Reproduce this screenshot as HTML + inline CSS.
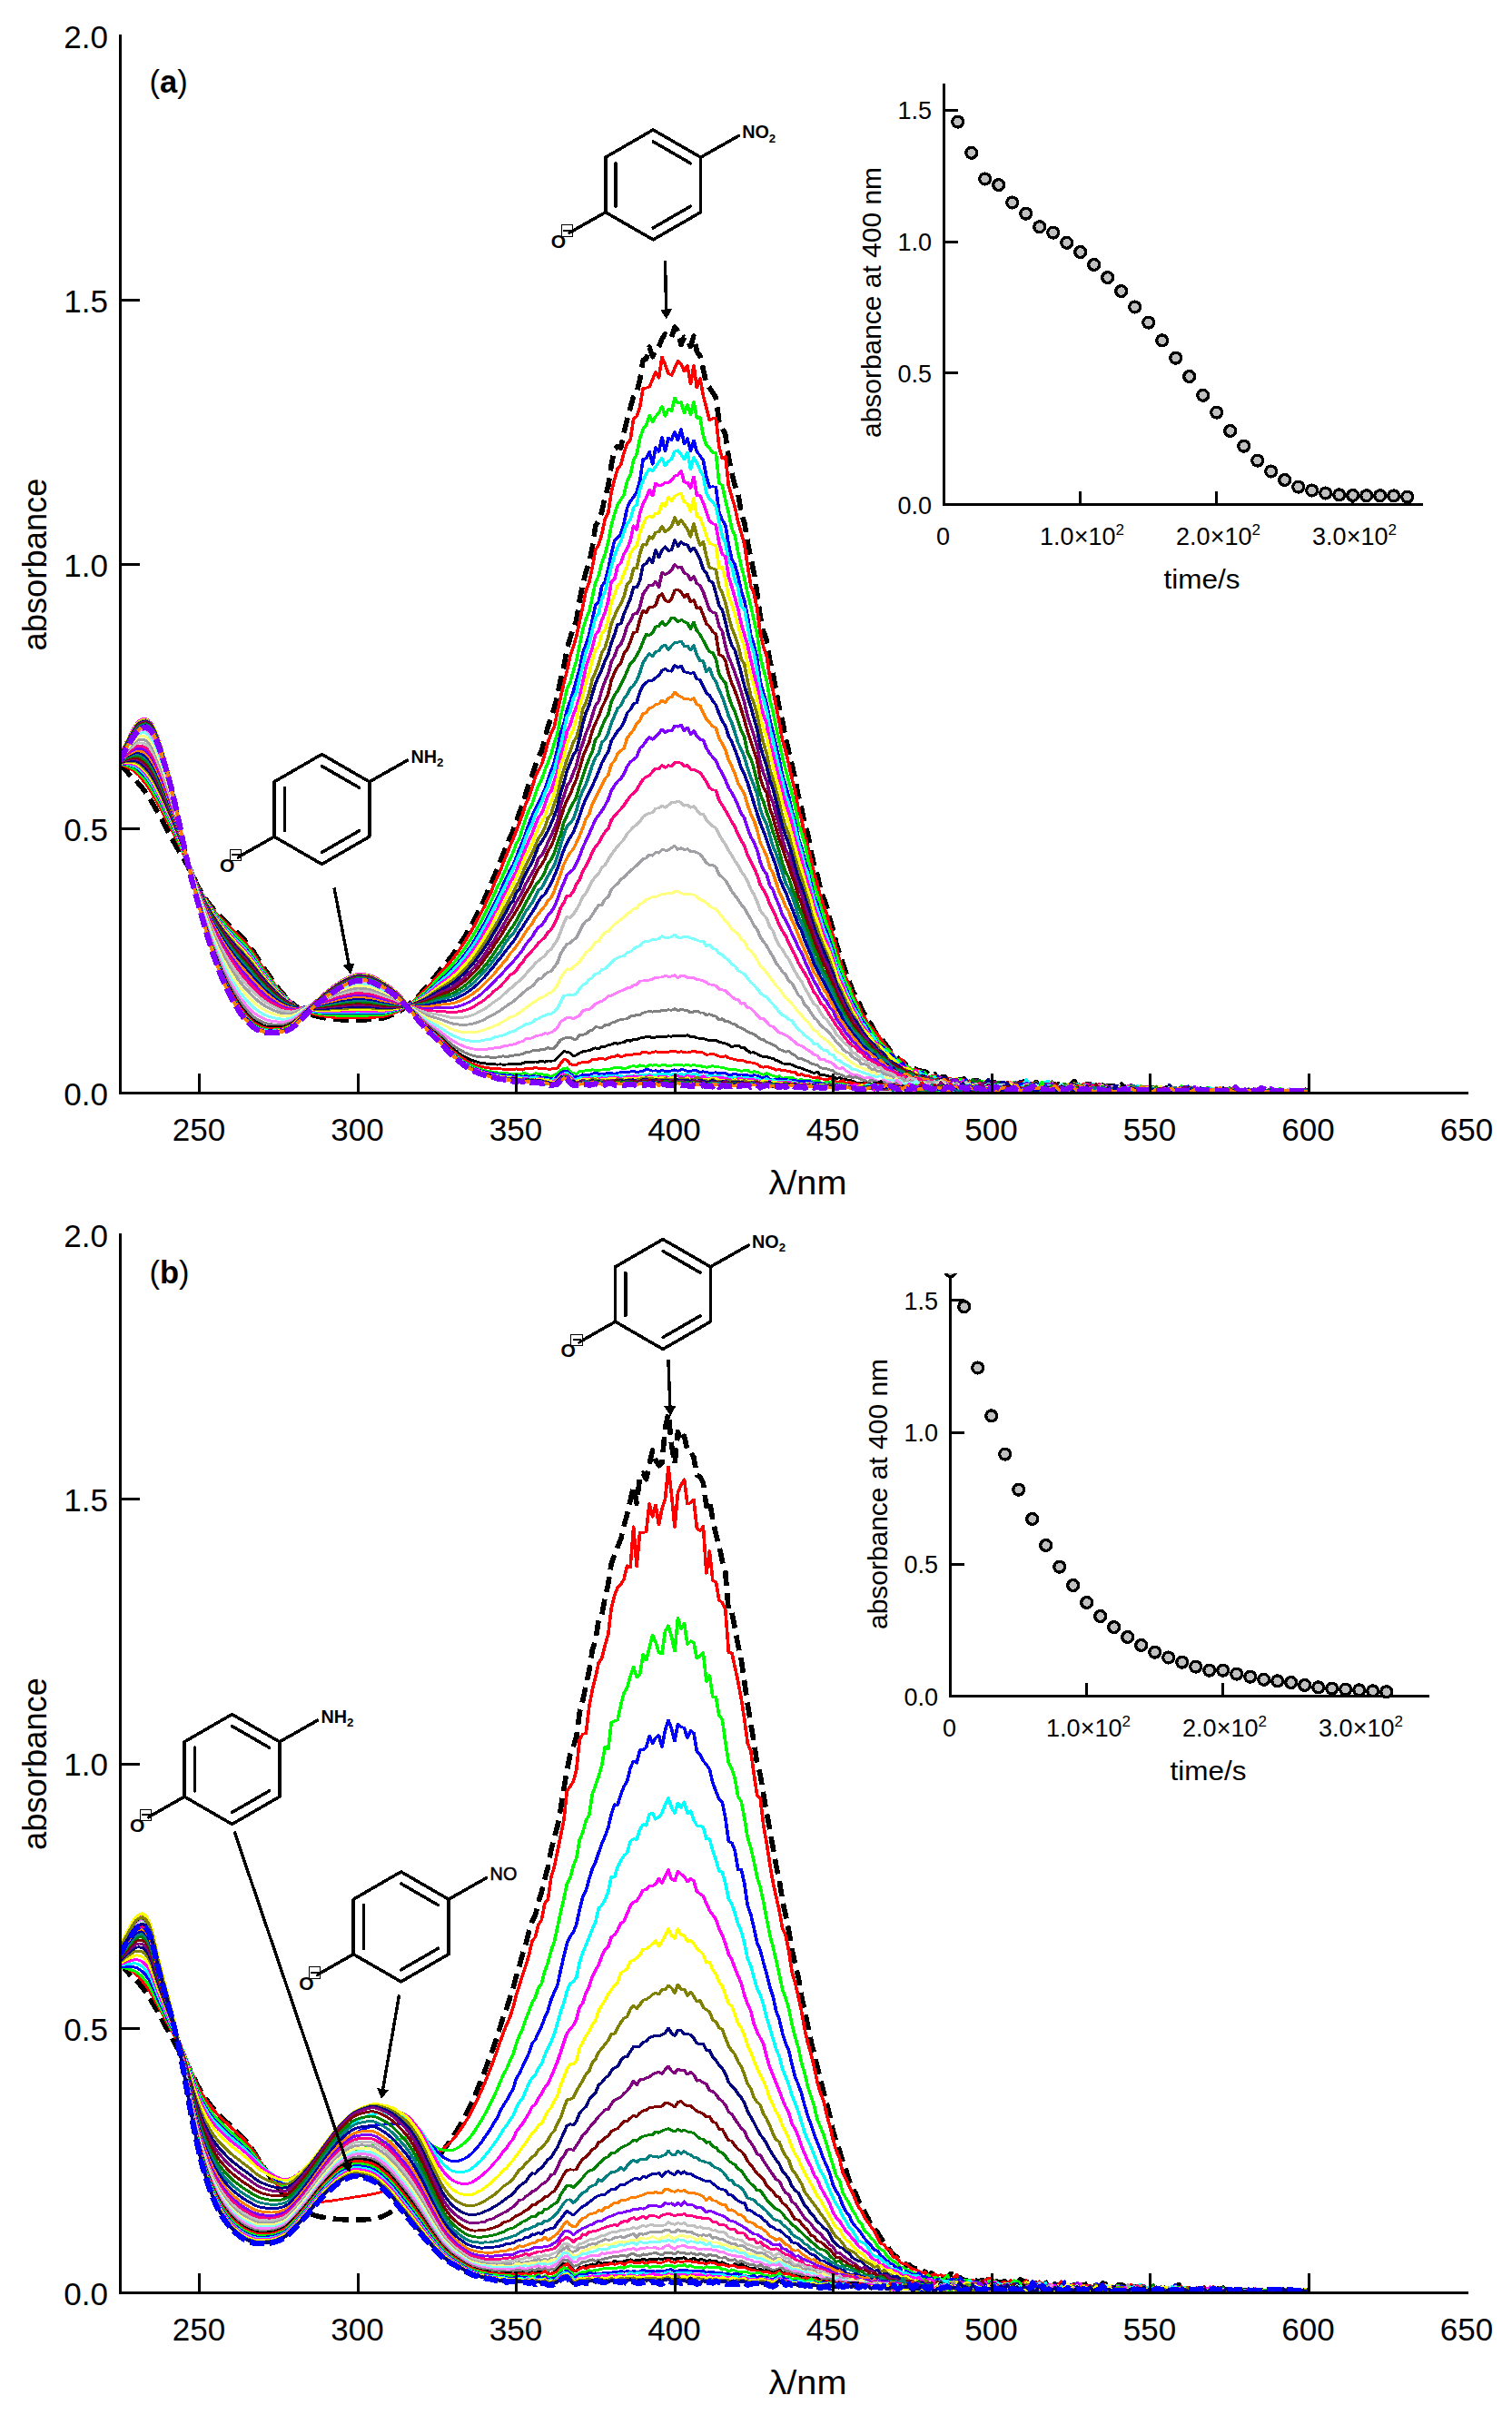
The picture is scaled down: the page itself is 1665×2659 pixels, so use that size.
<!DOCTYPE html>
<html lang="en"><head><meta charset="utf-8"><title>UV-vis spectra</title>
<style>html,body{margin:0;padding:0;background:#fff}svg{display:block}</style></head><body>
<svg width="1665" height="2659" viewBox="0 0 1665 2659">
<rect width="1665" height="2659" fill="#fff"/>
<clipPath id="cca"><rect x="134" y="39.5" width="1310" height="1162.5"/></clipPath>
<g fill="none" stroke-linejoin="round" shape-rendering="crispEdges" clip-path="url(#cca)">
<g>
<path stroke="#000000" stroke-width="5.6" stroke-dasharray="17 8" d="M132.2 842.7l3.5 2.1 3.5 4 3.5 4.4 3.5 3.5 3.5 2.9 3.5 3.7 3.5 4.4 3.5 4.6 3.5 5.1 3.5 5.6 3.4 6 3.5 6.1 3.5 6.3 3.5 6.6 3.5 6.5 3.5 6.5 3.5 6.3 3.5 6.5 3.5 5.4 3.4 5.9 3.5 6.2 3.5 6.2 3.5 6.5 3.5 8 3.5 6.8 3.5 5.8 3.5 5.3 3.5 4.8 3.5 4.4 3.5 4.2 3.4 3.8 3.5 3.4 3.5 3.2 3.5 3.3 3.5 3.4 3.5 3.3 3.5 3.3 3.5 3.4 3.5 3.6 3.4 4 3.5 4.4 3.5 5 3.5 5.4 3.5 5.5 3.5 5.5 3.5 5.2 3.5 5.1 3.5 5.1 3.5 5 3.5 4.6 3.4 4.1 3.5 3.8 3.5 3.6 3.5 3.4 3.5 3 3.5 2.7 3.5 2.1 3.5 1.9 3.5 1.6 3.4 1.5 3.5 1.3 3.5 1.1 3.5 0.8 3.5 0.7 3.5 0.6 3.5 0.6 3.5 0.4 3.5 0.4 3.5 0.2 3.5 0.2 3.4 0.1 3.5 0.2 3.5 0 3.5 0.1 3.5 0 3.5-0.1 3.5-0.2 3.5-0.2 3.5-0.2 3.4-0.4 3.5-0.3 3.5-0.4 3.5-0.6 3.5-1 3.5-1.3 3.5-1.4 3.5-1.6 3.5-1.8 3.5-2.1 3.5-2.5 3.4-2.8 3.5-2.9 3.5-3.1 3.5-3.4 3.5-3.7 3.5-3.8 3.5-4 3.5-4.2 3.5-4.4 3.4-4.4 3.5-4.3 3.5-4.2 3.5-4.1 3.5-4.2 3.5-4.6 3.5-4.9 3.5-5.3 3.5-5.3 3.5-5.8 3.5-6 3.4-6.1 3.5-6.7 3.5-6.9 3.5-6.7 3.5-7.8 3.5-8.1 3.5-8.6 3.5-7.3 3.5-9 3.4-8.6 3.5-8.8 3.5-8.1 3.5-8.9 3.5-7.4 3.5-10.4 3.5-9.8 3.5-8.8 3.5-12 3.5-11.1 3.5-8.8 3.4-10.3 3.5-9.7 3.5-7 3.5-12.7 3.5-13.8 3.5-11.1 3.5-9.8 3.5-13.8 3.5-17.7 3.4-13.8 3.5-19.3 3.5-12.2 3.5-10.7 3.5-9.1 3.5-22.3 3.5-17 3.5-14.2 3.5-10.1 3.5-16.9 3.5-23.5 3.4-5.3 3.5-9.8 3.5-16.5 3.5-11.6 3.5-23.3 3.5-17.8 3.5-3.1 3.5 1.8 3.5-17.1 3.5-13.9 3.4-13.4 3.5-12 3.5-4.2 3.5-14.1 3.5-22 3.5-1.1 3.5-13.3 3.5 10.6 3.5-8.1 3.5-3.2 3.4-8.4 3.5-4.9 3.5 4.2 3.5-0.8 3.5-11.3 3.5 4.3 3.5 15.2 3.5-8.5 3.5 3.2 3.4 7.1 3.5-11.3 3.5 16.9 3.5 4.7 3.5 14.8 3.5 15.7 3.5 4.7 3.5 5.4 3.5 5.5 3.5 26.6 3.5 7.1 3.4 6.7 3.5 25.3 3.5 17.3 3.5 13.9 3.5 8.7 3.5 21.5 3.5 10.8 3.5 21.4 3.5 17.3 3.4 15.9 3.5 22.4 3.5 26 3.5 16.2 3.5 9.6 3.5 22.9 3.5 14.3 3.5 19.3 3.5 19.3 3.5 13.6 3.5 19 3.4 14.6 3.5 14.1 3.5 15.7 3.5 18.8 3.5 13.4 3.5 17 3.5 12.4 3.5 18 3.5 16.2 3.4 10.3 3.5 15.1 3.5 10.3 3.5 9.8 3.5 13.6 3.5 11.5 3.5 15.5 3.5 10.3 3.5 10.3 3.5 10.7 3.5 9.3 3.4 10 3.5 6.4 3.5 6.6 3.5 8.2 3.5 6.3 3.5 7.4 3.5 3 3.5 7.1 3.5 5.1 3.4 3.2 3.5 4.1 3.5 4.6 3.5 5 3.5 3.3 3.5 3.5 3.5 4.9 3.5 0.4 3.5 3.9 3.5 0.6 3.5 3.2 3.4 0.4 3.5 1.9 3.5 0.3 3.5 0.5 3.5 2.8 3.5 2.3 3.5-2 3.5 5.3 3.5-1.8 3.4-0.9 3.5 2.7 3.5-1.8 3.5 4.4 3.5-0.2 3.5-2 3.5-0.3 3.5-0.3 3.5 2.7 3.5-0.6 3.5-0.5 3.4 0.9 3.5 4.3 3.5-1 3.5-4.9 3.5 6 3.5-3.3 3.5 2.2 3.5-2.8 3.5 4.3 3.4-2.2 3.5 4.8 3.5-4.2 3.5-2.5 3.5 5.7 3.5-5.7 3.5 4.1 3.5-1.1 3.5 5.8 3.5-8.6 3.5 4.9 3.4-1.2 3.5 2.5 3.5-1.1 3.5-4.1 3.5 3.8 3.5-2.1 3.5 0.8 3.5 0 3.5 1.7 3.4-2.1 3.5-4 3.5 3.8 3.5 0.5 3.5 2.4 3.5-3.5 3.5 0.1 3.5 5.4 3.5-0.6 3.5-6.4 3.5 3.6 3.4 0.7 3.5-0.6 3.5-0.3 3.5 0.3 3.5 2 3.5-3.7 3.5 3.2 3.5 1.8 3.5-1.1 3.4-0.6 3.5 1.7 3.5-0.9 3.5-0.3 3.5 4 3.5-2.4 3.5-2.9 3.5 1 3.5 1.9 3.5 0.3 3.5-1.8 3.4 1.7 3.5 0.5 3.5-3.6 3.5 3.5 3.5-2.3 3.5 1.7 3.5-0.5 3.5 2 3.5-0.8 3.5-1.8 3.4 2.8 3.5-1.2 3.5 1.4 3.5-1.6 3.5 0.9 3.5 1.2 3.5-3.2 3.5 2 3.5-1.3 3.5 1.9 3.4-1.8 3.5-2.1 3.5 3 3.5 1.5 3.5-1.4 3.5-0.2 3.5 1.4 3.5-0.3 3.5 0.2 3.4-1.2 3.5 1 3.5 0.5 3.5-2.1 3.5 1.8 3.5-2.9 3.5 3 3.5 0.2 3.5 0 3.5-0.6 3.5 0.5 3.4 0.1 3.5-1 3.5 1 3.5-1.8 3.5 1.2"/>
</g>
<g transform="scale(1.25 1)">
<path stroke="#ff0000" stroke-width="2.9" d="M105.8 842.3l2.8 0.7 2.8 1.2 2.8 1.8 2.8 2 2.8 2.5 2.8 3.4 2.7 4.1 2.8 4.4 2.8 4.9 2.8 5.5 2.8 6 2.8 6.2 2.8 6.4 2.8 6.7 2.8 6.7 2.8 6.7 2.8 6.6 2.8 6.8 2.7 7.1 2.8 7.7 2.8 7.9 2.8 7.9 2.8 8.1 2.8 8.1 2.8 7.1 2.8 6 2.8 5.5 2.8 5.1 2.8 4.7 2.8 4.3 2.8 4 2.7 3.6 2.8 3.4 2.8 3.4 2.8 3.5 2.8 3.5 2.8 3.4 2.8 3.4 2.8 3.7 2.8 3.9 2.8 4.4 2.8 4.9 2.8 5.3 2.7 5.4 2.8 5.3 2.8 5 2.8 4.9 2.8 4.9 2.8 4.8 2.8 4.4 2.8 4 2.8 3.6 2.8 3.4 2.8 3.2 2.8 2.9 2.8 2.4 2.7 2 2.8 1.6 2.8 1.5 2.8 1.3 2.8 1.2 2.8 0.9 2.8 0.7 2.8 0.6 2.8 0.5 2.8 0.5 2.8 0.4 2.8 0.2 2.7 0.2 2.8 0.1 2.8 0.2 2.8 0 2.8 0.1 2.8 0 2.8 0 2.8-0.1 2.8-0.1 2.8-0.1 2.8-0.2 2.8-0.2 2.8-0.3 2.7-0.3 2.8-0.5 2.8-0.8 2.8-1.1 2.8-1.3 2.8-1.4 2.8-1.5 2.8-1.9 2.8-2.3 2.8-2.5 2.8-2.6 2.8-2.9 2.7-3.1 2.8-3.3 2.8-3.5 2.8-3.6 2.8-4 2.8-4.1 2.8-4.1 2.8-4 2.8-3.8 2.8-3.8 2.8-3.9 2.8-4.2 2.8-4.6 2.7-4.9 2.8-5.1 2.8-5.4 2.8-5.6 2.8-5.9 2.8-6.4 2.8-6.4 2.8-7 2.8-6.7 2.8-7.7 2.8-7.3 2.8-9.1 2.7-6.9 2.8-8.3 2.8-9.1 2.8-8.3 2.8-9.2 2.8-7.5 2.8-9.2 2.8-9.3 2.8-9.3 2.8-11.2 2.8-7.5 2.8-10.7 2.8-11.4 2.7-6.9 2.8-6.7 2.8-11.3 2.8-13.3 2.8-9.7 2.8-7.6 2.8-16.7 2.8-15.6 2.8-15.2 2.8-13.9 2.8-16.2 2.8-10 2.7-11.9 2.8-16 2.8-16.8 2.8-17.1 2.8-9.3 2.8-16.8 2.8-19 2.8-5.6 2.8-12 2.8-16.5 2.8-6.6 2.8-23.2 2.8-13.6 2.7-11.9 2.8-4.4 2.8-13.3 2.8-9.7 2.8-4.3 2.8-23.4 2.8-2.7 2.8-9.8 2.8-20.8 2.8-0.6 2.8-1.4 2.8-7.8 2.7-8.5 2.8 6.7 2.8-23 2.8 8.4 2.8 9.8 2.8 2 2.8-8 2.8-7.8 2.8 3.2 2.8 8.2 2.8-6.3 2.8 20.1 2.8-20.3 2.7 24.6 2.8-10.5 2.8 19 2.8 13.6 2.8 13.8 2.8-2.1 2.8-0.6 2.8 32.2 2.8 12.4 2.8-2.1 2.8 32.3 2.8 11.9 2.7 11.4 2.8 16.5 2.8 11.8 2.8 12.4 2.8 23.7 2.8 22.2 2.8 8.6 2.8 16.8 2.8 27.4 2.8 14.4 2.8 10.3 2.8 23.5 2.8 14.8 2.7 16.6 2.8 17.8 2.8 19.9 2.8 11.6 2.8 15 2.8 16 2.8 13.7 2.8 19.5 2.8 11.1 2.8 17.9 2.8 12.9 2.8 14.6 2.7 14.8 2.8 11.1 2.8 14.4 2.8 10.3 2.8 8.5 2.8 13.4 2.8 10.9 2.8 13.2 2.8 12.9 2.8 10.8 2.8 9.3 2.8 7.8 2.8 9.8 2.7 5.8 2.8 7.1 2.8 8.6 2.8 4.4 2.8 7.1 2.8 3.4 2.8 4.7 2.8 2.9 2.8 5.5 2.8 5.6 2.8 3.8 2.8 4 2.7 4.9 2.8 4.1 2.8-0.6 2.8 1.7 2.8 6.2 2.8 1.8 2.8 2.6 2.8-0.3 2.8 1 2.8 4.2 2.8 0.2 2.8 2.3 2.8-0.7 2.7-0.2 2.8 0.1 2.8 2.7 2.8 2.4 2.8-2.9 2.8 0.2 2.8 3.2 2.8-0.8 2.8-0.1 2.8-1.1 2.8 2.4 2.8-0.8 2.7 0.7 2.8 2.6 2.8-2.9 2.8 1.9 2.8-1.5 2.8 3.9 2.8-0.6 2.8-1.5 2.8 4.3 2.8-3.2 2.8 1.3 2.8-0.7 2.8 0.2 2.7 4.1 2.8-5 2.8 0.4 2.8-2.2 2.8-0.7 2.8 2.6 2.8-1.1 2.8 6.3 2.8-5.3 2.8-1.7 2.8 1.5 2.8 0.9 2.7 1.5 2.8 0.4 2.8 0 2.8-2.2 2.8 0.8 2.8 1.3 2.8 2 2.8-5.9 2.8 5.2 2.8 3.8 2.8-7.3 2.8 0.1 2.8 2.3 2.7-1.8 2.8 1 2.8 2.3 2.8-1.1 2.8 2.5 2.8-0.9 2.8 1.1 2.8-2.1 2.8-1.4 2.8 3.2 2.8-2.3 2.8 4.7 2.7-2.4 2.8-2.5 2.8 0.6 2.8-0.5 2.8 0.3 2.8 4 2.8-1.6 2.8 2.7 2.8-3.1 2.8-0.7 2.8 1.4 2.8 1.8 2.8-2.5 2.7-0.2 2.8 0.6 2.8 1.4 2.8-1.9 2.8 0.7 2.8-0.7 2.8 0.1 2.8 0.3 2.8 2.8 2.8-1.9 2.8-0.1 2.8 0.6 2.7-1.3 2.8 2.5 2.8-2.9 2.8 0.9 2.8 0.6 2.8-0.3 2.8-0.8 2.8 1.3 2.8-1.5 2.8 0.9 2.8 1.1 2.8 0.1 2.8 0.7 2.7-0.5 2.8-0.3 2.8 0.9 2.8-2.6 2.8 1.7 2.8 0.9 2.8-0.8 2.8 0.4 2.8 0 2.8 0.4 2.8-0.3 2.8 0.3 2.7 0 2.8-1.2 2.8 1.2 2.8 0 2.8-1.2 2.8 1.2 2.8 0"/>
<path stroke="#00ff00" stroke-width="2.9" d="M105.8 841.9l2.8 0.2 2.8 0.8 2.8 1.3 2.8 1.6 2.8 2 2.8 3.1 2.7 3.7 2.8 4.1 2.8 4.7 2.8 5.3 2.8 6 2.8 6.2 2.8 6.6 2.8 6.9 2.8 7 2.8 7 2.8 7 2.8 7.2 2.7 7.5 2.8 8.2 2.8 8.3 2.8 8.2 2.8 8.4 2.8 8.3 2.8 7.3 2.8 6.3 2.8 5.9 2.8 5.4 2.8 4.9 2.8 4.7 2.8 4.2 2.7 3.8 2.8 3.7 2.8 3.6 2.8 3.7 2.8 3.5 2.8 3.6 2.8 3.5 2.8 3.7 2.8 3.9 2.8 4.3 2.8 4.8 2.8 5.1 2.7 5.2 2.8 5.1 2.8 4.8 2.8 4.7 2.8 4.7 2.8 4.5 2.8 4.2 2.8 3.8 2.8 3.3 2.8 3.2 2.8 3 2.8 2.6 2.8 2.2 2.7 1.7 2.8 1.4 2.8 1.2 2.8 1.2 2.8 0.9 2.8 0.8 2.8 0.5 2.8 0.5 2.8 0.4 2.8 0.3 2.8 0.3 2.8 0.2 2.7 0 2.8 0.1 2.8 0.1 2.8 0 2.8 0 2.8 0 2.8 0 2.8-0.1 2.8 0 2.8-0.1 2.8-0.1 2.8-0.1 2.8-0.2 2.7-0.1 2.8-0.4 2.8-0.7 2.8-0.9 2.8-1 2.8-1.2 2.8-1.2 2.8-1.6 2.8-2 2.8-2.1 2.8-2.3 2.8-2.4 2.7-2.7 2.8-2.9 2.8-3.1 2.8-3.3 2.8-3.5 2.8-3.7 2.8-3.7 2.8-3.6 2.8-3.4 2.8-3.4 2.8-3.5 2.8-3.8 2.8-4.2 2.7-4.5 2.8-4.7 2.8-5 2.8-5.2 2.8-5.3 2.8-5.9 2.8-6.3 2.8-6.3 2.8-6.6 2.8-7.4 2.8-7.6 2.8-7 2.7-8.2 2.8-6.4 2.8-8.3 2.8-7.9 2.8-8.5 2.8-7.6 2.8-9.1 2.8-6 2.8-11.8 2.8-10.3 2.8-9.7 2.8-6.2 2.8-10.7 2.7-9.6 2.8-6.5 2.8-10.1 2.8-8.6 2.8-9 2.8-12.4 2.8-10.6 2.8-19.1 2.8-14.1 2.8-16.1 2.8-7 2.8-12.9 2.7-10.8 2.8-17.2 2.8-17.3 2.8-11.5 2.8-8.4 2.8-15.7 2.8-16.3 2.8-7.4 2.8-14 2.8-9.8 2.8-13.3 2.8-18.3 2.8-12.8 2.7-9.9 2.8-5.7 2.8-5.4 2.8-14.9 2.8-6.7 2.8-16.3 2.8-6.4 2.8-17.6 2.8-10.4 2.8-4.3 2.8-10.8 2.8 7.5 2.7-6.3 2.8-3.9 2.8-7.2 2.8 10.8 2.8-7.9 2.8 2.4 2.8-14.5 2.8 5.8 2.8-1.1 2.8 12 2.8-9.1 2.8 11 2.8-14 2.7 17.4 2.8-0.4 2.8 19.7 2.8 10.6 2.8 3.5 2.8 4.6 2.8 0.5 2.8 33.1 2.8 2.6 2.8 16.1 2.8 14.9 2.8 16.7 2.7 7.5 2.8 18.4 2.8 15.2 2.8 13.6 2.8 16.5 2.8 14.3 2.8 15 2.8 15.5 2.8 25.5 2.8 13.8 2.8 11.6 2.8 22.1 2.8 12.2 2.7 17.4 2.8 16.7 2.8 16.3 2.8 13.8 2.8 13.3 2.8 12.8 2.8 14.6 2.8 18.9 2.8 9.9 2.8 11.3 2.8 17.2 2.8 14.8 2.7 13.9 2.8 10.5 2.8 13.1 2.8 9.8 2.8 11 2.8 9.2 2.8 11.5 2.8 13.3 2.8 10.1 2.8 9.4 2.8 10.3 2.8 5.7 2.8 10 2.7 6.2 2.8 7.8 2.8 8.2 2.8 4.5 2.8 4.4 2.8 5.7 2.8 4.7 2.8 5.1 2.8 4.3 2.8 3.2 2.8 3 2.8 3.5 2.7 3.6 2.8 3.9 2.8 2.3 2.8 2.6 2.8 2.4 2.8 2.2 2.8 1.6 2.8 3.2 2.8 1.3 2.8-2 2.8 1.1 2.8 8 2.8-3.8 2.7 0.8 2.8-0.2 2.8 5.9 2.8 0.1 2.8-2.3 2.8-0.8 2.8 3.8 2.8-4.4 2.8 0.5 2.8 0.7 2.8 0.4 2.8 4.1 2.7-2 2.8 4.8 2.8-6.4 2.8 0.3 2.8 2.1 2.8 2.1 2.8-1.8 2.8-1.2 2.8 4.5 2.8-2.9 2.8-0.4 2.8 2.5 2.8 0.1 2.7-3.7 2.8 0.6 2.8-0.9 2.8 2.2 2.8 2.7 2.8-1.6 2.8 1.2 2.8-1.3 2.8-0.7 2.8-2.6 2.8 3.7 2.8-3.9 2.7 6.7 2.8-1.9 2.8 0.4 2.8 2.7 2.8 0.1 2.8-2.5 2.8-1.1 2.8-0.5 2.8 0.7 2.8 1 2.8 2.5 2.8-3.4 2.8-2.1 2.7 1.9 2.8 2 2.8-1.6 2.8 0.1 2.8-1.3 2.8 3.3 2.8-1.2 2.8-0.3 2.8 1.7 2.8-0.2 2.8 0.2 2.8-0.5 2.7-0.9 2.8 2.6 2.8-0.5 2.8-3.3 2.8 3 2.8 2.5 2.8-5 2.8 2.5 2.8-0.3 2.8-0.6 2.8 1.9 2.8 1.8 2.8-0.8 2.7-1.5 2.8 0.3 2.8 0.7 2.8-4.4 2.8 3.5 2.8-1.5 2.8-0.9 2.8 2.1 2.8 1.8 2.8-0.7 2.8 0.2 2.8-2.8 2.7 0.7 2.8 2.9 2.8 0.3 2.8-2.1 2.8-1.1 2.8 3.5 2.8-3.5 2.8 2 2.8 0.1 2.8 0.7 2.8 1 2.8-0.4 2.8-2.5 2.7 2.9 2.8-0.2 2.8-0.8 2.8 1 2.8-0.5 2.8 0.5 2.8-2 2.8 0.8 2.8 1.2 2.8-1.9 2.8 1.9 2.8 0 2.7 0 2.8-1.3 2.8 1.3 2.8 0 2.8-0.7 2.8-0.6 2.8 1.1"/>
<path stroke="#0000ff" stroke-width="2.9" d="M105.8 841.4l2.8-0.1 2.8 0.4 2.8 0.8 2.8 1.2 2.8 1.6 2.8 2.7 2.7 3.4 2.8 3.8 2.8 4.5 2.8 5.2 2.8 5.9 2.8 6.4 2.8 6.7 2.8 7.1 2.8 7.2 2.8 7.3 2.8 7.4 2.8 7.6 2.7 8 2.8 8.5 2.8 8.8 2.8 8.5 2.8 8.6 2.8 8.5 2.8 7.6 2.8 6.6 2.8 6.1 2.8 5.7 2.8 5.3 2.8 4.8 2.8 4.5 2.7 4.1 2.8 3.9 2.8 3.7 2.8 3.8 2.8 3.8 2.8 3.6 2.8 3.6 2.8 3.7 2.8 3.9 2.8 4.3 2.8 4.7 2.8 5 2.7 5 2.8 4.9 2.8 4.6 2.8 4.4 2.8 4.5 2.8 4.3 2.8 4 2.8 3.5 2.8 3.2 2.8 2.9 2.8 2.8 2.8 2.3 2.8 2 2.7 1.4 2.8 1.2 2.8 1 2.8 1 2.8 0.7 2.8 0.6 2.8 0.5 2.8 0.3 2.8 0.2 2.8 0.3 2.8 0.1 2.8 0.1 2.7 0 2.8 0 2.8 0 2.8 0 2.8-0.1 2.8 0 2.8 0 2.8 0 2.8-0.1 2.8 0 2.8-0.1 2.8 0 2.8 0 2.7 0 2.8-0.2 2.8-0.5 2.8-0.8 2.8-0.8 2.8-1 2.8-0.9 2.8-1.4 2.8-1.6 2.8-1.8 2.8-1.9 2.8-2.1 2.7-2.3 2.8-2.6 2.8-2.7 2.8-2.9 2.8-3.2 2.8-3.3 2.8-3.3 2.8-3.2 2.8-3.1 2.8-3 2.8-3.1 2.8-3.4 2.8-3.7 2.7-4.2 2.8-4.3 2.8-4.5 2.8-4.8 2.8-4.9 2.8-5.6 2.8-5.9 2.8-6.2 2.8-5.8 2.8-7.1 2.8-6.5 2.8-7.2 2.7-7.1 2.8-7 2.8-8.4 2.8-7.2 2.8-7.9 2.8-5.6 2.8-8.7 2.8-8.9 2.8-8.5 2.8-9.1 2.8-10.2 2.8-8.7 2.8-7.6 2.7-7.2 2.8-6.8 2.8-7.6 2.8-10.3 2.8-10.2 2.8-9.6 2.8-14.2 2.8-18.6 2.8-9.4 2.8-15.3 2.8-9.5 2.8-11.3 2.7-11.7 2.8-12.8 2.8-17.9 2.8-8.6 2.8-10.9 2.8-16.7 2.8-16.1 2.8-3.4 2.8-17.5 2.8-5.2 2.8-13.1 2.8-17.6 2.8-14.4 2.7-2.9 2.8-4.2 2.8-11.9 2.8-16.7 2.8-7.4 2.8-4.6 2.8-5.4 2.8-12.5 2.8-23.8 2.8-0.8 2.8-7.4 2.8 13.8 2.7-18.9 2.8 5 2.8-16 2.8 15.1 2.8-14.2 2.8 2.2 2.8-9.1 2.8 9.6 2.8-12.5 2.8 16.3 2.8-5.8 2.8 13.7 2.8-11.7 2.7 12.6 2.8 4.2 2.8 5.1 2.8 17.7 2.8 11.8 2.8-0.5 2.8 0.5 2.8 28.3 2.8 7.9 2.8 5.9 2.8 21.4 2.8 15.7 2.7 6.3 2.8 12.3 2.8 16.7 2.8 10.7 2.8 16.8 2.8 21.1 2.8 10.3 2.8 15.5 2.8 25.5 2.8 12.2 2.8 11.6 2.8 17.7 2.8 14.2 2.7 14.6 2.8 15 2.8 17.3 2.8 11.6 2.8 11.9 2.8 15.8 2.8 12.8 2.8 16.9 2.8 10.4 2.8 14.2 2.8 11 2.8 15.3 2.7 13.7 2.8 8.3 2.8 13.4 2.8 10.4 2.8 7.4 2.8 10.6 2.8 11.1 2.8 14.4 2.8 8.1 2.8 9.6 2.8 7.3 2.8 9.1 2.8 7.2 2.7 5.5 2.8 7.1 2.8 6.6 2.8 4.4 2.8 5.3 2.8 7.4 2.8 1.1 2.8 8.1 2.8 1.9 2.8 2.2 2.8 7.3 2.8-0.2 2.7 1.8 2.8 5.9 2.8 5 2.8-2.9 2.8 6.9 2.8 2.4 2.8 1.8 2.8 1.1 2.8 1.5 2.8-4 2.8 6 2.8 3.2 2.8 0.6 2.7-1.3 2.8-3.6 2.8 6.1 2.8-1.5 2.8-1.7 2.8 2.4 2.8 1.1 2.8 0.5 2.8-1.3 2.8 2.3 2.8-3.9 2.8 6.7 2.7-5.6 2.8 0 2.8 2.6 2.8 1.4 2.8-2.8 2.8 3.8 2.8-1.1 2.8 2 2.8-2.4 2.8 2.5 2.8 0.1 2.8-3.4 2.8 2 2.7-0.6 2.8-3.1 2.8 7.8 2.8-3 2.8-1.1 2.8-2.7 2.8 5.3 2.8-2.6 2.8-0.5 2.8 2.8 2.8-0.3 2.8-1.4 2.7 1.3 2.8-1.8 2.8 0.1 2.8 1.2 2.8-1.1 2.8 0.5 2.8 0.6 2.8 1.5 2.8-4.5 2.8 5.5 2.8-2.1 2.8-1.8 2.8 7 2.7-3.8 2.8 2.3 2.8-3.2 2.8-0.9 2.8 2.5 2.8-1.3 2.8-0.4 2.8 2.2 2.8-0.6 2.8 1.5 2.8-3 2.8 1.6 2.7-3.5 2.8 0.6 2.8 5.5 2.8-3.1 2.8 0.5 2.8-0.4 2.8-0.1 2.8 0.8 2.8-1.6 2.8 0.5 2.8 0.8 2.8 2.4 2.8-3 2.7 3.8 2.8-3.6 2.8 0.8 2.8 1.3 2.8-1.2 2.8-3.2 2.8 4 2.8 0.3 2.8 0 2.8-1.2 2.8-0.8 2.8 2.1 2.7-1.9 2.8 2.3 2.8-1.6 2.8 0.8 2.8 2 2.8-1.7 2.8-1.3 2.8 2.1 2.8 1 2.8-0.1 2.8-0.6 2.8-0.9 2.8 0.8 2.7-0.7 2.8 1.5 2.8 0 2.8-1.5 2.8 1.3 2.8-1.3 2.8-1 2.8 2.5 2.8 0 2.8-0.6 2.8-0.9 2.8 1.3 2.7 0.1 2.8-1.7 2.8 1.3 2.8 0.5 2.8 0 2.8 0 2.8-0.3"/>
<path stroke="#00ffff" stroke-width="2.9" d="M105.8 841.3l2.8-0.4 2.8 0.2 2.8 0.7 2.8 1 2.8 1.5 2.8 2.5 2.7 3.3 2.8 3.7 2.8 4.4 2.8 5.2 2.8 5.9 2.8 6.4 2.8 6.8 2.8 7.1 2.8 7.3 2.8 7.4 2.8 7.6 2.8 7.8 2.7 8.1 2.8 8.7 2.8 8.9 2.8 8.7 2.8 8.7 2.8 8.6 2.8 7.6 2.8 6.8 2.8 6.2 2.8 5.8 2.8 5.4 2.8 5 2.8 4.6 2.7 4.1 2.8 4 2.8 3.8 2.8 3.9 2.8 3.8 2.8 3.6 2.8 3.7 2.8 3.7 2.8 3.9 2.8 4.3 2.8 4.7 2.8 4.9 2.7 4.9 2.8 4.8 2.8 4.5 2.8 4.4 2.8 4.3 2.8 4.2 2.8 4 2.8 3.4 2.8 3.1 2.8 2.9 2.8 2.6 2.8 2.3 2.8 1.8 2.7 1.4 2.8 1 2.8 1 2.8 0.8 2.8 0.7 2.8 0.6 2.8 0.3 2.8 0.3 2.8 0.2 2.8 0.2 2.8 0.1 2.8 0 2.7 0 2.8-0.1 2.8 0 2.8 0 2.8-0.1 2.8-0.1 2.8 0 2.8 0 2.8 0 2.8 0 2.8 0 2.8 0 2.8 0.1 2.7 0 2.8-0.2 2.8-0.4 2.8-0.7 2.8-0.8 2.8-0.8 2.8-0.9 2.8-1.2 2.8-1.5 2.8-1.7 2.8-1.8 2.8-1.9 2.7-2.2 2.8-2.4 2.8-2.5 2.8-2.8 2.8-3 2.8-3.2 2.8-3.1 2.8-3.1 2.8-2.9 2.8-2.8 2.8-3 2.8-3.3 2.8-3.6 2.7-3.9 2.8-4.2 2.8-4.3 2.8-4.8 2.8-4.9 2.8-5.1 2.8-5.5 2.8-6 2.8-6.1 2.8-6.2 2.8-7 2.8-6.9 2.7-6.9 2.8-6.8 2.8-7.5 2.8-7.4 2.8-8 2.8-6.2 2.8-8.4 2.8-8.1 2.8-7.9 2.8-10.8 2.8-8.2 2.8-6.7 2.8-10.3 2.7-7.2 2.8-6.2 2.8-9.9 2.8-7 2.8-10.7 2.8-8.2 2.8-13.5 2.8-12.4 2.8-16.7 2.8-16 2.8-5.6 2.8-14.7 2.7-6.2 2.8-15.4 2.8-14.3 2.8-14.8 2.8-8.9 2.8-15.1 2.8-13.9 2.8-4.8 2.8-15.6 2.8-8.5 2.8-14.1 2.8-14 2.8-11.2 2.7-9.5 2.8-6.4 2.8-10.7 2.8-9.1 2.8-4 2.8-13.5 2.8-2.9 2.8-17.1 2.8-9.4 2.8-7.5 2.8-5.8 2.8 2.4 2.7-4.7 2.8-4.9 2.8-4.6 2.8 8.6 2.8-4.9 2.8-2.4 2.8-8.5 2.8-1.2 2.8 4.4 2.8 5.6 2.8-7.9 2.8 18.7 2.8-12.9 2.7 5.8 2.8 7.8 2.8 6.8 2.8 18.5 2.8 6.7 2.8 3.1 2.8 5.3 2.8 16.3 2.8 16.1 2.8 7.9 2.8 19.8 2.8 5.1 2.7 15.9 2.8 8 2.8 21.2 2.8 2.1 2.8 19 2.8 19.2 2.8 10.5 2.8 20.7 2.8 20.6 2.8 9.4 2.8 13.4 2.8 19.4 2.8 12.7 2.7 16 2.8 15.6 2.8 12.5 2.8 15.8 2.8 10.3 2.8 12 2.8 13.5 2.8 15.8 2.8 11.7 2.8 15.6 2.8 7.7 2.8 16.9 2.7 12 2.8 11 2.8 10.5 2.8 11 2.8 8.7 2.8 9.6 2.8 10.9 2.8 11.5 2.8 9.2 2.8 8.4 2.8 9.2 2.8 8.1 2.8 8.8 2.7 5.2 2.8 5 2.8 8.8 2.8 2.7 2.8 7.4 2.8 2.8 2.8 3.7 2.8 6 2.8 4.1 2.8 2.3 2.8 3.3 2.8 5.6 2.7 1.1 2.8 2.9 2.8 4.7 2.8 3.1 2.8 0.1 2.8 2.4 2.8 3.7 2.8 1.1 2.8-3.9 2.8 3 2.8 1.1 2.8 4.2 2.8-0.9 2.7-1.3 2.8 4.6 2.8-0.7 2.8 0.4 2.8 0.6 2.8-2.1 2.8 4 2.8-1.7 2.8 0 2.8-0.1 2.8 0.9 2.8 3.3 2.7-0.1 2.8 1.3 2.8-3.7 2.8-0.1 2.8 0.6 2.8-3 2.8 4.1 2.8-2.2 2.8 1.9 2.8-1.3 2.8 3.9 2.8-1.9 2.8 2 2.7 0.6 2.8 1.9 2.8-6.2 2.8 1.2 2.8-5.1 2.8 6.1 2.8-0.6 2.8 2.4 2.8-3.7 2.8 3.1 2.8-4.6 2.8-1.2 2.7 9.2 2.8-2.1 2.8 2 2.8-2.4 2.8 1.9 2.8-3.2 2.8-2.1 2.8 2.4 2.8-2.5 2.8 2.1 2.8-0.6 2.8-1.6 2.8 5.2 2.7-5 2.8 4.7 2.8 0.1 2.8-2.7 2.8 3.3 2.8 0.4 2.8-2.6 2.8 1.6 2.8 0.7 2.8 0.5 2.8-0.1 2.8-1.7 2.7 0.1 2.8 1 2.8-3.3 2.8 1.8 2.8 3.7 2.8-3 2.8 1.8 2.8-0.4 2.8-3.6 2.8 1 2.8 2 2.8-0.4 2.8 3.6 2.7-3.4 2.8-0.1 2.8 2.5 2.8 0.5 2.8-2.6 2.8 0 2.8 1.2 2.8-0.8 2.8 1 2.8-1.7 2.8 0 2.8 2.1 2.7-2.7 2.8 3.6 2.8 0.1 2.8-0.9 2.8-1 2.8 0.7 2.8-0.1 2.8 1.6 2.8-2.8 2.8 2 2.8 0.3 2.8 0.5 2.8-3.4 2.7 3.4 2.8 0 2.8-1.8 2.8 0.8 2.8-0.8 2.8 0.9 2.8 0.9 2.8-0.1 2.8-2.8 2.8 2 2.8 0.1 2.8-0.2 2.7-0.5 2.8 0.7 2.8 0.1 2.8 0.6 2.8-0.6 2.8 0.3 2.8-0.8"/>
<path stroke="#ff00ff" stroke-width="2.9" d="M105.8 841l2.8-0.7 2.8 0 2.8 0.4 2.8 0.7 2.8 1.2 2.8 2.3 2.7 3.1 2.8 3.5 2.8 4.2 2.8 5.1 2.8 5.9 2.8 6.6 2.8 6.8 2.8 7.3 2.8 7.5 2.8 7.5 2.8 7.9 2.8 8 2.7 8.5 2.8 9 2.8 9.1 2.8 8.9 2.8 8.8 2.8 8.8 2.8 7.8 2.8 6.9 2.8 6.5 2.8 6 2.8 5.6 2.8 5.1 2.8 4.8 2.7 4.3 2.8 4.1 2.8 4 2.8 3.9 2.8 3.9 2.8 3.7 2.8 3.7 2.8 3.8 2.8 3.9 2.8 4.2 2.8 4.7 2.8 4.7 2.7 4.8 2.8 4.7 2.8 4.4 2.8 4.2 2.8 4.2 2.8 4 2.8 3.8 2.8 3.4 2.8 2.9 2.8 2.7 2.8 2.5 2.8 2.1 2.8 1.7 2.7 1.1 2.8 0.9 2.8 0.9 2.8 0.7 2.8 0.6 2.8 0.4 2.8 0.2 2.8 0.2 2.8 0.1 2.8 0.1 2.8 0 2.8 0 2.7-0.1 2.8-0.1 2.8-0.1 2.8-0.1 2.8 0 2.8-0.1 2.8-0.1 2.8 0.1 2.8 0 2.8 0 2.8 0 2.8 0.1 2.8 0.1 2.7 0.1 2.8 0 2.8-0.4 2.8-0.5 2.8-0.6 2.8-0.7 2.8-0.7 2.8-1.1 2.8-1.3 2.8-1.5 2.8-1.5 2.8-1.7 2.7-1.9 2.8-2.2 2.8-2.3 2.8-2.5 2.8-2.8 2.8-2.9 2.8-2.9 2.8-2.8 2.8-2.7 2.8-2.5 2.8-2.7 2.8-3.1 2.8-3.3 2.7-3.7 2.8-3.9 2.8-4.1 2.8-4.4 2.8-4.7 2.8-5 2.8-5.2 2.8-5.6 2.8-6.3 2.8-6 2.8-6.3 2.8-6.2 2.7-5.7 2.8-7.8 2.8-8.2 2.8-4.8 2.8-8.8 2.8-6 2.8-6.6 2.8-9.7 2.8-7.6 2.8-8.7 2.8-8.6 2.8-6.9 2.8-9.7 2.7-8.3 2.8-4.2 2.8-9.1 2.8-11.1 2.8-4.5 2.8-11.2 2.8-10.7 2.8-17.4 2.8-9.7 2.8-16.8 2.8-7.2 2.8-11.3 2.7-8.2 2.8-11.3 2.8-16.2 2.8-16.6 2.8-10.3 2.8-11.2 2.8-14 2.8-4.4 2.8-11.8 2.8-8.5 2.8-12.6 2.8-21.6 2.8-2.2 2.7-14.7 2.8-3.4 2.8-9.8 2.8-6.1 2.8-8.4 2.8-16.6 2.8 4.5 2.8-17.9 2.8-11.1 2.8-5.9 2.8-9.2 2.8 6.6 2.7-13.9 2.8 2.8 2.8-0.8 2.8-2.6 2.8 0.1 2.8-2.5 2.8-5 2.8-0.8 2.8-4.6 2.8 12.4 2.8 0.2 2.8 6.1 2.8-12.3 2.7 20.4 2.8 0.4 2.8 7.7 2.8 9.9 2.8 10.5 2.8 2.6 2.8 1.5 2.8 20.2 2.8 12.1 2.8 2.6 2.8 21.8 2.8 11.5 2.7 11.7 2.8 12.6 2.8 16.6 2.8 11.3 2.8 12.1 2.8 16 2.8 14.8 2.8 13.7 2.8 19.3 2.8 12.9 2.8 9.6 2.8 21.7 2.8 10.9 2.7 14.9 2.8 12.8 2.8 15.2 2.8 11.6 2.8 10.9 2.8 13 2.8 16.3 2.8 11.2 2.8 11.6 2.8 14 2.8 11.7 2.8 11.7 2.7 13.7 2.8 9.8 2.8 11.3 2.8 9.9 2.8 7.9 2.8 10.3 2.8 9.1 2.8 14.4 2.8 8 2.8 5.7 2.8 10.8 2.8 6.9 2.8 7.3 2.7 6.2 2.8 5.5 2.8 8.1 2.8 3.4 2.8 4.7 2.8 6.6 2.8 3.2 2.8 1.8 2.8 5.2 2.8 3.6 2.8 2.5 2.8 4.2 2.7 5.6 2.8 0.2 2.8 2.4 2.8 2.1 2.8 0.5 2.8 2.9 2.8 3.7 2.8-3.7 2.8 5.6 2.8 3 2.8-0.8 2.8 3.1 2.8-0.1 2.7-0.8 2.8 2.6 2.8-4.4 2.8 2.6 2.8 1.7 2.8 0.1 2.8 0.5 2.8 0.1 2.8 1.8 2.8-3.2 2.8 5.9 2.8-4.1 2.7-0.3 2.8 0.3 2.8-0.9 2.8 4.4 2.8-2.7 2.8 4.7 2.8-1.6 2.8 1.3 2.8-4.1 2.8 6.3 2.8-6.1 2.8 1.3 2.8 1.8 2.7 1.6 2.8-2.5 2.8-5.1 2.8 9.4 2.8-3.3 2.8-2 2.8 0.4 2.8-0.5 2.8 2.5 2.8-1.4 2.8 3.2 2.8-4.9 2.7 3.7 2.8 0.3 2.8-2 2.8 0.6 2.8-1.3 2.8 3 2.8 0.1 2.8-0.7 2.8 0.1 2.8 0.4 2.8-1 2.8-0.6 2.8 1.4 2.7-1.7 2.8 0.4 2.8-0.9 2.8 2.5 2.8 0.4 2.8-0.5 2.8-2.6 2.8 0.3 2.8 2.4 2.8 2 2.8-3 2.8-1 2.7-1.2 2.8 2.1 2.8 4.4 2.8-0.8 2.8-0.3 2.8-3.3 2.8 2.9 2.8-1.8 2.8 3.5 2.8-3.7 2.8 1 2.8 2.8 2.8-1.2 2.7 0.4 2.8-1.1 2.8 1.2 2.8-0.3 2.8-0.1 2.8 0.1 2.8-0.8 2.8 0.4 2.8 1.7 2.8-0.6 2.8 0.3 2.8-1.1 2.7-0.2 2.8 1.9 2.8-0.5 2.8-0.9 2.8-0.8 2.8-0.1 2.8 0.5 2.8-0.9 2.8-0.8 2.8 1.7 2.8-1.1 2.8 2.9 2.8-1.7 2.7 1.7 2.8-0.1 2.8 0.1 2.8 0 2.8-1.1 2.8 1.1 2.8-1.2 2.8 1.2 2.8-2.8 2.8 2.2 2.8 0.6 2.8 0 2.7 0 2.8 0 2.8-0.5 2.8 0.5 2.8 0 2.8-1.2 2.8 1.1"/>
<path stroke="#ffff00" stroke-width="2.9" d="M105.8 840.7l2.8-0.9 2.8-0.3 2.8 0.1 2.8 0.5 2.8 1 2.8 2 2.7 2.9 2.8 3.3 2.8 4.2 2.8 5 2.8 5.9 2.8 6.6 2.8 7 2.8 7.3 2.8 7.7 2.8 7.7 2.8 8.1 2.8 8.3 2.7 8.7 2.8 9.3 2.8 9.4 2.8 9 2.8 9 2.8 8.9 2.8 8 2.8 7.1 2.8 6.7 2.8 6.2 2.8 5.7 2.8 5.3 2.8 4.9 2.7 4.5 2.8 4.2 2.8 4.1 2.8 4.1 2.8 3.9 2.8 3.8 2.8 3.8 2.8 3.7 2.8 3.9 2.8 4.3 2.8 4.5 2.8 4.7 2.7 4.7 2.8 4.5 2.8 4.3 2.8 4.1 2.8 4 2.8 3.9 2.8 3.7 2.8 3.2 2.8 2.8 2.8 2.6 2.8 2.3 2.8 2 2.8 1.4 2.7 1.1 2.8 0.7 2.8 0.7 2.8 0.6 2.8 0.5 2.8 0.3 2.8 0.1 2.8 0.1 2.8 0 2.8 0 2.8 0 2.8-0.1 2.7-0.2 2.8-0.1 2.8-0.1 2.8-0.1 2.8-0.2 2.8-0.1 2.8 0 2.8 0 2.8 0.1 2.8 0 2.8 0.1 2.8 0.1 2.8 0.2 2.7 0.2 2.8 0 2.8-0.2 2.8-0.4 2.8-0.5 2.8-0.6 2.8-0.6 2.8-0.8 2.8-1.2 2.8-1.2 2.8-1.4 2.8-1.4 2.7-1.7 2.8-1.9 2.8-2.1 2.8-2.3 2.8-2.6 2.8-2.6 2.8-2.7 2.8-2.6 2.8-2.4 2.8-2.4 2.8-2.5 2.8-2.7 2.8-3.2 2.7-3.4 2.8-3.7 2.8-3.8 2.8-4.2 2.8-4.4 2.8-4.7 2.8-5.1 2.8-5.3 2.8-5.9 2.8-5.6 2.8-5.7 2.8-7.1 2.7-6.9 2.8-5.6 2.8-6.4 2.8-6.8 2.8-7.9 2.8-5.9 2.8-7.4 2.8-7.3 2.8-8.3 2.8-9 2.8-6.2 2.8-6.2 2.8-10.2 2.7-7.6 2.8-6.8 2.8-5.8 2.8-9.6 2.8-6.6 2.8-9.7 2.8-14 2.8-16.8 2.8-8.9 2.8-14.7 2.8-8.8 2.8-7 2.7-10.8 2.8-15.3 2.8-10.4 2.8-15.4 2.8-10.8 2.8-13.3 2.8-11.8 2.8-3.9 2.8-14.2 2.8-3.1 2.8-11.7 2.8-19.3 2.8-8.5 2.7-9.3 2.8-4 2.8-9.8 2.8-7.9 2.8-13.8 2.8-5.8 2.8-2.8 2.8-14 2.8-9.5 2.8-7.3 2.8-1.8 2.8 1.6 2.7-4.8 2.8-0.1 2.8-11 2.8 3.3 2.8-10.1 2.8 4.2 2.8-5.2 2.8-2.2 2.8-1.1 2.8 9.8 2.8 1.6 2.8 8.7 2.8-14.4 2.7 19.7 2.8 1.6 2.8 9.4 2.8 10.4 2.8 8.5 2.8 1.4 2.8 1.1 2.8 24.7 2.8-1.7 2.8 14.1 2.8 18.9 2.8 8.3 2.7 10.4 2.8 12.5 2.8 14.6 2.8 9.4 2.8 18.8 2.8 12.5 2.8 11.7 2.8 15 2.8 19.5 2.8 12.5 2.8 9.8 2.8 17 2.8 14.1 2.7 14.6 2.8 11.9 2.8 15.3 2.8 10.6 2.8 11.8 2.8 12.8 2.8 13.5 2.8 12.6 2.8 11.1 2.8 12.7 2.8 11.6 2.8 10.5 2.7 13.2 2.8 8.6 2.8 12.1 2.8 10.1 2.8 6.5 2.8 8.2 2.8 10.5 2.8 11.8 2.8 9.9 2.8 7.4 2.8 8.2 2.8 6.3 2.8 8.4 2.7 4.8 2.8 7.5 2.8 5.5 2.8 4.4 2.8 3.8 2.8 4.4 2.8 5.3 2.8 2.3 2.8 1.5 2.8 5.5 2.8 2 2.8 3.4 2.7 3.2 2.8 3.5 2.8 4.4 2.8 1.2 2.8 0.5 2.8 0.7 2.8 4.2 2.8-0.3 2.8 6.7 2.8-2.5 2.8-0.8 2.8 1.9 2.8 2.1 2.7 1.7 2.8 0.1 2.8-1.3 2.8-1.3 2.8 3.2 2.8 1.1 2.8-1.1 2.8-3.5 2.8 5.5 2.8 1.6 2.8-2.3 2.8-0.9 2.7 1.3 2.8-1.5 2.8 1.4 2.8 0.8 2.8-2.2 2.8-0.9 2.8 0.9 2.8 1.6 2.8 1.7 2.8-0.5 2.8 0.7 2.8 0.6 2.8-1.3 2.7 2.2 2.8-3 2.8 1.7 2.8-0.2 2.8 0.7 2.8 2.4 2.8-1.9 2.8 1.9 2.8-3.3 2.8 0.6 2.8 0 2.8-1.5 2.7-1.4 2.8 6.7 2.8-2 2.8-1.2 2.8 0 2.8-1.7 2.8 2.8 2.8-3.4 2.8 1.3 2.8 5.9 2.8-0.1 2.8-3 2.8-0.4 2.7-1.3 2.8-1.1 2.8-0.3 2.8 1.1 2.8 4.6 2.8-3.6 2.8 1.8 2.8-0.1 2.8-0.6 2.8 2.1 2.8-2.8 2.8 1.6 2.7 1.1 2.8-1.5 2.8 2.3 2.8-1.4 2.8-2.3 2.8 1.4 2.8-1.1 2.8 1 2.8 4.1 2.8-5.8 2.8 3.2 2.8 1.5 2.8 1.3 2.7-2.8 2.8 2.8 2.8-3.9 2.8 2.1 2.8-0.7 2.8 0.3 2.8 1 2.8-1.3 2.8-1.5 2.8 3.1 2.8 0 2.8-2.9 2.7 2.9 2.8 0.7 2.8 0.1 2.8-0.2 2.8-2 2.8 0.5 2.8 0.2 2.8 0.6 2.8 1 2.8 0 2.8 0 2.8-0.9 2.8-1.8 2.7 1.2 2.8 1.5 2.8-0.8 2.8-0.8 2.8 1.6 2.8-0.7 2.8 0.7 2.8 0 2.8 0 2.8-0.9 2.8-0.1 2.8 1 2.7-0.5 2.8-1 2.8 1.5 2.8 0 2.8 0 2.8-0.1 2.8 0.1"/>
<path stroke="#808000" stroke-width="2.9" d="M105.8 840.4l2.8-1.2 2.8-0.7 2.8-0.1 2.8 0.2 2.8 0.6 2.8 1.8 2.7 2.7 2.8 3.1 2.8 4 2.8 5 2.8 5.9 2.8 6.7 2.8 7.1 2.8 7.5 2.8 7.8 2.8 8 2.8 8.3 2.8 8.7 2.7 8.9 2.8 9.6 2.8 9.7 2.8 9.3 2.8 9.2 2.8 9 2.8 8.2 2.8 7.3 2.8 6.9 2.8 6.4 2.8 6 2.8 5.5 2.8 5 2.7 4.7 2.8 4.4 2.8 4.2 2.8 4.1 2.8 4.1 2.8 3.8 2.8 3.9 2.8 3.8 2.8 3.9 2.8 4.2 2.8 4.5 2.8 4.5 2.7 4.5 2.8 4.5 2.8 4.1 2.8 3.9 2.8 3.9 2.8 3.7 2.8 3.5 2.8 3.1 2.8 2.6 2.8 2.5 2.8 2.1 2.8 1.8 2.8 1.3 2.7 0.8 2.8 0.6 2.8 0.5 2.8 0.5 2.8 0.3 2.8 0.2 2.8 0 2.8 0 2.8-0.1 2.8-0.1 2.8-0.1 2.8-0.2 2.7-0.2 2.8-0.2 2.8-0.2 2.8-0.1 2.8-0.2 2.8-0.1 2.8-0.1 2.8 0.1 2.8 0 2.8 0.1 2.8 0.1 2.8 0.3 2.8 0.2 2.7 0.3 2.8 0.1 2.8-0.1 2.8-0.3 2.8-0.4 2.8-0.4 2.8-0.4 2.8-0.6 2.8-0.9 2.8-1.1 2.8-1.1 2.8-1.2 2.7-1.4 2.8-1.7 2.8-1.8 2.8-2 2.8-2.3 2.8-2.4 2.8-2.4 2.8-2.4 2.8-2.1 2.8-2.1 2.8-2.2 2.8-2.5 2.8-2.9 2.7-3.1 2.8-3.3 2.8-3.7 2.8-3.9 2.8-4 2.8-4.5 2.8-4.9 2.8-5.5 2.8-4.9 2.8-5.5 2.8-6 2.8-5.6 2.7-6 2.8-6.1 2.8-7.6 2.8-5.8 2.8-7 2.8-5.6 2.8-6.9 2.8-6.8 2.8-8.5 2.8-8.4 2.8-6.7 2.8-6.7 2.8-8.1 2.7-8 2.8-4.8 2.8-6.7 2.8-11.2 2.8-3.8 2.8-12 2.8-8.6 2.8-17.3 2.8-11.4 2.8-11 2.8-9.1 2.8-10.1 2.7-5.2 2.8-12.4 2.8-18.9 2.8-7.1 2.8-10.4 2.8-15.4 2.8-7.7 2.8-9.1 2.8-12.4 2.8-5.5 2.8-11.7 2.8-14.8 2.8-8.2 2.7-7.7 2.8-5.9 2.8-7.8 2.8-13.7 2.8-2.8 2.8-14.6 2.8 0 2.8-16.2 2.8-10.4 2.8 0.9 2.8-9.4 2.8 2.4 2.7-7.1 2.8-0.2 2.8-6.5 2.8 6.7 2.8-3.2 2.8-3 2.8-10 2.8 7.7 2.8-4.8 2.8 4.9 2.8 4.9 2.8 8.7 2.8-14.6 2.7 13.1 2.8 10.5 2.8-3.6 2.8 16 2.8 12.5 2.8 0.9 2.8 1.5 2.8 18.7 2.8 6.8 2.8 10.4 2.8 15.8 2.8 12.2 2.7 8.4 2.8 10.2 2.8 15.5 2.8 6.1 2.8 18.6 2.8 16.1 2.8 7.8 2.8 13.6 2.8 16.7 2.8 14 2.8 11.6 2.8 17.6 2.8 10.6 2.7 12.3 2.8 13.3 2.8 15.2 2.8 11.3 2.8 8.6 2.8 13.4 2.8 12.7 2.8 11.5 2.8 10.1 2.8 12.3 2.8 11.3 2.8 14.1 2.7 10.1 2.8 8.3 2.8 10.4 2.8 9.2 2.8 7.5 2.8 9.2 2.8 10.3 2.8 11.8 2.8 5.2 2.8 8.4 2.8 7.8 2.8 6.6 2.8 7.8 2.7 4.4 2.8 6.4 2.8 5.4 2.8 5.3 2.8 5.5 2.8 4 2.8 1.6 2.8 2.9 2.8 4.7 2.8 2.7 2.8 4.6 2.8 4.4 2.7 1.1 2.8 1.8 2.8 2.9 2.8 2.1 2.8 1.5 2.8 1.8 2.8 1.1 2.8 2.1 2.8 1.4 2.8 0.5 2.8 1.6 2.8 3.1 2.8-3.2 2.7 3.3 2.8-2.2 2.8 1 2.8 1.2 2.8 2.3 2.8 1.9 2.8-6.1 2.8 6.4 2.8-1.7 2.8-0.2 2.8 1 2.8 0.4 2.7 0.7 2.8-2.7 2.8 0.9 2.8 1.3 2.8 0 2.8 0.8 2.8-1.6 2.8 2.6 2.8-4 2.8 0 2.8 2.5 2.8 2.2 2.8 0.6 2.7-2.6 2.8-2.9 2.8 4.6 2.8-1.6 2.8-2 2.8 4.9 2.8-4.2 2.8-1.7 2.8 4.2 2.8 1.2 2.8 1.5 2.8-4.3 2.7 2.2 2.8-2.8 2.8 1 2.8-0.6 2.8 2 2.8 0.2 2.8-0.9 2.8-2.6 2.8 5.6 2.8-3.8 2.8 3.4 2.8-2.7 2.8 4.6 2.7-5.4 2.8 4 2.8-1.1 2.8 2.7 2.8-2.1 2.8 1.1 2.8-0.7 2.8-3.1 2.8 2.5 2.8 3.7 2.8 0.5 2.8-3.3 2.7 1.5 2.8-3.5 2.8 3.1 2.8-1.8 2.8-1.3 2.8 0.4 2.8 2.1 2.8 0.7 2.8-3.2 2.8 2 2.8-0.3 2.8 1.6 2.8-2 2.7 1.7 2.8 0.4 2.8-1.8 2.8 0.7 2.8-0.6 2.8-0.6 2.8 2.9 2.8-2.9 2.8 1.5 2.8-1.4 2.8 2.8 2.8-1.2 2.7-0.2 2.8 0 2.8 2.7 2.8-0.9 2.8-0.6 2.8 0.1 2.8-1.5 2.8 0.6 2.8 2.3 2.8-1.1 2.8-1.5 2.8 2.6 2.8-2.4 2.7 2.4 2.8-0.4 2.8-1.1 2.8-1.3 2.8 1.4 2.8-0.6 2.8-0.3 2.8 1.4 2.8-1.3 2.8 0 2.8 1.5 2.8 0.7 2.7-1.5 2.8 1.5 2.8 0 2.8 0 2.8 0 2.8-1.8 2.8 0"/>
<path stroke="#000080" stroke-width="2.9" d="M105.8 840.1l2.8-1.5 2.8-0.9 2.8-0.3 2.8-0.1 2.8 0.4 2.8 1.6 2.7 2.4 2.8 3 2.8 4 2.8 4.8 2.8 6 2.8 6.8 2.8 7.1 2.8 7.7 2.8 7.9 2.8 8.2 2.8 8.6 2.8 8.9 2.7 9.2 2.8 9.8 2.8 10 2.8 9.4 2.8 9.4 2.8 9.1 2.8 8.4 2.8 7.4 2.8 7.1 2.8 6.6 2.8 6.2 2.8 5.6 2.8 5.2 2.7 4.8 2.8 4.5 2.8 4.3 2.8 4.3 2.8 4.1 2.8 3.9 2.8 3.9 2.8 3.8 2.8 3.9 2.8 4.2 2.8 4.4 2.8 4.5 2.7 4.4 2.8 4.3 2.8 4 2.8 3.8 2.8 3.8 2.8 3.6 2.8 3.3 2.8 2.9 2.8 2.6 2.8 2.3 2.8 2 2.8 1.6 2.8 1.2 2.7 0.7 2.8 0.4 2.8 0.4 2.8 0.3 2.8 0.2 2.8 0.1 2.8-0.1 2.8-0.1 2.8-0.2 2.8-0.1 2.8-0.2 2.8-0.3 2.7-0.3 2.8-0.2 2.8-0.2 2.8-0.2 2.8-0.2 2.8-0.2 2.8-0.1 2.8 0.1 2.8 0.1 2.8 0.1 2.8 0.1 2.8 0.3 2.8 0.4 2.7 0.3 2.8 0.2 2.8-0.1 2.8-0.1 2.8-0.3 2.8-0.2 2.8-0.3 2.8-0.5 2.8-0.7 2.8-0.9 2.8-0.9 2.8-1 2.7-1.2 2.8-1.4 2.8-1.6 2.8-1.8 2.8-2.1 2.8-2.2 2.8-2.2 2.8-2.1 2.8-1.9 2.8-1.9 2.8-2 2.8-2.2 2.8-2.7 2.7-2.9 2.8-3 2.8-3.4 2.8-3.8 2.8-3.9 2.8-4.1 2.8-5.1 2.8-4.4 2.8-5.4 2.8-4.8 2.8-6 2.8-6.1 2.7-5.1 2.8-6.5 2.8-5.7 2.8-6.4 2.8-6.9 2.8-4.3 2.8-8.5 2.8-4.4 2.8-9.3 2.8-7.6 2.8-6.6 2.8-6 2.8-8.6 2.7-8.9 2.8-5 2.8-5.7 2.8-6.3 2.8-8 2.8-8.4 2.8-10.1 2.8-15.7 2.8-10.3 2.8-13.6 2.8-8.8 2.8-8.7 2.7-4.6 2.8-13.9 2.8-15.6 2.8-12.4 2.8-8.1 2.8-12.4 2.8-11.5 2.8-8.3 2.8-7.3 2.8-9.8 2.8-7.1 2.8-12.3 2.8-9.3 2.7-11 2.8-0.6 2.8-11 2.8-8.3 2.8-8.3 2.8-12.8 2.8 0.3 2.8-7.7 2.8-17 2.8-1.5 2.8-6.2 2.8 5.1 2.7-14 2.8 8.3 2.8-8.2 2.8-3.8 2.8 4.6 2.8-0.9 2.8-10.9 2.8 6.7 2.8-4.8 2.8 3 2.8 0.4 2.8 7.1 2.8-4.1 2.7 5.4 2.8 7.5 2.8 10.8 2.8 4.3 2.8 8.6 2.8 1.7 2.8 12.1 2.8 13.8 2.8 4.3 2.8 13.4 2.8 15.4 2.8 10.3 2.7 5.3 2.8 12.4 2.8 13 2.8 13.6 2.8 12.1 2.8 10.9 2.8 13 2.8 12.4 2.8 18.5 2.8 11.6 2.8 10.4 2.8 15.3 2.8 9.3 2.7 13.7 2.8 13.6 2.8 14.5 2.8 10.2 2.8 9.3 2.8 11.6 2.8 13.2 2.8 12.2 2.8 9.1 2.8 11.1 2.8 10.9 2.8 12.5 2.7 10.1 2.8 10 2.8 8.8 2.8 7.8 2.8 8.2 2.8 9.3 2.8 8 2.8 11.1 2.8 7.1 2.8 8.3 2.8 7.9 2.8 6.9 2.8 5.8 2.7 4 2.8 5.3 2.8 6 2.8 4.4 2.8 4.2 2.8 3.7 2.8 3.5 2.8 5.3 2.8 1.6 2.8 2.3 2.8 6.8 2.8 1.4 2.7 1.8 2.8 2.2 2.8 2.3 2.8 2.5 2.8 3 2.8-0.7 2.8 2.7 2.8 1.4 2.8 3.6 2.8-3 2.8 1 2.8 5.4 2.8-0.2 2.7 0 2.8 0.4 2.8-2.3 2.8-2.3 2.8 2.3 2.8 4.5 2.8-0.1 2.8 1 2.8-0.1 2.8 0.1 2.8 0 2.8 0.3 2.7-1.1 2.8 0.4 2.8-4.1 2.8 4.8 2.8-2.1 2.8-3.5 2.8 8.1 2.8-3 2.8 1.4 2.8-2 2.8 6.3 2.8-2.8 2.8-1.2 2.7 3.6 2.8-5.1 2.8-3.3 2.8 5 2.8-2.6 2.8 4.5 2.8-2.9 2.8-1.7 2.8 1.8 2.8-0.2 2.8 2.6 2.8-2.2 2.7 6.3 2.8-3.3 2.8-1.1 2.8-1.3 2.8-0.9 2.8 3.6 2.8-5.2 2.8 1.7 2.8 1.2 2.8 2.8 2.8 0.8 2.8-3.7 2.8 4.6 2.7-2.8 2.8-0.2 2.8-0.5 2.8 1.5 2.8-2.5 2.8 4.1 2.8-4.7 2.8 0.5 2.8 0.5 2.8 4.2 2.8-2.6 2.8-1 2.7 0.5 2.8 0.8 2.8 1.9 2.8 0.6 2.8-0.4 2.8-3.2 2.8 0.8 2.8 1.8 2.8 2.1 2.8-1.2 2.8 0.2 2.8 1.1 2.8-7 2.7 3.4 2.8 1.3 2.8 0.9 2.8-1.2 2.8 0.5 2.8-0.8 2.8 3.1 2.8-4.9 2.8 5.1 2.8-1.5 2.8-0.9 2.8 2 2.7 0.4 2.8 0 2.8-0.5 2.8-0.9 2.8-2.8 2.8 2.3 2.8-1.2 2.8 1.2 2.8 1 2.8-1.2 2.8 0.3 2.8 1.3 2.8-1.7 2.7 0.6 2.8 1.6 2.8 0 2.8-0.8 2.8 0.8 2.8-0.2 2.8-2.5 2.8 2.7 2.8 0 2.8 0 2.8-2 2.8 2 2.7 0 2.8-0.9 2.8 0.3 2.8 0.6 2.8-0.3 2.8-0.9 2.8 0.3"/>
<path stroke="#800080" stroke-width="2.9" d="M105.8 839.7l2.8-1.7 2.8-1.2 2.8-0.7 2.8-0.4 2.8 0.1 2.8 1.3 2.7 2.2 2.8 2.8 2.8 3.8 2.8 4.8 2.8 5.9 2.8 7 2.8 7.3 2.8 7.7 2.8 8.2 2.8 8.4 2.8 8.9 2.8 9.2 2.7 9.6 2.8 10.1 2.8 10.3 2.8 9.7 2.8 9.5 2.8 9.3 2.8 8.6 2.8 7.6 2.8 7.3 2.8 6.9 2.8 6.4 2.8 5.8 2.8 5.4 2.7 5 2.8 4.6 2.8 4.5 2.8 4.4 2.8 4.2 2.8 4 2.8 3.9 2.8 3.9 2.8 3.9 2.8 4.1 2.8 4.4 2.8 4.4 2.7 4.2 2.8 4.2 2.8 3.8 2.8 3.7 2.8 3.5 2.8 3.5 2.8 3.1 2.8 2.8 2.8 2.4 2.8 2.1 2.8 1.9 2.8 1.4 2.8 0.9 2.7 0.5 2.8 0.2 2.8 0.3 2.8 0.2 2.8 0 2.8-0.1 2.8-0.2 2.8-0.2 2.8-0.3 2.8-0.2 2.8-0.4 2.8-0.3 2.7-0.4 2.8-0.3 2.8-0.2 2.8-0.3 2.8-0.2 2.8-0.2 2.8-0.1 2.8 0.1 2.8 0.1 2.8 0.1 2.8 0.2 2.8 0.4 2.8 0.4 2.7 0.4 2.8 0.3 2.8 0.1 2.8 0 2.8-0.1 2.8-0.1 2.8-0.1 2.8-0.3 2.8-0.5 2.8-0.6 2.8-0.7 2.8-0.7 2.7-1 2.8-1.1 2.8-1.3 2.8-1.5 2.8-1.8 2.8-1.9 2.8-2 2.8-1.8 2.8-1.7 2.8-1.5 2.8-1.7 2.8-2 2.8-2.4 2.7-2.7 2.8-2.8 2.8-3.2 2.8-3.3 2.8-3.7 2.8-3.7 2.8-4.8 2.8-3.6 2.8-5 2.8-5.5 2.8-5.4 2.8-4.8 2.7-5.7 2.8-5.6 2.8-5.6 2.8-6.6 2.8-5.3 2.8-6.3 2.8-6.9 2.8-5.6 2.8-6.2 2.8-8.3 2.8-5.9 2.8-6.3 2.8-6.1 2.7-9.7 2.8-3.2 2.8-6.6 2.8-7.7 2.8-7.3 2.8-8.4 2.8-7.7 2.8-17.6 2.8-9.5 2.8-12 2.8-4.7 2.8-9.7 2.7-7.8 2.8-14.7 2.8-9.8 2.8-11.2 2.8-7.8 2.8-11.6 2.8-11 2.8-4.5 2.8-12.8 2.8-9.4 2.8-8.1 2.8-13.3 2.8-6.5 2.7-9.6 2.8-3.1 2.8-8.7 2.8-11.7 2.8-5.2 2.8-7.9 2.8-0.2 2.8-7.5 2.8-14.3 2.8-5.1 2.8-4.8 2.8 0.2 2.7-4 2.8 6.2 2.8-16.1 2.8 2.1 2.8-1.8 2.8-3.1 2.8-6.1 2.8 3.7 2.8-1.2 2.8 7.3 2.8 1.1 2.8 6.6 2.8-4.4 2.7 8 2.8 1.9 2.8 7.2 2.8 10.1 2.8 9.7 2.8 2.6 2.8 1.2 2.8 14.3 2.8 5.5 2.8 16 2.8 12.8 2.8 7.5 2.7 9.5 2.8 9.6 2.8 11.3 2.8 11.8 2.8 15.4 2.8 10.5 2.8 10.4 2.8 12.5 2.8 16.9 2.8 11.9 2.8 8.3 2.8 15.4 2.8 9.1 2.7 12.8 2.8 13.3 2.8 13 2.8 12.3 2.8 5.7 2.8 13.2 2.8 11.5 2.8 10.7 2.8 8.2 2.8 12.7 2.8 10.6 2.8 11 2.7 10.2 2.8 7.6 2.8 9.9 2.8 9.2 2.8 5.2 2.8 10 2.8 7.6 2.8 10.2 2.8 6.6 2.8 8.2 2.8 8.3 2.8 4.2 2.8 7.3 2.7 4.4 2.8 5.5 2.8 4.8 2.8 3.6 2.8 4.6 2.8 3.9 2.8 4 2.8 2.8 2.8 3.9 2.8 4.5 2.8 1.1 2.8 3.5 2.7 3.1 2.8 2.7 2.8 0.1 2.8 2.8 2.8 0.1 2.8 5.6 2.8-2.9 2.8 4.2 2.8-0.4 2.8 1.4 2.8 0 2.8-0.2 2.8 1.1 2.7 3.3 2.8-1.5 2.8 1.6 2.8 3.6 2.8-3.2 2.8-1.7 2.8-1.4 2.8 0.3 2.8 5.5 2.8 0.5 2.8 2.1 2.8-2.6 2.7 2.1 2.8-7 2.8 4.4 2.8-1.8 2.8 1.1 2.8 0.1 2.8-0.7 2.8-1.4 2.8 0.8 2.8-0.8 2.8 5.4 2.8-1.2 2.8-0.1 2.7-2.2 2.8 3.8 2.8-2.2 2.8 0.5 2.8 0.9 2.8-0.7 2.8 1.3 2.8-1.4 2.8 1.4 2.8 0.9 2.8-4.3 2.8 5.4 2.7-3.6 2.8 1.5 2.8-1.5 2.8-0.4 2.8 2.3 2.8-2.7 2.8 2.7 2.8 0.8 2.8-1.5 2.8 0.5 2.8 1.8 2.8-4.1 2.8-1.6 2.7 3.2 2.8 3.3 2.8-0.1 2.8-0.7 2.8-0.7 2.8 1.8 2.8-2 2.8 1.9 2.8-1.7 2.8 1 2.8-2.4 2.8 3.6 2.7-5.3 2.8 4.3 2.8-0.1 2.8 0.3 2.8 0.5 2.8 0.6 2.8-0.8 2.8-1.8 2.8 2.6 2.8-1.6 2.8 0.1 2.8 1.8 2.8 1.5 2.7-0.4 2.8-3.2 2.8 0.9 2.8-0.4 2.8 0 2.8 1.4 2.8-2 2.8-0.1 2.8 3 2.8-1.5 2.8 1.4 2.8-0.8 2.7-2.1 2.8 3 2.8 0.8 2.8-3.7 2.8 1.7 2.8-1.7 2.8 2.1 2.8 1.4 2.8-1.1 2.8-1.8 2.8 0.4 2.8 0.3 2.8-0.2 2.7 1.3 2.8-0.8 2.8 1.7 2.8-1.1 2.8 0.5 2.8-0.4 2.8-1.8 2.8 2.9 2.8 0.3 2.8 0 2.8 0 2.8 0 2.7-1.3 2.8 1.2 2.8 0.1 2.8-0.3 2.8-0.8 2.8-1.2 2.8 1.5"/>
<path stroke="#800000" stroke-width="2.9" d="M105.8 839.4l2.8-2 2.8-1.5 2.8-0.9 2.8-0.7 2.8-0.2 2.8 1.1 2.7 2 2.8 2.6 2.8 3.7 2.8 4.8 2.8 5.9 2.8 7 2.8 7.4 2.8 8 2.8 8.3 2.8 8.6 2.8 9.1 2.8 9.6 2.7 9.8 2.8 10.5 2.8 10.5 2.8 9.9 2.8 9.7 2.8 9.5 2.8 8.6 2.8 7.9 2.8 7.5 2.8 7.1 2.8 6.5 2.8 6.1 2.8 5.5 2.7 5.1 2.8 4.9 2.8 4.6 2.8 4.4 2.8 4.3 2.8 4.1 2.8 4 2.8 3.9 2.8 3.9 2.8 4.1 2.8 4.3 2.8 4.2 2.7 4.2 2.8 4 2.8 3.8 2.8 3.4 2.8 3.4 2.8 3.3 2.8 3 2.8 2.7 2.8 2.2 2.8 2 2.8 1.7 2.8 1.2 2.8 0.8 2.7 0.3 2.8 0.1 2.8 0 2.8 0.1 2.8-0.1 2.8-0.2 2.8-0.3 2.8-0.4 2.8-0.3 2.8-0.4 2.8-0.4 2.8-0.4 2.7-0.4 2.8-0.4 2.8-0.3 2.8-0.3 2.8-0.3 2.8-0.2 2.8-0.1 2.8 0.1 2.8 0.1 2.8 0.2 2.8 0.2 2.8 0.4 2.8 0.5 2.7 0.5 2.8 0.4 2.8 0.2 2.8 0.1 2.8 0 2.8 0 2.8 0.1 2.8-0.1 2.8-0.3 2.8-0.4 2.8-0.4 2.8-0.5 2.7-0.7 2.8-0.9 2.8-1.1 2.8-1.3 2.8-1.6 2.8-1.6 2.8-1.7 2.8-1.6 2.8-1.4 2.8-1.4 2.8-1.4 2.8-1.8 2.8-2.1 2.7-2.4 2.8-2.6 2.8-2.8 2.8-3.2 2.8-3.2 2.8-3.7 2.8-4.2 2.8-4.2 2.8-4.9 2.8-4.6 2.8-4.5 2.8-6.1 2.7-4.8 2.8-5.1 2.8-5.6 2.8-6 2.8-5.8 2.8-5.1 2.8-5.8 2.8-5.8 2.8-7.3 2.8-6.3 2.8-5.5 2.8-7.2 2.8-7.3 2.7-6.6 2.8-4.8 2.8-5.8 2.8-9.1 2.8-5.6 2.8-8 2.8-11.4 2.8-10.8 2.8-11.7 2.8-8.5 2.8-6.2 2.8-9.8 2.7-7 2.8-11.9 2.8-12.5 2.8-8.6 2.8-7.8 2.8-12.7 2.8-8.3 2.8-7.3 2.8-9.9 2.8-6.9 2.8-8.3 2.8-15 2.8-8.1 2.7-6.5 2.8-3.8 2.8-11.1 2.8-4.2 2.8-8.7 2.8-9.8 2.8-0.8 2.8-14.1 2.8-9.6 2.8 2.6 2.8-6.5 2.8 0.4 2.7-2.1 2.8-10.4 2.8-2.2 2.8 7.3 2.8 1.8 2.8-3.7 2.8-9.3 2.8-0.7 2.8 2.5 2.8 5.6 2.8-3.2 2.8 8.8 2.8-2.6 2.7 9.1 2.8-0.7 2.8 8.1 2.8 9.9 2.8 3 2.8 5.9 2.8 2.7 2.8 22.2 2.8 1.7 2.8 5 2.8 14.7 2.8 10.2 2.7 8.2 2.8 9.8 2.8 10.9 2.8 11.5 2.8 12.7 2.8 11.2 2.8 10.5 2.8 10.4 2.8 19.8 2.8 9.9 2.8 5.6 2.8 17.5 2.8 9.4 2.7 12.8 2.8 11.9 2.8 9.5 2.8 10.9 2.8 8.5 2.8 11.1 2.8 8.9 2.8 13.4 2.8 8.2 2.8 11.9 2.8 9.7 2.8 8.3 2.7 11.9 2.8 7.5 2.8 8.7 2.8 8.1 2.8 6.4 2.8 9.1 2.8 7 2.8 10.2 2.8 7.3 2.8 7.3 2.8 5.3 2.8 5.9 2.8 8.4 2.7 1.7 2.8 6.5 2.8 5.4 2.8 4.9 2.8 1.9 2.8 3.5 2.8 3.8 2.8 2.8 2.8 5.1 2.8 1 2.8 4 2.8 2.5 2.7 1.4 2.8 1.6 2.8 3.1 2.8-0.1 2.8 3.5 2.8-0.5 2.8 3.8 2.8-0.6 2.8 5.3 2.8-3.1 2.8 2.5 2.8 2.4 2.8 5.4 2.7-1.5 2.8-5.8 2.8 3.5 2.8-2.8 2.8-0.3 2.8 3.3 2.8 1.3 2.8-0.2 2.8-1.3 2.8 1.9 2.8-1.3 2.8 2.9 2.7-6.7 2.8 3.6 2.8 4.3 2.8-2.7 2.8-0.2 2.8 0 2.8 4.1 2.8-2.2 2.8-1.9 2.8-1.9 2.8 2.6 2.8-3.2 2.8 6.2 2.7-2.3 2.8-1.1 2.8-2.7 2.8 5.8 2.8 0.3 2.8-1.9 2.8-0.1 2.8 0.9 2.8 1.6 2.8-1.8 2.8 0.2 2.8 4.1 2.7-2.5 2.8-5 2.8 3.1 2.8 2 2.8-2.9 2.8 5.3 2.8-2.3 2.8-1 2.8 2 2.8-2.8 2.8 2.5 2.8-2.6 2.8 3.7 2.7-1.2 2.8-5 2.8 5.5 2.8 1.4 2.8-2.9 2.8 1.6 2.8-1.7 2.8-0.1 2.8 0.8 2.8 0.6 2.8-0.8 2.8 2.7 2.7-2.9 2.8-1.6 2.8 3 2.8-1.1 2.8-0.4 2.8 3.5 2.8-2.5 2.8 2.2 2.8-2.2 2.8 2 2.8-1.2 2.8 2.5 2.8-2.3 2.7-1.5 2.8 1.4 2.8-0.2 2.8 0.7 2.8 1.9 2.8-4.5 2.8 0.8 2.8 1 2.8 2.7 2.8-1.3 2.8 0.2 2.8-3 2.7 4 2.8 0.1 2.8 0 2.8-1.8 2.8 0.9 2.8 0.9 2.8-0.2 2.8-1.9 2.8-0.9 2.8 1.7 2.8-0.5 2.8 1.8 2.8 0 2.7 0 2.8-1.4 2.8 1.4 2.8-0.4 2.8-1.4 2.8 1.2 2.8-0.5 2.8-0.3 2.8 1.4 2.8-1.8 2.8 1.7 2.8-0.9 2.7-0.7 2.8 0.5 2.8 1.2 2.8 0 2.8 0 2.8 0 2.8-0.7"/>
<path stroke="#008000" stroke-width="2.9" d="M105.8 839.1l2.8-2.4 2.8-1.8 2.8-1.2 2.8-1 2.8-0.5 2.8 0.8 2.7 1.8 2.8 2.4 2.8 3.6 2.8 4.6 2.8 6 2.8 7.2 2.8 7.5 2.8 8.1 2.8 8.5 2.8 8.9 2.8 9.4 2.8 9.9 2.7 10.1 2.8 10.8 2.8 10.8 2.8 10.2 2.8 9.9 2.8 9.7 2.8 8.8 2.8 8.1 2.8 7.8 2.8 7.3 2.8 6.8 2.8 6.2 2.8 5.7 2.7 5.3 2.8 5 2.8 4.8 2.8 4.5 2.8 4.4 2.8 4.2 2.8 4.1 2.8 3.9 2.8 3.9 2.8 4.1 2.8 4.2 2.8 4.1 2.7 4 2.8 3.9 2.8 3.6 2.8 3.3 2.8 3.2 2.8 3.1 2.8 2.9 2.8 2.5 2.8 2 2.8 1.8 2.8 1.6 2.8 1 2.8 0.6 2.7 0.1 2.8-0.1 2.8-0.2 2.8-0.1 2.8-0.2 2.8-0.3 2.8-0.5 2.8-0.5 2.8-0.5 2.8-0.4 2.8-0.5 2.8-0.5 2.7-0.6 2.8-0.4 2.8-0.4 2.8-0.3 2.8-0.4 2.8-0.2 2.8-0.2 2.8 0.1 2.8 0.2 2.8 0.2 2.8 0.3 2.8 0.5 2.8 0.5 2.7 0.6 2.8 0.5 2.8 0.3 2.8 0.2 2.8 0.2 2.8 0.2 2.8 0.3 2.8 0.1 2.8-0.1 2.8-0.2 2.8-0.2 2.8-0.2 2.7-0.4 2.8-0.6 2.8-0.8 2.8-1 2.8-1.3 2.8-1.4 2.8-1.4 2.8-1.3 2.8-1.2 2.8-1 2.8-1.2 2.8-1.5 2.8-1.8 2.7-2.1 2.8-2.3 2.8-2.6 2.8-2.8 2.8-3.1 2.8-3.4 2.8-3.5 2.8-3.8 2.8-4.5 2.8-3.9 2.8-5.2 2.8-4.9 2.7-5.3 2.8-4.6 2.8-4.7 2.8-5.1 2.8-5.6 2.8-4.7 2.8-5.7 2.8-6.7 2.8-5.8 2.8-7.6 2.8-5.5 2.8-6.3 2.8-6.7 2.7-4.1 2.8-4.2 2.8-6.7 2.8-9.1 2.8-4.5 2.8-7.2 2.8-11 2.8-9.6 2.8-13.3 2.8-7.5 2.8-7.4 2.8-6.9 2.7-6 2.8-12.4 2.8-10.6 2.8-10.2 2.8-9.3 2.8-7.8 2.8-13.3 2.8-3.9 2.8-9.9 2.8-7.5 2.8-6.4 2.8-13.4 2.8-7.7 2.7-4.5 2.8-7.1 2.8-6.7 2.8-8.2 2.8-8 2.8-3.1 2.8-5.9 2.8-6.4 2.8-8.9 2.8-7.9 2.8 1 2.8-2.8 2.7-6.8 2.8-0.5 2.8-5.1 2.8 4.3 2.8-3 2.8-5.5 2.8 0.3 2.8 4.5 2.8-2.5 2.8 2 2.8 1.6 2.8 6.4 2.8-7.2 2.7 9.4 2.8 3.9 2.8 6.6 2.8 6.9 2.8 5.6 2.8 1.2 2.8 6.5 2.8 17 2.8 5.6 2.8 4.2 2.8 14.5 2.8 10.3 2.7 6.6 2.8 10.4 2.8 10.9 2.8 7 2.8 17.1 2.8 6.2 2.8 11 2.8 14.5 2.8 13.6 2.8 8.6 2.8 11.6 2.8 9.7 2.8 12 2.7 9.9 2.8 11.6 2.8 13.2 2.8 9.4 2.8 6.3 2.8 11.4 2.8 7.5 2.8 12.3 2.8 8.6 2.8 10 2.8 8.8 2.8 10 2.7 10.3 2.8 6.5 2.8 9.9 2.8 6.8 2.8 6.7 2.8 8.6 2.8 5.9 2.8 9.6 2.8 6.3 2.8 8 2.8 5.4 2.8 6.5 2.8 5.8 2.7 3.6 2.8 4.1 2.8 3.7 2.8 3.1 2.8 5 2.8 4.3 2.8 1.1 2.8 4.8 2.8 2.9 2.8 0.9 2.8 3.8 2.8 4.4 2.7 2.1 2.8 1.7 2.8 0.8 2.8 1.5 2.8 4.7 2.8-2.4 2.8 1.5 2.8 3 2.8 3.1 2.8-1.8 2.8 0.3 2.8 2.8 2.8 2.8 2.7-1.9 2.8 0.5 2.8 1.2 2.8-1.1 2.8-0.9 2.8 3.1 2.8-0.3 2.8-0.1 2.8 1.7 2.8-0.2 2.8 0.8 2.8-2.4 2.7-5.2 2.8 3.6 2.8-2.1 2.8 3.5 2.8 2.5 2.8-3.7 2.8 4.6 2.8 0.4 2.8-6.1 2.8 3.5 2.8 3.1 2.8 1.1 2.8-0.1 2.7-4.3 2.8 1.5 2.8 0.1 2.8 2.4 2.8-1.1 2.8-1.1 2.8 1.4 2.8-0.9 2.8-2.3 2.8-1.7 2.8 2.5 2.8-0.9 2.7-1.1 2.8 5.7 2.8 1.3 2.8-5.8 2.8-1.3 2.8 2.9 2.8 1.2 2.8 2.3 2.8-4.7 2.8 4.5 2.8-3.7 2.8 1.8 2.8 2 2.7-2 2.8 1.5 2.8-1.5 2.8 0.3 2.8-0.6 2.8-0.2 2.8 2.2 2.8-1.6 2.8 3.4 2.8 0.1 2.8-1.3 2.8 1.3 2.7-3.3 2.8-1.2 2.8 1.9 2.8 2.4 2.8-2.3 2.8 1.4 2.8-1 2.8-2.3 2.8 5.2 2.8-1.9 2.8 1.6 2.8 0.5 2.8 0 2.7-2.8 2.8 1 2.8 0.7 2.8-1.6 2.8 0.8 2.8-0.1 2.8-1.1 2.8 0 2.8 0 2.8 0.1 2.8 1.4 2.8-1.1 2.7 0.8 2.8 1 2.8 0.6 2.8-2.1 2.8-0.8 2.8 3.2 2.8-2.8 2.8-0.3 2.8 1.1 2.8 1.2 2.8-0.9 2.8 1 2.8-2.4 2.7 3.1 2.8-1.3 2.8-0.9 2.8 0.1 2.8 2.1 2.8 0 2.8-1.1 2.8 1.1 2.8-2.5 2.8 2.5 2.8-0.7 2.8 0.7 2.7 0 2.8-1.6 2.8 1.3 2.8 0.3 2.8-0.1 2.8-0.6 2.8 0.4"/>
<path stroke="#008080" stroke-width="2.9" d="M105.8 838.8l2.8-2.7 2.8-2.1 2.8-1.5 2.8-1.3 2.8-0.7 2.8 0.5 2.7 1.6 2.8 2.2 2.8 3.5 2.8 4.6 2.8 6 2.8 7.3 2.8 7.6 2.8 8.3 2.8 8.7 2.8 9.1 2.8 9.7 2.8 10.1 2.7 10.5 2.8 11.1 2.8 11.1 2.8 10.4 2.8 10 2.8 9.9 2.8 9 2.8 8.3 2.8 8 2.8 7.5 2.8 7 2.8 6.4 2.8 5.9 2.7 5.5 2.8 5.1 2.8 4.9 2.8 4.7 2.8 4.4 2.8 4.3 2.8 4.1 2.8 4 2.8 3.8 2.8 4.1 2.8 4.2 2.8 4 2.7 3.9 2.8 3.7 2.8 3.5 2.8 3.2 2.8 3 2.8 2.9 2.8 2.7 2.8 2.4 2.8 1.9 2.8 1.6 2.8 1.4 2.8 0.9 2.8 0.3 2.7 0 2.8-0.3 2.8-0.3 2.8-0.3 2.8-0.3 2.8-0.5 2.8-0.6 2.8-0.6 2.8-0.6 2.8-0.5 2.8-0.6 2.8-0.6 2.7-0.6 2.8-0.5 2.8-0.4 2.8-0.5 2.8-0.4 2.8-0.3 2.8-0.1 2.8 0.1 2.8 0.2 2.8 0.2 2.8 0.3 2.8 0.6 2.8 0.6 2.7 0.7 2.8 0.5 2.8 0.4 2.8 0.4 2.8 0.3 2.8 0.4 2.8 0.4 2.8 0.3 2.8 0.1 2.8 0 2.8 0.1 2.8 0 2.7-0.2 2.8-0.3 2.8-0.6 2.8-0.8 2.8-1 2.8-1.2 2.8-1.1 2.8-1.1 2.8-0.9 2.8-0.8 2.8-0.9 2.8-1.2 2.8-1.6 2.7-1.8 2.8-2.1 2.8-2.3 2.8-2.6 2.8-2.8 2.8-3 2.8-3.7 2.8-3.7 2.8-3.5 2.8-4.5 2.8-4.2 2.8-4.6 2.7-4.6 2.8-3.9 2.8-6.5 2.8-5.2 2.8-4.9 2.8-3.2 2.8-5.6 2.8-6.3 2.8-6 2.8-6.6 2.8-4.7 2.8-5.2 2.8-6.9 2.7-6.7 2.8-2.3 2.8-6.5 2.8-6.7 2.8-6.2 2.8-5.9 2.8-9.8 2.8-12.7 2.8-10.9 2.8-9.3 2.8-3.3 2.8-4.8 2.7-9.3 2.8-13.1 2.8-8.9 2.8-6.8 2.8-10.2 2.8-10.8 2.8-8.6 2.8-4.4 2.8-12.1 2.8-3.3 2.8-6.8 2.8-11.4 2.8-8.1 2.7-7.9 2.8-3 2.8-7.7 2.8-4.8 2.8-6.5 2.8-3.2 2.8-5.4 2.8-8.8 2.8-11 2.8-5.4 2.8-4.4 2.8 2.6 2.7-4.8 2.8-0.9 2.8-4.9 2.8-1.6 2.8 5.5 2.8-4.8 2.8-3.3 2.8-0.4 2.8-1.1 2.8 5.2 2.8-0.3 2.8 4.9 2.8-5.3 2.7 10.6 2.8 6.7 2.8-0.1 2.8 11.8 2.8-3.8 2.8 9.5 2.8 5.1 2.8 9.6 2.8 7.4 2.8 10 2.8 11.2 2.8 7.4 2.7 10.4 2.8 11.5 2.8 7.3 2.8 8.2 2.8 12.6 2.8 10.5 2.8 8 2.8 9.8 2.8 17 2.8 9.3 2.8 7.1 2.8 12.2 2.8 12.1 2.7 7.7 2.8 10.2 2.8 11.2 2.8 10.9 2.8 6.6 2.8 7.8 2.8 10.2 2.8 12.2 2.8 7.5 2.8 8.5 2.8 9.1 2.8 10.6 2.7 9.4 2.8 6.7 2.8 7.6 2.8 5.8 2.8 7.2 2.8 6 2.8 7.5 2.8 9.9 2.8 5.9 2.8 6.9 2.8 4.7 2.8 5.4 2.8 7 2.7 2.6 2.8 3.1 2.8 5.9 2.8 4.8 2.8 3.8 2.8 1.6 2.8 5.4 2.8-0.8 2.8 6.4 2.8-0.6 2.8 2.5 2.8 3.1 2.7 2.3 2.8 3.8 2.8 0.5 2.8 2.1 2.8 3.1 2.8-1.2 2.8 0.7 2.8 6.4 2.8-5.4 2.8 3.3 2.8 2.6 2.8-1.2 2.8-0.5 2.7 2.5 2.8-1.9 2.8 1.7 2.8 1.8 2.8-1.4 2.8 1 2.8 0.6 2.8 0 2.8 3.2 2.8-2 2.8-3.4 2.8 0.5 2.7 2.8 2.8-0.8 2.8 1.6 2.8 0.5 2.8-1.3 2.8 3.8 2.8-2.1 2.8-1.4 2.8 0.2 2.8 1.7 2.8 2.2 2.8-2.6 2.8 1.4 2.7-0.3 2.8-3.5 2.8 3.8 2.8 1.7 2.8-0.7 2.8-5.3 2.8 1.5 2.8 0.3 2.8 4.9 2.8-2.4 2.8 3.1 2.8-3.7 2.7 1 2.8-1 2.8 0 2.8 1.1 2.8 2 2.8-2 2.8-1 2.8-0.7 2.8 4.1 2.8-0.7 2.8-0.8 2.8 0.4 2.8-4.2 2.7 7 2.8-4.2 2.8 0.6 2.8 0.6 2.8-2 2.8 3.4 2.8-2 2.8 2.8 2.8-0.3 2.8-1.4 2.8 0.2 2.8 1.3 2.7-5.4 2.8-0.1 2.8 1.7 2.8 1.3 2.8 0.4 2.8 2.1 2.8-3.9 2.8 1.3 2.8 0.3 2.8 0.1 2.8 0.9 2.8 2.3 2.8 0 2.7-1.4 2.8-2 2.8 3 2.8 0.4 2.8-4.2 2.8 2.7 2.8-2.9 2.8 1.7 2.8 2.2 2.8-1.8 2.8 2.2 2.8 0.1 2.7-1.8 2.8 0.4 2.8-1.2 2.8-0.3 2.8 0.3 2.8 0.1 2.8 2.5 2.8-2.7 2.8 2.7 2.8-1.5 2.8 1.5 2.8-1 2.8 0.1 2.7 0.9 2.8 0 2.8-1.2 2.8-0.5 2.8 0.7 2.8 1 2.8-2.6 2.8 1.3 2.8-0.4 2.8 1.7 2.8-1.7 2.8 1.7 2.7-0.7 2.8 0.1 2.8 0.1 2.8-0.1 2.8 0.6 2.8-0.9 2.8-0.4"/>
<path stroke="#0000a0" stroke-width="2.9" d="M105.8 838.4l2.8-3 2.8-2.3 2.8-1.9 2.8-1.5 2.8-1.1 2.8 0.3 2.7 1.4 2.8 2 2.8 3.4 2.8 4.5 2.8 6 2.8 7.4 2.8 7.8 2.8 8.4 2.8 9 2.8 9.3 2.8 10 2.8 10.5 2.7 10.8 2.8 11.4 2.8 11.4 2.8 10.6 2.8 10.3 2.8 9.9 2.8 9.3 2.8 8.5 2.8 8.2 2.8 7.7 2.8 7.2 2.8 6.6 2.8 6.1 2.7 5.7 2.8 5.3 2.8 5 2.8 4.8 2.8 4.5 2.8 4.4 2.8 4.2 2.8 3.9 2.8 3.9 2.8 4.1 2.8 4.1 2.8 3.9 2.7 3.7 2.8 3.7 2.8 3.3 2.8 3 2.8 2.8 2.8 2.8 2.8 2.5 2.8 2.2 2.8 1.8 2.8 1.4 2.8 1.3 2.8 0.6 2.8 0.2 2.7-0.3 2.8-0.5 2.8-0.4 2.8-0.4 2.8-0.5 2.8-0.7 2.8-0.7 2.8-0.7 2.8-0.7 2.8-0.7 2.8-0.7 2.8-0.7 2.7-0.6 2.8-0.6 2.8-0.5 2.8-0.5 2.8-0.4 2.8-0.4 2.8-0.1 2.8 0.1 2.8 0.2 2.8 0.2 2.8 0.4 2.8 0.6 2.8 0.7 2.7 0.7 2.8 0.7 2.8 0.5 2.8 0.5 2.8 0.5 2.8 0.5 2.8 0.6 2.8 0.5 2.8 0.3 2.8 0.2 2.8 0.3 2.8 0.3 2.7 0.1 2.8-0.1 2.8-0.3 2.8-0.5 2.8-0.8 2.8-0.9 2.8-0.9 2.8-0.8 2.8-0.6 2.8-0.6 2.8-0.6 2.8-0.9 2.8-1.3 2.7-1.6 2.8-1.8 2.8-2 2.8-2.3 2.8-2.7 2.8-2.7 2.8-3.3 2.8-3.3 2.8-3.4 2.8-4.5 2.8-4 2.8-4.2 2.7-4.7 2.8-3.8 2.8-4.7 2.8-4.5 2.8-4.5 2.8-4.4 2.8-5.1 2.8-6.1 2.8-4.6 2.8-6.2 2.8-4.8 2.8-5.5 2.8-5.6 2.7-6.3 2.8-5.2 2.8-2.6 2.8-6.2 2.8-6.1 2.8-7.9 2.8-8.3 2.8-10.7 2.8-9.7 2.8-8 2.8-6 2.8-5.3 2.7-8.6 2.8-9.7 2.8-10.9 2.8-7.8 2.8-6.7 2.8-7.4 2.8-7.9 2.8-8.5 2.8-9 2.8-6.7 2.8-5.8 2.8-11.8 2.8-5.6 2.7-5.2 2.8-3.9 2.8-5.8 2.8-10.4 2.8-3.5 2.8-6.4 2.8-1.4 2.8-11.9 2.8-7.3 2.8-2.8 2.8-2.6 2.8 0.2 2.7-3 2.8-2.3 2.8-5.6 2.8-1.7 2.8 2.3 2.8 0.2 2.8-6.6 2.8 2.8 2.8-2.1 2.8 6.4 2.8 0.8 2.8 1 2.8-1 2.7 7.2 2.8 0.9 2.8 7.1 2.8 7.7 2.8 2.3 2.8 6.2 2.8 4.3 2.8 9.9 2.8 7.6 2.8 6.2 2.8 10.9 2.8 5.9 2.7 8.8 2.8 9.3 2.8 11 2.8 6.8 2.8 9.5 2.8 11.2 2.8 11.2 2.8 11.2 2.8 10.6 2.8 8.8 2.8 9.5 2.8 10.9 2.8 9 2.7 9.4 2.8 12.6 2.8 8.5 2.8 7 2.8 9.4 2.8 8.7 2.8 9.4 2.8 9.1 2.8 6 2.8 10.7 2.8 8.4 2.8 8.1 2.7 9.8 2.8 6.4 2.8 7.7 2.8 5.5 2.8 6.4 2.8 7.5 2.8 6.5 2.8 7.7 2.8 4.9 2.8 7.5 2.8 6.7 2.8 3.9 2.8 5.3 2.7 3.3 2.8 5 2.8 4.8 2.8 2.5 2.8 3.5 2.8 4 2.8 0.3 2.8 5.7 2.8 1.8 2.8 1.9 2.8 1.6 2.8 4.6 2.7-0.7 2.8 5 2.8 1.4 2.8-0.1 2.8 1.2 2.8 2.7 2.8 1 2.8-1.7 2.8 2.6 2.8 0.8 2.8 3.3 2.8-0.9 2.8 2.6 2.7-2.5 2.8 0.4 2.8 0 2.8-2.5 2.8 2.4 2.8-0.3 2.8 6.1 2.8-3.9 2.8 2 2.8 1.8 2.8-2.5 2.8-3.5 2.7 2.8 2.8 2.6 2.8-1.1 2.8 4.4 2.8-2.2 2.8-5.3 2.8 1.3 2.8 5 2.8-1.6 2.8-5.5 2.8-0.1 2.8 2.3 2.8 0.8 2.7-0.4 2.8-1.2 2.8 6.5 2.8-6 2.8 6.2 2.8-2.6 2.8 0.7 2.8-1.6 2.8 1.9 2.8 0.7 2.8-1.5 2.8-0.4 2.7 0.4 2.8-0.3 2.8 1.7 2.8 0 2.8 1.8 2.8-4.2 2.8-2.1 2.8 0 2.8 6.4 2.8-1.8 2.8-0.3 2.8 1.6 2.8-4.5 2.7 2.7 2.8-0.4 2.8-1.8 2.8 3 2.8-1 2.8 0.7 2.8 1.7 2.8-0.9 2.8 2.4 2.8-2.1 2.8-1.3 2.8-0.1 2.7 0.7 2.8-0.8 2.8 1.7 2.8-0.3 2.8 2.2 2.8-0.5 2.8-3.1 2.8 0.4 2.8 1 2.8-2.4 2.8 3.2 2.8-2.4 2.8 1.4 2.7-0.5 2.8 1.8 2.8 1.1 2.8-3.1 2.8 2.6 2.8-2.7 2.8 3.2 2.8-1.1 2.8-1.5 2.8 1.5 2.8 1 2.8 0.1 2.7-1.7 2.8-0.9 2.8 2.3 2.8-3.9 2.8 4.2 2.8-0.8 2.8-1.4 2.8-0.1 2.8 2.3 2.8-1.7 2.8 1.7 2.8-0.5 2.8-0.7 2.7 0.6 2.8 0.6 2.8-1.9 2.8-0.2 2.8 2.1 2.8-0.4 2.8-1.1 2.8-0.9 2.8 0.9 2.8 1.2 2.8 0.3 2.8-1.8 2.7 1.2 2.8-1 2.8 0.9 2.8-0.2 2.8 0.9 2.8-1.4 2.8 1.4"/>
<path stroke="#ff8000" stroke-width="2.9" d="M105.8 838l2.8-3.3 2.8-2.7 2.8-2.2 2.8-1.9 2.8-1.3 2.8 0 2.7 1.1 2.8 1.8 2.8 3.3 2.8 4.4 2.8 6.1 2.8 7.5 2.8 8 2.8 8.6 2.8 9.1 2.8 9.6 2.8 10.4 2.8 10.8 2.7 11.2 2.8 11.8 2.8 11.7 2.8 10.8 2.8 10.5 2.8 10.2 2.8 9.5 2.8 8.8 2.8 8.4 2.8 8 2.8 7.4 2.8 6.9 2.8 6.3 2.7 5.8 2.8 5.5 2.8 5.2 2.8 4.9 2.8 4.7 2.8 4.4 2.8 4.3 2.8 4 2.8 3.9 2.8 4 2.8 4 2.8 3.8 2.7 3.6 2.8 3.4 2.8 3.2 2.8 2.8 2.8 2.7 2.8 2.6 2.8 2.3 2.8 2 2.8 1.6 2.8 1.3 2.8 1 2.8 0.4 2.8 0 2.7-0.5 2.8-0.7 2.8-0.7 2.8-0.6 2.8-0.7 2.8-0.8 2.8-0.8 2.8-0.9 2.8-0.8 2.8-0.8 2.8-0.8 2.8-0.8 2.7-0.8 2.8-0.7 2.8-0.5 2.8-0.6 2.8-0.5 2.8-0.4 2.8-0.1 2.8 0.1 2.8 0.2 2.8 0.2 2.8 0.5 2.8 0.6 2.8 0.8 2.7 0.9 2.8 0.7 2.8 0.7 2.8 0.6 2.8 0.6 2.8 0.7 2.8 0.8 2.8 0.7 2.8 0.6 2.8 0.5 2.8 0.5 2.8 0.6 2.7 0.4 2.8 0.2 2.8 0 2.8-0.3 2.8-0.4 2.8-0.6 2.8-0.6 2.8-0.5 2.8-0.4 2.8-0.2 2.8-0.4 2.8-0.6 2.8-1 2.7-1.3 2.8-1.5 2.8-1.6 2.8-2.2 2.8-2 2.8-2.8 2.8-2.5 2.8-3.4 2.8-3.5 2.8-3.3 2.8-3.4 2.8-3.9 2.7-4.4 2.8-3.8 2.8-4.4 2.8-3.7 2.8-5.7 2.8-3.6 2.8-4.9 2.8-4.7 2.8-5.3 2.8-5.9 2.8-4.6 2.8-4.1 2.8-6.7 2.7-3.9 2.8-4.8 2.8-4.1 2.8-5.9 2.8-3 2.8-7.9 2.8-9.5 2.8-9.1 2.8-10.5 2.8-7 2.8-6.1 2.8-3.7 2.7-6.9 2.8-7.6 2.8-9 2.8-9.8 2.8-5.2 2.8-11.1 2.8-6.8 2.8-6.7 2.8-7.2 2.8-7.4 2.8-3.6 2.8-12.1 2.8-4 2.7-7.4 2.8-3.6 2.8-2.7 2.8-11.1 2.8-4.6 2.8-4.5 2.8-6.9 2.8-3.3 2.8-7.7 2.8-1.1 2.8-5 2.8-0.9 2.7-3.1 2.8-0.7 2.8-3.6 2.8 2.6 2.8-5.5 2.8-0.9 2.8-5.3 2.8 3.6 2.8 1.4 2.8 2.3 2.8-0.3 2.8 1.5 2.8-2 2.7 6.8 2.8 1.5 2.8 8.1 2.8 6.9 2.8 3.7 2.8 4 2.8 1.7 2.8 11.5 2.8 6 2.8 6.9 2.8 11.1 2.8 6.9 2.7 8.1 2.8 10.3 2.8 6.1 2.8 5.8 2.8 12.3 2.8 9.9 2.8 6.8 2.8 10.8 2.8 14 2.8 7.1 2.8 7.3 2.8 13.1 2.8 5.7 2.7 10.2 2.8 10.8 2.8 7 2.8 9 2.8 5.5 2.8 10 2.8 7 2.8 8.9 2.8 9 2.8 7.4 2.8 8.3 2.8 7.9 2.7 8.7 2.8 4.1 2.8 7.8 2.8 6.7 2.8 4.9 2.8 7.2 2.8 5.8 2.8 9.1 2.8 5.3 2.8 4.4 2.8 5.4 2.8 4.3 2.8 5.9 2.7 3.3 2.8 4 2.8 4.5 2.8 3.2 2.8 1.2 2.8 3.6 2.8 2.4 2.8 4.3 2.8-0.5 2.8 3.9 2.8 2.6 2.8 3 2.7 1.5 2.8 1.7 2.8 2.3 2.8 1.3 2.8-2 2.8 2.3 2.8 4 2.8-2.6 2.8 2.3 2.8-1 2.8 2 2.8-0.2 2.8 1.3 2.7 1 2.8 2.4 2.8-2.2 2.8-2.8 2.8 3.4 2.8-0.5 2.8 3.5 2.8-1.2 2.8-1.5 2.8 3.2 2.8-2.9 2.8-0.7 2.7 5.1 2.8-2.8 2.8 3.4 2.8-1.4 2.8 0.6 2.8 0.2 2.8-1.2 2.8 1.7 2.8-2.4 2.8 0.9 2.8 1 2.8 0.9 2.8-6 2.7 3.4 2.8-0.7 2.8 1.3 2.8 1.4 2.8-0.7 2.8 1.5 2.8 0.2 2.8-0.7 2.8-0.1 2.8-3.1 2.8 6.5 2.8-1.8 2.7 1 2.8 0.4 2.8-1.2 2.8-4.4 2.8 2.3 2.8-2.5 2.8 4.3 2.8 0.9 2.8-0.5 2.8-1.5 2.8-1.5 2.8-1.8 2.8 3.1 2.7 0.6 2.8 0.4 2.8 1.8 2.8-3.1 2.8-1.5 2.8 5.9 2.8-3.4 2.8 1.3 2.8 0.3 2.8 0.3 2.8 0.8 2.8-4.6 2.7 3.5 2.8-0.5 2.8 2.6 2.8-5.2 2.8 2.7 2.8-0.8 2.8 1.3 2.8 1.4 2.8-1.6 2.8 0.7 2.8-1.3 2.8 2.8 2.8-0.1 2.7 0.1 2.8-3.4 2.8 2.8 2.8-4 2.8 2.5 2.8-0.2 2.8-0.1 2.8 2.4 2.8-3.6 2.8-0.6 2.8 2.5 2.8 0.6 2.7-1 2.8 0.7 2.8-1 2.8 2.4 2.8 0 2.8 0 2.8-3.4 2.8 3.4 2.8-0.7 2.8-1.4 2.8 0.7 2.8-0.3 2.8-0.7 2.7 1.8 2.8-0.9 2.8-1.6 2.8 1.8 2.8 0.9 2.8 0.4 2.8-0.9 2.8 0 2.8 0.9 2.8-2.4 2.8 1.4 2.8 1 2.7 0 2.8-0.2 2.8 0.2 2.8 0 2.8-0.2 2.8 0.2 2.8-0.1"/>
<path stroke="#8000ff" stroke-width="2.9" d="M105.8 837.7l2.8-3.8 2.8-3.1 2.8-2.5 2.8-2.3 2.8-1.7 2.8-0.3 2.7 0.8 2.8 1.6 2.8 3.1 2.8 4.4 2.8 6.1 2.8 7.7 2.8 8.1 2.8 8.8 2.8 9.5 2.8 9.9 2.8 10.7 2.8 11.2 2.7 11.6 2.8 12.2 2.8 12.1 2.8 11.2 2.8 10.7 2.8 10.4 2.8 9.7 2.8 9.1 2.8 8.8 2.8 8.2 2.8 7.8 2.8 7 2.8 6.6 2.7 6.1 2.8 5.7 2.8 5.3 2.8 5.1 2.8 4.8 2.8 4.5 2.8 4.4 2.8 4 2.8 3.9 2.8 4 2.8 3.9 2.8 3.7 2.7 3.4 2.8 3.3 2.8 2.9 2.8 2.7 2.8 2.4 2.8 2.4 2.8 2.1 2.8 1.8 2.8 1.4 2.8 1 2.8 0.8 2.8 0.2 2.8-0.3 2.7-0.8 2.8-0.9 2.8-0.9 2.8-0.8 2.8-0.9 2.8-0.9 2.8-1.1 2.8-1 2.8-1 2.8-0.9 2.8-1 2.8-0.9 2.7-0.9 2.8-0.8 2.8-0.6 2.8-0.6 2.8-0.6 2.8-0.5 2.8-0.2 2.8 0.2 2.8 0.2 2.8 0.3 2.8 0.4 2.8 0.8 2.8 0.9 2.7 0.9 2.8 0.8 2.8 0.9 2.8 0.7 2.8 0.8 2.8 0.9 2.8 1.1 2.8 0.9 2.8 0.8 2.8 0.8 2.8 0.9 2.8 0.9 2.7 0.7 2.8 0.5 2.8 0.4 2.8 0.1 2.8-0.2 2.8-0.2 2.8-0.3 2.8-0.2 2.8 0 2.8 0.1 2.8 0 2.8-0.3 2.8-0.7 2.7-0.9 2.8-1.1 2.8-1.4 2.8-1.7 2.8-1.8 2.8-2.5 2.8-2 2.8-2.8 2.8-3.4 2.8-3.1 2.8-3.2 2.8-3.8 2.7-3.8 2.8-3.1 2.8-3.9 2.8-4 2.8-3.7 2.8-3.6 2.8-4.2 2.8-4.1 2.8-4.7 2.8-5.9 2.8-4.3 2.8-4.2 2.8-5.9 2.7-4.4 2.8-2.2 2.8-4.9 2.8-6.2 2.8-3.8 2.8-5.3 2.8-8.5 2.8-9.9 2.8-8.3 2.8-8.7 2.8-3.4 2.8-2.8 2.7-6.1 2.8-8.3 2.8-9.4 2.8-7.5 2.8-7.4 2.8-8.2 2.8-7.9 2.8-4.9 2.8-4.6 2.8-5.8 2.8-6.7 2.8-9.8 2.8-5.5 2.7-4.7 2.8-2.9 2.8-5.2 2.8-8.3 2.8-4.9 2.8-2.7 2.8-2.9 2.8-9.4 2.8-3.2 2.8-5 2.8-4.3 2.8 2.7 2.7-3.5 2.8-3.3 2.8-4.4 2.8 3.9 2.8-2.6 2.8 0.6 2.8-5.7 2.8 1 2.8-2.1 2.8 6.9 2.8-3.8 2.8 7.4 2.8-4 2.7 5.8 2.8 3.8 2.8 0.6 2.8 8.9 2.8 5.7 2.8 4.3 2.8 3.8 2.8 8.3 2.8 5.5 2.8 7.5 2.8 8.6 2.8 5.5 2.7 6 2.8 8.3 2.8 8.4 2.8 5 2.8 11.4 2.8 9.4 2.8 6.1 2.8 8.6 2.8 13.1 2.8 8.7 2.8 4.7 2.8 12.4 2.8 5 2.7 9.3 2.8 8.1 2.8 10.2 2.8 5.4 2.8 7.6 2.8 7.3 2.8 7.1 2.8 8.7 2.8 5.2 2.8 8.7 2.8 7.9 2.8 7.7 2.7 7.3 2.8 5.3 2.8 7.8 2.8 4.8 2.8 4.5 2.8 6.5 2.8 3.7 2.8 8.6 2.8 4.9 2.8 5 2.8 5.6 2.8 3.9 2.8 5.2 2.7 2.7 2.8 4.1 2.8 3.8 2.8 1.8 2.8 2.7 2.8 5.8 2.8-1.2 2.8 3.6 2.8 2.1 2.8 1 2.8 3.8 2.8-1.6 2.7 5.1 2.8 1 2.8 1.2 2.8 2.3 2.8 2.7 2.8 0.8 2.8-0.4 2.8-0.2 2.8 3.6 2.8 0.7 2.8-1.1 2.8 0.6 2.8-0.4 2.7 2.5 2.8 0.1 2.8 0.4 2.8-2.2 2.8 2 2.8 0.2 2.8-4.6 2.8 0.9 2.8 3.1 2.8 2.6 2.8-2.2 2.8 0.7 2.7-0.9 2.8 2.3 2.8 0.9 2.8-1.1 2.8-0.4 2.8 1.4 2.8-0.6 2.8 1 2.8-2.8 2.8 0.4 2.8 2 2.8 0.8 2.8-2.4 2.7 0.5 2.8 0 2.8 2.4 2.8-0.8 2.8-4.9 2.8 5.2 2.8-2.2 2.8-0.1 2.8 2.6 2.8 0.2 2.8-1.6 2.8-2.8 2.7-0.6 2.8 6.6 2.8-2.8 2.8-1 2.8 1.3 2.8-0.4 2.8 1.7 2.8 1.3 2.8 0.3 2.8-1.5 2.8-0.3 2.8 2.2 2.8-1.3 2.7-1 2.8-2.8 2.8 5.7 2.8-0.8 2.8-4 2.8 1.9 2.8 2.6 2.8-4.2 2.8 3.4 2.8-1.1 2.8-1.1 2.8 3.2 2.7-1.7 2.8-0.4 2.8 1 2.8-0.7 2.8-1 2.8 0.8 2.8-1.3 2.8 2.6 2.8 1.7 2.8-3.7 2.8 1.4 2.8 2 2.8 0.6 2.7-0.3 2.8-2.2 2.8 0.5 2.8-2.7 2.8 3.9 2.8-1.1 2.8 0.5 2.8-4.1 2.8 4.6 2.8-1.3 2.8 1.8 2.8-1.6 2.7 0.2 2.8 1.8 2.8-0.8 2.8-1.2 2.8 1.4 2.8 0.6 2.8-4.4 2.8 4.4 2.8-1.3 2.8 1.3 2.8 0 2.8-1.3 2.8 1.3 2.7-0.6 2.8-1.5 2.8 1.5 2.8-1 2.8-0.5 2.8 2.1 2.8 0 2.8-0.9 2.8 0.9 2.8 0 2.8-2.3 2.8 2.3 2.7 0 2.8-0.1 2.8 0.1 2.8 0 2.8-0.3 2.8 0.1 2.8 0.1"/>
<path stroke="#ff0080" stroke-width="2.9" d="M105.8 837.2l2.8-4.1 2.8-3.6 2.8-2.9 2.8-2.7 2.8-2.2 2.8-0.6 2.7 0.5 2.8 1.4 2.8 2.9 2.8 4.3 2.8 6.1 2.8 7.9 2.8 8.3 2.8 9.1 2.8 9.7 2.8 10.3 2.8 11.1 2.8 11.8 2.7 12 2.8 12.7 2.8 12.5 2.8 11.5 2.8 11.1 2.8 10.6 2.8 10 2.8 9.4 2.8 9.1 2.8 8.6 2.8 8.1 2.8 7.3 2.8 6.8 2.7 6.4 2.8 5.9 2.8 5.6 2.8 5.2 2.8 5 2.8 4.7 2.8 4.4 2.8 4.1 2.8 3.9 2.8 3.9 2.8 3.9 2.8 3.5 2.7 3.2 2.8 3.1 2.8 2.7 2.8 2.4 2.8 2.2 2.8 2.1 2.8 1.9 2.8 1.6 2.8 1.1 2.8 0.8 2.8 0.5 2.8-0.1 2.8-0.6 2.7-1 2.8-1.2 2.8-1.2 2.8-1 2.8-1.1 2.8-1.2 2.8-1.3 2.8-1.2 2.8-1.1 2.8-1.1 2.8-1.1 2.8-1.1 2.7-1 2.8-0.9 2.8-0.7 2.8-0.8 2.8-0.6 2.8-0.5 2.8-0.3 2.8 0.1 2.8 0.3 2.8 0.3 2.8 0.5 2.8 0.8 2.8 1 2.7 1 2.8 1 2.8 1 2.8 1 2.8 1 2.8 1.1 2.8 1.2 2.8 1.3 2.8 1.1 2.8 1.1 2.8 1.2 2.8 1.2 2.7 1.1 2.8 1 2.8 0.7 2.8 0.4 2.8 0.3 2.8 0.1 2.8 0.1 2.8 0.2 2.8 0.4 2.8 0.4 2.8 0.4 2.8 0.1 2.8-0.3 2.7-0.5 2.8-0.7 2.8-1 2.8-1.2 2.8-1.5 2.8-1.9 2.8-2.3 2.8-2.1 2.8-2.4 2.8-3 2.8-2.6 2.8-4.1 2.7-2.1 2.8-3.1 2.8-3.8 2.8-3.7 2.8-4.6 2.8-2 2.8-3.2 2.8-5.2 2.8-3.5 2.8-6 2.8-3.1 2.8-4.1 2.8-3.6 2.7-4.6 2.8-3.3 2.8-3 2.8-5.5 2.8-3 2.8-6.4 2.8-7.2 2.8-10.6 2.8-5.5 2.8-7.5 2.8-0.2 2.8-4.8 2.7-7.8 2.8-5.1 2.8-9.1 2.8-6.1 2.8-6.4 2.8-8.4 2.8-6.3 2.8-4 2.8-6.5 2.8-5.7 2.8-3.7 2.8-9.4 2.8-4.7 2.7-3.7 2.8-3.7 2.8-4.2 2.8-5.2 2.8-5 2.8-3 2.8-3.5 2.8-6.6 2.8-5.2 2.8-2.8 2.8-1.7 2.8-3.9 2.7-3.7 2.8 0.4 2.8-4 2.8 2.7 2.8-2.3 2.8 0.7 2.8-3.7 2.8-0.6 2.8 1 2.8 3.4 2.8-1 2.8 4.6 2.8-0.1 2.7 2.1 2.8 1.4 2.8 4.9 2.8 5.4 2.8 6.5 2.8 2.4 2.8 0.4 2.8 11 2.8 5.1 2.8 5.9 2.8 6.2 2.8 6.6 2.7 5.2 2.8 8.6 2.8 6.7 2.8 5.6 2.8 10.2 2.8 7.2 2.8 6.8 2.8 8 2.8 11.1 2.8 5.5 2.8 6.2 2.8 9.7 2.8 6.6 2.7 7.3 2.8 8.9 2.8 6.4 2.8 5.5 2.8 7.6 2.8 7.4 2.8 6.1 2.8 8.6 2.8 5.7 2.8 5.6 2.8 6 2.8 8 2.7 7.2 2.8 4 2.8 7.8 2.8 2.7 2.8 5.4 2.8 5.8 2.8 5.1 2.8 6 2.8 4 2.8 5.8 2.8 4.5 2.8 4.2 2.8 3.7 2.7 0.9 2.8 4.8 2.8 1.5 2.8 4.4 2.8 2.8 2.8 1.5 2.8 2.3 2.8 1.3 2.8 3.7 2.8 0.8 2.8 2.6 2.8 1.4 2.7 0.8 2.8 2 2.8 2.6 2.8-0.7 2.8 2 2.8 5.1 2.8-3.3 2.8 3.5 2.8-4.2 2.8 2.3 2.8 1.3 2.8 0.8 2.8-2.6 2.7 2.8 2.8 2.8 2.8-0.6 2.8 0 2.8 0.5 2.8 0 2.8 0.1 2.8 2.1 2.8 2.2 2.8 0.1 2.8-1.9 2.8-0.7 2.7-1.6 2.8 4.2 2.8-6.7 2.8 5.9 2.8-1.7 2.8 0.5 2.8-1.3 2.8 0.4 2.8 1 2.8 1.8 2.8 1.3 2.8-5.5 2.8 3.3 2.7 0.8 2.8-1.6 2.8-1.5 2.8 3.7 2.8-2.6 2.8-0.4 2.8-0.3 2.8 2.3 2.8 2.3 2.8-1.3 2.8 1.4 2.8-5.2 2.7 5.2 2.8 0 2.8-4.5 2.8-0.6 2.8 4.6 2.8-3.2 2.8-3.4 2.8 5.4 2.8-1.6 2.8-0.5 2.8 2.3 2.8-5.9 2.8 4.3 2.7-3 2.8 5.4 2.8-7.2 2.8 5.5 2.8-0.5 2.8-1.7 2.8 1.5 2.8 2.3 2.8-0.1 2.8 0.4 2.8-0.7 2.8 1.5 2.7-3.2 2.8 1.1 2.8-0.3 2.8-0.6 2.8 3.6 2.8-6 2.8 2.6 2.8 2.1 2.8-1.3 2.8 1.7 2.8-2.1 2.8 3 2.8-1.7 2.7 0.7 2.8 0.2 2.8-2.6 2.8 1.5 2.8 0 2.8-0.3 2.8 2.2 2.8-2 2.8 0 2.8 1.9 2.8 0.1 2.8-1.3 2.7-2.5 2.8 3.8 2.8-2 2.8 1.3 2.8-0.8 2.8-1.2 2.8 0.5 2.8-1.1 2.8 1.7 2.8 0.7 2.8-0.4 2.8 1.3 2.8-3.1 2.7 1.5 2.8-1.7 2.8 2.6 2.8-0.2 2.8 0.2 2.8 0.6 2.8-0.7 2.8 0.8 2.8-1.7 2.8 0.1 2.8 0.3 2.8-0.3 2.7 1.4 2.8-1.7 2.8 1.9 2.8 0 2.8-0.6 2.8-0.8 2.8 1.4"/>
<path stroke="#c0c0c0" stroke-width="2.9" d="M105.8 836.8l2.8-4.6 2.8-4 2.8-3.4 2.8-3.2 2.8-2.6 2.8-1.1 2.7 0.2 2.8 1.1 2.8 2.8 2.8 4.2 2.8 6.1 2.8 8.2 2.8 8.5 2.8 9.3 2.8 10.1 2.8 10.6 2.8 11.7 2.8 12.2 2.7 12.5 2.8 13.3 2.8 13 2.8 11.9 2.8 11.4 2.8 10.9 2.8 10.3 2.8 9.8 2.8 9.5 2.8 9 2.8 8.4 2.8 7.7 2.8 7.1 2.7 6.6 2.8 6.2 2.8 5.8 2.8 5.4 2.8 5.1 2.8 4.9 2.8 4.5 2.8 4.2 2.8 3.9 2.8 3.9 2.8 3.7 2.8 3.3 2.7 3 2.8 2.9 2.8 2.5 2.8 2.1 2.8 2 2.8 1.8 2.8 1.6 2.8 1.3 2.8 0.9 2.8 0.5 2.8 0.2 2.8-0.4 2.8-0.9 2.7-1.4 2.8-1.5 2.8-1.4 2.8-1.3 2.8-1.4 2.8-1.4 2.8-1.5 2.8-1.4 2.8-1.4 2.8-1.3 2.8-1.3 2.8-1.2 2.7-1.2 2.8-1 2.8-0.8 2.8-0.8 2.8-0.8 2.8-0.6 2.8-0.3 2.8 0.1 2.8 0.3 2.8 0.3 2.8 0.6 2.8 0.9 2.8 1.1 2.7 1.1 2.8 1.1 2.8 1.2 2.8 1.1 2.8 1.3 2.8 1.3 2.8 1.6 2.8 1.5 2.8 1.4 2.8 1.5 2.8 1.6 2.8 1.6 2.7 1.5 2.8 1.4 2.8 1.1 2.8 0.9 2.8 0.6 2.8 0.5 2.8 0.6 2.8 0.6 2.8 0.8 2.8 0.9 2.8 0.8 2.8 0.5 2.8 0.1 2.7 0 2.8-0.3 2.8-0.5 2.8-0.8 2.8-1.1 2.8-1.4 2.8-1.9 2.8-1.9 2.8-1.8 2.8-2.4 2.8-2.8 2.8-2.7 2.7-2.1 2.8-2.4 2.8-3.5 2.8-2.7 2.8-3.7 2.8-2.2 2.8-4 2.8-2.3 2.8-3.7 2.8-3.7 2.8-4.4 2.8-3 2.8-4.9 2.7-2.5 2.8-2.9 2.8-2.4 2.8-5.1 2.8-2.2 2.8-5.6 2.8-4.9 2.8-9.1 2.8-9.1 2.8-7 2.8 0.9 2.8-3.8 2.7-4.9 2.8-6.5 2.8-8.2 2.8-3.7 2.8-6.5 2.8-7.1 2.8-4.7 2.8-3 2.8-7 2.8-2.3 2.8-6.4 2.8-5.7 2.8-4.4 2.7-4.6 2.8-3.8 2.8-3.7 2.8-6.4 2.8-3.4 2.8-4.1 2.8-2.1 2.8-3.6 2.8-5.2 2.8-2.6 2.8-1.3 2.8-0.9 2.7-4.4 2.8-0.4 2.8-2.5 2.8 1.9 2.8-2.6 2.8-3.1 2.8 0.3 2.8-1.8 2.8 1.9 2.8 3.3 2.8-1.2 2.8 3.1 2.8-1.6 2.7 4.5 2.8 4.3 2.8 0.1 2.8 6.2 2.8 3.5 2.8 3.6 2.8 2.1 2.8 7.1 2.8 5.9 2.8 5 2.8 6.8 2.8 5.3 2.7 5.9 2.8 5 2.8 6.5 2.8 4.8 2.8 6.5 2.8 8.5 2.8 5.6 2.8 8.1 2.8 9.6 2.8 4.7 2.8 4 2.8 9.4 2.8 4.4 2.7 9.7 2.8 6.9 2.8 3.8 2.8 6.3 2.8 4.6 2.8 7.3 2.8 6.5 2.8 5.9 2.8 4.7 2.8 7.2 2.8 5.8 2.8 6.3 2.7 5.6 2.8 2.4 2.8 6.9 2.8 5.1 2.8 2.8 2.8 5.3 2.8 4.3 2.8 6.6 2.8 3.2 2.8 4.3 2.8 3.3 2.8 2.5 2.8 7.1 2.7 0.4 2.8 3.7 2.8 2.5 2.8 1.8 2.8 2.4 2.8 1.8 2.8 1.7 2.8 1.6 2.8 0.5 2.8 3.2 2.8 1.5 2.8 1.2 2.7 1.5 2.8 3.2 2.8 0 2.8 2.7 2.8 1.9 2.8-4.1 2.8 0.6 2.8 1 2.8 5.2 2.8-1.6 2.8-0.7 2.8 0.9 2.8 1 2.7-2.5 2.8 1.7 2.8-3.1 2.8 2.5 2.8 2.3 2.8 1.7 2.8-3.3 2.8 3.5 2.8 2.8 2.8-4 2.8-3.2 2.8 8.3 2.7-3.7 2.8-3 2.8 2.7 2.8 1.1 2.8 1 2.8 1.4 2.8-2.8 2.8-1.7 2.8 2.2 2.8-0.5 2.8-1.9 2.8 4.3 2.8-2.1 2.7 2 2.8-3.2 2.8 1.9 2.8 0.8 2.8 0.4 2.8 0.5 2.8-1.9 2.8 0.9 2.8 0.4 2.8-4.3 2.8 5.3 2.8-3.7 2.7 3.1 2.8 2.8 2.8-2.3 2.8-0.4 2.8-2.7 2.8 4.6 2.8-5.6 2.8 2.7 2.8 2 2.8-4.2 2.8 2.2 2.8-1.1 2.8 3.2 2.7-1.1 2.8 2 2.8-1.6 2.8 2.1 2.8-4.1 2.8-1 2.8 4.8 2.8-0.5 2.8-0.9 2.8 0.3 2.8-2.1 2.8 2.1 2.7 0 2.8-0.2 2.8-0.7 2.8 0.6 2.8-0.4 2.8-2.5 2.8 3 2.8-0.8 2.8-1.1 2.8 3.8 2.8-1.4 2.8 0 2.8 1 2.7-0.6 2.8-1.8 2.8 1.9 2.8-0.8 2.8-0.8 2.8 1.6 2.8 0.9 2.8-3.2 2.8 0.1 2.8-0.2 2.8 3.3 2.8-2.6 2.7 2.4 2.8-1 2.8 0.1 2.8-1 2.8 2.1 2.8-1.8 2.8-1.1 2.8 0.7 2.8 2.2 2.8-2.1 2.8 1 2.8 0.3 2.8-0.2 2.7 0.5 2.8-0.5 2.8-0.5 2.8-0.6 2.8 1.6 2.8-0.2 2.8 0.6 2.8-0.1 2.8-1 2.8 0 2.8 1.2 2.8-1.6 2.7-1.5 2.8 1.8 2.8 1.3 2.8-0.1 2.8-0.2 2.8-0.2 2.8 0.5"/>
<path stroke="#a0a0a4" stroke-width="2.9" d="M105.8 836.4l2.8-5.2 2.8-4.5 2.8-3.9 2.8-3.7 2.8-3.1 2.8-1.5 2.7-0.2 2.8 0.8 2.8 2.6 2.8 4.1 2.8 6.2 2.8 8.3 2.8 8.8 2.8 9.6 2.8 10.5 2.8 11.1 2.8 12.1 2.8 12.9 2.7 13.1 2.8 13.9 2.8 13.5 2.8 12.4 2.8 11.7 2.8 11.3 2.8 10.6 2.8 10.2 2.8 9.9 2.8 9.5 2.8 8.8 2.8 8 2.8 7.5 2.7 7 2.8 6.5 2.8 6.1 2.8 5.6 2.8 5.3 2.8 5 2.8 4.6 2.8 4.2 2.8 3.9 2.8 3.9 2.8 3.6 2.8 3.2 2.7 2.7 2.8 2.6 2.8 2.3 2.8 1.8 2.8 1.6 2.8 1.5 2.8 1.3 2.8 1.1 2.8 0.5 2.8 0.2 2.8-0.1 2.8-0.7 2.8-1.3 2.7-1.8 2.8-1.8 2.8-1.8 2.8-1.6 2.8-1.7 2.8-1.7 2.8-1.7 2.8-1.7 2.8-1.5 2.8-1.6 2.8-1.5 2.8-1.4 2.7-1.3 2.8-1.2 2.8-1 2.8-0.9 2.8-0.9 2.8-0.7 2.8-0.3 2.8 0.1 2.8 0.3 2.8 0.3 2.8 0.6 2.8 1.1 2.8 1.2 2.7 1.2 2.8 1.3 2.8 1.3 2.8 1.4 2.8 1.4 2.8 1.7 2.8 1.8 2.8 1.9 2.8 1.8 2.8 1.8 2.8 2.1 2.8 2 2.7 2 2.8 1.8 2.8 1.6 2.8 1.3 2.8 1.1 2.8 1 2.8 1 2.8 1.1 2.8 1.2 2.8 1.4 2.8 1.3 2.8 1 2.8 0.6 2.7 0.4 2.8 0.2 2.8-0.1 2.8-0.2 2.8-0.5 2.8-1.1 2.8-1 2.8-1.4 2.8-1.6 2.8-2.2 2.8-1.7 2.8-1.8 2.7-2 2.8-2.2 2.8-2.7 2.8-2.4 2.8-2.5 2.8-1.9 2.8-3.1 2.8-3.2 2.8-3.2 2.8-2.9 2.8-2.7 2.8-1.9 2.8-3.9 2.7-4.5 2.8-0.2 2.8-4.4 2.8-2.4 2.8-1.3 2.8-4.6 2.8-4.8 2.8-9.9 2.8-5.5 2.8-5.1 2.8-0.9 2.8-3.6 2.7-2.5 2.8-6.7 2.8-7.6 2.8-3.9 2.8-2 2.8-5 2.8-5.6 2.8-4.9 2.8-0.3 2.8-6.3 2.8-2.5 2.8-8.1 2.8-3.8 2.7-2.8 2.8-4.7 2.8-2 2.8-4.2 2.8-3.2 2.8-2.9 2.8-3.2 2.8-3 2.8-4.1 2.8-0.8 2.8-3.8 2.8 1.1 2.7-3.6 2.8 0.6 2.8-3.7 2.8 0.8 2.8-0.1 2.8-2.6 2.8-2.1 2.8 3.9 2.8-1.7 2.8 2 2.8-0.8 2.8 2.6 2.8-0.1 2.7 1.4 2.8 1.7 2.8 4.5 2.8 5.2 2.8 2.2 2.8 0 2.8 2.5 2.8 8.4 2.8 2.6 2.8 3.6 2.8 5.7 2.8 6.3 2.7 4.4 2.8 4.8 2.8 5.2 2.8 4.2 2.8 6.4 2.8 5.5 2.8 7.1 2.8 4.4 2.8 8.2 2.8 5.3 2.8 4.3 2.8 6.6 2.8 5.7 2.7 7.1 2.8 4 2.8 5.6 2.8 2.9 2.8 7 2.8 2.5 2.8 6.2 2.8 6.9 2.8 3 2.8 7.2 2.8 3.8 2.8 5.6 2.7 5 2.8 3.2 2.8 5.3 2.8 3.1 2.8 2.5 2.8 3.9 2.8 4.1 2.8 5.2 2.8 2.5 2.8 4.8 2.8 3.1 2.8 1.3 2.8 4.4 2.7 1.9 2.8 1.8 2.8 4.4 2.8-0.1 2.8 1.7 2.8 4.3 2.8-0.9 2.8 3 2.8 0 2.8 2.5 2.8 1.2 2.8 0.8 2.7 2.5 2.8 1.7 2.8 0.1 2.8-2.1 2.8 5.6 2.8-0.9 2.8-0.9 2.8 1.1 2.8 0.3 2.8-0.7 2.8 2.2 2.8-2.3 2.8 0.1 2.7 2.1 2.8 2.7 2.8-1.8 2.8 3.6 2.8-3 2.8 1.8 2.8-1.3 2.8-2.7 2.8 2.9 2.8 3.9 2.8-3.5 2.8 0 2.7-1.6 2.8 0.8 2.8 0.4 2.8-0.9 2.8 3.7 2.8-0.6 2.8 3 2.8-4.8 2.8 0.9 2.8 2.3 2.8-0.8 2.8-0.5 2.8 1.7 2.7-3.1 2.8 3.5 2.8-1.4 2.8-1.1 2.8 1.9 2.8-4.5 2.8 4.8 2.8-1.6 2.8 2.5 2.8-2 2.8-1 2.8 0.2 2.7-0.8 2.8 1.7 2.8 3.6 2.8-4.4 2.8 2.7 2.8-5 2.8 6 2.8-2.3 2.8 1.1 2.8-3.3 2.8 4.3 2.8-1.7 2.8 2.5 2.7-3.4 2.8-2 2.8 0 2.8 0.5 2.8 1.4 2.8 1.8 2.8 1.8 2.8 0 2.8-5.3 2.8 5.3 2.8-2.3 2.8-1.2 2.7-1.7 2.8 3.6 2.8 1 2.8-3.5 2.8 2.3 2.8-0.1 2.8-1.2 2.8 3.1 2.8-1.4 2.8 1.4 2.8-2.3 2.8 2.3 2.8-2.6 2.7 0.4 2.8 0.4 2.8 1.8 2.8-3.5 2.8 1.8 2.8 0 2.8 1.7 2.8-0.2 2.8-2.3 2.8 1.7 2.8 0.8 2.8-1.2 2.7 0.1 2.8-0.2 2.8-3.2 2.8 3.6 2.8 0.1 2.8 0.8 2.8-1.8 2.8 0.5 2.8-1.9 2.8 1.1 2.8 2.1 2.8 0 2.8-0.2 2.7-0.8 2.8-0.2 2.8 1.1 2.8-0.7 2.8 0.8 2.8 0 2.8-3.2 2.8 3.2 2.8-1.9 2.8 1.9 2.8-0.2 2.8-0.4 2.7 0.6 2.8-2.7 2.8 2.7 2.8 0 2.8 0 2.8-1.3 2.8-0.9"/>
<path stroke="#ffff80" stroke-width="2.9" d="M105.8 836l2.8-5.7 2.8-5.1 2.8-4.4 2.8-4.2 2.8-3.6 2.8-1.9 2.7-0.6 2.8 0.5 2.8 2.4 2.8 4 2.8 6.3 2.8 8.6 2.8 9 2.8 9.9 2.8 10.9 2.8 11.5 2.8 12.7 2.8 13.5 2.7 13.7 2.8 14.5 2.8 14.1 2.8 12.8 2.8 12.1 2.8 11.6 2.8 11 2.8 10.6 2.8 10.4 2.8 9.8 2.8 9.3 2.8 8.4 2.8 7.8 2.7 7.3 2.8 6.9 2.8 6.3 2.8 5.8 2.8 5.5 2.8 5.2 2.8 4.7 2.8 4.3 2.8 3.9 2.8 3.9 2.8 3.5 2.8 2.9 2.7 2.5 2.8 2.4 2.8 2 2.8 1.5 2.8 1.3 2.8 1.2 2.8 1 2.8 0.8 2.8 0.2 2.8-0.1 2.8-0.4 2.8-1.2 2.8-1.7 2.7-2.1 2.8-2.2 2.8-2.1 2.8-1.9 2.8-2 2.8-2 2.8-2 2.8-1.9 2.8-1.8 2.8-1.7 2.8-1.7 2.8-1.7 2.7-1.5 2.8-1.3 2.8-1.1 2.8-1.1 2.8-1 2.8-0.8 2.8-0.4 2.8 0.1 2.8 0.3 2.8 0.4 2.8 0.6 2.8 1.1 2.8 1.4 2.7 1.4 2.8 1.4 2.8 1.5 2.8 1.5 2.8 1.7 2.8 1.9 2.8 2.2 2.8 2.1 2.8 2.2 2.8 2.3 2.8 2.4 2.8 2.5 2.7 2.5 2.8 2.2 2.8 2.1 2.8 1.8 2.8 1.5 2.8 1.5 2.8 1.4 2.8 1.6 2.8 1.7 2.8 1.8 2.8 1.8 2.8 1.5 2.8 1 2.7 0.9 2.8 0.8 2.8 0.5 2.8-0.1 2.8-0.1 2.8-0.1 2.8-0.7 2.8-1.2 2.8-0.9 2.8-1.1 2.8-1.5 2.8-1.4 2.7-1.4 2.8-1.9 2.8-2.1 2.8-1.9 2.8-2.5 2.8-1 2.8-1.7 2.8-2.3 2.8-2.7 2.8-2.5 2.8-2.5 2.8-2.7 2.8-2.1 2.7-2.5 2.8-1.7 2.8-1.5 2.8-2.7 2.8-1.3 2.8-3.3 2.8-4.9 2.8-8.2 2.8-5.3 2.8-4.2 2.8 0.9 2.8-3.1 2.7-2.6 2.8-3.3 2.8-5.1 2.8-4.9 2.8-2.4 2.8-4.1 2.8-5.1 2.8-0.6 2.8-6 2.8-4.3 2.8-1.1 2.8-3.8 2.8-3.8 2.7-2.3 2.8-3.1 2.8-2.3 2.8-4 2.8-1.8 2.8-3.2 2.8-0.8 2.8-4.6 2.8-1.8 2.8-3.2 2.8-1.3 2.8-1.8 2.7 0.2 2.8-1.8 2.8-1.3 2.8 0.2 2.8-1.5 2.8 0.2 2.8-1.6 2.8-0.7 2.8 2.2 2.8 1.2 2.8 0.2 2.8 0.1 2.8 0.3 2.7 2.4 2.8 2.9 2.8 1.2 2.8 2.5 2.8 3.1 2.8 2.6 2.8 0.8 2.8 4.9 2.8 4.2 2.8 4 2.8 3.7 2.8 6.1 2.7 2.2 2.8 2.7 2.8 6.1 2.8 1.6 2.8 8 2.8 2.6 2.8 4.3 2.8 6 2.8 6.8 2.8 2.7 2.8 4.6 2.8 4.7 2.8 4.7 2.7 4.7 2.8 3.4 2.8 5 2.8 4.6 2.8 3.3 2.8 3.8 2.8 4 2.8 5.2 2.8 2.9 2.8 4.9 2.8 2.7 2.8 5.3 2.7 4.6 2.8 0.9 2.8 5.4 2.8 1.7 2.8 2.9 2.8 3.4 2.8 2.6 2.8 6.1 2.8 1.9 2.8 1.5 2.8 3.1 2.8 3.3 2.8 2.3 2.7 2.5 2.8 1.9 2.8 1.3 2.8 1.3 2.8 1.1 2.8 2.4 2.8-0.2 2.8 3.6 2.8 0 2.8 1.8 2.8 1.5 2.8 0 2.7 4.4 2.8-3.9 2.8 5.5 2.8 1.4 2.8-2.3 2.8 1.5 2.8 0.8 2.8-2.1 2.8 1.4 2.8-2.1 2.8 1.1 2.8 2.9 2.8 0.8 2.7-2.4 2.8-0.6 2.8-3.1 2.8 4.4 2.8-0.8 2.8 3.5 2.8-0.9 2.8-0.3 2.8-2.3 2.8 3.8 2.8-0.3 2.8-2.2 2.7 1.5 2.8 0.5 2.8-0.4 2.8-1.2 2.8 1.5 2.8-1.6 2.8 2.3 2.8-0.1 2.8-1 2.8-2.7 2.8 0.9 2.8 4.1 2.8-4.5 2.7 5.3 2.8 0.5 2.8-4.9 2.8 0.9 2.8-2.1 2.8 0.8 2.8 1.3 2.8-1.6 2.8 1.4 2.8-0.5 2.8 2 2.8-0.5 2.7-0.6 2.8 3.2 2.8-1.6 2.8-3.2 2.8 2.9 2.8 0.2 2.8-1 2.8-1.7 2.8 6.4 2.8-0.6 2.8-4.4 2.8-1.6 2.8 3.9 2.7 0.7 2.8-3 2.8 3.7 2.8 1.2 2.8-3.7 2.8 3.9 2.8 0 2.8-0.6 2.8-3.8 2.8 2.2 2.8 0 2.8 0.2 2.7-2.3 2.8 2.4 2.8 1.9 2.8-2.2 2.8 0 2.8 0 2.8-0.5 2.8 2.7 2.8 0 2.8-5.7 2.8 5.2 2.8-0.4 2.8-1.6 2.7 0.7 2.8 0.8 2.8-1.4 2.8-0.4 2.8 1.3 2.8 0.3 2.8-0.2 2.8-1.4 2.8 2 2.8-1.4 2.8 1.3 2.8-0.2 2.7-0.5 2.8 1.6 2.8-2.8 2.8 0.1 2.8 0.4 2.8-0.1 2.8 0.6 2.8 1.4 2.8-1.7 2.8 0.6 2.8-0.2 2.8-0.3 2.8 0.6 2.7 0.6 2.8 0.8 2.8 0 2.8-2.8 2.8 0.1 2.8 2.7 2.8-1.9 2.8 1.9 2.8-0.3 2.8-0.7 2.8-0.4 2.8 0.8 2.7 0.6 2.8-1.5 2.8 0.7 2.8 0.8 2.8-0.8 2.8-0.2 2.8-0.1"/>
<path stroke="#80ffff" stroke-width="2.9" d="M105.8 835.6l2.8-6.2 2.8-5.6 2.8-5 2.8-4.7 2.8-4.1 2.8-2.3 2.7-0.9 2.8 0.1 2.8 2.3 2.8 3.9 2.8 6.4 2.8 8.8 2.8 9.3 2.8 10.3 2.8 11.2 2.8 11.9 2.8 13.3 2.8 14.1 2.7 14.3 2.8 15.1 2.8 14.7 2.8 13.2 2.8 12.5 2.8 11.9 2.8 11.4 2.8 11.1 2.8 10.7 2.8 10.3 2.8 9.7 2.8 8.8 2.8 8.2 2.7 7.6 2.8 7.2 2.8 6.6 2.8 6 2.8 5.7 2.8 5.3 2.8 4.9 2.8 4.4 2.8 3.9 2.8 3.8 2.8 3.4 2.8 2.7 2.7 2.3 2.8 2.1 2.8 1.7 2.8 1.3 2.8 1 2.8 0.8 2.8 0.7 2.8 0.5 2.8-0.1 2.8-0.4 2.8-0.8 2.8-1.5 2.8-2.1 2.7-2.4 2.8-2.6 2.8-2.5 2.8-2.2 2.8-2.3 2.8-2.2 2.8-2.3 2.8-2.2 2.8-2 2.8-2 2.8-1.9 2.8-1.9 2.7-1.7 2.8-1.4 2.8-1.3 2.8-1.2 2.8-1.1 2.8-0.9 2.8-0.5 2.8 0.1 2.8 0.3 2.8 0.4 2.8 0.7 2.8 1.2 2.8 1.4 2.7 1.5 2.8 1.6 2.8 1.6 2.8 1.8 2.8 2 2.8 2.1 2.8 2.4 2.8 2.6 2.8 2.5 2.8 2.6 2.8 2.9 2.8 2.9 2.7 2.9 2.8 2.8 2.8 2.5 2.8 2.2 2.8 2 2.8 1.9 2.8 1.9 2.8 2 2.8 2.2 2.8 2.3 2.8 2.2 2.8 2 2.8 1.5 2.7 1.4 2.8 1.2 2.8 0.8 2.8 0.8 2.8 0.4 2.8 0.1 2.8 0.1 2.8-0.8 2.8-0.6 2.8-0.6 2.8-0.4 2.8-2 2.7-0.8 2.8-0.9 2.8-0.5 2.8-1.7 2.8-2 2.8-0.5 2.8-1.8 2.8-2.2 2.8-1.6 2.8-2.4 2.8-0.6 2.8-1.5 2.8-2.9 2.7-0.9 2.8-2.4 2.8-1.1 2.8-2 2.8-0.1 2.8-2 2.8-4.2 2.8-7.1 2.8-6.6 2.8-0.4 2.8-1 2.8 0.9 2.7-2 2.8-5.1 2.8-4.1 2.8-1.9 2.8-4.3 2.8-2.1 2.8-4.1 2.8-0.5 2.8-4.2 2.8-0.8 2.8-3.7 2.8-3.4 2.8-3.3 2.7-1.7 2.8-1.5 2.8-0.5 2.8-3.9 2.8-0.7 2.8-3 2.8-2.4 2.8-1.1 2.8-4.1 2.8-1.1 2.8-0.2 2.8-1.7 2.7 0.2 2.8-1.1 2.8-3 2.8 2.2 2.8-0.2 2.8-0.9 2.8-2.5 2.8 3 2.8 0.3 2.8-1.1 2.8-0.1 2.8 1.6 2.8 1 2.7 1.4 2.8 1 2.8-0.1 2.8 5.5 2.8-1.5 2.8 4 2.8 1.4 2.8 4.5 2.8 1.4 2.8 3.3 2.8 2.7 2.8 4.2 2.7 2 2.8 4.9 2.8 2.1 2.8 1.8 2.8 4.8 2.8 4.3 2.8 3 2.8 4 2.8 4.7 2.8 3 2.8 1.5 2.8 4.4 2.8 3.6 2.7 4 2.8 4.8 2.8 3.1 2.8 1.5 2.8 3.3 2.8 1.5 2.8 5.3 2.8 3.8 2.8 3.1 2.8 3.8 2.8 2.7 2.8 2.4 2.7 4.4 2.8-0.4 2.8 5 2.8 2.2 2.8 0.5 2.8 4.1 2.8 0.7 2.8 5.4 2.8 0.7 2.8 2.9 2.8 2.1 2.8 1.5 2.8 3.7 2.7-0.3 2.8 1.3 2.8 1.6 2.8 1.3 2.8 1 2.8 1.8 2.8 0.3 2.8 1.2 2.8-2.4 2.8 4.9 2.8 1.1 2.8 0.3 2.7-0.3 2.8 1.9 2.8-2.2 2.8 4.6 2.8-0.4 2.8-1.6 2.8 1.5 2.8-3.1 2.8 3.6 2.8 4 2.8-4.2 2.8 3.6 2.8-1.7 2.7-2.1 2.8 1.2 2.8 2.3 2.8-1.9 2.8 2.2 2.8-1 2.8-1.5 2.8 2.1 2.8 1.8 2.8-3.2 2.8 2.6 2.8-4.9 2.7 4.6 2.8-2.4 2.8 2.6 2.8 3.3 2.8-5.3 2.8-2.4 2.8 3.7 2.8 2.8 2.8-5.7 2.8 0.5 2.8 3.5 2.8-4.9 2.8 6.2 2.7-4.5 2.8 1.7 2.8-0.8 2.8-1.4 2.8 4.6 2.8-3.2 2.8-1.5 2.8 0 2.8 5.2 2.8-2.5 2.8 2.9 2.8 0.3 2.7-2.9 2.8-0.4 2.8 0.6 2.8-4.5 2.8 5.5 2.8 2.4 2.8-2.4 2.8 3 2.8-3.8 2.8-0.6 2.8 2.4 2.8-1.3 2.8 1.8 2.7 1.7 2.8-4.9 2.8 3.9 2.8 0.5 2.8-0.2 2.8 0.6 2.8 0.1 2.8-0.9 2.8-0.5 2.8 1.1 2.8-1.6 2.8-0.9 2.7-0.6 2.8 0.4 2.8-0.8 2.8 3.8 2.8-4.7 2.8 2.7 2.8 0.5 2.8-2.9 2.8 2.1 2.8-1.4 2.8 2.4 2.8-0.9 2.8-2.1 2.7 2.7 2.8 1.2 2.8-2.3 2.8-0.1 2.8 2.4 2.8-2.1 2.8 2.5 2.8-3.1 2.8 1.9 2.8 0.4 2.8 0.8 2.8-2.2 2.7 1.9 2.8-3 2.8 3.2 2.8-4 2.8 1.9 2.8 2.2 2.8-1.4 2.8 0.2 2.8-1.2 2.8 2.4 2.8-3 2.8 3 2.8-1.2 2.7 1.2 2.8 0 2.8 0 2.8-2.6 2.8 0.6 2.8 2 2.8-1.2 2.8-0.2 2.8 1.3 2.8 0.1 2.8-1.5 2.8 1.5 2.7-0.7 2.8 0.4 2.8-2.1 2.8 2.4 2.8-0.8 2.8 0.6 2.8 0.2"/>
<path stroke="#ff80ff" stroke-width="2.9" d="M105.8 835.2l2.8-6.7 2.8-6.1 2.8-5.4 2.8-5.1 2.8-4.5 2.8-2.8 2.7-1.2 2.8-0.1 2.8 2.1 2.8 3.9 2.8 6.4 2.8 9 2.8 9.6 2.8 10.5 2.8 11.6 2.8 12.4 2.8 13.8 2.8 14.6 2.7 14.9 2.8 15.6 2.8 15.2 2.8 13.7 2.8 12.8 2.8 12.3 2.8 11.7 2.8 11.4 2.8 11.2 2.8 10.7 2.8 10 2.8 9.2 2.8 8.5 2.7 7.9 2.8 7.5 2.8 6.8 2.8 6.3 2.8 5.8 2.8 5.5 2.8 5 2.8 4.4 2.8 4 2.8 3.7 2.8 3.3 2.8 2.6 2.7 2 2.8 1.9 2.8 1.5 2.8 1 2.8 0.7 2.8 0.5 2.8 0.5 2.8 0.2 2.8-0.4 2.8-0.7 2.8-1.1 2.8-1.8 2.8-2.5 2.7-2.8 2.8-2.9 2.8-2.8 2.8-2.5 2.8-2.5 2.8-2.6 2.8-2.5 2.8-2.4 2.8-2.3 2.8-2.1 2.8-2.2 2.8-2 2.7-1.9 2.8-1.6 2.8-1.4 2.8-1.3 2.8-1.3 2.8-1 2.8-0.5 2.8 0 2.8 0.3 2.8 0.4 2.8 0.8 2.8 1.3 2.8 1.5 2.7 1.6 2.8 1.7 2.8 1.8 2.8 2 2.8 2.1 2.8 2.4 2.8 2.7 2.8 2.8 2.8 2.9 2.8 3 2.8 3.2 2.8 3.3 2.7 3.3 2.8 3.2 2.8 2.9 2.8 2.6 2.8 2.5 2.8 2.3 2.8 2.3 2.8 2.4 2.8 2.6 2.8 2.7 2.8 2.7 2.8 2.4 2.8 2 2.7 1.7 2.8 1.7 2.8 1.3 2.8 1 2.8 0.9 2.8 0.6 2.8 0.1 2.8-0.1 2.8 0.6 2.8-0.9 2.8-0.7 2.8-0.3 2.7-0.5 2.8-0.2 2.8-1.4 2.8-0.1 2.8-1.3 2.8-0.4 2.8-1.1 2.8-1.8 2.8-0.4 2.8-3 2.8-0.1 2.8-0.9 2.8-2 2.7-0.7 2.8-0.3 2.8-2.2 2.8 0.6 2.8-1.5 2.8-2.1 2.8-2.9 2.8-6.9 2.8-2 2.8-2.5 2.8-0.1 2.8 1.6 2.7-1.8 2.8-2.1 2.8-5 2.8-1.1 2.8-0.3 2.8-2.6 2.8-3.5 2.8-1.9 2.8-1.2 2.8-2.2 2.8-3.3 2.8-0.6 2.8-1.7 2.7-1.8 2.8-1.5 2.8-1.4 2.8-2 2.8-0.3 2.8-2.7 2.8-0.5 2.8-4.3 2.8 0 2.8-0.4 2.8-0.7 2.8-0.9 2.7-1.6 2.8-0.3 2.8-0.2 2.8-1.5 2.8 1 2.8-0.5 2.8-1.1 2.8 3.1 2.8-2.8 2.8 0.5 2.8 1.6 2.8 0.7 2.8-0.2 2.7 1.7 2.8 0.6 2.8 0.8 2.8 1.9 2.8 2.2 2.8 0.3 2.8 1.3 2.8 3.7 2.8 0.7 2.8 0.7 2.8 3.6 2.8 3.1 2.7 2.7 2.8 0.6 2.8 4.5 2.8-0.4 2.8 4.9 2.8 0.6 2.8 3.5 2.8 3.9 2.8 4.2 2.8-0.1 2.8 3.7 2.8 4 2.8 1 2.7 3 2.8 3.4 2.8 1.3 2.8 1.8 2.8 2 2.8 2.9 2.8 2.8 2.8 3.1 2.8 0.5 2.8 2.8 2.8 2.1 2.8 2.3 2.7 2.8 2.8 1 2.8 4.4 2.8-0.4 2.8 2.3 2.8 0.9 2.8 2 2.8 3.7 2.8 1.5 2.8-1 2.8 3.2 2.8 1.8 2.8 2.8 2.7 0.4 2.8 0.2 2.8 1.4 2.8 1.9 2.8-0.9 2.8 0.5 2.8 2.6 2.8 0.6 2.8 0.3 2.8-1.1 2.8 2.2 2.8 0.2 2.7 3.5 2.8-5.7 2.8 2.1 2.8 4.4 2.8 0.1 2.8-2.4 2.8 4 2.8 0 2.8-2.9 2.8 2.9 2.8-0.6 2.8-3.2 2.8 3.8 2.7-3 2.8 1.3 2.8-3 2.8 2.5 2.8 1.5 2.8-0.1 2.8 4.5 2.8-4.4 2.8-0.5 2.8-2.8 2.8 4.7 2.8-2.4 2.7 3.4 2.8-1.5 2.8 3.1 2.8-2.4 2.8-1.5 2.8-0.3 2.8-0.5 2.8-0.9 2.8 3.9 2.8-1.8 2.8-0.4 2.8 0.2 2.8-4.5 2.7 7 2.8-1.9 2.8-1.2 2.8-0.5 2.8-0.5 2.8 1.6 2.8-0.1 2.8 4.3 2.8-1.8 2.8-0.9 2.8 1.3 2.8-0.3 2.7-1.1 2.8-0.8 2.8 1.2 2.8-1.4 2.8 1.8 2.8-1.6 2.8 1.3 2.8-2.4 2.8 2.9 2.8-1.1 2.8 3.4 2.8-4.2 2.8 2.5 2.7-1.8 2.8 1.6 2.8-5 2.8 1.9 2.8 5 2.8-0.7 2.8-4.8 2.8 2.1 2.8 2.5 2.8-2.7 2.8 2 2.8-1.8 2.7-0.9 2.8 4.3 2.8-1.5 2.8-1.4 2.8 2.9 2.8-3.7 2.8 1.2 2.8-0.5 2.8 1.5 2.8 0 2.8 0.4 2.8 1.1 2.8-2.1 2.7 2.1 2.8-2.4 2.8 1.9 2.8-1 2.8 0.3 2.8-1.6 2.8 2.8 2.8-2.6 2.8 2.6 2.8-1.4 2.8 0.4 2.8 0.1 2.7-0.5 2.8-0.5 2.8 1.9 2.8-2.3 2.8 2.1 2.8-0.4 2.8 0.6 2.8-0.1 2.8-2 2.8 1.8 2.8 0.3 2.8-0.1 2.8-1.2 2.7 1.3 2.8-2.2 2.8 2 2.8-1.4 2.8 0.1 2.8 1.5 2.8-0.9 2.8-0.6 2.8 0.3 2.8 1.2 2.8 0 2.8-0.8 2.7 0.8 2.8 0 2.8 0 2.8 0 2.8-1 2.8 0.4 2.8 0"/>
<path stroke="#808080" stroke-width="2.9" d="M105.8 834.8l2.8-7 2.8-6.5 2.8-5.8 2.8-5.6 2.8-4.9 2.8-3.1 2.7-1.5 2.8-0.3 2.8 2 2.8 3.8 2.8 6.5 2.8 9.3 2.8 9.8 2.8 10.8 2.8 11.9 2.8 12.7 2.8 14.3 2.8 15.1 2.7 15.3 2.8 16.1 2.8 15.7 2.8 14 2.8 13.1 2.8 12.5 2.8 12 2.8 11.8 2.8 11.5 2.8 11.1 2.8 10.3 2.8 9.5 2.8 8.7 2.7 8.3 2.8 7.6 2.8 7.1 2.8 6.4 2.8 6 2.8 5.6 2.8 5.1 2.8 4.5 2.8 4 2.8 3.7 2.8 3.2 2.8 2.4 2.7 1.9 2.8 1.7 2.8 1.3 2.8 0.7 2.8 0.5 2.8 0.3 2.8 0.2 2.8 0 2.8-0.6 2.8-1.1 2.8-1.3 2.8-2.1 2.8-2.7 2.7-3.2 2.8-3.2 2.8-3 2.8-2.8 2.8-2.8 2.8-2.8 2.8-2.7 2.8-2.6 2.8-2.5 2.8-2.3 2.8-2.3 2.8-2.2 2.7-2.1 2.8-1.7 2.8-1.5 2.8-1.5 2.8-1.3 2.8-1.1 2.8-0.6 2.8 0 2.8 0.3 2.8 0.4 2.8 0.8 2.8 1.3 2.8 1.7 2.7 1.6 2.8 1.8 2.8 2 2.8 2.1 2.8 2.4 2.8 2.5 2.8 2.9 2.8 3.1 2.8 3.2 2.8 3.3 2.8 3.5 2.8 3.7 2.7 3.6 2.8 3.5 2.8 3.3 2.8 3 2.8 2.7 2.8 2.7 2.8 2.7 2.8 2.7 2.8 3 2.8 3.1 2.8 3 2.8 2.7 2.8 2.4 2.7 2.1 2.8 2 2.8 1.8 2.8 1.4 2.8 1.2 2.8 0.9 2.8 0.6 2.8 0.6 2.8 0 2.8-0.2 2.8 0.4 2.8 0 2.7-0.2 2.8-0.6 2.8-0.6 2.8 0.9 2.8-1 2.8-0.5 2.8-1 2.8 0.1 2.8-0.7 2.8-1.7 2.8-0.2 2.8-1.7 2.8-0.3 2.7 0.2 2.8-1.7 2.8 0 2.8-1.5 2.8 1.1 2.8-0.7 2.8-4.4 2.8-4.9 2.8-1.4 2.8-1 2.8 0 2.8 1.7 2.7 0 2.8-4.8 2.8-0.1 2.8-0.8 2.8-3.3 2.8-0.8 2.8-3.5 2.8 0.3 2.8 0.2 2.8-2.5 2.8 0.1 2.8-2.7 2.8-0.6 2.7-2.2 2.8-0.6 2.8-0.8 2.8-0.1 2.8-2.9 2.8-0.3 2.8-1.2 2.8-0.2 2.8-2 2.8-1.2 2.8-0.4 2.8 0.4 2.7-0.9 2.8 0.6 2.8-1.5 2.8 0.2 2.8-0.6 2.8 0.3 2.8-1.4 2.8 1.9 2.8-1.2 2.8 0.6 2.8 0.4 2.8 2.5 2.8-1.2 2.7-0.8 2.8 2.1 2.8-0.1 2.8 2.6 2.8-0.8 2.8 1.4 2.8 0.8 2.8 3.7 2.8-0.9 2.8 3 2.8 0 2.8 2.2 2.7 0.6 2.8 3.1 2.8 1 2.8 2.1 2.8 2.2 2.8 1.4 2.8 1.4 2.8 2.6 2.8 2.6 2.8 0.8 2.8 2.5 2.8 1.4 2.8 1.7 2.7 1.9 2.8 3.2 2.8 1 2.8 1.6 2.8-0.7 2.8 2.9 2.8 1.7 2.8 3.6 2.8-0.4 2.8 2.5 2.8 0.7 2.8 2.6 2.7 0.9 2.8 0.7 2.8 3.2 2.8 0.5 2.8 0.6 2.8 1 2.8 1.1 2.8 3.2 2.8 0.6 2.8 1.3 2.8 2.4 2.8-1.7 2.8 1.9 2.7-1 2.8 1.5 2.8 1.5 2.8 1.2 2.8 1.8 2.8-2.6 2.8 1.2 2.8 1.4 2.8-0.7 2.8 0.6 2.8 2.2 2.8-0.8 2.7 1 2.8-1.2 2.8 6.5 2.8-4 2.8 1.2 2.8-1.5 2.8 3.8 2.8-2.7 2.8-0.5 2.8 3.3 2.8-2.8 2.8 4.6 2.8-1.4 2.7-0.9 2.8-3.5 2.8 1.1 2.8 3.5 2.8-2.6 2.8 5.1 2.8-4.4 2.8 3.8 2.8-3.7 2.8-4.1 2.8 5.6 2.8-3.2 2.7 1.9 2.8 0.9 2.8 0.9 2.8-1.1 2.8 0.7 2.8-1 2.8 1.8 2.8 0.1 2.8-3.5 2.8-0.8 2.8 3.3 2.8 1.3 2.8-0.8 2.7-1.7 2.8 0 2.8-0.7 2.8-1.2 2.8 2.7 2.8 0.8 2.8-2.3 2.8-0.8 2.8 2.9 2.8 1.1 2.8-1.4 2.8-5.1 2.7 3.8 2.8 2.4 2.8-0.7 2.8 1.6 2.8-0.8 2.8-1.8 2.8 0.4 2.8 0.7 2.8 2.4 2.8-0.3 2.8-3.2 2.8 2.7 2.8 0.3 2.7-3.5 2.8 3.3 2.8-2.8 2.8 0.4 2.8 1.9 2.8 1.1 2.8-4.5 2.8 3.8 2.8-2.5 2.8 2.4 2.8-2.1 2.8 1.6 2.7-0.5 2.8-1.7 2.8 3.1 2.8-2.4 2.8 0.7 2.8 1.6 2.8-0.1 2.8-2.8 2.8 1.4 2.8-0.5 2.8 2.4 2.8-0.6 2.8-0.8 2.7-2.8 2.8 0.4 2.8 2.1 2.8 0.8 2.8 1.1 2.8-0.2 2.8-1.7 2.8-0.5 2.8 2.4 2.8-2.4 2.8 1.4 2.8-0.9 2.7-0.7 2.8 1.2 2.8 0.4 2.8 0.7 2.8 0.2 2.8-0.4 2.8-0.8 2.8 0.2 2.8 0.3 2.8-0.4 2.8-0.2 2.8 0.8 2.8-2.8 2.7 2.4 2.8 0.3 2.8-0.8 2.8 0 2.8 1.5 2.8-0.3 2.8 0.3 2.8 0 2.8 0 2.8-1.6 2.8 1.6 2.8 0 2.7 0 2.8 0 2.8-1.9 2.8 1.9 2.8-1.3 2.8 1.3 2.8-0.4"/>
<path stroke="#000000" stroke-width="2.9" d="M105.8 834.5l2.8-7.4 2.8-6.8 2.8-6.2 2.8-5.8 2.8-5.3 2.8-3.3 2.7-1.7 2.8-0.5 2.8 1.9 2.8 3.8 2.8 6.6 2.8 9.4 2.8 10 2.8 11.1 2.8 12.1 2.8 13.1 2.8 14.6 2.8 15.5 2.7 15.7 2.8 16.5 2.8 16 2.8 14.3 2.8 13.4 2.8 12.7 2.8 12.2 2.8 12 2.8 11.8 2.8 11.4 2.8 10.6 2.8 9.6 2.8 9 2.7 8.5 2.8 7.9 2.8 7.2 2.8 6.5 2.8 6.2 2.8 5.7 2.8 5.2 2.8 4.5 2.8 3.9 2.8 3.7 2.8 3.2 2.8 2.3 2.7 1.7 2.8 1.5 2.8 1.2 2.8 0.6 2.8 0.2 2.8 0.1 2.8 0 2.8-0.2 2.8-0.8 2.8-1.2 2.8-1.6 2.8-2.3 2.8-3 2.7-3.4 2.8-3.4 2.8-3.3 2.8-2.9 2.8-3 2.8-3 2.8-2.9 2.8-2.8 2.8-2.6 2.8-2.6 2.8-2.4 2.8-2.4 2.7-2.1 2.8-1.9 2.8-1.6 2.8-1.5 2.8-1.5 2.8-1.1 2.8-0.7 2.8 0 2.8 0.3 2.8 0.4 2.8 0.8 2.8 1.4 2.8 1.7 2.7 1.8 2.8 1.8 2.8 2.1 2.8 2.3 2.8 2.5 2.8 2.7 2.8 3.1 2.8 3.3 2.8 3.3 2.8 3.6 2.8 3.8 2.8 3.9 2.7 3.9 2.8 3.8 2.8 3.6 2.8 3.2 2.8 3.1 2.8 2.9 2.8 3 2.8 3 2.8 3.2 2.8 3.4 2.8 3.3 2.8 3 2.8 2.6 2.7 2.5 2.8 2.2 2.8 2.1 2.8 1.6 2.8 1.5 2.8 1.1 2.8 1.1 2.8 1 2.8 0.2 2.8 0.7 2.8-0.2 2.8 0.5 2.7 0.3 2.8-0.2 2.8 0.3 2.8-0.2 2.8-0.1 2.8-0.3 2.8 0.2 2.8 0 2.8-1.1 2.8-1.2 2.8 0.2 2.8-0.1 2.8-0.6 2.7 0.2 2.8-1 2.8 1.1 2.8-1.3 2.8 0.1 2.8-0.1 2.8-3.3 2.8-3.4 2.8-3.8 2.8 0.7 2.8 1.2 2.8 3.4 2.7-1.1 2.8-2.4 2.8-1.4 2.8-0.8 2.8-0.3 2.8-1.9 2.8-1 2.8 0.7 2.8-2.1 2.8-0.1 2.8-1.8 2.8-0.6 2.8-1.8 2.7 1 2.8-1.1 2.8-0.5 2.8-2.6 2.8 1.3 2.8-1.8 2.8 0 2.8-1.3 2.8-0.8 2.8-0.6 2.8-0.4 2.8 1.4 2.7-0.8 2.8-0.8 2.8 0 2.8 0.2 2.8-0.5 2.8 0.3 2.8-0.8 2.8 0.6 2.8-0.8 2.8 0.2 2.8-0.6 2.8 1.9 2.8-0.4 2.7 1.6 2.8 0.3 2.8 0.1 2.8 1.4 2.8 0.9 2.8-0.5 2.8 0 2.8 2.3 2.8 0.6 2.8 1 2.8 1.5 2.8 2.3 2.7-1.3 2.8-0.2 2.8 1.9 2.8 0.5 2.8 3.2 2.8 2.2 2.8-0.3 2.8 1.5 2.8 2 2.8 1.3 2.8 0 2.8 1.2 2.8 0.6 2.7 2 2.8 1.2 2.8 2.3 2.8 0.5 2.8-0.2 2.8 1.2 2.8 1.9 2.8 1.1 2.8 0.8 2.8 1.5 2.8 1.1 2.8 1.5 2.7 1.4 2.8-1.5 2.8 3.8 2.8-0.5 2.8 0.8 2.8 1 2.8 0.1 2.8 2.1 2.8-0.9 2.8 1.5 2.8 0.6 2.8 0.8 2.8 0.7 2.7 1.6 2.8 1.2 2.8-0.4 2.8-0.3 2.8 0.9 2.8 0.9 2.8-2.1 2.8 1.1 2.8-2.3 2.8 4.7 2.8-0.7 2.8-0.5 2.7 0.1 2.8 0.8 2.8 1.8 2.8-1.2 2.8 1.3 2.8 1 2.8 2.1 2.8-2.2 2.8-2.2 2.8-0.5 2.8 3.9 2.8 0.7 2.8-4.4 2.7 3.1 2.8-2 2.8 2.8 2.8-0.9 2.8-2.4 2.8-0.1 2.8-1 2.8 2.5 2.8 0.7 2.8 0.2 2.8-0.6 2.8 2.1 2.7-0.2 2.8-0.6 2.8-2.5 2.8 0 2.8-0.1 2.8-1.8 2.8 1.7 2.8 2.7 2.8 1.7 2.8-1.8 2.8-1.8 2.8 0.1 2.8 1.7 2.7-0.8 2.8 2.6 2.8-3.5 2.8 2.3 2.8-1.4 2.8-0.1 2.8 3.6 2.8-3.6 2.8-0.5 2.8 0.4 2.8 0.7 2.8 3.3 2.7-5.3 2.8 3.1 2.8 2.2 2.8-0.5 2.8-0.4 2.8-2.4 2.8-1.9 2.8 4.5 2.8-1.6 2.8-1.9 2.8 0.5 2.8-0.4 2.8 1.2 2.7 2.8 2.8-2.6 2.8-1 2.8 3.7 2.8-0.7 2.8-1.2 2.8 1.9 2.8 0 2.8-0.8 2.8 0.7 2.8-3 2.8 2.1 2.7-0.7 2.8-0.3 2.8 0.4 2.8 0.1 2.8-0.4 2.8 0.5 2.8-0.5 2.8 1.9 2.8 0 2.8-1.5 2.8 0.5 2.8 1 2.8-0.5 2.7-1.2 2.8 1.5 2.8-0.2 2.8-2.9 2.8 0.6 2.8 2.7 2.8-2 2.8 0.4 2.8-1.4 2.8 0.9 2.8 0.4 2.8 1.7 2.7-1.8 2.8 1 2.8 0 2.8-0.2 2.8-0.3 2.8-1.1 2.8-1.1 2.8 3.5 2.8-1.7 2.8 1.6 2.8-0.6 2.8-0.9 2.8 0.1 2.7 0.8 2.8 0.4 2.8-2.6 2.8 2.4 2.8 0 2.8 0.5 2.8-1.8 2.8 1.8 2.8 0 2.8 0 2.8-1.2 2.8 1.2 2.7 0 2.8-0.9 2.8-0.5 2.8 1.4 2.8-2 2.8 1.9 2.8-2.1"/>
<path stroke="#ff0000" stroke-width="2.9" d="M105.8 834.1l2.8-7.6 2.8-7 2.8-6.4 2.8-6.1 2.8-5.4 2.8-3.5 2.7-1.8 2.8-0.6 2.8 1.9 2.8 3.7 2.8 6.7 2.8 9.6 2.8 10.1 2.8 11.2 2.8 12.3 2.8 13.3 2.8 14.9 2.8 15.7 2.7 16 2.8 16.7 2.8 16.2 2.8 14.5 2.8 13.5 2.8 12.9 2.8 12.4 2.8 12.1 2.8 12 2.8 11.5 2.8 10.8 2.8 9.8 2.8 9.1 2.7 8.6 2.8 8 2.8 7.3 2.8 6.6 2.8 6.2 2.8 5.8 2.8 5.3 2.8 4.5 2.8 4 2.8 3.6 2.8 3.1 2.8 2.3 2.7 1.6 2.8 1.4 2.8 1.1 2.8 0.4 2.8 0.1 2.8 0 2.8-0.1 2.8-0.3 2.8-0.9 2.8-1.4 2.8-1.6 2.8-2.5 2.8-3.2 2.7-3.5 2.8-3.6 2.8-3.4 2.8-3.1 2.8-3.1 2.8-3.2 2.8-3 2.8-2.9 2.8-2.7 2.8-2.6 2.8-2.6 2.8-2.4 2.7-2.3 2.8-1.9 2.8-1.7 2.8-1.6 2.8-1.5 2.8-1.2 2.8-0.6 2.8-0.1 2.8 0.3 2.8 0.4 2.8 0.9 2.8 1.4 2.8 1.7 2.7 1.8 2.8 2 2.8 2.1 2.8 2.4 2.8 2.5 2.8 2.9 2.8 3.2 2.8 3.4 2.8 3.5 2.8 3.7 2.8 4 2.8 4.1 2.7 4.1 2.8 3.9 2.8 3.8 2.8 3.4 2.8 3.2 2.8 3.1 2.8 3.1 2.8 3.2 2.8 3.5 2.8 3.5 2.8 3.4 2.8 3.2 2.8 2.9 2.7 2.6 2.8 2.3 2.8 2.5 2.8 1.6 2.8 1.7 2.8 1.2 2.8 1.3 2.8 0.9 2.8 0.9 2.8 0.6 2.8 0.5 2.8 0.2 2.7 0.2 2.8 0.3 2.8 0.3 2.8 0.2 2.8 0 2.8 0.5 2.8-1.1 2.8 0.8 2.8 0.5 2.8-1.8 2.8-0.2 2.8 0.9 2.8-1.8 2.7 1.2 2.8 0.1 2.8 0.2 2.8 0.4 2.8 0 2.8-1 2.8 0 2.8-5.1 2.8-4.5 2.8 0.6 2.8 4.5 2.8 0.9 2.7-0.1 2.8-2.2 2.8-0.4 2.8-0.3 2.8-0.4 2.8-2.3 2.8-0.1 2.8-0.9 2.8-0.5 2.8 1.1 2.8-1.4 2.8-1.2 2.8-0.1 2.7-1.9 2.8 1.9 2.8-1 2.8-1.6 2.8 0.8 2.8-1.1 2.8-0.4 2.8 0 2.8-2.3 2.8 0.7 2.8 0.7 2.8-1.1 2.7-0.6 2.8 0.8 2.8-0.3 2.8 0.2 2.8-0.2 2.8-1.2 2.8 0.1 2.8 1.3 2.8-0.8 2.8 1.1 2.8 0.2 2.8-0.8 2.8-1.2 2.7 1.3 2.8-0.2 2.8 1.1 2.8 2 2.8-0.3 2.8-0.6 2.8 1.2 2.8 1.4 2.8 1.1 2.8-1.4 2.8 2.3 2.8 0.9 2.7 0.9 2.8 0.6 2.8 0 2.8 0.9 2.8 1.4 2.8 0.3 2.8 0.5 2.8 1.1 2.8 2.7 2.8 0.9 2.8-0.9 2.8 1.2 2.8 1.1 2.7 1.6 2.8-0.5 2.8 1.1 2.8 0.2 2.8 0.4 2.8 1.4 2.8-0.2 2.8 3.5 2.8-1.6 2.8 2.1 2.8-0.3 2.8 1.4 2.7 1.4 2.8-1.1 2.8 1.8 2.8 0.5 2.8 0.8 2.8-1.6 2.8 1.4 2.8 2.8 2.8-0.5 2.8-1.4 2.8 3.1 2.8-1.3 2.8 1.2 2.7 0.2 2.8 0.5 2.8 1.8 2.8-2.4 2.8 1.4 2.8 0.3 2.8-0.1 2.8-0.5 2.8 0.7 2.8 0.3 2.8-0.5 2.8 1.2 2.7 0.7 2.8-1.2 2.8 0.9 2.8 0.6 2.8-0.5 2.8 2.6 2.8-0.2 2.8 1.9 2.8-3.6 2.8-4.9 2.8 6.2 2.8-1.3 2.8-1.1 2.7-1.6 2.8 7.9 2.8-6.3 2.8 3.5 2.8-3.3 2.8-2.5 2.8 3.2 2.8-1.4 2.8 2.8 2.8 1.9 2.8-1.8 2.8-2.8 2.7 1.2 2.8 2.9 2.8 0.1 2.8-2.3 2.8 0.3 2.8 1.1 2.8 0.7 2.8-0.8 2.8-0.7 2.8 0.5 2.8 0.1 2.8-0.4 2.8-0.4 2.7-0.3 2.8 2.8 2.8 0.9 2.8 1 2.8 0 2.8-7.4 2.8 3.9 2.8 0 2.8-1.2 2.8-0.7 2.8 1.2 2.8 1.2 2.7 3 2.8-5.2 2.8 2.9 2.8-3.7 2.8 1.7 2.8 3 2.8 0.8 2.8-0.3 2.8-5.3 2.8 4.9 2.8 1.1 2.8-1.9 2.8-0.9 2.7 2.9 2.8 0 2.8-1.9 2.8 1.9 2.8 0 2.8-1.9 2.8-1.1 2.8 2.6 2.8 0.4 2.8-2 2.8-2.5 2.8 4.2 2.7-1.5 2.8 1.6 2.8-2.9 2.8-0.6 2.8 0 2.8 2.7 2.8 1 2.8-2.9 2.8 0.8 2.8-0.6 2.8 1.6 2.8 1.1 2.8 0 2.7 0 2.8-1.7 2.8 1.7 2.8-1.4 2.8 0.6 2.8-1.3 2.8 1.5 2.8-0.8 2.8 1.4 2.8 0 2.8 0 2.8-1.1 2.7-1.9 2.8 3 2.8 0 2.8 0 2.8-1.7 2.8 1.7 2.8-0.3 2.8-0.9 2.8-1.4 2.8 1.2 2.8 0.4 2.8 1 2.8-1 2.7 1 2.8 0 2.8 0 2.8-0.2 2.8 0.2 2.8 0 2.8-0.9 2.8 0.2 2.8-0.3 2.8 0.9 2.8-2.4 2.8 2.2 2.7 0.2 2.8-0.2 2.8 0.3 2.8 0 2.8-0.1 2.8-1.2 2.8-0.1"/>
<path stroke="#00ff00" stroke-width="2.9" d="M105.8 833.8l2.8-7.8 2.8-7.3 2.8-6.5 2.8-6.3 2.8-5.6 2.8-3.6 2.7-2 2.8-0.7 2.8 1.9 2.8 3.8 2.8 6.7 2.8 9.7 2.8 10.3 2.8 11.3 2.8 12.5 2.8 13.5 2.8 15.1 2.8 15.9 2.7 16.2 2.8 16.9 2.8 16.4 2.8 14.7 2.8 13.6 2.8 13 2.8 12.5 2.8 12.3 2.8 12.1 2.8 11.6 2.8 10.9 2.8 10 2.8 9.2 2.7 8.7 2.8 8.1 2.8 7.4 2.8 6.7 2.8 6.3 2.8 5.8 2.8 5.3 2.8 4.5 2.8 4 2.8 3.6 2.8 3.1 2.8 2.2 2.7 1.5 2.8 1.4 2.8 0.9 2.8 0.4 2.8 0 2.8-0.1 2.8-0.2 2.8-0.4 2.8-1 2.8-1.5 2.8-1.8 2.8-2.6 2.8-3.3 2.7-3.7 2.8-3.7 2.8-3.5 2.8-3.2 2.8-3.3 2.8-3.2 2.8-3.1 2.8-3.1 2.8-2.8 2.8-2.7 2.8-2.6 2.8-2.5 2.7-2.3 2.8-2.1 2.8-1.7 2.8-1.6 2.8-1.6 2.8-1.2 2.8-0.7 2.8 0 2.8 0.2 2.8 0.5 2.8 0.8 2.8 1.5 2.8 1.8 2.7 1.8 2.8 2 2.8 2.2 2.8 2.4 2.8 2.7 2.8 2.9 2.8 3.3 2.8 3.5 2.8 3.7 2.8 3.8 2.8 4.1 2.8 4.2 2.7 4.3 2.8 4.1 2.8 3.9 2.8 3.5 2.8 3.4 2.8 3.3 2.8 3.2 2.8 3.4 2.8 3.6 2.8 3.6 2.8 3.6 2.8 3.4 2.8 2.9 2.7 2.8 2.8 2.7 2.8 2.3 2.8 2 2.8 1.6 2.8 1.6 2.8 1.3 2.8 1.3 2.8 0.7 2.8 0.9 2.8 0.7 2.8 0.7 2.7 0.2 2.8 0.8 2.8-0.2 2.8 0.2 2.8 0.7 2.8-0.3 2.8 0.1 2.8 0.3 2.8-0.6 2.8 0 2.8 1.2 2.8 0.5 2.8-1.8 2.7 0.6 2.8 0.3 2.8 0.6 2.8 0.6 2.8 1.4 2.8-1.7 2.8-1.8 2.8-3 2.8-2.5 2.8-0.4 2.8 4.2 2.8 1.6 2.7 0.8 2.8-3.2 2.8 0.5 2.8-1.1 2.8 0.3 2.8-1.2 2.8 0.6 2.8-0.3 2.8-0.1 2.8-0.9 2.8 0.7 2.8-1.3 2.8-1.1 2.7 0.2 2.8 0.1 2.8 1.4 2.8-1.3 2.8-1.6 2.8-0.4 2.8 0.7 2.8-1.6 2.8 0.7 2.8 0.9 2.8-2.1 2.8 0.8 2.7-1 2.8 1.4 2.8-0.7 2.8-0.2 2.8 1.2 2.8-0.9 2.8-0.1 2.8-0.8 2.8 0.6 2.8 0.5 2.8-0.8 2.8 1.2 2.8-1.5 2.7 1.4 2.8 0.1 2.8 0.9 2.8 0.8 2.8-1.1 2.8-0.5 2.8 1.1 2.8 0.1 2.8 0.6 2.8 0.7 2.8 1.4 2.8-0.4 2.7 0.4 2.8 0.9 2.8 0.8 2.8-0.6 2.8-0.2 2.8 2.4 2.8-1.1 2.8 0.5 2.8 1.8 2.8 1.1 2.8-1.4 2.8 1.4 2.8 1.3 2.7 1.1 2.8-0.9 2.8 3 2.8-1.4 2.8 0 2.8 0.1 2.8 2 2.8 0.9 2.8-0.9 2.8 1.6 2.8-0.8 2.8 1 2.7 0.6 2.8-1.7 2.8 3.5 2.8-0.4 2.8-0.9 2.8 0.1 2.8 1.1 2.8 0.7 2.8-0.2 2.8 0.4 2.8 1.1 2.8 0 2.8 2.3 2.7-1.7 2.8 1 2.8 0.3 2.8 1.3 2.8-1.8 2.8-1.7 2.8-1 2.8 3.7 2.8-1.1 2.8 1 2.8-0.4 2.8 0.4 2.7-0.7 2.8 0.9 2.8-0.8 2.8 0.6 2.8 2 2.8 0.8 2.8-2.5 2.8-2.2 2.8 2.6 2.8 1.6 2.8-2.2 2.8 3 2.8-4 2.7 3.3 2.8 1.5 2.8-3.1 2.8 1.2 2.8-1.2 2.8 1.7 2.8-1.9 2.8 2 2.8-0.2 2.8-5 2.8 3.6 2.8 2 2.7-1.7 2.8-1.9 2.8 0.3 2.8 2.8 2.8-1.1 2.8 1.7 2.8 1.2 2.8-2.2 2.8-0.8 2.8 3.6 2.8-3.3 2.8 2.7 2.8-5.9 2.7 4.1 2.8 1.4 2.8-2.9 2.8 3.1 2.8 1 2.8-5.1 2.8 2.8 2.8-0.6 2.8 0.3 2.8-6.8 2.8 6.9 2.8 0.7 2.7 0.6 2.8-1 2.8 1.6 2.8 0.5 2.8 0.2 2.8-1.2 2.8-1.1 2.8-1.8 2.8 1.1 2.8-2.4 2.8 1.9 2.8-2.3 2.8 5.5 2.7-1.8 2.8 0.7 2.8 1.4 2.8-5 2.8 2 2.8 2.6 2.8-0.7 2.8 1.1 2.8 0 2.8-2.5 2.8 2.5 2.8-2 2.7 0.7 2.8-0.4 2.8 1.7 2.8-2.3 2.8-2.5 2.8 4.4 2.8-1.7 2.8 0.6 2.8-0.2 2.8 0.7 2.8-1.5 2.8 1.8 2.8-1.8 2.7 1.2 2.8 1.3 2.8 0 2.8-1 2.8 0.9 2.8 0.1 2.8-1.4 2.8 1.4 2.8-0.8 2.8-2.4 2.8 2.7 2.8-2.3 2.7 0.7 2.8 2.1 2.8 0 2.8-3 2.8-0.7 2.8 3.7 2.8-3.6 2.8 2.3 2.8-0.3 2.8-0.7 2.8 1.8 2.8-0.7 2.8 1.2 2.7-0.4 2.8-0.7 2.8 1.1 2.8-1.1 2.8-0.3 2.8 1.4 2.8-1 2.8-1.8 2.8 2.3 2.8-2.9 2.8 2.9 2.8-0.2 2.7 0.7 2.8-0.3 2.8 0.3 2.8 0 2.8-1.8 2.8 1.8 2.8 0"/>
<path stroke="#0000ff" stroke-width="2.9" d="M105.8 833.4l2.8-7.9 2.8-7.4 2.8-6.7 2.8-6.3 2.8-5.7 2.8-3.8 2.7-2 2.8-0.7 2.8 1.9 2.8 3.8 2.8 6.7 2.8 9.9 2.8 10.3 2.8 11.5 2.8 12.6 2.8 13.6 2.8 15.2 2.8 16.1 2.7 16.2 2.8 17.1 2.8 16.5 2.8 14.7 2.8 13.7 2.8 13.1 2.8 12.5 2.8 12.4 2.8 12.1 2.8 11.7 2.8 11 2.8 10 2.8 9.3 2.7 8.7 2.8 8.1 2.8 7.5 2.8 6.7 2.8 6.3 2.8 5.9 2.8 5.2 2.8 4.6 2.8 4 2.8 3.6 2.8 3.1 2.8 2.1 2.7 1.5 2.8 1.4 2.8 0.9 2.8 0.3 2.8 0 2.8-0.2 2.8-0.3 2.8-0.5 2.8-1 2.8-1.6 2.8-1.8 2.8-2.7 2.8-3.4 2.7-3.7 2.8-3.8 2.8-3.6 2.8-3.2 2.8-3.4 2.8-3.2 2.8-3.2 2.8-3.1 2.8-2.9 2.8-2.7 2.8-2.7 2.8-2.6 2.7-2.3 2.8-2.1 2.8-1.7 2.8-1.7 2.8-1.6 2.8-1.3 2.8-0.7 2.8 0 2.8 0.3 2.8 0.4 2.8 0.9 2.8 1.5 2.8 1.8 2.7 1.8 2.8 2.1 2.8 2.2 2.8 2.5 2.8 2.7 2.8 3 2.8 3.3 2.8 3.6 2.8 3.7 2.8 3.9 2.8 4.2 2.8 4.3 2.7 4.3 2.8 4.2 2.8 4 2.8 3.6 2.8 3.5 2.8 3.3 2.8 3.3 2.8 3.5 2.8 3.6 2.8 3.7 2.8 3.7 2.8 3.4 2.8 3.1 2.7 2.8 2.8 2.7 2.8 2.4 2.8 2 2.8 2 2.8 1.4 2.8 1.4 2.8 1.2 2.8 1 2.8 0.9 2.8 0.5 2.8 0.7 2.7 0.6 2.8 0.6 2.8 0 2.8 1.2 2.8-0.8 2.8 1.2 2.8 0.3 2.8-0.6 2.8 0.8 2.8-1 2.8 1.5 2.8-1.2 2.8 0.2 2.7 0.2 2.8 1 2.8-0.1 2.8 0.9 2.8 0.4 2.8 1.6 2.8-3.9 2.8-4.1 2.8-1.4 2.8-0.1 2.8 3 2.8 2.5 2.7 0.9 2.8-0.3 2.8-2.6 2.8 1.1 2.8-0.6 2.8-1.3 2.8-0.9 2.8 1 2.8-0.1 2.8 0 2.8-0.4 2.8-0.2 2.8 1.2 2.7-1.5 2.8-0.4 2.8 0 2.8-0.3 2.8-0.5 2.8-0.9 2.8 1.5 2.8-0.6 2.8-0.9 2.8-1.5 2.8 0.4 2.8 1.1 2.7-0.2 2.8 0.7 2.8-1 2.8 0.6 2.8 0.1 2.8-0.3 2.8-1.1 2.8 1.3 2.8-1.5 2.8 0.3 2.8 1.3 2.8 0.4 2.8-1.5 2.7 0.6 2.8 2 2.8-1 2.8 0.8 2.8 0.8 2.8-0.1 2.8-0.6 2.8 1.2 2.8 0 2.8-0.4 2.8 1.9 2.8-0.1 2.7-1.2 2.8 1.3 2.8-0.4 2.8 0.4 2.8 0.5 2.8 0.8 2.8-0.9 2.8 0.3 2.8 1.9 2.8 0.9 2.8-1.9 2.8 3.2 2.8-0.1 2.7 0.3 2.8-0.7 2.8 1.3 2.8-0.5 2.8 0.6 2.8 0.7 2.8-0.5 2.8 1.8 2.8-1 2.8 0.8 2.8-0.3 2.8 0.4 2.7 1.8 2.8 0.1 2.8-0.1 2.8 0.3 2.8 0 2.8 1.1 2.8 0 2.8 0.2 2.8-0.1 2.8 0.9 2.8 0.2 2.8-0.6 2.8 1.4 2.7-0.9 2.8 1.6 2.8 0.3 2.8-0.1 2.8-0.1 2.8-0.2 2.8 0.7 2.8-2.2 2.8 0.1 2.8 1.8 2.8-0.2 2.8 0.3 2.7-0.6 2.8-0.3 2.8 0 2.8 2.1 2.8 0.7 2.8-4 2.8 1.5 2.8 2.1 2.8-2.5 2.8 1.5 2.8-1.1 2.8 1.2 2.8-0.1 2.7-1.8 2.8 2.1 2.8 1.6 2.8-4.2 2.8 2.1 2.8 0.4 2.8-0.8 2.8 1.1 2.8-1.4 2.8 1.5 2.8 1.6 2.8 0.4 2.7-1.6 2.8-1.2 2.8 4 2.8-0.8 2.8-1.3 2.8-1.7 2.8 1.2 2.8 0.3 2.8 1.5 2.8-0.9 2.8-4.7 2.8 4.8 2.8-2.9 2.7-0.2 2.8 4.2 2.8-8 2.8 2.5 2.8 3.1 2.8 0.8 2.8-4 2.8 5.2 2.8-2.1 2.8 3.4 2.8-6.5 2.8 1.7 2.7 4.2 2.8-0.2 2.8 0.8 2.8-1.7 2.8 0.6 2.8-0.9 2.8 0 2.8-4.3 2.8 2.6 2.8-0.2 2.8 1 2.8-3.5 2.8 5.1 2.7-3.7 2.8 2.2 2.8 1.2 2.8-2.5 2.8 0.7 2.8 3.4 2.8-2.2 2.8-0.5 2.8 1.6 2.8 0.6 2.8-0.2 2.8 0.7 2.7-1.7 2.8-0.5 2.8 2.2 2.8-2.8 2.8 1.2 2.8 0.3 2.8-0.3 2.8 1.6 2.8-2.5 2.8-0.8 2.8-0.5 2.8 3.2 2.8-2.2 2.7 2.2 2.8 0.2 2.8-1 2.8-1.1 2.8 2.5 2.8-3 2.8 0.5 2.8 0.2 2.8 1.8 2.8 0.5 2.8-3.9 2.8 0.5 2.7 3.4 2.8-0.4 2.8 0.4 2.8-1.1 2.8 0 2.8 1.1 2.8-0.1 2.8-0.5 2.8-0.8 2.8 1.4 2.8 0 2.8 0 2.8-1.8 2.7 1 2.8 0.7 2.8-0.7 2.8-0.6 2.8-1.4 2.8 2.8 2.8-2.1 2.8 1.5 2.8-1 2.8 0.1 2.8 0.1 2.8 1.4 2.7-0.5 2.8-2 2.8 2.1 2.8 0.4 2.8-0.2 2.8-1.2 2.8 0.1"/>
<path stroke="#00ffff" stroke-width="2.9" d="M105.8 833.1l2.8-8.1 2.8-7.5 2.8-6.8 2.8-6.4 2.8-5.8 2.8-3.8 2.7-2 2.8-0.8 2.8 1.9 2.8 3.9 2.8 6.8 2.8 9.9 2.8 10.4 2.8 11.6 2.8 12.7 2.8 13.7 2.8 15.3 2.8 16.2 2.7 16.3 2.8 17.2 2.8 16.5 2.8 14.8 2.8 13.8 2.8 13 2.8 12.6 2.8 12.4 2.8 12.2 2.8 11.8 2.8 11 2.8 10 2.8 9.3 2.7 8.8 2.8 8.1 2.8 7.5 2.8 6.7 2.8 6.3 2.8 5.9 2.8 5.3 2.8 4.6 2.8 3.9 2.8 3.7 2.8 3 2.8 2.2 2.7 1.5 2.8 1.2 2.8 0.9 2.8 0.3 2.8-0.1 2.8-0.2 2.8-0.3 2.8-0.5 2.8-1.1 2.8-1.6 2.8-1.9 2.8-2.7 2.8-3.4 2.7-3.8 2.8-3.9 2.8-3.6 2.8-3.3 2.8-3.4 2.8-3.3 2.8-3.3 2.8-3.1 2.8-2.9 2.8-2.8 2.8-2.7 2.8-2.6 2.7-2.4 2.8-2.1 2.8-1.7 2.8-1.8 2.8-1.6 2.8-1.2 2.8-0.7 2.8-0.1 2.8 0.3 2.8 0.4 2.8 0.9 2.8 1.5 2.8 1.8 2.7 2 2.8 2 2.8 2.3 2.8 2.5 2.8 2.7 2.8 3.1 2.8 3.4 2.8 3.6 2.8 3.8 2.8 3.9 2.8 4.2 2.8 4.4 2.7 4.4 2.8 4.2 2.8 4.1 2.8 3.6 2.8 3.5 2.8 3.4 2.8 3.4 2.8 3.5 2.8 3.7 2.8 3.8 2.8 3.7 2.8 3.4 2.8 3.1 2.7 2.9 2.8 2.7 2.8 2.4 2.8 2.2 2.8 1.9 2.8 1.7 2.8 1.1 2.8 1.3 2.8 1.1 2.8 0.8 2.8 1 2.8 0.7 2.7 0.3 2.8 1.1 2.8 0.6 2.8-0.1 2.8 0 2.8 1.1 2.8-0.2 2.8-0.5 2.8 1.4 2.8-0.6 2.8 0.5 2.8-0.2 2.8-0.9 2.7 0.8 2.8 0.8 2.8 0.6 2.8 0.7 2.8 0.4 2.8-0.5 2.8 0.4 2.8-5.2 2.8-1.8 2.8-0.7 2.8 2.6 2.8 4 2.7 0.2 2.8-1.2 2.8-1 2.8 0 2.8 0.6 2.8-1.4 2.8 0.4 2.8-0.3 2.8-0.7 2.8 0.9 2.8-0.8 2.8-0.6 2.8 0 2.7 0.7 2.8-0.9 2.8 1.6 2.8-1.1 2.8 0.1 2.8 0.1 2.8 0.3 2.8-1.3 2.8-0.2 2.8-0.1 2.8-0.4 2.8 0.4 2.7 0.1 2.8-1 2.8-0.1 2.8 0.5 2.8 0 2.8 0.8 2.8-1.6 2.8 1.5 2.8-1.1 2.8 1 2.8-1.4 2.8 1.8 2.8-1.5 2.7 0.5 2.8 1.6 2.8 0 2.8-0.2 2.8-0.2 2.8 0.2 2.8 0.3 2.8 0.2 2.8 0.6 2.8 1.9 2.8-0.5 2.8 0 2.7-0.5 2.8 0.7 2.8-0.3 2.8-0.4 2.8 0.3 2.8 1 2.8-0.3 2.8-0.1 2.8 1.9 2.8 0.4 2.8-1.7 2.8 2.7 2.8-1.7 2.7 2.2 2.8-0.1 2.8 0 2.8-0.5 2.8-0.5 2.8 1.3 2.8 0.5 2.8 2 2.8-0.1 2.8-0.3 2.8-0.8 2.8-0.2 2.7 2.1 2.8 0.3 2.8-0.2 2.8 0.4 2.8-1.2 2.8 0.7 2.8-0.3 2.8 1.8 2.8-1.4 2.8 2 2.8-0.8 2.8-0.5 2.8 2.4 2.7-0.9 2.8-1.5 2.8 2 2.8-1.7 2.8-1.4 2.8 2.8 2.8-0.4 2.8-1.3 2.8 2.6 2.8-2 2.8-1.2 2.8 2.5 2.7 0.8 2.8 0.3 2.8 0.8 2.8-1.9 2.8 0.1 2.8 2.8 2.8 0.2 2.8 0.2 2.8-3 2.8 0.4 2.8-2.8 2.8 6 2.8-2.5 2.7-0.7 2.8 1.2 2.8 2.9 2.8-1 2.8-1.4 2.8-2.7 2.8 5.2 2.8-4.4 2.8 3.4 2.8-0.8 2.8 1.8 2.8-4.7 2.7 4.8 2.8-4.9 2.8 0.4 2.8 4.5 2.8-3.2 2.8-1.2 2.8 1.2 2.8-1.2 2.8 2.2 2.8 1.6 2.8-3.4 2.8 2.4 2.8-0.7 2.7-0.7 2.8 1.4 2.8-3.3 2.8-1.4 2.8 5.8 2.8-1.7 2.8 1.2 2.8-1.2 2.8 2 2.8-1.7 2.8 0 2.8-5 2.7 6.8 2.8 0.1 2.8-2.7 2.8-0.8 2.8 3.2 2.8-0.5 2.8-0.9 2.8-1.3 2.8-0.4 2.8 1.5 2.8 1.9 2.8-3.9 2.8-1 2.7 1.3 2.8 1.8 2.8-3.7 2.8 3.8 2.8 1.7 2.8-2.4 2.8 0.1 2.8 2.1 2.8 0.2 2.8-2.8 2.8 1.3 2.8-3.3 2.7 3.4 2.8 1.4 2.8-2.1 2.8 0.2 2.8-1.3 2.8 1.7 2.8 1.5 2.8-1.7 2.8 1.7 2.8-1.1 2.8 0.1 2.8 1 2.8 0 2.7 0 2.8-3.4 2.8 3.4 2.8-0.4 2.8-0.7 2.8 1.1 2.8-0.2 2.8 0.2 2.8-1.9 2.8 1.9 2.8 0 2.8 0 2.7-3.3 2.8 3.1 2.8-2.2 2.8 2.4 2.8 0 2.8 0 2.8-0.9 2.8 0.9 2.8-0.6 2.8-0.1 2.8 0.7 2.8 0 2.8-1 2.7 1 2.8-2.1 2.8 2.1 2.8-1.6 2.8 1 2.8 0.1 2.8 0.1 2.8 0.4 2.8 0 2.8 0 2.8 0 2.8-0.1 2.7-0.6 2.8-0.5 2.8 1.2 2.8-1.1 2.8 0.7 2.8 0.4 2.8-1.2"/>
<path stroke="#ff00ff" stroke-width="2.9" d="M105.8 832.7l2.8-8.2 2.8-7.6 2.8-6.8 2.8-6.6 2.8-5.8 2.8-3.9 2.7-2 2.8-0.7 2.8 1.9 2.8 3.9 2.8 6.8 2.8 10 2.8 10.5 2.8 11.7 2.8 12.8 2.8 13.8 2.8 15.3 2.8 16.3 2.7 16.4 2.8 17.2 2.8 16.6 2.8 14.8 2.8 13.8 2.8 13.1 2.8 12.6 2.8 12.5 2.8 12.2 2.8 11.8 2.8 11 2.8 10 2.8 9.3 2.7 8.8 2.8 8.2 2.8 7.5 2.8 6.7 2.8 6.3 2.8 5.9 2.8 5.3 2.8 4.6 2.8 4 2.8 3.6 2.8 3 2.8 2.1 2.7 1.5 2.8 1.3 2.8 0.9 2.8 0.2 2.8-0.1 2.8-0.2 2.8-0.4 2.8-0.5 2.8-1.1 2.8-1.6 2.8-2 2.8-2.7 2.8-3.5 2.7-3.8 2.8-3.9 2.8-3.7 2.8-3.3 2.8-3.4 2.8-3.4 2.8-3.3 2.8-3.1 2.8-3 2.8-2.8 2.8-2.8 2.8-2.6 2.7-2.4 2.8-2.1 2.8-1.8 2.8-1.8 2.8-1.6 2.8-1.2 2.8-0.8 2.8 0 2.8 0.3 2.8 0.4 2.8 0.9 2.8 1.5 2.8 1.9 2.7 1.9 2.8 2.1 2.8 2.3 2.8 2.5 2.8 2.8 2.8 3.1 2.8 3.4 2.8 3.7 2.8 3.8 2.8 4 2.8 4.3 2.8 4.4 2.7 4.4 2.8 4.3 2.8 4 2.8 3.8 2.8 3.5 2.8 3.4 2.8 3.4 2.8 3.5 2.8 3.8 2.8 3.8 2.8 3.7 2.8 3.5 2.8 3.1 2.7 2.9 2.8 2.7 2.8 2.4 2.8 2.4 2.8 1.7 2.8 1.5 2.8 1.3 2.8 1.6 2.8 0.7 2.8 1.1 2.8 0.7 2.8 0.7 2.7 0.9 2.8 0.8 2.8 0.2 2.8 0.8 2.8 0.6 2.8-0.3 2.8 0.6 2.8 0.4 2.8-0.4 2.8 0.4 2.8 0.5 2.8 0.3 2.8 0.1 2.7-0.6 2.8-0.3 2.8 1.6 2.8 0.3 2.8 0.8 2.8-0.1 2.8-1.9 2.8-3.6 2.8-1.8 2.8 0.5 2.8 2.5 2.8 3.5 2.7 1.5 2.8-1.3 2.8-2 2.8-0.1 2.8-0.6 2.8 0.6 2.8-0.6 2.8 1 2.8-1.1 2.8 0.5 2.8-0.4 2.8-0.1 2.8-0.9 2.7 0.7 2.8 1 2.8-0.8 2.8-1.4 2.8 0.3 2.8-0.9 2.8 0.6 2.8-0.4 2.8 1.8 2.8-1.1 2.8-1.4 2.8 2 2.7 0 2.8-0.5 2.8-0.5 2.8 0.2 2.8 0.7 2.8-0.3 2.8-1.1 2.8 0 2.8 0.5 2.8 1.4 2.8-2.4 2.8 1.5 2.8-0.1 2.7 0.4 2.8 0.5 2.8-1.7 2.8 2.5 2.8 0.4 2.8-1.1 2.8-0.3 2.8 0.5 2.8-0.1 2.8 0.3 2.8 1.1 2.8 1.1 2.7-0.9 2.8-0.8 2.8 0.1 2.8 0.7 2.8 0.2 2.8-0.5 2.8 0.8 2.8 0.7 2.8 1.1 2.8-0.6 2.8 0.1 2.8 0.4 2.8 0.6 2.7 0.4 2.8 0.1 2.8-0.5 2.8 0.5 2.8-0.5 2.8 1 2.8 0.4 2.8 1.7 2.8-1.2 2.8 0.7 2.8-0.9 2.8 0.1 2.7 1.1 2.8 0.3 2.8 1.3 2.8-0.7 2.8 1.2 2.8-0.8 2.8-0.8 2.8 2 2.8-1.2 2.8 0.3 2.8 1.7 2.8-1.8 2.8 0.4 2.7-1.8 2.8 2.3 2.8 0.3 2.8-0.3 2.8 0.3 2.8 1.1 2.8 2.5 2.8-3.4 2.8-1.2 2.8 1.7 2.8 0.5 2.8-2.3 2.7 0.3 2.8 2 2.8-2 2.8 1.4 2.8 3.2 2.8-7.2 2.8 4 2.8 4.2 2.8-5.6 2.8 4.4 2.8-1.3 2.8 0.6 2.8-1.8 2.7 2.5 2.8-1.5 2.8 0.6 2.8-2.8 2.8 2.1 2.8 0 2.8-0.4 2.8-3.1 2.8 2.9 2.8-0.6 2.8 2.8 2.8-0.1 2.7-6.1 2.8 4.4 2.8 3.4 2.8 0 2.8-2.5 2.8-3.7 2.8 4.3 2.8-2.4 2.8 1.1 2.8 2.1 2.8 1.1 2.8-3.6 2.8 0.3 2.7 3.2 2.8-3.5 2.8-0.4 2.8-0.6 2.8 1.5 2.8-1 2.8-2.4 2.8 3.4 2.8 2.1 2.8-3.9 2.8 1.2 2.8-2 2.7 0.6 2.8 2 2.8 0.2 2.8 2.9 2.8 0 2.8 0 2.8 0 2.8 0 2.8-2 2.8-1 2.8 0.8 2.8-1.4 2.8 0.6 2.7 0.3 2.8 2.7 2.8 0 2.8-3.4 2.8 3.2 2.8-3.6 2.8 2.6 2.8 0.6 2.8-0.5 2.8-0.8 2.8-1.5 2.8 1.6 2.7 1 2.8-2.4 2.8 3.2 2.8-3.2 2.8 2.4 2.8-0.6 2.8-0.4 2.8 1.7 2.8-0.7 2.8 0.8 2.8-4.1 2.8 0.4 2.8 3.7 2.7-0.3 2.8-2.5 2.8 2.1 2.8-0.1 2.8-1.1 2.8-0.4 2.8 2.3 2.8-3.3 2.8-0.8 2.8 3.2 2.8 0.9 2.8-4 2.7 1.3 2.8 2.7 2.8-0.5 2.8 0.5 2.8-0.4 2.8-1.5 2.8-0.5 2.8 0.5 2.8 1.9 2.8-1 2.8-1.1 2.8-0.5 2.8 1.2 2.7 1.4 2.8 0 2.8-0.5 2.8 0.3 2.8-1.2 2.8 0.9 2.8-2.5 2.8 2.8 2.8-1.2 2.8 1.4 2.8-2.2 2.8 2.2 2.7 0 2.8-0.3 2.8 0.3 2.8-1.1 2.8 1.1 2.8 0 2.8-0.7"/>
<path stroke="#ffff00" stroke-width="2.9" d="M105.8 833.2l2.8-8 2.8-7.5 2.8-6.8 2.8-6.5 2.8-5.8 2.8-3.8 2.7-2.1 2.8-0.7 2.8 1.8 2.8 3.9 2.8 6.7 2.8 9.9 2.8 10.5 2.8 11.5 2.8 12.7 2.8 13.7 2.8 15.3 2.8 16.2 2.7 16.4 2.8 17.2 2.8 16.6 2.8 14.8 2.8 13.8 2.8 13.1 2.8 12.6 2.8 12.5 2.8 12.2 2.8 11.8 2.8 11 2.8 10.1 2.8 9.3 2.7 8.8 2.8 8.2 2.8 7.5 2.8 6.8 2.8 6.3 2.8 5.9 2.8 5.3 2.8 4.6 2.8 3.9 2.8 3.7 2.8 3 2.8 2.1 2.7 1.5 2.8 1.3 2.8 0.8 2.8 0.3 2.8-0.1 2.8-0.2 2.8-0.4 2.8-0.5 2.8-1.1 2.8-1.6 2.8-1.9 2.8-2.8 2.8-3.4 2.7-3.8 2.8-3.9 2.8-3.7 2.8-3.3 2.8-3.4 2.8-3.3 2.8-3.3 2.8-3.1 2.8-2.9 2.8-2.8 2.8-2.8 2.8-2.6 2.7-2.4 2.8-2.1 2.8-1.7 2.8-1.8 2.8-1.6 2.8-1.3 2.8-0.7 2.8 0 2.8 0.3 2.8 0.4 2.8 0.9 2.8 1.5 2.8 1.8 2.7 1.9 2.8 2 2.8 2.3 2.8 2.6 2.8 2.7 2.8 3.1 2.8 3.4 2.8 3.6 2.8 3.8 2.8 4 2.8 4.2 2.8 4.4 2.7 4.4 2.8 4.3 2.8 4 2.8 3.7 2.8 3.6 2.8 3.4 2.8 3.4 2.8 3.5 2.8 3.7 2.8 3.9 2.8 3.7 2.8 3.5 2.8 3.1 2.7 2.9 2.8 2.8 2.8 2.4 2.8 2.2 2.8 1.9 2.8 1.7 2.8 1.6 2.8 1 2.8 1.2 2.8 1.3 2.8 0.7 2.8 0.4 2.7 0.6 2.8 1.2 2.8-0.8 2.8 1.5 2.8-0.1 2.8 0.5 2.8 0.3 2.8-0.2 2.8 0.9 2.8-0.2 2.8 0 2.8 1 2.8-0.4 2.7 0.4 2.8-1 2.8 2 2.8-0.4 2.8 1.3 2.8 0.4 2.8-1.8 2.8-4 2.8-1.2 2.8-0.4 2.8 3.3 2.8 4 2.7-0.3 2.8-1.5 2.8-1.3 2.8 0.3 2.8 0.3 2.8-0.5 2.8-0.6 2.8 1.5 2.8-0.3 2.8 0 2.8-1 2.8-0.6 2.8 0.2 2.7 0.8 2.8 0 2.8-0.5 2.8-0.1 2.8-0.5 2.8 0.8 2.8-0.1 2.8-1.3 2.8-0.5 2.8 0.8 2.8-0.6 2.8 0.1 2.7 0.2 2.8 0.8 2.8-1.2 2.8 0.9 2.8 0.1 2.8-0.5 2.8 0.4 2.8 1.1 2.8-0.8 2.8 0.8 2.8-1.5 2.8 1.8 2.8-0.6 2.7-0.6 2.8 1.9 2.8-1.1 2.8 0.9 2.8-0.7 2.8-0.7 2.8-0.2 2.8 1.8 2.8 0 2.8 1.3 2.8-0.5 2.8 0.4 2.7-1.8 2.8 2.1 2.8-1.5 2.8 0.2 2.8 0.7 2.8 0.3 2.8 0.2 2.8-0.1 2.8 1 2.8-1.6 2.8 0.6 2.8 1.4 2.8-0.1 2.7-0.1 2.8 1.1 2.8-0.4 2.8-0.4 2.8 1.9 2.8-1.2 2.8 0.7 2.8 0.4 2.8-0.1 2.8 1.1 2.8-1.1 2.8 1.2 2.7 1.3 2.8-2.2 2.8 1 2.8 0 2.8 0.9 2.8-0.2 2.8-0.9 2.8 1.6 2.8 0.2 2.8 0 2.8-0.6 2.8-0.2 2.8 0.8 2.7-0.1 2.8 0.6 2.8-2.2 2.8 2.8 2.8-0.9 2.8 0.7 2.8-0.3 2.8 0.4 2.8-0.5 2.8-0.3 2.8 1.9 2.8-1.8 2.7 2.2 2.8-0.4 2.8 1.7 2.8-1.4 2.8-1.2 2.8-0.6 2.8 2.1 2.8-2.1 2.8 2.8 2.8-4 2.8 1 2.8 1 2.8-1.1 2.7 0.9 2.8 1.4 2.8-0.8 2.8-0.2 2.8-3.9 2.8 2.8 2.8 0.1 2.8-1 2.8 2.7 2.8-3.9 2.8 3.5 2.8-1.2 2.7-2.8 2.8 4.3 2.8 1.1 2.8-2.3 2.8 0.2 2.8-0.5 2.8 2.7 2.8-3.7 2.8 3.3 2.8 0.6 2.8-4 2.8 4.7 2.8-7.3 2.7 4 2.8 0.3 2.8 4.2 2.8-2.8 2.8 1.7 2.8-1.8 2.8-3 2.8 4.6 2.8-2.5 2.8 0.1 2.8 2.7 2.8 0.3 2.7-0.1 2.8 0.8 2.8 0 2.8-4.7 2.8 1.6 2.8 1.7 2.8 1.3 2.8-6.2 2.8 6.3 2.8-3.6 2.8 1.9 2.8-3.6 2.8 4.9 2.7-2.1 2.8 1.5 2.8-1.4 2.8 0.1 2.8 2.1 2.8-2 2.8 0.7 2.8 1.5 2.8 0 2.8-2.5 2.8 2.5 2.8-2.6 2.7 0.3 2.8 2.3 2.8-3.8 2.8 3.8 2.8-0.3 2.8-3.8 2.8 4.1 2.8-4.1 2.8 2.3 2.8 0.2 2.8 0.7 2.8 0.9 2.8-0.7 2.7 0.1 2.8-0.5 2.8-0.4 2.8 0.9 2.8-2.7 2.8 1.8 2.8 1.4 2.8-2.1 2.8-0.9 2.8 0.5 2.8 2.6 2.8-0.5 2.7-1.2 2.8 1.7 2.8 0 2.8 0 2.8-1.4 2.8 0.7 2.8-0.4 2.8-0.1 2.8 1.1 2.8-1.1 2.8 0.9 2.8 0.2 2.8-0.7 2.7 0.8 2.8-0.2 2.8-2.7 2.8 0.6 2.8 0.9 2.8 0.6 2.8 0.1 2.8 0.3 2.8 0.4 2.8-1.4 2.8 1.4 2.8-0.4 2.7 0.4 2.8-1.6 2.8 1.6 2.8 0 2.8-1.1 2.8 1.1 2.8 0"/>
<path stroke="#808000" stroke-width="2.9" d="M105.8 833.8l2.8-8 2.8-7.4 2.8-6.7 2.8-6.4 2.8-5.8 2.8-3.7 2.7-2.1 2.8-0.8 2.8 1.8 2.8 3.8 2.8 6.7 2.8 9.8 2.8 10.3 2.8 11.5 2.8 12.6 2.8 13.6 2.8 15.3 2.8 16.1 2.7 16.4 2.8 17.1 2.8 16.6 2.8 14.8 2.8 13.8 2.8 13.1 2.8 12.6 2.8 12.4 2.8 12.3 2.8 11.8 2.8 11 2.8 10.1 2.8 9.3 2.7 8.8 2.8 8.2 2.8 7.5 2.8 6.8 2.8 6.4 2.8 5.8 2.8 5.4 2.8 4.6 2.8 3.9 2.8 3.7 2.8 3 2.8 2.1 2.7 1.5 2.8 1.3 2.8 0.8 2.8 0.3 2.8-0.1 2.8-0.2 2.8-0.3 2.8-0.5 2.8-1.2 2.8-1.6 2.8-1.8 2.8-2.8 2.8-3.4 2.7-3.8 2.8-3.9 2.8-3.6 2.8-3.3 2.8-3.3 2.8-3.4 2.8-3.2 2.8-3.1 2.8-2.9 2.8-2.8 2.8-2.7 2.8-2.6 2.7-2.3 2.8-2.1 2.8-1.8 2.8-1.7 2.8-1.6 2.8-1.2 2.8-0.8 2.8 0 2.8 0.3 2.8 0.4 2.8 0.9 2.8 1.4 2.8 1.8 2.7 1.9 2.8 2 2.8 2.3 2.8 2.5 2.8 2.7 2.8 3 2.8 3.4 2.8 3.6 2.8 3.8 2.8 3.9 2.8 4.2 2.8 4.4 2.7 4.4 2.8 4.3 2.8 4 2.8 3.7 2.8 3.5 2.8 3.4 2.8 3.4 2.8 3.5 2.8 3.7 2.8 3.9 2.8 3.7 2.8 3.5 2.8 3.1 2.7 2.9 2.8 2.8 2.8 2.5 2.8 2.2 2.8 1.7 2.8 2.2 2.8 0.8 2.8 1.6 2.8 1 2.8 1 2.8 0.8 2.8 0.9 2.7 0.2 2.8 1.1 2.8 0.1 2.8 1.1 2.8 0.3 2.8 0 2.8 1.1 2.8 0.5 2.8-0.4 2.8 0 2.8-0.4 2.8 0.1 2.8 0.8 2.7 0.2 2.8 0 2.8 0.9 2.8 1.2 2.8 0.9 2.8 0.2 2.8-1.9 2.8-4.5 2.8-1.7 2.8-0.2 2.8 4 2.8 2.3 2.7 0.8 2.8-0.1 2.8-2.1 2.8 0.9 2.8-0.3 2.8-2.2 2.8 0.9 2.8 1.2 2.8-0.4 2.8 0.6 2.8-0.3 2.8-0.6 2.8 0.1 2.7-0.6 2.8 0 2.8 0.4 2.8 0.2 2.8-1 2.8 0.8 2.8 0 2.8-0.8 2.8-1.1 2.8-0.3 2.8 0.5 2.8 0.4 2.7 1.4 2.8-1.1 2.8 0.8 2.8-1.5 2.8 1.3 2.8 0 2.8-0.6 2.8 0.2 2.8-0.7 2.8 0.3 2.8 1.1 2.8 0.1 2.8-1 2.7-1.4 2.8 1.8 2.8 0.7 2.8 0.7 2.8 0.6 2.8-2.3 2.8 2.4 2.8-0.1 2.8-0.1 2.8-0.5 2.8 0 2.8 1.1 2.7-1 2.8 0.8 2.8 0.5 2.8-1.9 2.8 2.6 2.8-0.1 2.8-0.9 2.8-0.4 2.8 2 2.8-0.3 2.8-0.9 2.8 0.3 2.8 1.6 2.7-0.1 2.8 0.4 2.8-0.1 2.8-1.6 2.8 1.5 2.8 0.8 2.8 0 2.8-0.4 2.8 0.7 2.8 0.2 2.8-0.4 2.8 0.8 2.7 0.4 2.8-0.2 2.8 0.5 2.8-0.4 2.8-0.7 2.8 0.2 2.8-1.1 2.8 3.4 2.8-0.8 2.8-0.9 2.8 1.2 2.8 0.2 2.8-0.2 2.7 0.8 2.8-0.2 2.8 0.4 2.8-0.8 2.8 2.3 2.8-1 2.8-0.3 2.8-0.9 2.8 2.7 2.8-3.3 2.8 2.3 2.8 0.2 2.7 0.6 2.8-0.7 2.8-1.7 2.8-0.4 2.8 4.6 2.8-3.6 2.8 0.9 2.8 0.2 2.8 0.5 2.8-0.2 2.8 1.7 2.8-2.6 2.8-2.6 2.7 5.4 2.8-1.9 2.8 0.1 2.8-2 2.8 2.2 2.8-2.8 2.8 0.8 2.8-0.3 2.8 0.2 2.8 1.9 2.8 1.8 2.8-3.9 2.7 0.7 2.8 0 2.8 4.3 2.8-3.1 2.8 1 2.8-0.6 2.8 0.7 2.8-2.8 2.8 1.3 2.8 1.4 2.8-1 2.8-1.1 2.8 0.5 2.7 0.3 2.8 3.4 2.8-1.2 2.8-3.6 2.8 1.8 2.8 3 2.8-6.2 2.8 6 2.8-0.1 2.8-5.3 2.8 2.3 2.8-0.5 2.7 1.4 2.8 1 2.8-0.4 2.8 1.8 2.8-6.3 2.8 6.3 2.8-4.9 2.8 2.1 2.8-0.6 2.8 1.8 2.8-1.3 2.8-1.2 2.8 1.5 2.7 2.6 2.8-6 2.8 6 2.8-4.1 2.8 4.1 2.8 0 2.8-2.3 2.8 0 2.8-1.6 2.8-0.5 2.8 4.4 2.8 0 2.7-6 2.8 1.7 2.8 3.6 2.8-2.1 2.8 0.1 2.8 2.1 2.8-0.9 2.8-0.5 2.8 0.7 2.8-2.5 2.8 3.3 2.8-0.3 2.8 0.8 2.7 0 2.8-2.6 2.8 2.5 2.8-0.9 2.8 0.2 2.8 0 2.8-0.4 2.8 0.3 2.8 0.9 2.8-3.4 2.8 1.7 2.8 0.5 2.7 0 2.8 0.8 2.8 0.4 2.8-0.7 2.8 0.7 2.8 0 2.8 0 2.8-3 2.8 1.8 2.8 0.1 2.8 0.8 2.8-1.9 2.8 1.7 2.7 0.5 2.8-0.7 2.8 0 2.8-0.1 2.8 0.4 2.8 0.4 2.8-1.4 2.8 1.3 2.8 0.1 2.8 0 2.8 0 2.8-0.8 2.7 0.8 2.8-1.2 2.8 1.1 2.8 0.1 2.8-0.6 2.8 0.2 2.8-1.3"/>
<path stroke="#000080" stroke-width="2.9" d="M105.8 834.3l2.8-7.9 2.8-7.3 2.8-6.6 2.8-6.3 2.8-5.7 2.8-3.8 2.7-2 2.8-0.8 2.8 1.7 2.8 3.7 2.8 6.6 2.8 9.7 2.8 10.3 2.8 11.4 2.8 12.5 2.8 13.5 2.8 15.2 2.8 16.1 2.7 16.3 2.8 17.1 2.8 16.6 2.8 14.8 2.8 13.8 2.8 13 2.8 12.7 2.8 12.4 2.8 12.3 2.8 11.8 2.8 11 2.8 10.1 2.8 9.4 2.7 8.8 2.8 8.2 2.8 7.5 2.8 6.8 2.8 6.3 2.8 5.9 2.8 5.3 2.8 4.6 2.8 4 2.8 3.7 2.8 3 2.8 2.1 2.7 1.5 2.8 1.3 2.8 0.8 2.8 0.3 2.8-0.1 2.8-0.2 2.8-0.3 2.8-0.5 2.8-1.1 2.8-1.6 2.8-1.9 2.8-2.7 2.8-3.4 2.7-3.8 2.8-3.8 2.8-3.6 2.8-3.3 2.8-3.3 2.8-3.3 2.8-3.2 2.8-3.1 2.8-2.8 2.8-2.8 2.8-2.7 2.8-2.5 2.7-2.4 2.8-2 2.8-1.8 2.8-1.7 2.8-1.6 2.8-1.2 2.8-0.8 2.8 0 2.8 0.3 2.8 0.4 2.8 0.8 2.8 1.5 2.8 1.8 2.7 1.8 2.8 2 2.8 2.3 2.8 2.4 2.8 2.7 2.8 3 2.8 3.4 2.8 3.5 2.8 3.8 2.8 3.9 2.8 4.2 2.8 4.3 2.7 4.4 2.8 4.3 2.8 4 2.8 3.6 2.8 3.6 2.8 3.4 2.8 3.4 2.8 3.5 2.8 3.7 2.8 3.8 2.8 3.7 2.8 3.5 2.8 3.1 2.7 3 2.8 2.7 2.8 2.4 2.8 2.5 2.8 1.8 2.8 1.6 2.8 1.5 2.8 1.2 2.8 1.1 2.8 1.1 2.8 0.5 2.8 0.7 2.7 0.4 2.8 1.2 2.8 0.8 2.8-0.2 2.8 0.8 2.8 0 2.8 0.6 2.8 0.4 2.8 1 2.8-0.7 2.8-0.1 2.8 1.5 2.8-1.5 2.7 0.6 2.8 0.5 2.8 1.3 2.8 0.9 2.8 0.4 2.8 0.3 2.8-2.7 2.8-4.2 2.8-0.9 2.8 0.2 2.8 4.3 2.8 1 2.7 2.3 2.8-1.7 2.8-1.5 2.8 0.5 2.8 1.5 2.8-2 2.8 0.8 2.8 0.1 2.8 0.8 2.8-0.4 2.8 0 2.8-1.3 2.8 0.5 2.7-0.8 2.8 0.2 2.8 0.6 2.8-0.7 2.8-0.2 2.8-0.5 2.8 1.5 2.8-0.1 2.8-1.4 2.8-0.4 2.8 0.8 2.8 0.6 2.7-1.1 2.8 0.4 2.8 0.1 2.8 0 2.8 0.4 2.8-0.3 2.8-0.4 2.8 0 2.8 0.3 2.8-0.2 2.8 0.4 2.8 0.9 2.8-1.3 2.7 1.6 2.8-1.5 2.8 0.9 2.8 1.5 2.8-0.6 2.8-1.4 2.8 1.3 2.8 1.2 2.8-1.2 2.8-0.4 2.8 1.7 2.8-0.2 2.7-0.5 2.8-0.1 2.8 0.2 2.8 0.7 2.8-0.1 2.8 0 2.8-0.8 2.8 0.4 2.8 1.2 2.8 0.2 2.8 0 2.8-1.5 2.8 2.5 2.7-1.1 2.8 1.3 2.8 0.5 2.8-1.8 2.8 1 2.8-0.5 2.8 0.1 2.8 1.5 2.8-0.7 2.8-0.2 2.8 0.4 2.8 0.5 2.7-0.6 2.8-0.6 2.8 2.5 2.8-1.1 2.8 0 2.8 0.3 2.8-0.7 2.8 1.9 2.8-0.1 2.8-0.6 2.8 1.7 2.8-0.8 2.8 0 2.7 0.6 2.8-0.9 2.8 0.9 2.8 0.4 2.8-1.5 2.8-0.8 2.8 1.7 2.8 2.1 2.8-2.4 2.8-1.2 2.8 0.6 2.8 2.1 2.7-1 2.8-0.3 2.8 0.9 2.8-1.6 2.8 3.1 2.8-1.8 2.8 1.4 2.8-0.4 2.8-1.4 2.8 2.4 2.8-2.7 2.8-0.3 2.8 1.5 2.7 0.1 2.8-1.9 2.8 2.2 2.8 0.6 2.8-0.4 2.8-0.6 2.8 1.6 2.8-2 2.8-2 2.8-3.2 2.8 8.5 2.8-1.7 2.7-0.6 2.8-1.7 2.8 1.3 2.8 1.4 2.8-1.1 2.8 2.5 2.8 0.3 2.8 0.3 2.8-1.2 2.8-0.6 2.8-0.7 2.8-6.4 2.8 3.5 2.7 4.4 2.8-1.3 2.8-0.8 2.8-0.5 2.8 0.6 2.8-3.1 2.8 4.3 2.8-1.3 2.8-0.1 2.8-1.7 2.8 1.2 2.8 0.3 2.7 1.5 2.8 0.8 2.8-2.3 2.8-3 2.8 6.4 2.8-3 2.8 1.4 2.8-3.7 2.8 2.6 2.8-2.5 2.8 5.2 2.8-0.4 2.8-0.1 2.7-4.1 2.8 2.9 2.8 1 2.8 0.7 2.8-1.9 2.8 1.5 2.8 0.4 2.8-6.7 2.8 5.3 2.8 1.4 2.8-5.4 2.8 3.7 2.7-0.1 2.8-1.4 2.8 0.8 2.8 2.4 2.8-3.5 2.8 0.7 2.8-0.6 2.8 3.4 2.8-1 2.8-1.1 2.8 1.9 2.8-1.8 2.8-0.7 2.7 2.5 2.8-3 2.8 1.9 2.8-0.4 2.8 1.7 2.8-1.4 2.8-2 2.8 1.7 2.8 1.4 2.8-4 2.8 4 2.8-0.9 2.7 1.2 2.8 0 2.8-0.6 2.8-0.5 2.8-2.3 2.8 3.4 2.8-2.9 2.8 2.3 2.8-1.5 2.8-0.5 2.8 0.7 2.8 1.9 2.8-2.5 2.7 2 2.8-1.1 2.8-0.1 2.8 1.7 2.8-2.5 2.8 1.8 2.8 0.3 2.8-0.7 2.8-0.5 2.8 1.6 2.8 0 2.8-0.7 2.7 0.1 2.8 0.6 2.8 0 2.8 0 2.8 0 2.8-1.1 2.8-1.1"/>
<path stroke="#800080" stroke-width="2.9" d="M105.8 834.8l2.8-7.8 2.8-7.2 2.8-6.5 2.8-6.3 2.8-5.6 2.8-3.7 2.7-2.1 2.8-0.8 2.8 1.7 2.8 3.7 2.8 6.5 2.8 9.6 2.8 10.2 2.8 11.2 2.8 12.5 2.8 13.4 2.8 15.1 2.8 16.1 2.7 16.2 2.8 17.1 2.8 16.6 2.8 14.8 2.8 13.7 2.8 13.1 2.8 12.6 2.8 12.5 2.8 12.3 2.8 11.8 2.8 11 2.8 10.1 2.8 9.4 2.7 8.8 2.8 8.2 2.8 7.5 2.8 6.8 2.8 6.4 2.8 5.9 2.8 5.3 2.8 4.6 2.8 4 2.8 3.6 2.8 3.1 2.8 2.1 2.7 1.5 2.8 1.3 2.8 0.8 2.8 0.3 2.8-0.1 2.8-0.2 2.8-0.3 2.8-0.5 2.8-1.1 2.8-1.5 2.8-1.9 2.8-2.7 2.8-3.4 2.7-3.7 2.8-3.8 2.8-3.6 2.8-3.3 2.8-3.2 2.8-3.3 2.8-3.2 2.8-3 2.8-2.9 2.8-2.7 2.8-2.7 2.8-2.5 2.7-2.3 2.8-2.1 2.8-1.7 2.8-1.7 2.8-1.6 2.8-1.2 2.8-0.7 2.8-0.1 2.8 0.3 2.8 0.4 2.8 0.8 2.8 1.4 2.8 1.8 2.7 1.8 2.8 2 2.8 2.2 2.8 2.5 2.8 2.6 2.8 3 2.8 3.3 2.8 3.6 2.8 3.7 2.8 3.8 2.8 4.2 2.8 4.4 2.7 4.3 2.8 4.2 2.8 4 2.8 3.7 2.8 3.5 2.8 3.4 2.8 3.4 2.8 3.5 2.8 3.7 2.8 3.8 2.8 3.7 2.8 3.5 2.8 3.2 2.7 2.9 2.8 2.7 2.8 2.7 2.8 1.9 2.8 2 2.8 1.9 2.8 1.4 2.8 1 2.8 1.2 2.8 1.1 2.8 0.5 2.8 0.5 2.7 1.2 2.8 0.9 2.8 0.4 2.8 0.8 2.8-0.4 2.8 1.1 2.8 0.5 2.8 0.8 2.8 0.4 2.8-1.7 2.8 0.7 2.8 1.8 2.8-1.5 2.7 0.5 2.8 0.9 2.8-0.1 2.8 0.6 2.8 1.9 2.8-0.4 2.8-1.5 2.8-3.8 2.8-2.9 2.8 1.2 2.8 4.4 2.8 1.6 2.7 0.3 2.8-0.9 2.8-2.1 2.8 1.2 2.8 0.6 2.8-0.1 2.8 0 2.8 0 2.8 1.3 2.8-2.2 2.8 1 2.8-1.7 2.8 0.5 2.7 0.9 2.8 0 2.8 0.9 2.8-1.8 2.8 0.7 2.8-0.2 2.8 0.2 2.8 0.1 2.8-1 2.8-0.6 2.8 0.8 2.8 0.9 2.7-0.4 2.8-0.8 2.8 0.7 2.8 1.4 2.8-1.4 2.8-1.2 2.8 1.3 2.8 0 2.8-0.3 2.8 0.9 2.8 0.6 2.8 0.8 2.8-2.9 2.7 0.6 2.8 0.8 2.8 0.4 2.8 1.3 2.8-0.3 2.8-0.7 2.8-0.3 2.8 0.6 2.8 0.4 2.8-1.9 2.8 2.4 2.8 0 2.7-0.4 2.8-0.3 2.8 0 2.8-0.1 2.8 1.3 2.8-1 2.8-0.8 2.8 0.4 2.8 0.1 2.8 2.9 2.8-1.8 2.8-0.1 2.8 0.8 2.7 0.4 2.8-0.5 2.8 1.1 2.8 0.3 2.8-0.3 2.8-1.3 2.8 1 2.8 1.2 2.8-0.6 2.8-1.2 2.8 1.6 2.8 0.2 2.7 0.7 2.8-1.7 2.8 2.4 2.8-1.5 2.8-0.2 2.8-0.4 2.8-1.2 2.8 3.3 2.8-0.3 2.8-0.2 2.8 0.6 2.8-0.7 2.8 2.1 2.7-2.1 2.8 1.5 2.8-1.3 2.8 2.7 2.8-2.2 2.8 0.9 2.8-1.5 2.8 0.5 2.8-0.7 2.8 2.9 2.8 0.3 2.8-0.9 2.7-2 2.8 0.8 2.8 0.5 2.8-2.1 2.8 3.4 2.8 1.4 2.8-2.6 2.8 0.3 2.8-0.2 2.8-3.5 2.8 3.4 2.8 1.6 2.8-0.6 2.7 0.1 2.8-2 2.8-5.7 2.8 6.6 2.8-3.5 2.8 4.1 2.8-1.3 2.8 3.9 2.8-0.8 2.8-1.7 2.8-0.7 2.8 1.2 2.7 1.1 2.8 1.5 2.8-1.9 2.8-6.9 2.8 7 2.8 0 2.8-2.4 2.8 1.3 2.8 2.6 2.8-2.6 2.8 2.8 2.8-4.5 2.8 0.5 2.7 0.4 2.8 0.2 2.8-1.5 2.8 4.7 2.8-3.8 2.8 1.7 2.8 0.5 2.8-0.2 2.8 1.5 2.8-1.7 2.8-1.3 2.8 0.6 2.7-2 2.8 0.8 2.8-0.1 2.8-0.1 2.8-0.3 2.8 3.2 2.8-2.3 2.8 3.7 2.8-3.7 2.8 0.5 2.8 1.5 2.8-2.4 2.8 3.9 2.7-2.6 2.8 0.9 2.8-1.7 2.8 3.7 2.8-2.5 2.8-3.1 2.8 5.4 2.8 0.2 2.8-3.2 2.8 3.2 2.8-2.2 2.8-0.8 2.7 0.5 2.8 0.1 2.8 2.4 2.8-0.5 2.8-0.3 2.8-0.7 2.8-0.7 2.8 0 2.8-0.4 2.8 1.2 2.8-2.4 2.8 3.5 2.8-1 2.7-0.2 2.8 0.6 2.8 0.6 2.8-3 2.8-2.5 2.8 3.8 2.8 1.2 2.8-2.6 2.8 1 2.8 0.9 2.8-0.5 2.8 0.7 2.7-0.5 2.8 1.8 2.8 0 2.8-0.4 2.8 0.4 2.8-1.5 2.8-0.4 2.8 0.7 2.8 0.7 2.8-0.1 2.8-0.1 2.8 0.7 2.8-1.9 2.7 1.9 2.8 0 2.8-0.6 2.8-1.1 2.8-0.6 2.8 2.3 2.8-2.8 2.8 1.8 2.8 0.8 2.8 0.2 2.8-2.5 2.8 2.2 2.7 0.3 2.8-1.1 2.8 1.1 2.8-0.3 2.8-0.5 2.8 0.4 2.8-1.1"/>
<path stroke="#800000" stroke-width="2.9" d="M105.8 835.4l2.8-7.7 2.8-7.2 2.8-6.4 2.8-6.2 2.8-5.5 2.8-3.7 2.7-2.1 2.8-0.8 2.8 1.7 2.8 3.5 2.8 6.5 2.8 9.5 2.8 10.1 2.8 11.1 2.8 12.4 2.8 13.3 2.8 15.1 2.8 16 2.7 16.2 2.8 17 2.8 16.6 2.8 14.7 2.8 13.8 2.8 13.1 2.8 12.6 2.8 12.4 2.8 12.3 2.8 11.8 2.8 11.1 2.8 10.1 2.8 9.4 2.7 8.8 2.8 8.2 2.8 7.5 2.8 6.8 2.8 6.4 2.8 5.9 2.8 5.3 2.8 4.6 2.8 4 2.8 3.7 2.8 3 2.8 2.1 2.7 1.5 2.8 1.3 2.8 0.9 2.8 0.3 2.8-0.1 2.8-0.2 2.8-0.3 2.8-0.5 2.8-1.1 2.8-1.5 2.8-1.8 2.8-2.7 2.8-3.4 2.7-3.7 2.8-3.8 2.8-3.5 2.8-3.3 2.8-3.2 2.8-3.2 2.8-3.2 2.8-3 2.8-2.8 2.8-2.7 2.8-2.6 2.8-2.6 2.7-2.3 2.8-2 2.8-1.7 2.8-1.7 2.8-1.5 2.8-1.3 2.8-0.7 2.8-0.1 2.8 0.3 2.8 0.4 2.8 0.8 2.8 1.4 2.8 1.8 2.7 1.8 2.8 1.9 2.8 2.2 2.8 2.4 2.8 2.6 2.8 3 2.8 3.2 2.8 3.6 2.8 3.6 2.8 3.9 2.8 4.2 2.8 4.3 2.7 4.3 2.8 4.2 2.8 4 2.8 3.6 2.8 3.5 2.8 3.4 2.8 3.3 2.8 3.5 2.8 3.7 2.8 3.8 2.8 3.8 2.8 3.5 2.8 3.1 2.7 2.9 2.8 2.7 2.8 2.6 2.8 2.2 2.8 1.9 2.8 1.7 2.8 1.2 2.8 1.6 2.8 0.8 2.8 1 2.8 1.1 2.8 0.6 2.7 0.9 2.8 0.3 2.8 0.8 2.8 0.8 2.8-0.1 2.8 1.6 2.8-0.7 2.8 1 2.8-0.2 2.8-0.4 2.8 0.4 2.8 1.4 2.8-1.2 2.7 1.3 2.8 0.2 2.8 0.3 2.8 1.4 2.8-0.3 2.8 0.4 2.8-1.1 2.8-5.1 2.8 0 2.8-0.6 2.8 3.7 2.8 3.8 2.7-0.4 2.8-1.6 2.8-0.7 2.8-0.2 2.8 1.3 2.8-2 2.8 0.4 2.8 1.1 2.8 0.9 2.8-0.1 2.8-0.6 2.8 0.4 2.8-1.3 2.7-2 2.8 2 2.8 1.5 2.8-0.4 2.8-1.3 2.8-0.6 2.8 1.2 2.8-1.1 2.8 0.1 2.8 0.4 2.8-1.4 2.8 1.8 2.7-1.6 2.8 2.5 2.8-1.9 2.8 1.2 2.8 0.9 2.8-1.6 2.8-0.1 2.8 1.1 2.8 0 2.8 1.1 2.8-1 2.8 0.4 2.8-1.7 2.7 1.3 2.8-0.2 2.8 0.5 2.8 0 2.8 0.6 2.8-0.7 2.8-1 2.8 1.4 2.8-0.1 2.8 0 2.8 0.2 2.8 0.1 2.7-0.5 2.8 0.1 2.8 1 2.8-0.6 2.8-0.3 2.8 1.3 2.8-1.2 2.8-1.1 2.8 2.8 2.8-0.5 2.8-1.2 2.8 3 2.8-0.9 2.7 0 2.8 0.6 2.8-0.7 2.8-1.5 2.8 1.5 2.8-0.9 2.8 0.6 2.8 2.1 2.8-1.7 2.8 1.5 2.8-0.7 2.8-0.4 2.7 0.8 2.8-0.7 2.8 1.8 2.8-1.1 2.8 0.3 2.8-0.4 2.8-0.1 2.8 1 2.8 0.3 2.8-1.3 2.8 0.9 2.8-0.5 2.8 0.7 2.7 0.2 2.8 0.2 2.8 0.8 2.8-1 2.8 0.8 2.8 0.3 2.8 0.4 2.8-1.1 2.8-0.5 2.8 0.8 2.8 1.6 2.8-2.1 2.7-0.4 2.8 1 2.8-0.8 2.8-0.7 2.8 2.2 2.8 1.1 2.8 0.6 2.8-1.3 2.8 2.7 2.8-4.9 2.8 0.1 2.8 2.1 2.8-1.6 2.7-1.9 2.8 3.2 2.8-0.6 2.8 3.6 2.8-2.8 2.8-1.8 2.8 2 2.8 0.2 2.8 1.6 2.8-0.6 2.8-0.8 2.8 1.1 2.7 1 2.8-1.2 2.8-5.1 2.8 4.6 2.8 0.7 2.8-1.1 2.8-1.3 2.8 3.7 2.8-2.7 2.8 0.8 2.8-3.5 2.8-0.1 2.8 5.4 2.7-3.5 2.8-0.3 2.8 0.1 2.8 2.2 2.8-4.5 2.8 3.3 2.8 1.9 2.8-2.8 2.8 2 2.8-2.3 2.8 2.8 2.8-2.5 2.7 1.6 2.8 2.4 2.8-3 2.8-2.9 2.8 4.3 2.8-1.3 2.8 2.9 2.8-4.7 2.8 2.7 2.8 1.3 2.8 0.4 2.8-4.7 2.8-0.3 2.7 4.1 2.8-5.9 2.8 2.2 2.8 2.3 2.8 0.9 2.8-3.1 2.8 4.8 2.8 0 2.8-0.9 2.8-1.9 2.8-0.3 2.8 2 2.7 0 2.8-2.2 2.8 3.2 2.8-2 2.8 1.4 2.8 0.7 2.8-1.8 2.8 1.8 2.8 0 2.8-3.8 2.8 3.3 2.8 0.1 2.8-0.1 2.7 0.5 2.8-3.8 2.8 3.8 2.8-1.3 2.8-1.7 2.8 1.8 2.8 0.5 2.8-1.4 2.8 2.1 2.8-1.9 2.8 1.3 2.8 0.6 2.7-1.5 2.8 0.5 2.8-2.6 2.8 2.9 2.8-0.4 2.8 1.1 2.8 0 2.8 0 2.8 0 2.8-0.2 2.8-0.4 2.8 0.1 2.8-0.2 2.7 0.7 2.8-1.3 2.8 1.3 2.8 0 2.8-0.4 2.8-1.4 2.8 1 2.8 0.3 2.8 0.5 2.8-1.7 2.8 1.7 2.8-1.5 2.7-0.1 2.8-0.1 2.8 1.7 2.8 0 2.8-0.4 2.8 0.4 2.8 0"/>
<path stroke="#008000" stroke-width="2.9" d="M105.8 835.9l2.8-7.6 2.8-7 2.8-6.4 2.8-6 2.8-5.6 2.8-3.6 2.7-2 2.8-0.9 2.8 1.6 2.8 3.5 2.8 6.4 2.8 9.4 2.8 10 2.8 11 2.8 12.3 2.8 13.2 2.8 15 2.8 15.9 2.7 16.2 2.8 17.1 2.8 16.5 2.8 14.7 2.8 13.7 2.8 13.1 2.8 12.6 2.8 12.5 2.8 12.3 2.8 11.8 2.8 11.1 2.8 10 2.8 9.4 2.7 8.9 2.8 8.2 2.8 7.5 2.8 6.8 2.8 6.4 2.8 5.9 2.8 5.3 2.8 4.6 2.8 4 2.8 3.7 2.8 3 2.8 2.1 2.7 1.5 2.8 1.3 2.8 0.9 2.8 0.3 2.8-0.1 2.8-0.2 2.8-0.2 2.8-0.5 2.8-1.1 2.8-1.5 2.8-1.8 2.8-2.7 2.8-3.3 2.7-3.7 2.8-3.7 2.8-3.5 2.8-3.3 2.8-3.2 2.8-3.2 2.8-3.1 2.8-3 2.8-2.7 2.8-2.7 2.8-2.6 2.8-2.5 2.7-2.3 2.8-2 2.8-1.7 2.8-1.7 2.8-1.5 2.8-1.3 2.8-0.7 2.8 0 2.8 0.2 2.8 0.4 2.8 0.8 2.8 1.4 2.8 1.7 2.7 1.8 2.8 1.9 2.8 2.2 2.8 2.3 2.8 2.6 2.8 2.9 2.8 3.3 2.8 3.5 2.8 3.6 2.8 3.9 2.8 4.1 2.8 4.3 2.7 4.3 2.8 4.1 2.8 4 2.8 3.6 2.8 3.5 2.8 3.4 2.8 3.3 2.8 3.5 2.8 3.7 2.8 3.8 2.8 3.7 2.8 3.5 2.8 3.1 2.7 2.9 2.8 2.9 2.8 2.3 2.8 2.2 2.8 2.1 2.8 1.8 2.8 1.4 2.8 1.2 2.8 1.1 2.8 0.8 2.8 0.9 2.8 0.5 2.7 1.6 2.8 0.4 2.8 0 2.8 0.6 2.8 1.1 2.8 0.2 2.8-0.3 2.8 1.2 2.8 1 2.8-1.2 2.8-0.2 2.8 0.7 2.8 0.5 2.7 1.1 2.8-0.3 2.8 0.6 2.8 1 2.8 1.4 2.8-2 2.8-0.8 2.8-2.9 2.8-2.7 2.8-0.6 2.8 4.8 2.8 2.7 2.7 1.7 2.8-2.4 2.8-0.3 2.8-0.4 2.8-0.7 2.8 0.1 2.8-0.4 2.8 0.6 2.8 1 2.8-0.2 2.8 0.3 2.8-1.4 2.8 1.4 2.7-0.9 2.8-0.7 2.8 1.5 2.8-1.5 2.8 0.9 2.8 0.4 2.8 0.1 2.8 0.1 2.8-0.8 2.8 0 2.8-0.3 2.8 0.6 2.7-0.3 2.8 0.5 2.8 0.7 2.8-2.2 2.8 0.8 2.8 0.9 2.8-0.3 2.8-0.4 2.8 0 2.8 1.3 2.8-1.5 2.8 1.2 2.8-1.4 2.7 2.5 2.8-1.6 2.8 0.1 2.8 1.7 2.8-1.3 2.8 1.1 2.8-1.6 2.8 1.6 2.8-0.4 2.8-0.2 2.8 0.4 2.8 0.2 2.7-0.9 2.8 0.8 2.8 1.2 2.8-1.5 2.8 0.1 2.8 0.1 2.8-0.7 2.8 1.2 2.8 0.5 2.8 0.1 2.8-1.3 2.8 1.1 2.8-0.8 2.7 2.6 2.8-0.8 2.8 0.4 2.8-2.3 2.8 1.2 2.8 0.3 2.8 0.1 2.8 1.4 2.8 0.1 2.8-1.4 2.8 1.2 2.8-1 2.7 0.7 2.8-0.9 2.8 3 2.8-1 2.8-0.1 2.8-1.4 2.8 0.4 2.8 1.3 2.8-1.3 2.8 1.1 2.8 0.3 2.8 0.6 2.8-0.1 2.7-1.8 2.8 1 2.8-0.6 2.8 0.4 2.8 1 2.8 0.6 2.8-0.5 2.8-0.3 2.8 0.3 2.8-0.9 2.8 0.1 2.8 2.4 2.7-2.1 2.8 2.2 2.8-2.8 2.8 1.5 2.8-1.4 2.8 3.4 2.8-2.9 2.8 2.4 2.8 0.8 2.8-2.7 2.8 0.3 2.8 3.7 2.8-2.5 2.7 1.4 2.8-2.1 2.8-3.2 2.8 2.9 2.8-2.3 2.8 1.3 2.8 1.4 2.8-1.4 2.8-2.1 2.8 1.4 2.8-1.7 2.8 4.2 2.7-0.2 2.8 2.6 2.8-4.1 2.8 3.4 2.8-2.1 2.8 0.8 2.8-0.8 2.8 1.1 2.8 2 2.8-3.6 2.8 0.5 2.8 0.1 2.8 0.1 2.7 2.9 2.8-5.3 2.8 4.2 2.8-1.8 2.8-2.6 2.8 4.6 2.8-1.1 2.8-3.2 2.8 3.3 2.8-0.2 2.8-0.2 2.8 1.4 2.7-5.8 2.8 1.1 2.8 4.3 2.8-0.7 2.8-2.4 2.8 3.7 2.8-1.9 2.8-2 2.8 0.2 2.8 1.9 2.8 2.4 2.8-4.6 2.8 2.3 2.7-0.4 2.8-1.6 2.8 0.7 2.8-2.2 2.8 3.4 2.8 1.5 2.8 1 2.8-3.5 2.8 3.5 2.8 0 2.8 0 2.8-2.1 2.7 2.1 2.8-1.5 2.8 1.2 2.8 0.3 2.8-1.6 2.8 1.6 2.8 0 2.8-0.5 2.8-4.6 2.8 5.1 2.8-1.5 2.8 1.2 2.8-3.3 2.7 0.3 2.8 1.4 2.8 1.9 2.8-2.2 2.8 1.1 2.8-0.1 2.8-0.1 2.8-1.5 2.8 2.8 2.8-1.3 2.8 0.5 2.8 0.8 2.7-0.9 2.8 0.9 2.8 0 2.8-2.2 2.8 1.8 2.8 0.1 2.8-0.7 2.8 0.9 2.8 0.1 2.8-1.7 2.8-0.6 2.8 2.3 2.8-1.3 2.7 1 2.8 0.3 2.8-0.8 2.8 0.8 2.8-2.3 2.8 2.3 2.8-3.4 2.8 2.8 2.8 0.6 2.8-2.3 2.8 2.3 2.8-1.1 2.7 1.1 2.8-1.1 2.8 1.1 2.8 0 2.8-0.5 2.8-1.7 2.8 1.8"/>
<path stroke="#008080" stroke-width="2.9" d="M105.8 836.4l2.8-7.5 2.8-6.9 2.8-6.2 2.8-6 2.8-5.5 2.8-3.6 2.7-2 2.8-0.9 2.8 1.6 2.8 3.4 2.8 6.3 2.8 9.3 2.8 9.9 2.8 10.9 2.8 12.2 2.8 13.1 2.8 14.9 2.8 15.9 2.7 16.1 2.8 17.1 2.8 16.4 2.8 14.8 2.8 13.7 2.8 13 2.8 12.7 2.8 12.4 2.8 12.3 2.8 11.8 2.8 11.1 2.8 10.1 2.8 9.4 2.7 8.8 2.8 8.3 2.8 7.5 2.8 6.8 2.8 6.3 2.8 6 2.8 5.3 2.8 4.6 2.8 4 2.8 3.7 2.8 3 2.8 2.2 2.7 1.4 2.8 1.3 2.8 0.9 2.8 0.4 2.8-0.1 2.8-0.2 2.8-0.3 2.8-0.4 2.8-1 2.8-1.5 2.8-1.8 2.8-2.7 2.8-3.3 2.7-3.7 2.8-3.7 2.8-3.5 2.8-3.2 2.8-3.1 2.8-3.2 2.8-3.1 2.8-2.9 2.8-2.8 2.8-2.6 2.8-2.6 2.8-2.5 2.7-2.2 2.8-2 2.8-1.7 2.8-1.6 2.8-1.6 2.8-1.2 2.8-0.7 2.8-0.1 2.8 0.2 2.8 0.4 2.8 0.8 2.8 1.4 2.8 1.7 2.7 1.7 2.8 1.9 2.8 2.1 2.8 2.4 2.8 2.6 2.8 2.8 2.8 3.3 2.8 3.4 2.8 3.6 2.8 3.8 2.8 4.1 2.8 4.3 2.7 4.2 2.8 4.2 2.8 3.9 2.8 3.7 2.8 3.4 2.8 3.3 2.8 3.4 2.8 3.4 2.8 3.7 2.8 3.8 2.8 3.7 2.8 3.5 2.8 3.1 2.7 3 2.8 2.8 2.8 2.4 2.8 2.4 2.8 1.7 2.8 1.7 2.8 1.7 2.8 1 2.8 1.4 2.8 0.5 2.8 1.2 2.8 0.9 2.7 0.1 2.8 1.9 2.8-0.4 2.8 0.3 2.8 0.5 2.8 1.1 2.8 0.9 2.8 0 2.8-0.4 2.8-0.1 2.8 1.3 2.8-1.1 2.8 1.9 2.7-0.8 2.8-0.3 2.8 3 2.8-1.6 2.8 2.7 2.8-0.4 2.8-3 2.8-3.6 2.8-2.2 2.8 1.1 2.8 4.5 2.8 2.7 2.7-0.1 2.8-1.1 2.8-0.8 2.8-1.3 2.8 1.1 2.8 1.1 2.8-1.6 2.8 1.2 2.8-0.6 2.8 1 2.8 0.4 2.8-1.7 2.8 0.6 2.7 1 2.8 0.3 2.8-1.2 2.8-0.3 2.8 0.5 2.8-0.2 2.8 1.2 2.8-2.1 2.8 0.2 2.8 0.5 2.8 0 2.8 1.2 2.7-2.2 2.8 1.6 2.8-0.2 2.8 0.4 2.8 0.6 2.8 0 2.8-0.3 2.8-0.3 2.8-0.9 2.8 1 2.8-0.1 2.8 0.4 2.8-1 2.7-0.3 2.8 1.3 2.8 0.3 2.8 0.8 2.8-0.9 2.8-1.4 2.8 0.3 2.8 0 2.8 1.7 2.8-0.8 2.8 0.5 2.8 0.2 2.7 0 2.8 0.6 2.8-1.4 2.8 0.7 2.8 0.2 2.8-1.2 2.8 0 2.8 1.2 2.8 0.8 2.8-1.7 2.8 0 2.8 1 2.8 0.1 2.7 2.1 2.8-0.9 2.8-0.5 2.8-0.2 2.8 0.9 2.8-1.5 2.8 1.6 2.8 0.2 2.8-0.7 2.8 0.2 2.8-0.2 2.8 1.1 2.7 0 2.8 0.4 2.8-0.7 2.8-0.7 2.8 0.4 2.8 0.4 2.8 0.1 2.8 1 2.8-0.7 2.8 0.3 2.8 1.1 2.8-2 2.8 0.8 2.7 0.3 2.8 0.7 2.8 0 2.8-0.6 2.8-0.1 2.8 0.2 2.8 0.8 2.8 0.1 2.8-1.4 2.8-0.3 2.8 2.3 2.8-3 2.7 5.2 2.8-4.9 2.8 2.5 2.8-0.1 2.8-0.5 2.8-1.1 2.8 1.3 2.8-0.9 2.8 1.2 2.8 2.4 2.8-1.7 2.8 1.8 2.8-6.2 2.7 4.7 2.8-1.7 2.8 2.8 2.8-3.8 2.8 1.2 2.8 0.8 2.8-3.3 2.8 4.5 2.8 1.6 2.8-3.5 2.8-2.5 2.8 2.3 2.7 1.3 2.8-3.6 2.8 0.5 2.8 3.1 2.8-0.9 2.8-0.3 2.8 4 2.8-3 2.8-1.1 2.8-0.3 2.8 1 2.8 2.1 2.8 1.3 2.7-3.4 2.8 0.6 2.8 2.8 2.8 0 2.8-1.4 2.8-6.1 2.8 5.4 2.8 0.3 2.8 0.1 2.8 1.7 2.8-5.1 2.8 1.8 2.7 1.3 2.8-3.3 2.8 5 2.8-2 2.8-3.1 2.8 5.1 2.8-3.3 2.8 2.3 2.8 1 2.8 0.3 2.8-2.8 2.8 0.8 2.8-1.8 2.7-1.3 2.8 3.2 2.8-2.5 2.8-0.1 2.8 1.7 2.8-0.2 2.8 0.9 2.8 1.2 2.8 0.9 2.8-1 2.8-1.8 2.8 2.8 2.7-0.8 2.8 0.1 2.8-1.8 2.8 0.4 2.8 2.1 2.8 0 2.8-0.7 2.8-3.2 2.8 3.9 2.8-0.2 2.8-0.5 2.8 0.7 2.8 0 2.7 0 2.8-4.8 2.8 4.1 2.8 0.2 2.8-0.5 2.8 0.1 2.8-1.1 2.8-0.4 2.8 1.9 2.8-2 2.8 1.4 2.8-1.5 2.7 1.1 2.8 0.5 2.8-0.2 2.8 0.9 2.8 0.3 2.8 0 2.8-0.2 2.8-0.3 2.8 0.1 2.8 0.4 2.8-0.7 2.8 0.7 2.8-0.2 2.7 0.2 2.8-1.5 2.8 1.5 2.8-0.7 2.8-2.4 2.8 3.1 2.8-0.4 2.8-0.3 2.8-1 2.8 1.5 2.8 0.2 2.8-0.9 2.7-0.6 2.8 0.2 2.8 1.3 2.8-0.1 2.8-0.1 2.8-1.6 2.8 1.8"/>
<path stroke="#0000a0" stroke-width="2.9" d="M105.8 836.9l2.8-7.4 2.8-6.8 2.8-6.1 2.8-5.9 2.8-5.4 2.8-3.6 2.7-2 2.8-0.9 2.8 1.5 2.8 3.4 2.8 6.2 2.8 9.2 2.8 9.7 2.8 10.9 2.8 12.1 2.8 13.1 2.8 14.8 2.8 15.8 2.7 16.1 2.8 17 2.8 16.4 2.8 14.7 2.8 13.7 2.8 13.1 2.8 12.6 2.8 12.5 2.8 12.3 2.8 11.8 2.8 11.1 2.8 10.1 2.8 9.3 2.7 8.9 2.8 8.2 2.8 7.6 2.8 6.8 2.8 6.3 2.8 6 2.8 5.3 2.8 4.6 2.8 4 2.8 3.7 2.8 3 2.8 2.2 2.7 1.5 2.8 1.3 2.8 0.9 2.8 0.3 2.8-0.1 2.8-0.1 2.8-0.3 2.8-0.4 2.8-1 2.8-1.5 2.8-1.8 2.8-2.6 2.8-3.3 2.7-3.6 2.8-3.7 2.8-3.5 2.8-3.1 2.8-3.2 2.8-3.1 2.8-3.1 2.8-2.9 2.8-2.7 2.8-2.6 2.8-2.6 2.8-2.4 2.7-2.3 2.8-1.9 2.8-1.7 2.8-1.6 2.8-1.6 2.8-1.2 2.8-0.7 2.8-0.1 2.8 0.3 2.8 0.3 2.8 0.8 2.8 1.4 2.8 1.6 2.7 1.8 2.8 1.8 2.8 2.1 2.8 2.3 2.8 2.6 2.8 2.8 2.8 3.2 2.8 3.4 2.8 3.6 2.8 3.8 2.8 4.1 2.8 4.2 2.7 4.2 2.8 4.2 2.8 3.9 2.8 3.6 2.8 3.4 2.8 3.3 2.8 3.4 2.8 3.4 2.8 3.7 2.8 3.8 2.8 3.7 2.8 3.5 2.8 3 2.7 3 2.8 2.7 2.8 2.6 2.8 2.3 2.8 1.8 2.8 1.7 2.8 1.5 2.8 1.4 2.8 0.8 2.8 0.7 2.8 1.3 2.8 0.1 2.7 1 2.8 1.4 2.8 0.2 2.8 0.6 2.8 0.4 2.8 0.5 2.8-0.1 2.8-0.1 2.8 1.7 2.8-1.1 2.8 1.5 2.8-1.6 2.8 2.4 2.7-1.2 2.8 1.9 2.8-0.2 2.8-1.2 2.8 2.9 2.8-0.2 2.8-1.2 2.8-4.2 2.8-2.6 2.8 1.9 2.8 3.2 2.8 3.2 2.7-0.8 2.8-0.4 2.8-0.3 2.8 0.7 2.8-0.9 2.8 1.4 2.8-1.8 2.8 0.6 2.8-0.3 2.8 1.6 2.8-1.5 2.8 0 2.8-0.4 2.7 0.7 2.8-0.1 2.8 1 2.8-0.7 2.8 0.4 2.8-0.9 2.8 1.3 2.8-2.5 2.8 1.2 2.8-0.6 2.8 1.4 2.8-2.5 2.7 1.3 2.8 0.6 2.8-0.4 2.8 0.3 2.8 0.8 2.8-1.2 2.8-0.2 2.8 0.9 2.8 0.6 2.8 1 2.8-0.2 2.8-0.2 2.8-1.9 2.7 1.6 2.8-1.3 2.8 0.6 2.8 0.3 2.8 1.4 2.8-0.3 2.8-1 2.8 1.3 2.8-1.4 2.8 1.7 2.8-0.7 2.8 0.6 2.7-1.5 2.8 0.3 2.8 0.5 2.8-0.3 2.8-0.6 2.8 1.1 2.8-0.9 2.8 1.2 2.8 0.8 2.8-0.9 2.8-0.6 2.8 1.7 2.8 0.5 2.7-1.1 2.8 0.4 2.8-0.8 2.8 0.6 2.8 0 2.8-1.3 2.8 1.1 2.8 1.6 2.8-0.4 2.8 0 2.8-1.3 2.8 1.3 2.7 0.8 2.8-2 2.8 2 2.8-0.5 2.8-1.2 2.8 1.3 2.8-0.6 2.8 1.4 2.8-2.3 2.8 1 2.8-0.4 2.8 0.5 2.8 0.9 2.7-0.1 2.8-0.5 2.8 0.2 2.8 1.5 2.8-0.3 2.8-1.3 2.8-0.2 2.8 1.7 2.8-1.2 2.8 0.7 2.8 0.1 2.8-0.7 2.7 0 2.8-0.5 2.8-0.4 2.8 0.7 2.8 1.5 2.8 1.1 2.8 0 2.8-2.5 2.8 0.6 2.8 1.9 2.8-1.2 2.8-1 2.8 0.3 2.7-0.7 2.8 1.9 2.8 1.1 2.8-5.2 2.8 3 2.8-1.9 2.8 0.3 2.8 1.9 2.8-1.9 2.8 0.9 2.8 1.9 2.8 1.4 2.7-3.8 2.8 1.1 2.8 1.9 2.8-0.2 2.8-0.4 2.8 0.9 2.8 1 2.8 1 2.8 0 2.8-1.8 2.8 1.8 2.8-2.7 2.8-1.5 2.7 3.1 2.8-3.3 2.8 1.8 2.8 0.6 2.8 0.3 2.8-2.3 2.8 1.8 2.8 1.7 2.8-2.2 2.8-2.4 2.8 3 2.8-2.7 2.7 4.8 2.8-2.2 2.8 1 2.8 1.2 2.8-4.4 2.8 4.1 2.8-4 2.8 3 2.8 0.3 2.8-4.3 2.8 1.6 2.8-2.2 2.8 4.1 2.7 1.5 2.8 0.3 2.8-3.8 2.8 0.3 2.8 3.5 2.8-5 2.8 4.8 2.8-3.6 2.8 0.9 2.8 1.9 2.8-0.7 2.8-1.4 2.7-1.3 2.8 2.2 2.8-0.4 2.8-0.6 2.8 0.6 2.8-0.2 2.8 1.6 2.8-1.6 2.8 2.4 2.8-1.8 2.8 0.5 2.8 1.3 2.8 0.4 2.7-0.7 2.8-2 2.8 1.8 2.8-0.8 2.8 0.8 2.8 0 2.8-0.4 2.8-1.6 2.8 2.2 2.8 0.7 2.8-0.5 2.8-0.5 2.7-0.3 2.8 0.6 2.8-0.7 2.8-0.6 2.8-0.3 2.8 1.9 2.8-1.4 2.8 0.8 2.8-0.6 2.8-0.5 2.8 1.9 2.8-1.3 2.8-0.2 2.7 1 2.8-2.9 2.8 3.3 2.8-0.7 2.8-0.6 2.8 1.6 2.8-1.5 2.8 1.5 2.8-1.2 2.8 0.9 2.8-0.4 2.8 0.7 2.7 0 2.8-1.1 2.8 1.1 2.8 0 2.8-1 2.8 1 2.8-0.9"/>
</g>
<g>
<path stroke="#ff8000" stroke-width="3.6" d="M132.2 837.5l3.5-7.3 3.5-6.8 3.5-6 3.5-5.9 3.5-5.3 3.5-3.5 3.5-2 3.5-0.9 3.5 1.5 3.5 3.3 3.4 6.1 3.5 9.1 3.5 9.6 3.5 10.8 3.5 11.9 3.5 13.1 3.5 14.7 3.5 15.8 3.5 16 3.4 17 3.5 16.4 3.5 14.7 3.5 13.7 3.5 13 3.5 12.7 3.5 12.4 3.5 12.3 3.5 11.9 3.5 11 3.5 10.1 3.4 9.4 3.5 8.9 3.5 8.2 3.5 7.6 3.5 6.8 3.5 6.4 3.5 5.9 3.5 5.3 3.5 4.7 3.4 3.9 3.5 3.7 3.5 3.1 3.5 2.1 3.5 1.5 3.5 1.3 3.5 0.9 3.5 0.4 3.5-0.1 3.5-0.1 3.5-0.3 3.4-0.4 3.5-1 3.5-1.5 3.5-1.7 3.5-2.6 3.5-3.3 3.5-3.6 3.5-3.7 3.5-3.4 3.4-3.1 3.5-3.2 3.5-3.1 3.5-3 3.5-2.9 3.5-2.7 3.5-2.5 3.5-2.6 3.5-2.4 3.5-2.2 3.5-1.9 3.4-1.7 3.5-1.6 3.5-1.5 3.5-1.3 3.5-0.7 3.5-0.1 3.5 0.3 3.5 0.3 3.5 0.8 3.4 1.3 3.5 1.7 3.5 1.7 3.5 1.8 3.5 2.1 3.5 2.3 3.5 2.5 3.5 2.8 3.5 3.2 3.5 3.4 3.5 3.5 3.4 3.7 3.5 4.1 3.5 4.2 3.5 4.2 3.5 4.1 3.5 3.9 3.5 3.6 3.5 3.4 3.5 3.3 3.4 3.4 3.5 3.4 3.5 3.6 3.5 3.8 3.5 3.8 3.5 3.4 3.5 3.1 3.5 3 3.5 2.7 3.5 2.5 3.5 2.3 3.4 2 3.5 1.7 3.5 1.5 3.5 1.3 3.5 0.7 3.5 1.6 3.5 1 3.5 0 3.5 1 3.4 1 3.5-0.2 3.5 1.4 3.5 0.3 3.5 0.3 3.5 0.4 3.5 0.5 3.5-0.6 3.5 1 3.5 0.1 3.5-0.1 3.4 0.6 3.5-0.5 3.5 1.2 3.5 0.2 3.5 0.7 3.5 1.4 3.5 0.7 3.5-2 3.5-3.3 3.4-2.8 3.5 1.8 3.5 4 3.5 1.5 3.5 1 3.5-1.5 3.5-0.7 3.5-0.3 3.5-0.1 3.5-1.1 3.5 1.5 3.4-0.6 3.5 1.2 3.5 0.3 3.5-0.1 3.5-0.6 3.5 0.3 3.5-1 3.5 1 3.5-0.6 3.5 0.2 3.4 0.5 3.5-1.1 3.5 2 3.5-2 3.5 0.1 3.5 0.5 3.5-1 3.5 2.1 3.5-1.6 3.5 2.3 3.4-2.7 3.5 1.3 3.5 0.4 3.5-0.8 3.5 0 3.5-0.8 3.5 0.9 3.5 0.5 3.5-0.3 3.4 0.3 3.5-0.7 3.5 0.7 3.5-0.1 3.5 0 3.5 1 3.5 0.2 3.5-1 3.5-0.1 3.5 1 3.5 0.9 3.4-0.8 3.5 0 3.5 0.1 3.5 0.6 3.5-1.5 3.5 0.9 3.5-0.7 3.5 1.5 3.5-1 3.4-0.5 3.5 0 3.5 2.2 3.5-1.2 3.5-0.3 3.5 0.9 3.5-0.6 3.5 1.3 3.5 0.1 3.5 0 3.5-1.6 3.4 1.2 3.5-1.9 3.5 1.8 3.5 0.4 3.5-0.2 3.5-0.2 3.5-0.1 3.5-0.2 3.5 1.3 3.4-2.1 3.5 2.7 3.5-1.6 3.5 0.4 3.5 0.9 3.5-0.5 3.5 0.3 3.5-1.2 3.5 0.6 3.5-0.1 3.5 0.9 3.4 0.6 3.5-1.2 3.5-0.4 3.5 0.5 3.5 3.5 3.5-2.9 3.5-0.6 3.5 1.6 3.5-1.9 3.4 0.9 3.5-1.5 3.5-1.6 3.5 4.4 3.5-2.8 3.5 1.1 3.5 0.2 3.5 1.3 3.5-2.8 3.5 0.3 3.5-0.3 3.4 4.2 3.5-1.6 3.5 0.7 3.5-4.1 3.5 1.2 3.5 0.8 3.5 1.1 3.5-0.7 3.5 1 3.4-2 3.5 5.3 3.5-2.7 3.5-2.6 3.5-0.4 3.5 2.4 3.5 0.1 3.5-0.8 3.5 0 3.5 0.7 3.5-1.4 3.4 0.8 3.5 4 3.5-0.8 3.5-2.8 3.5 0 3.5 3.2 3.5-1.2 3.5-2 3.5-1 3.4 2.8 3.5 0.6 3.5-0.3 3.5-6 3.5 7.2 3.5-2.3 3.5 2.6 3.5-0.1 3.5-4.7 3.5 1.5 3.5-0.9 3.4-1.4 3.5 5 3.5-1.7 3.5-1.5 3.5-2.5 3.5 4.1 3.5 1.7 3.5-0.9 3.5 1.4 3.4-7 3.5 2.6 3.5 4.1 3.5-5 3.5 3.7 3.5-1.1 3.5-1.2 3.5 3.9 3.5-0.2 3.5-3.7 3.5 1.2 3.4 0.9 3.5-0.9 3.5 2.2 3.5 0.5 3.5 0 3.5-1.1 3.5-2.4 3.5 1.6 3.5-1.5 3.4 2.3 3.5 0.1 3.5-3.4 3.5 0.1 3.5 4.3 3.5-1 3.5 0.6 3.5-2.3 3.5 0.6 3.5 2.1 3.5 0 3.4-2.6 3.5-0.4 3.5 3 3.5-3.4 3.5 0.9 3.5 1.9 3.5-0.4 3.5 0.8 3.5-1.9 3.5 2 3.4-3 3.5 2.2 3.5 0.9 3.5-1.1 3.5-1.2 3.5 0.9 3.5-3.2 3.5 4.1 3.5-0.8 3.5-1 3.4 1.7 3.5 0.6 3.5-2.6 3.5 2.6 3.5-2.5 3.5 1.6 3.5 0.3 3.5-2.4 3.5 3 3.4-3.3 3.5 2.4 3.5 0.9 3.5 0 3.5 0 3.5-0.4 3.5-0.1 3.5-0.5 3.5 0.3 3.5-0.6 3.5-0.1 3.4 1.4 3.5 0 3.5-1.1 3.5 1.1 3.5-0.9"/>
<path stroke="#8000ff" stroke-width="6.2" stroke-dasharray="16 6" d="M132.2 838l3.5-7.2 3.5-6.6 3.5-6 3.5-5.8 3.5-5.2 3.5-3.5 3.5-2 3.5-0.9 3.5 1.4 3.5 3.2 3.4 6 3.5 9.1 3.5 9.5 3.5 10.7 3.5 11.8 3.5 13 3.5 14.7 3.5 15.7 3.5 16 3.4 16.9 3.5 16.4 3.5 14.7 3.5 13.7 3.5 13 3.5 12.6 3.5 12.5 3.5 12.3 3.5 11.8 3.5 11.1 3.5 10.1 3.4 9.4 3.5 8.9 3.5 8.2 3.5 7.6 3.5 6.8 3.5 6.4 3.5 5.9 3.5 5.4 3.5 4.6 3.4 4 3.5 3.7 3.5 3 3.5 2.2 3.5 1.5 3.5 1.3 3.5 0.9 3.5 0.4 3.5-0.1 3.5-0.2 3.5-0.2 3.4-0.4 3.5-1 3.5-1.4 3.5-1.8 3.5-2.5 3.5-3.3 3.5-3.6 3.5-3.6 3.5-3.4 3.4-3.1 3.5-3.1 3.5-3.1 3.5-3 3.5-2.8 3.5-2.7 3.5-2.6 3.5-2.5 3.5-2.3 3.5-2.2 3.5-2 3.4-1.6 3.5-1.6 3.5-1.5 3.5-1.3 3.5-0.7 3.5 0 3.5 0.2 3.5 0.3 3.5 0.8 3.4 1.3 3.5 1.6 3.5 1.7 3.5 1.8 3.5 2.1 3.5 2.2 3.5 2.5 3.5 2.8 3.5 3.1 3.5 3.4 3.5 3.5 3.4 3.7 3.5 4 3.5 4.2 3.5 4.2 3.5 4.1 3.5 3.9 3.5 3.5 3.5 3.4 3.5 3.3 3.4 3.4 3.5 3.4 3.5 3.6 3.5 3.8 3.5 3.7 3.5 3.5 3.5 3.1 3.5 2.9 3.5 2.8 3.5 2.7 3.5 2 3.4 1.9 3.5 1.9 3.5 1.4 3.5 1.4 3.5 0.9 3.5 0.5 3.5 1.2 3.5 0.9 3.5 1.3 3.4 0.2 3.5 0.8 3.5 0.1 3.5 0.4 3.5 1.5 3.5 0.8 3.5-1.3 3.5 1.1 3.5-1.2 3.5 1.4 3.5 0.7 3.4-0.1 3.5 0.2 3.5 1 3.5-0.7 3.5 1.8 3.5 0.8 3.5-0.8 3.5-0.4 3.5-4.9 3.4-0.3 3.5-1 3.5 4.5 3.5 2.8 3.5 0.2 3.5-0.3 3.5-0.4 3.5-0.3 3.5 0.5 3.5-0.3 3.5-1.2 3.4 1.7 3.5 0.1 3.5-0.4 3.5-1.8 3.5 0.1 3.5 1.7 3.5 0.4 3.5-0.2 3.5 0.5 3.5-1.5 3.4 0.1 3.5 0.5 3.5 0.8 3.5-0.1 3.5-0.6 3.5 0 3.5-1.4 3.5 2.2 3.5-0.3 3.5 0 3.4-1 3.5 0.4 3.5 0.4 3.5 0.2 3.5-0.3 3.5-0.1 3.5 0.7 3.5 0 3.5 0.1 3.4 0.6 3.5-0.6 3.5 0.5 3.5 0.7 3.5-1.9 3.5 1.7 3.5-0.2 3.5 0.4 3.5-2.5 3.5 3.2 3.5-2 3.4 0.4 3.5 0 3.5 0.2 3.5-0.9 3.5 1.1 3.5-0.6 3.5-0.4 3.5-0.2 3.5 2 3.4-1.5 3.5-0.7 3.5 2.9 3.5-1.7 3.5-0.6 3.5 0.4 3.5 0.4 3.5 0.1 3.5 1 3.5-1.3 3.5 1.1 3.4-1.3 3.5-0.8 3.5 2.1 3.5-0.5 3.5 0.4 3.5 1 3.5-1.4 3.5 0.2 3.5 1.2 3.4-1 3.5 0.9 3.5 0.4 3.5-1.2 3.5 0.1 3.5-0.3 3.5 1.7 3.5-1.8 3.5 0.5 3.5-0.1 3.5 1.2 3.4-0.1 3.5 0.4 3.5 0.7 3.5 0.1 3.5-0.4 3.5-1.4 3.5-0.2 3.5-1.8 3.5 3.4 3.4-1.8 3.5 1.6 3.5-1.1 3.5-1.8 3.5 1.5 3.5 1.1 3.5 2.2 3.5-2.8 3.5 0.9 3.5 1.9 3.5-4.5 3.4 2.2 3.5 0.8 3.5-1.2 3.5-1.6 3.5 1.4 3.5 1.3 3.5-0.2 3.5 1.8 3.5-1.4 3.4 0.5 3.5-3.1 3.5 0.4 3.5 3.4 3.5-1.4 3.5-1.7 3.5-0.2 3.5 3.4 3.5-3.9 3.5 4 3.5-2.1 3.4-0.5 3.5 2.6 3.5-0.8 3.5-5.1 3.5 5.9 3.5-3.7 3.5 0.4 3.5 1.8 3.5 0.8 3.4 0.1 3.5-0.2 3.5-2.3 3.5 3.1 3.5-1.1 3.5 1.1 3.5-1 3.5-0.1 3.5-3.6 3.5 1.4 3.5 1.3 3.4 0.3 3.5 0.7 3.5 1 3.5 0 3.5-0.1 3.5 0.1 3.5-1.6 3.5 1.6 3.5-1.8 3.4-2 3.5 3.1 3.5-1.3 3.5 1.3 3.5-1.3 3.5 0.9 3.5 0.4 3.5 0.7 3.5-1.3 3.5 0.3 3.5 1 3.4 0 3.5 0 3.5-0.9 3.5 0.9 3.5 0 3.5 0 3.5-1.7 3.5 1.2 3.5 0.5 3.4-0.3 3.5-0.7 3.5 0 3.5 0.2 3.5 0.8 3.5-0.3 3.5 0.3 3.5 0 3.5 0 3.5 0 3.5 0 3.4-0.2 3.5-0.8 3.5 1 3.5 0 3.5 0 3.5 0 3.5 0 3.5 0 3.5 0 3.5-0.9 3.4 0.9 3.5 0 3.5-0.4 3.5-0.5 3.5 0.1 3.5 0.8 3.5 0 3.5 0 3.5 0 3.5 0 3.4 0 3.5-3.2 3.5 3.2 3.5 0 3.5 0 3.5-2.1 3.5 2.1 3.5 0 3.5 0 3.4-2.3 3.5 0.5 3.5 1.8 3.5-1.8 3.5 1.8 3.5 0 3.5 0 3.5 0 3.5 0 3.5 0 3.5 0 3.4 0 3.5 0 3.5 0 3.5 0 3.5 0"/>
</g>
</g>
<g stroke="#000" stroke-width="3" fill="none" shape-rendering="crispEdges">
<path d="M132.5 38 V1205"/>
<path d="M131 1203.5 H1617"/>
<path d="M131 912.5 H154"/>
<path d="M131 621.5 H154"/>
<path d="M131 330.5 H154"/>
<path d="M219.5 1205 v-23"/>
<path d="M394.5 1205 v-23"/>
<path d="M568.5 1205 v-23"/>
<path d="M743.5 1205 v-23"/>
<path d="M917.5 1205 v-23"/>
<path d="M1092.5 1205 v-23"/>
<path d="M1266.5 1205 v-23"/>
<path d="M1441.5 1205 v-23"/>
</g>
<g font-family='"Liberation Sans", sans-serif' font-size="35" fill="#000">
<text x="119" y="1216.8" text-anchor="end">0.0</text>
<text x="119" y="925.8" text-anchor="end">0.5</text>
<text x="119" y="634.8" text-anchor="end">1.0</text>
<text x="119" y="343.8" text-anchor="end">1.5</text>
<text x="119" y="52.8" text-anchor="end">2.0</text>
<text x="219" y="1256.1" text-anchor="middle">250</text>
<text x="393.5" y="1256.1" text-anchor="middle">300</text>
<text x="568" y="1256.1" text-anchor="middle">350</text>
<text x="742.5" y="1256.1" text-anchor="middle">400</text>
<text x="917" y="1256.1" text-anchor="middle">450</text>
<text x="1091.5" y="1256.1" text-anchor="middle">500</text>
<text x="1266" y="1256.1" text-anchor="middle">550</text>
<text x="1440.5" y="1256.1" text-anchor="middle">600</text>
<text x="1615" y="1256.1" text-anchor="middle">650</text>
<text transform="translate(51 621.5) rotate(-90)" text-anchor="middle" font-size="36" textLength="190" lengthAdjust="spacingAndGlyphs">absorbance</text>
<text x="889.5" y="1314.9" text-anchor="middle" font-size="37" textLength="86" lengthAdjust="spacingAndGlyphs">λ/nm</text>
<text x="164.5" y="101.8" font-size="34.5">(<tspan font-weight="bold">a</tspan>)</text>
</g>
<g stroke="#000" stroke-width="3" fill="none" shape-rendering="crispEdges">
<path d="M1039.5 92 V557"/>
<path d="M1038 555.5 H1566.5"/>
<path d="M1038 410.5 h17"/>
<path d="M1038 266.5 h17"/>
<path d="M1038 121.5 h17"/>
<path d="M1189.5 557 v-16"/>
<path d="M1339.5 557 v-16"/>
<path d="M1489.5 557 v-16"/>
</g>
<clipPath id="clipa"><rect x="1019.5" y="91.5" width="560" height="483"/></clipPath>
<g clip-path="url(#clipa)" stroke="#000" stroke-width="3.3" fill="#c0c0c0" shape-rendering="crispEdges">
<circle cx="1054.7" cy="134.1" r="5.95"/>
<circle cx="1069.7" cy="168.3" r="5.95"/>
<circle cx="1084.7" cy="197" r="5.95"/>
<circle cx="1099.7" cy="203.6" r="5.95"/>
<circle cx="1114.7" cy="223" r="5.95"/>
<circle cx="1129.7" cy="235.2" r="5.95"/>
<circle cx="1144.7" cy="249.7" r="5.95"/>
<circle cx="1159.7" cy="256.1" r="5.95"/>
<circle cx="1174.7" cy="267.3" r="5.95"/>
<circle cx="1189.7" cy="277.5" r="5.95"/>
<circle cx="1204.7" cy="291.4" r="5.95"/>
<circle cx="1219.7" cy="305.6" r="5.95"/>
<circle cx="1234.7" cy="320.6" r="5.95"/>
<circle cx="1249.7" cy="338" r="5.95"/>
<circle cx="1264.7" cy="355.1" r="5.95"/>
<circle cx="1279.7" cy="374.8" r="5.95"/>
<circle cx="1294.7" cy="394.2" r="5.95"/>
<circle cx="1309.7" cy="414.5" r="5.95"/>
<circle cx="1324.7" cy="435.3" r="5.95"/>
<circle cx="1339.7" cy="454.1" r="5.95"/>
<circle cx="1354.7" cy="474.4" r="5.95"/>
<circle cx="1369.7" cy="491.2" r="5.95"/>
<circle cx="1384.7" cy="507.1" r="5.95"/>
<circle cx="1399.7" cy="519" r="5.95"/>
<circle cx="1414.7" cy="528.4" r="5.95"/>
<circle cx="1429.7" cy="536.1" r="5.95"/>
<circle cx="1444.7" cy="540" r="5.95"/>
<circle cx="1459.7" cy="543" r="5.95"/>
<circle cx="1474.7" cy="544.8" r="5.95"/>
<circle cx="1489.7" cy="545.4" r="5.95"/>
<circle cx="1504.7" cy="545.7" r="5.95"/>
<circle cx="1519.7" cy="545.7" r="5.95"/>
<circle cx="1534.7" cy="545.9" r="5.95"/>
<circle cx="1549.7" cy="547.1" r="5.95"/>
</g>
<g font-family='"Liberation Sans", sans-serif' font-size="27" fill="#000">
<text x="1026" y="565.5" text-anchor="end">0.0</text>
<text x="1026" y="420.8" text-anchor="end">0.5</text>
<text x="1026" y="276.1" text-anchor="end">1.0</text>
<text x="1026" y="131.4" text-anchor="end">1.5</text>
<text x="1038.5" y="600.1" text-anchor="middle">0</text>
<text x="1191.5" y="600.1" text-anchor="middle">1.0×10<tspan font-size="17" dy="-11">2</tspan></text>
<text x="1341.5" y="600.1" text-anchor="middle">2.0×10<tspan font-size="17" dy="-11">2</tspan></text>
<text x="1491.5" y="600.1" text-anchor="middle">3.0×10<tspan font-size="17" dy="-11">2</tspan></text>
<text x="1323.5" y="647.5" text-anchor="middle" font-size="30" textLength="84" lengthAdjust="spacingAndGlyphs">time/s</text>
<text transform="translate(970 333) rotate(-90)" text-anchor="middle" font-size="30" textLength="298" lengthAdjust="spacingAndGlyphs">absorbance at 400 nm</text>
</g>
<clipPath id="ccb"><rect x="134" y="1359.5" width="1310" height="1163.5"/></clipPath>
<g fill="none" stroke-linejoin="round" shape-rendering="crispEdges" clip-path="url(#ccb)">
<g>
<path stroke="#000000" stroke-width="5.6" stroke-dasharray="17 8" d="M132.2 2163.4l3.5 2.1 3.5 4 3.5 4.4 3.5 3.5 3.5 2.9 3.5 3.7 3.5 4.4 3.5 4.7 3.5 5 3.5 5.7 3.4 6 3.5 6 3.5 6.3 3.5 6.6 3.5 6.6 3.5 6.5 3.5 6.3 3.5 6.4 3.5 5.4 3.4 5.9 3.5 6.3 3.5 6.2 3.5 6.5 3.5 8 3.5 6.9 3.5 5.7 3.5 5.3 3.5 4.8 3.5 4.5 3.5 4.1 3.4 3.8 3.5 3.4 3.5 3.3 3.5 3.2 3.5 3.4 3.5 3.4 3.5 3.3 3.5 3.4 3.5 3.6 3.4 3.9 3.5 4.5 3.5 5 3.5 5.4 3.5 5.5 3.5 5.5 3.5 5.2 3.5 5.1 3.5 5.1 3.5 5 3.5 4.6 3.4 4.1 3.5 3.8 3.5 3.6 3.5 3.4 3.5 3 3.5 2.7 3.5 2.2 3.5 1.8 3.5 1.6 3.4 1.5 3.5 1.3 3.5 1.1 3.5 0.8 3.5 0.7 3.5 0.6 3.5 0.6 3.5 0.4 3.5 0.4 3.5 0.2 3.5 0.2 3.4 0.2 3.5 0.1 3.5 0.1 3.5 0 3.5 0 3.5-0.1 3.5-0.1 3.5-0.3 3.5-0.3 3.4-0.5 3.5-0.7 3.5-0.8 3.5-1.2 3.5-1.7 3.5-2 3.5-2.2 3.5-2.5 3.5-2.7 3.5-3.1 3.5-3.5 3.4-3.9 3.5-4 3.5-4.2 3.5-4.5 3.5-4.6 3.5-4.7 3.5-4.8 3.5-4.9 3.5-5 3.4-4.9 3.5-4.9 3.5-4.7 3.5-4.6 3.5-4.8 3.5-5.1 3.5-5.5 3.5-5.9 3.5-6.2 3.5-6.4 3.5-6.8 3.4-7.4 3.5-7.9 3.5-8.6 3.5-8.4 3.5-8.9 3.5-9.7 3.5-9.1 3.5-9.8 3.5-10.9 3.4-10.2 3.5-11.7 3.5-8.2 3.5-11.7 3.5-9.7 3.5-13.8 3.5-11.3 3.5-13.5 3.5-10.6 3.5-14.1 3.5-11.1 3.4-6.6 3.5-14.3 3.5-11.5 3.5-14.4 3.5-12.8 3.5-19 3.5-14.1 3.5-11.8 3.5-19.6 3.4-21.2 3.5-20.4 3.5-17.6 3.5-8.9 3.5-11.1 3.5-26.9 3.5-13.2 3.5-16.6 3.5-15.9 3.5-22.9 3.5-10.6 3.4-22.1 3.5-5 3.5-19.7 3.5-14.8 3.5-23 3.5-9 3.5-9.5 3.5-8.4 3.5-14.8 3.5-12.9 3.4-14.7 3.5-16 3.5 19.2 3.5-29 3.5-4.3 3.5 6.7 3.5-16.7 3.5-15.3 3.5 11.3 3.5 5.6 3.4-3.2 3.5-38 3.5-16.2 3.5 34.7 3.5 20.9 3.5-35.1 3.5 10.9 3.5-6.3 3.5 15.6 3.4 1.2 3.5 6.4 3.5 19.6 3.5 1.9 3.5 6.5 3.5 26.1 3.5-6.9 3.5 22 3.5 15.5 3.5 12.8 3.5 17 3.4 12.1 3.5 43 3.5 0.5 3.5 17.9 3.5 19.3 3.5 16 3.5 24.2 3.5 24.4 3.5 21.8 3.4 20.1 3.5 23 3.5 12.9 3.5 21.1 3.5 20.4 3.5 18.5 3.5 20.2 3.5 19.9 3.5 16 3.5 22.8 3.5 15.8 3.4 16.7 3.5 20.7 3.5 15.9 3.5 14.6 3.5 21 3.5 16.5 3.5 16.1 3.5 17.1 3.5 13.8 3.4 14.6 3.5 13.7 3.5 13.6 3.5 13.2 3.5 13.8 3.5 16.8 3.5 11 3.5 9.9 3.5 11.8 3.5 9.5 3.5 11.5 3.4 8.2 3.5 5.5 3.5 8.8 3.5 5.9 3.5 7.5 3.5 5.8 3.5 7.8 3.5 4.7 3.5 3.1 3.4 6.1 3.5 4.8 3.5 3.1 3.5 6.1 3.5 4.5 3.5 2.1 3.5 2.9 3.5 0.7 3.5 5.7 3.5-0.1 3.5 2.6 3.4 1.3 3.5-0.3 3.5 3.9 3.5-0.2 3.5 4.5 3.5-2.7 3.5 2.3 3.5 2.6 3.5 3 3.4-2.6 3.5-0.2 3.5-4.2 3.5 0.3 3.5 6.9 3.5-3.7 3.5 2.9 3.5 0.5 3.5 2.4 3.5-2.2 3.5-0.1 3.4 2.1 3.5-2.6 3.5 1.6 3.5-3.3 3.5 1.8 3.5 1 3.5 0.9 3.5 1.3 3.5-2.4 3.4 2.8 3.5-2.1 3.5 1.9 3.5-0.5 3.5-3.7 3.5 2.3 3.5 0.4 3.5 2.6 3.5-1.4 3.5 0.4 3.5 1.6 3.4 0.8 3.5-2.4 3.5-1.5 3.5 4.6 3.5-2.2 3.5 1.9 3.5-2.6 3.5 0.5 3.5 3.2 3.4-0.3 3.5-2.1 3.5-0.1 3.5 0.4 3.5-0.3 3.5-0.4 3.5-2.7 3.5 4 3.5 0.2 3.5 0.7 3.5-3.5 3.4 1.2 3.5 3.3 3.5 1.3 3.5-0.2 3.5-3.4 3.5-0.1 3.5 1.5 3.5 3.8 3.5-0.9 3.4-2.4 3.5 0.7 3.5-0.2 3.5 0.4 3.5 1.2 3.5-1.3 3.5 0.8 3.5 2.2 3.5-1.5 3.5-1.8 3.5 1.7 3.4-1.2 3.5-1.5 3.5 4.6 3.5-6.6 3.5 5.3 3.5-0.7 3.5-1 3.5 3.1 3.5-1.5 3.5-0.2 3.4 1.1 3.5-1.2 3.5 1.2 3.5-0.7 3.5 1.6 3.5-2.1 3.5-0.2 3.5-1 3.5 2.9 3.5-0.9 3.4 0.8 3.5-1.1 3.5 2.2 3.5-0.1 3.5-0.9 3.5-2.2 3.5 3.2 3.5-2.1 3.5 1.4 3.4-0.5 3.5 1.2 3.5 0 3.5-2.1 3.5 2.1 3.5-1 3.5 1 3.5-1.3 3.5-0.4 3.5 1.1 3.5 0.6 3.4-0.3 3.5-0.1 3.5 0.4 3.5-1.3 3.5 0.6"/>
</g>
<g transform="scale(1.25 1)">
<path stroke="#ff0000" stroke-width="2.9" d="M105.8 2164.6l2.8 1 2.8 1.4 2.8 1.9 2.8 2.1 2.8 2.5 2.8 3.4 2.7 4.1 2.8 4.4 2.8 4.9 2.8 5.7 2.8 6.2 2.8 6.3 2.8 6.3 2.8 6.5 2.8 6.6 2.8 6.3 2.8 6.2 2.8 6.2 2.7 6.7 2.8 7.4 2.8 8 2.8 8.1 2.8 8.4 2.8 8.4 2.8 7 2.8 5.9 2.8 5.4 2.8 4.8 2.8 4.5 2.8 4.1 2.8 3.8 2.7 3.3 2.8 3.3 2.8 3.2 2.8 3.4 2.8 3.2 2.8 3.3 2.8 3.3 2.8 3.5 2.8 3.8 2.8 4.3 2.8 4.9 2.8 5.1 2.7 5.3 2.8 5.1 2.8 4.9 2.8 4.7 2.8 4.8 2.8 4.6 2.8 4.3 2.8 3.7 2.8 2.8 2.8 2.6 2.8 2.3 2.8 1.8 2.8 1.3 2.7 0.8 2.8 0.4 2.8 0.1 2.8 0.7 2.8 0.5 2.8 0.1 2.8-0.1 2.8-0.2 2.8-0.4 2.8-0.4 2.8-0.4 2.8-0.5 2.7-0.6 2.8-0.6 2.8-0.5 2.8-0.6 2.8-0.6 2.8-0.6 2.8-0.5 2.8-0.5 2.8-0.6 2.8-0.5 2.8-0.7 2.8-0.7 2.8-0.8 2.7-0.8 2.8-1.1 2.8-1.5 2.8-1.7 2.8-1.9 2.8-2 2.8-2 2.8-2.4 2.8-2.8 2.8-2.8 2.8-2.7 2.8-2.7 2.7-2.9 2.8-2.8 2.8-2.6 2.8-2.6 2.8-2.7 2.8-2.8 2.8-2.8 2.8-2.7 2.8-2.9 2.8-2.9 2.8-3.3 2.8-3.7 2.8-4.2 2.7-4.7 2.8-5 2.8-5.4 2.8-5.6 2.8-6.8 2.8-6.8 2.8-7.6 2.8-7.5 2.8-8.5 2.8-8.4 2.8-8.8 2.8-9.5 2.7-9.3 2.8-10.2 2.8-9.7 2.8-8.5 2.8-8 2.8-11 2.8-13.3 2.8-11.2 2.8-11.1 2.8-10.3 2.8-11.8 2.8-15.3 2.8-4.3 2.7-13.4 2.8-5.6 2.8-18.2 2.8-4.2 2.8-24.6 2.8-11.6 2.8-16.6 2.8-17.5 2.8-16.6 2.8-32.6 2.8-5 2.8-5.6 2.7-12.3 2.8-33.6 2.8-6.2 2.8-0.5 2.8-29.3 2.8-18.7 2.8-13.9 2.8-15.9 2.8-5.3 2.8-14.3 2.8-11.8 2.8-29.1 2.8-14 2.7-8.4 2.8-3.3 2.8-6.1 2.8-14.8 2.8 2.2 2.8-45.2 2.8 43.9 2.8-37.7 2.8 0.9 2.8-1.6 2.8-30.7 2.8 14.5 2.7-13.2 2.8 21.8 2.8-17.6 2.8-10.3 2.8-35.8 2.8 30.5 2.8 36.2 2.8-38.4 2.8-8.3 2.8-6.1 2.8 27.1 2.8-1.5 2.8-3.3 2.7 31.4 2.8 2.8 2.8-5 2.8 51.8 2.8-24.5 2.8 32.8 2.8 1.1 2.8 20.6 2.8 2.1 2.8 8.2 2.8 46.9 2.8 0.5 2.7 15.4 2.8 16.2 2.8 19 2.8 21.8 2.8 27.1 2.8 8.4 2.8 25.5 2.8 23.7 2.8 3.5 2.8 29.1 2.8 19.8 2.8 23 2.8 20.4 2.7 15.5 2.8 15.1 2.8 19.9 2.8 7.4 2.8 17.4 2.8 23.3 2.8 11.6 2.8 15.5 2.8 16.2 2.8 19.4 2.8 15.7 2.8 11.8 2.7 14.1 2.8 16.6 2.8 12.4 2.8 8.5 2.8 15.8 2.8 12.6 2.8 14.7 2.8 11.9 2.8 8.2 2.8 15.4 2.8 6.9 2.8 8.5 2.8 6.3 2.7 8.6 2.8 8.1 2.8 4.5 2.8 7.6 2.8 4.5 2.8 5.3 2.8 4.6 2.8 6.8 2.8 6.8 2.8 1 2.8 4.8 2.8 1.4 2.7 7.9 2.8-0.6 2.8 5.7 2.8 1.7 2.8 0.4 2.8 3.1 2.8 2.6 2.8 0.8 2.8 1.6 2.8 1.8 2.8-0.9 2.8 7.8 2.8-4.6 2.7-1 2.8 1.5 2.8-0.5 2.8 1.5 2.8-1.4 2.8 6.5 2.8-3.6 2.8-3.6 2.8 7.9 2.8-1.5 2.8 1.8 2.8 0.1 2.7-2.2 2.8 3.4 2.8 1.3 2.8 0.6 2.8-5.3 2.8-1.9 2.8-0.2 2.8 6.7 2.8 1.5 2.8-2.4 2.8-1.8 2.8 1.6 2.8-3.1 2.7 1.5 2.8 1.4 2.8 2.6 2.8-1.8 2.8-3.6 2.8 5 2.8-1.5 2.8 3.1 2.8-5.5 2.8 3 2.8-0.5 2.8 5.1 2.7-3.3 2.8 2.1 2.8-2.6 2.8-3.8 2.8 6.4 2.8 1 2.8-4 2.8 0.4 2.8 1.5 2.8 0.8 2.8-1.2 2.8 0.1 2.8-0.6 2.7 3.7 2.8-1.1 2.8-1.8 2.8-2.1 2.8 0.9 2.8 2.1 2.8-0.2 2.8 1.5 2.8-1.2 2.8 2.5 2.8-0.3 2.8 2.7 2.7-7.4 2.8 2.2 2.8-0.1 2.8-0.2 2.8 0.5 2.8 1.5 2.8 0.8 2.8-1.7 2.8 0.6 2.8 0.8 2.8-0.9 2.8 1.9 2.8-0.7 2.7 1.9 2.8-0.3 2.8-2.1 2.8-2.1 2.8 1.7 2.8 0.6 2.8-0.7 2.8 0.3 2.8-1.4 2.8 2.8 2.8-2 2.8 2.3 2.7 1.7 2.8-5.2 2.8 2.4 2.8 1.5 2.8-0.4 2.8-1.9 2.8 2.5 2.8 1.1 2.8-2.1 2.8-1 2.8 1 2.8 0.4 2.8-0.8 2.7 2.5 2.8-2.1 2.8 1.9 2.8 0.2 2.8 0 2.8-0.5 2.8-0.7 2.8 0.4 2.8-2.1 2.8 2.9 2.8-3.5 2.8 2.1 2.7 1.4 2.8 0 2.8-1.3 2.8 1.3 2.8-1.6 2.8 1.5 2.8-1.5"/>
<path stroke="#00ff00" stroke-width="2.9" d="M105.8 2166.2l2.8 0.4 2.8 0.7 2.8 1.1 2.8 1.1 2.8 1.5 2.8 2.6 2.7 3.2 2.8 3.9 2.8 4.6 2.8 5.8 2.8 7.1 2.8 7.1 2.8 6.8 2.8 6.7 2.8 6.8 2.8 6.5 2.8 6.2 2.8 6.3 2.7 6.9 2.8 7.9 2.8 9 2.8 9.7 2.8 9.5 2.8 9.5 2.8 7.6 2.8 6.5 2.8 5.6 2.8 5.2 2.8 4.6 2.8 4.2 2.8 3.7 2.7 3.4 2.8 3.3 2.8 3.2 2.8 3.3 2.8 3.1 2.8 3 2.8 3.2 2.8 3.2 2.8 3.5 2.8 3.9 2.8 4.4 2.8 4.6 2.7 4.4 2.8 4.3 2.8 4 2.8 3.8 2.8 3.9 2.8 3.6 2.8 3.3 2.8 2.9 2.8 0.9 2.8 0.5 2.8 0 2.8-0.7 2.8-1.3 2.7-1.9 2.8-2.4 2.8-2.8 2.8-1.1 2.8-1.4 2.8-1.8 2.8-2.1 2.8-2.3 2.8-2.3 2.8-2.4 2.8-2.3 2.8-2.3 2.7-2.2 2.8-2.1 2.8-2.1 2.8-2.1 2.8-1.9 2.8-1.7 2.8-1.5 2.8-1.3 2.8-1.2 2.8-1.3 2.8-1.2 2.8-1.1 2.8-0.8 2.7-0.6 2.8-0.6 2.8-0.9 2.8-0.9 2.8-1 2.8-0.7 2.8-0.6 2.8-0.7 2.8-1 2.8-0.4 2.8 0.2 2.8 0.5 2.7 0.6 2.8 1 2.8 1.9 2.8 2.1 2.8 1.9 2.8 1.6 2.8 1.8 2.8 1.6 2.8 1 2.8 0.5 2.8 0 2.8-0.6 2.8-1.4 2.7-2.1 2.8-2.5 2.8-3 2.8-3.4 2.8-4.2 2.8-5 2.8-5.7 2.8-5.5 2.8-6.2 2.8-6.3 2.8-7.1 2.8-7.5 2.7-6.8 2.8-8.8 2.8-7.7 2.8-6.5 2.8-8.5 2.8-7 2.8-11.7 2.8-9.3 2.8-7.2 2.8-10.8 2.8-8.6 2.8-9.4 2.8-6 2.7-10.2 2.8-4.9 2.8-13.5 2.8-9.3 2.8-13.4 2.8-9.9 2.8-15.7 2.8-16.7 2.8-14.7 2.8-16.6 2.8-6.7 2.8-13.1 2.7-8.4 2.8-20.3 2.8-7.9 2.8-13.5 2.8-5.4 2.8-23.8 2.8-9 2.8-10.3 2.8-12.6 2.8-19.8 2.8 2.6 2.8-29.6 2.8-1.4 2.7-1.3 2.8-16.4 2.8-13.5 2.8-5.6 2.8-12.6 2.8-10.5 2.8 11.8 2.8-3.2 2.8-22 2.8 6.1 2.8-14 2.8-13.6 2.7 7.6 2.8 11.8 2.8 1.3 2.8-24.8 2.8-6.2 2.8 12.5 2.8 15.7 2.8-36.9 2.8 12.2 2.8-6.3 2.8 23.6 2.8-3.8 2.8 1.8 2.7 17.3 2.8-2.7 2.8-3.6 2.8 31.6 2.8-6.6 2.8 23.7 2.8-0.3 2.8 20.6 2.8 4.8 2.8 24.8 2.8 22.9 2.8 6 2.7 10.9 2.8 19.9 2.8 5.6 2.8 18.1 2.8 21.3 2.8 11.6 2.8 14.8 2.8 17.3 2.8 11.2 2.8 16.2 2.8 18.6 2.8 17.7 2.8 13.3 2.7 14.5 2.8 15.5 2.8 17 2.8 9 2.8 12 2.8 17.1 2.8 14.2 2.8 11.4 2.8 16.9 2.8 11.3 2.8 15.5 2.8 10.2 2.7 10.4 2.8 15.1 2.8 8.2 2.8 8.4 2.8 11.4 2.8 11.7 2.8 11.4 2.8 11 2.8 4.9 2.8 13 2.8 6.6 2.8 5.2 2.8 7.5 2.7 5.1 2.8 7.1 2.8 3.8 2.8 7.6 2.8 2.7 2.8 4.9 2.8 3.1 2.8 6.4 2.8 2.7 2.8 2 2.8 5.6 2.8 3.5 2.7 2 2.8 2 2.8 4.6 2.8 0.2 2.8 2.2 2.8 1.4 2.8 1.9 2.8 1.1 2.8 2.8 2.8-0.1 2.8 6.1 2.8-7 2.8 4.2 2.7-1.7 2.8 0.9 2.8 1.4 2.8-0.5 2.8-3.8 2.8 5.7 2.8 3.3 2.8-4.1 2.8-1.3 2.8 1.5 2.8-0.1 2.8 0 2.7 3.9 2.8-0.4 2.8-0.8 2.8-1.9 2.8 7.2 2.8-6.6 2.8 1.6 2.8-2 2.8 5.9 2.8 1 2.8-0.7 2.8-1.4 2.8-1.2 2.7-4 2.8 0.6 2.8 2.6 2.8 0.6 2.8 2.3 2.8 0.3 2.8-4.1 2.8 3.4 2.8-1.6 2.8 2.6 2.8-2.5 2.8 0.2 2.7 0.1 2.8 0.1 2.8 2.5 2.8-0.7 2.8-1.8 2.8 3.5 2.8-3.4 2.8 2.7 2.8 1.6 2.8-0.8 2.8-0.4 2.8 1.2 2.8-1.3 2.7 0.6 2.8-3.4 2.8 3.4 2.8-1.7 2.8 2 2.8-1 2.8 0.2 2.8-1.1 2.8-1.6 2.8 3.3 2.8-1.1 2.8 2 2.7-0.1 2.8-1 2.8-2.3 2.8 2.6 2.8 0.2 2.8-1.1 2.8-0.2 2.8 2.7 2.8-0.6 2.8 1.9 2.8-2.7 2.8 1.8 2.8-0.9 2.7 2.5 2.8-1 2.8-1.5 2.8-0.8 2.8-0.6 2.8 0.9 2.8 2.1 2.8-0.3 2.8-1.9 2.8 2.1 2.8-0.1 2.8-2.3 2.7 0.3 2.8 0.2 2.8 1 2.8 0.4 2.8-0.3 2.8 1 2.8 0.2 2.8-0.4 2.8 0.4 2.8-0.5 2.8 1.1 2.8 0 2.8-1.2 2.7 1.2 2.8-1.7 2.8 1.7 2.8-1.3 2.8-0.3 2.8-0.5 2.8-0.8 2.8 2.9 2.8-0.8 2.8-1.3 2.8-0.2 2.8 0.9 2.7 1.4 2.8 0 2.8-0.9 2.8 0.7 2.8-1.7 2.8 0.2 2.8 1.4"/>
<path stroke="#0000ff" stroke-width="2.9" d="M105.8 2165.5l2.8-0.4 2.8 0 2.8 0.3 2.8 0.2 2.8 0.7 2.8 1.9 2.7 2.5 2.8 3.6 2.8 4.5 2.8 6.2 2.8 7.9 2.8 8.1 2.8 7.3 2.8 7.3 2.8 7.3 2.8 7 2.8 6.8 2.8 6.9 2.7 7.5 2.8 8.5 2.8 9.8 2.8 10.5 2.8 10 2.8 9.8 2.8 8.1 2.8 6.8 2.8 5.9 2.8 5.4 2.8 4.8 2.8 4.2 2.8 3.8 2.7 3.3 2.8 3.3 2.8 3.3 2.8 3.2 2.8 3 2.8 2.9 2.8 3 2.8 3.1 2.8 3.3 2.8 3.6 2.8 4 2.8 4.1 2.7 4 2.8 3.6 2.8 3.3 2.8 3.3 2.8 3.2 2.8 2.9 2.8 2.6 2.8 2.2 2.8 0.5 2.8 0 2.8-0.7 2.8-1.4 2.8-2.1 2.7-2.6 2.8-3.2 2.8-3.5 2.8-2.1 2.8-2.3 2.8-2.8 2.8-3.1 2.8-3.2 2.8-3.2 2.8-3.3 2.8-3.3 2.8-3 2.7-2.9 2.8-2.9 2.8-2.7 2.8-2.7 2.8-2.5 2.8-2.1 2.8-1.8 2.8-1.5 2.8-1.4 2.8-1.4 2.8-1.3 2.8-1.1 2.8-0.6 2.7-0.3 2.8-0.3 2.8-0.4 2.8-0.3 2.8-0.2 2.8 0.1 2.8 0.4 2.8 0.2 2.8 0.2 2.8 0.9 2.8 1.7 2.8 2.1 2.7 2.3 2.8 2.9 2.8 4 2.8 4.2 2.8 4 2.8 3.7 2.8 3.8 2.8 3.6 2.8 2.9 2.8 2.1 2.8 1.6 2.8 0.8 2.8 0 2.7-0.7 2.8-1.1 2.8-1.7 2.8-2.2 2.8-3.2 2.8-3.6 2.8-4.2 2.8-4.2 2.8-5.6 2.8-4.6 2.8-5.4 2.8-6.2 2.7-4.8 2.8-8.3 2.8-6 2.8-5.3 2.8-6.6 2.8-5.7 2.8-11.6 2.8-6 2.8-7.2 2.8-7.7 2.8-7.3 2.8-10.7 2.8-3.9 2.7-7.8 2.8-7.1 2.8-9.3 2.8-7.8 2.8-12.1 2.8-8.5 2.8-7.5 2.8-16.6 2.8-14.9 2.8-14.6 2.8-7.7 2.8-4.6 2.7-8.7 2.8-15.8 2.8-14.5 2.8-6.5 2.8-12.9 2.8-11.3 2.8-7.3 2.8-10.5 2.8-9.8 2.8-8.6 2.8-9 2.8-15.3 2.8-10.4 2.7 0.6 2.8-11.6 2.8-8.9 2.8-5.8 2.8-14.5 2.8-7.5 2.8 2 2.8-14.3 2.8 0.1 2.8-2.9 2.8-12.7 2.8 8.3 2.7-6.1 2.8-2.8 2.8 12.9 2.8-18.5 2.8-11.1 2.8 9.2 2.8 13.9 2.8-18.9 2.8 3 2.8 1.3 2.8 11.2 2.8-8.2 2.8 2.6 2.7 20.3 2.8 3.1 2.8 7.1 2.8 4.3 2.8 5.1 2.8 14.8 2.8 9.4 2.8 8.9 2.8 3.4 2.8 17.4 2.8 25.6 2.8 1.5 2.7 8.5 2.8 21.4 2.8-0.7 2.8 15.6 2.8 24.2 2.8 9.7 2.8 14.8 2.8 16.7 2.8 8.1 2.8 13.6 2.8 12.5 2.8 14.3 2.8 10.6 2.7 15.5 2.8 9.6 2.8 15.1 2.8 11.2 2.8 7.7 2.8 16 2.8 13.5 2.8 8.2 2.8 9.9 2.8 13.3 2.8 11.6 2.8 9.5 2.7 10.1 2.8 9.5 2.8 8.6 2.8 9.9 2.8 7.2 2.8 9.3 2.8 12.4 2.8 6.3 2.8 5.6 2.8 10 2.8 6.8 2.8 4.1 2.8 7.6 2.7 4.7 2.8 3.5 2.8 4.7 2.8 5.2 2.8 4 2.8 3.7 2.8 4.8 2.8 0.7 2.8 5.2 2.8 2.9 2.8 2.9 2.8 3.6 2.7 0.3 2.8 4.7 2.8-1.2 2.8 8 2.8-4 2.8 1.6 2.8 1.9 2.8 1.1 2.8-2.9 2.8 4.6 2.8-0.1 2.8 1.7 2.8-0.5 2.7 4.4 2.8-3.2 2.8 2 2.8 1.8 2.8-1.9 2.8-1.1 2.8-0.3 2.8 3 2.8-4.7 2.8 3.2 2.8 2.6 2.8 0.5 2.7 0 2.8-2.1 2.8 1.7 2.8 2.1 2.8-3.2 2.8 4.6 2.8-4.9 2.8 0.9 2.8 0.5 2.8 1.2 2.8 3.3 2.8-3.9 2.8 2.2 2.7 1.5 2.8-1.7 2.8 1.7 2.8-2 2.8 3.3 2.8-1.7 2.8-2.6 2.8 1.9 2.8-2.7 2.8 6.2 2.8-2.4 2.8 1 2.7-3 2.8 3.4 2.8-0.9 2.8-0.3 2.8-6.4 2.8 8.3 2.8-4.6 2.8 4.8 2.8-0.5 2.8-0.2 2.8-2.4 2.8 3.8 2.8 1.5 2.7-2 2.8-6.1 2.8 1.2 2.8 2.3 2.8 0.3 2.8 1.8 2.8 0.5 2.8-2.3 2.8-0.6 2.8-1.1 2.8 2.6 2.8-1.5 2.7 4.4 2.8 0.9 2.8-1.2 2.8-1.4 2.8 0.4 2.8 1.3 2.8 0.5 2.8-1.3 2.8-1.8 2.8 0.6 2.8 0.5 2.8 0.6 2.8-1.9 2.7 1.3 2.8-5.2 2.8 5.5 2.8 1.3 2.8-3.9 2.8 0.8 2.8 1.1 2.8 0.6 2.8-1.4 2.8 2.2 2.8-0.1 2.8 0.9 2.7-2.1 2.8-0.1 2.8 0.8 2.8-0.3 2.8-1.3 2.8 3.6 2.8-1 2.8 1 2.8-0.5 2.8-0.9 2.8 1.4 2.8-1.8 2.8 0.4 2.7 1 2.8-0.4 2.8-1.1 2.8 1.9 2.8-0.4 2.8-0.1 2.8 0.5 2.8-1.1 2.8 1.1 2.8-1.9 2.8 1.9 2.8-1.7 2.7 1.7 2.8 0 2.8-0.6 2.8 0.6 2.8-0.2 2.8-1.8 2.8 2"/>
<path stroke="#00ffff" stroke-width="2.9" d="M105.8 2164.5l2.8-1 2.8-0.7 2.8-0.4 2.8-0.5 2.8 0 2.8 1.3 2.7 2.1 2.8 3.3 2.8 4.5 2.8 6.4 2.8 8.7 2.8 8.9 2.8 7.9 2.8 7.7 2.8 7.8 2.8 7.5 2.8 7.4 2.8 7.4 2.7 8.1 2.8 8.9 2.8 10.4 2.8 11 2.8 10.2 2.8 9.8 2.8 8.3 2.8 7 2.8 6 2.8 5.5 2.8 4.8 2.8 4.2 2.8 3.7 2.7 3.3 2.8 3.3 2.8 3.3 2.8 3.1 2.8 2.9 2.8 2.8 2.8 2.9 2.8 2.9 2.8 3.1 2.8 3.4 2.8 3.8 2.8 3.8 2.7 3.5 2.8 3.2 2.8 2.8 2.8 2.8 2.8 2.6 2.8 2.4 2.8 2.1 2.8 1.7 2.8 0.5 2.8-0.1 2.8-0.8 2.8-1.7 2.8-2.2 2.7-2.8 2.8-3.2 2.8-3.6 2.8-2.8 2.8-3 2.8-3.5 2.8-3.7 2.8-3.9 2.8-3.9 2.8-3.9 2.8-3.8 2.8-3.6 2.7-3.4 2.8-3.2 2.8-3.2 2.8-3.1 2.8-2.8 2.8-2.3 2.8-2 2.8-1.6 2.8-1.5 2.8-1.5 2.8-1.3 2.8-1 2.8-0.5 2.7 0 2.8 0.1 2.8 0 2.8 0.2 2.8 0.4 2.8 0.7 2.8 1.1 2.8 1 2.8 1 2.8 1.9 2.8 2.7 2.8 3.3 2.7 3.5 2.8 4.2 2.8 5.3 2.8 5.7 2.8 5.3 2.8 5.1 2.8 5.3 2.8 4.9 2.8 4.1 2.8 3.2 2.8 2.6 2.8 1.9 2.8 0.9 2.7 0.3 2.8-0.1 2.8-0.6 2.8-1.4 2.8-2.2 2.8-2.7 2.8-3.3 2.8-2.9 2.8-4.6 2.8-3.9 2.8-4.8 2.8-4.7 2.7-4.7 2.8-5.5 2.8-6 2.8-4.2 2.8-5.7 2.8-4.8 2.8-8.7 2.8-6.3 2.8-4.5 2.8-8 2.8-8.2 2.8-6.2 2.8-3 2.7-7.8 2.8-4.5 2.8-9.6 2.8-7.3 2.8-7.6 2.8-8.4 2.8-11.9 2.8-12.6 2.8-9.7 2.8-12.9 2.8-8.7 2.8-1.7 2.7-4.8 2.8-16.4 2.8-11 2.8-8.2 2.8-8.8 2.8-8.8 2.8-7.6 2.8-15.4 2.8-3.2 2.8-6.3 2.8-8.6 2.8-16.8 2.8 0.5 2.7-10.8 2.8-7.1 2.8-5.5 2.8-3.4 2.8-12.6 2.8-2.4 2.8 0.5 2.8-10.9 2.8-5.5 2.8 1.2 2.8-12.8 2.8-1 2.7 6.8 2.8-2.3 2.8-4.7 2.8-9.3 2.8-7 2.8 10 2.8 6.7 2.8-11.5 2.8 5.4 2.8-6.4 2.8 12.7 2.8-2.8 2.8 9.7 2.7 6.6 2.8 0.2 2.8 1.2 2.8 13.2 2.8 0.1 2.8 12.6 2.8 10.1 2.8 12.6 2.8 1.1 2.8 12 2.8 17.7 2.8 5.3 2.7 9.9 2.8 12.1 2.8 8 2.8 13 2.8 17.3 2.8 7.7 2.8 13.3 2.8 12 2.8 6.9 2.8 10.9 2.8 13.8 2.8 11.6 2.8 11.7 2.7 11.3 2.8 8.3 2.8 14 2.8 8.3 2.8 9.2 2.8 11.7 2.8 8.4 2.8 9.5 2.8 11.4 2.8 11.5 2.8 8.4 2.8 7.4 2.7 8.3 2.8 9.7 2.8 8.1 2.8 5.6 2.8 8.4 2.8 8.5 2.8 8 2.8 6.7 2.8 4.9 2.8 8.3 2.8 4.9 2.8 6.5 2.8 3.6 2.7 6 2.8 5.9 2.8 1.3 2.8 1.8 2.8 4.2 2.8 6.6 2.8 2.7 2.8 0.7 2.8 2.2 2.8 3.7 2.8 0.9 2.8 7.8 2.7-0.6 2.8 0.1 2.8 1.7 2.8 2.5 2.8-0.5 2.8 2.2 2.8 0.8 2.8 0.1 2.8 0.4 2.8 5.8 2.8 0.6 2.8-2.6 2.8-0.5 2.7 3.6 2.8-1.3 2.8-0.7 2.8 1 2.8-0.4 2.8 2.2 2.8 0.1 2.8-0.5 2.8 1 2.8-0.4 2.8 0.6 2.8-3.3 2.7 2 2.8 3.4 2.8-1.7 2.8-1.2 2.8 4.7 2.8 2.4 2.8-3.5 2.8-4.8 2.8 1.2 2.8 2.3 2.8-0.2 2.8-1.5 2.8 8.6 2.7-9.1 2.8 4.6 2.8-1.6 2.8 2.7 2.8-5.1 2.8 3.2 2.8-2.4 2.8 0 2.8-1.5 2.8 3.2 2.8-3.5 2.8 8.4 2.7-3.6 2.8 2.7 2.8-0.9 2.8-4 2.8 5.3 2.8-0.1 2.8-2.9 2.8 1.9 2.8-3.9 2.8 0.2 2.8 4.6 2.8-3.7 2.8 2.5 2.7 0.4 2.8-1.3 2.8-1.8 2.8 0.1 2.8 2.2 2.8 0.1 2.8-0.2 2.8 3.5 2.8-3.1 2.8-0.8 2.8-0.6 2.8 0.7 2.7-0.5 2.8 4.5 2.8-1.5 2.8-6.5 2.8 4.2 2.8 3.4 2.8-5 2.8 4.2 2.8-2.7 2.8 1.7 2.8-0.3 2.8 2.1 2.8-1.2 2.7-0.1 2.8 0.6 2.8 1.1 2.8-1 2.8-4 2.8 2.2 2.8 0.2 2.8 2.6 2.8-4.8 2.8 2.9 2.8 0.1 2.8-0.9 2.7 1 2.8-0.4 2.8 2.1 2.8-0.4 2.8 0.4 2.8-3.5 2.8 3.5 2.8 0 2.8-1.4 2.8-0.6 2.8 1.8 2.8-0.3 2.8-1.1 2.7 1.5 2.8-1.5 2.8 1.6 2.8-0.9 2.8 0.9 2.8-0.3 2.8 0.1 2.8 0.2 2.8-0.2 2.8 0.2 2.8-2.6 2.8 1.3 2.7-0.3 2.8 1.6 2.8 0 2.8 0 2.8 0 2.8-2.1 2.8-0.2"/>
<path stroke="#ff00ff" stroke-width="2.9" d="M105.8 2163.3l2.8-1.6 2.8-1.4 2.8-1.1 2.8-1.1 2.8-0.7 2.8 0.8 2.7 1.6 2.8 3.1 2.8 4.5 2.8 6.7 2.8 9.5 2.8 9.6 2.8 8.5 2.8 8.2 2.8 8.2 2.8 8.1 2.8 7.9 2.8 8.1 2.7 8.7 2.8 9.5 2.8 11 2.8 11.6 2.8 10.5 2.8 9.8 2.8 8.7 2.8 7.3 2.8 6.3 2.8 5.6 2.8 4.9 2.8 4.3 2.8 3.8 2.7 3.3 2.8 3.3 2.8 3.3 2.8 3.1 2.8 2.9 2.8 2.7 2.8 2.7 2.8 2.9 2.8 2.9 2.8 3.2 2.8 3.5 2.8 3.5 2.7 3.1 2.8 2.8 2.8 2.3 2.8 2.4 2.8 2.2 2.8 1.9 2.8 1.6 2.8 1.2 2.8 0.4 2.8-0.1 2.8-1 2.8-1.8 2.8-2.4 2.7-2.9 2.8-3.3 2.8-3.5 2.8-3.3 2.8-3.6 2.8-4 2.8-4.3 2.8-4.3 2.8-4.3 2.8-4.4 2.8-4.2 2.8-4 2.7-3.7 2.8-3.6 2.8-3.4 2.8-3.4 2.8-3 2.8-2.5 2.8-2 2.8-1.7 2.8-1.5 2.8-1.4 2.8-1.3 2.8-0.8 2.8-0.3 2.7 0.2 2.8 0.5 2.8 0.3 2.8 0.7 2.8 0.9 2.8 1.3 2.8 1.7 2.8 1.6 2.8 1.7 2.8 2.6 2.8 3.6 2.8 4.2 2.7 4.3 2.8 5.2 2.8 6.3 2.8 6.8 2.8 6.3 2.8 6.1 2.8 6.3 2.8 5.9 2.8 4.9 2.8 4.1 2.8 3.4 2.8 2.6 2.8 1.7 2.7 1.1 2.8 0.7 2.8 0.1 2.8-0.5 2.8-1.1 2.8-2.2 2.8-2.5 2.8-2.6 2.8-3.2 2.8-3 2.8-3.5 2.8-4.4 2.7-3.4 2.8-4.7 2.8-5.1 2.8-3.5 2.8-5.7 2.8-3.7 2.8-8.2 2.8-4.8 2.8-4.2 2.8-5.8 2.8-5.7 2.8-7.2 2.8-2.3 2.7-7 2.8-4.8 2.8-6.9 2.8-4.2 2.8-7.6 2.8-8.4 2.8-8.4 2.8-10.3 2.8-10.7 2.8-10.3 2.8-4.4 2.8-4.1 2.7-6.9 2.8-13.2 2.8-4.6 2.8-10.9 2.8-7.3 2.8-10.9 2.8-7 2.8-5.7 2.8-10.1 2.8-6.6 2.8-3.5 2.8-10.6 2.8-2.4 2.7-5 2.8-7.9 2.8-2.1 2.8-8.4 2.8-8.7 2.8-4.1 2.8-1.1 2.8-5.7 2.8-6.3 2.8-0.7 2.8-4 2.8 0.1 2.7-2.1 2.8-6 2.8 4.9 2.8-7 2.8-7.6 2.8 10.4 2.8 1.8 2.8-10.2 2.8 2.9 2.8 2.6 2.8 5.6 2.8-3.3 2.8 2.4 2.7 11.6 2.8 2.7 2.8 2.4 2.8 7.9 2.8 8.1 2.8 4.8 2.8 4.8 2.8 10.6 2.8 6.9 2.8 9.4 2.8 11.5 2.8 5.9 2.7 9.5 2.8 8.5 2.8 7.8 2.8 13.5 2.8 9.9 2.8 7.3 2.8 14.3 2.8 8.9 2.8 6.7 2.8 6.6 2.8 13.6 2.8 12.2 2.8 8.4 2.7 8.7 2.8 8.7 2.8 9.3 2.8 8.4 2.8 6 2.8 12.7 2.8 5.5 2.8 8.4 2.8 10.5 2.8 8.3 2.8 8.1 2.8 6.4 2.7 9 2.8 4.7 2.8 8.3 2.8 6.6 2.8 5.9 2.8 6.9 2.8 8.9 2.8 6 2.8 3.5 2.8 5.4 2.8 5.7 2.8 3.5 2.8 4.4 2.7 3.6 2.8 5 2.8 2.3 2.8 3.2 2.8 1.9 2.8 5.2 2.8 2.3 2.8 0.4 2.8 5.6 2.8-0.2 2.8 3.2 2.8 1.3 2.7 1.4 2.8 1.2 2.8 2.1 2.8 3.4 2.8-1.4 2.8 1.3 2.8 1 2.8 1.8 2.8-2.1 2.8 4.2 2.8 2.5 2.8-3.9 2.8 0.2 2.7 3.4 2.8 1.3 2.8-1.6 2.8 1 2.8 2.3 2.8 0.5 2.8-1.6 2.8-0.9 2.8-0.7 2.8-0.7 2.8 3.2 2.8-1 2.7-2.2 2.8 2.2 2.8 0.6 2.8 5.4 2.8-8.6 2.8 7 2.8-1.3 2.8-5.8 2.8 6.4 2.8-1.7 2.8-1.4 2.8-0.2 2.8 3 2.7-4.1 2.8 4.1 2.8-1.9 2.8-0.5 2.8 3.4 2.8-3.2 2.8-4.2 2.8 2.3 2.8 3.6 2.8-2 2.8 2.2 2.8-3.3 2.7 0.1 2.8 6.6 2.8 1.3 2.8-5.9 2.8 2.2 2.8-0.6 2.8-0.6 2.8 1.6 2.8-2.8 2.8-2.4 2.8 6.5 2.8-2.8 2.8 1.8 2.7 1.4 2.8-3.3 2.8 4.3 2.8-6.6 2.8 2.7 2.8 0.1 2.8 2.8 2.8 0.5 2.8-4.6 2.8 1.7 2.8-0.6 2.8-0.6 2.7 1.9 2.8 0.5 2.8 0.2 2.8 2.5 2.8-4.4 2.8 0.8 2.8 2.4 2.8-0.1 2.8-1.1 2.8 0 2.8 2 2.8-1.5 2.8-0.4 2.7 1 2.8 1.4 2.8-1.4 2.8-0.9 2.8 1.7 2.8 0.6 2.8-2.8 2.8 1.7 2.8-0.8 2.8 1.1 2.8-0.9 2.8 0.3 2.7-3.7 2.8 2.5 2.8 0.4 2.8 1.8 2.8 0.4 2.8 0 2.8-1.4 2.8 0.7 2.8 0.7 2.8-1.1 2.8 0.5 2.8 0.2 2.8-3 2.7 2 2.8-0.4 2.8 1.8 2.8-0.8 2.8 0.6 2.8 0.2 2.8 0 2.8-0.4 2.8-2.3 2.8 2 2.8 0.7 2.8 0 2.7-0.7 2.8 0.7 2.8-1.1 2.8 0.9 2.8 0.2 2.8 0 2.8-0.8"/>
<path stroke="#ffff00" stroke-width="2.9" d="M105.8 2161.9l2.8-2.4 2.8-2 2.8-1.7 2.8-1.7 2.8-1.3 2.8 0.4 2.7 1.2 2.8 2.9 2.8 4.5 2.8 7.1 2.8 10.1 2.8 10.4 2.8 9 2.8 8.7 2.8 8.8 2.8 8.6 2.8 8.5 2.8 8.8 2.7 9.4 2.8 10.1 2.8 11.7 2.8 12.3 2.8 11 2.8 10.1 2.8 9.1 2.8 7.8 2.8 6.5 2.8 5.9 2.8 5.2 2.8 4.5 2.8 3.8 2.7 3.5 2.8 3.4 2.8 3.3 2.8 3.1 2.8 2.9 2.8 2.6 2.8 2.7 2.8 2.8 2.8 2.7 2.8 3.1 2.8 3.2 2.8 3.2 2.7 2.8 2.8 2.3 2.8 2 2.8 2 2.8 1.7 2.8 1.5 2.8 1.2 2.8 0.8 2.8 0.4 2.8-0.2 2.8-1.2 2.8-2 2.8-2.6 2.7-2.9 2.8-3.3 2.8-3.6 2.8-3.8 2.8-3.9 2.8-4.4 2.8-4.6 2.8-4.6 2.8-4.6 2.8-4.7 2.8-4.5 2.8-4.2 2.7-3.9 2.8-3.8 2.8-3.5 2.8-3.5 2.8-3.1 2.8-2.5 2.8-2 2.8-1.7 2.8-1.4 2.8-1.3 2.8-1.2 2.8-0.7 2.8 0 2.7 0.5 2.8 0.7 2.8 0.7 2.8 1.1 2.8 1.3 2.8 1.8 2.8 2.2 2.8 2.2 2.8 2.3 2.8 3.2 2.8 4.2 2.8 4.7 2.7 5 2.8 5.8 2.8 7 2.8 7.3 2.8 7 2.8 6.8 2.8 6.8 2.8 6.5 2.8 5.5 2.8 4.6 2.8 3.9 2.8 3.1 2.8 2.3 2.7 1.6 2.8 1.1 2.8 0.8 2.8 0.3 2.8-0.6 2.8-1.3 2.8-2.1 2.8-1.5 2.8-2.6 2.8-2.7 2.8-2.6 2.8-3.8 2.7-2.9 2.8-3.5 2.8-4.5 2.8-1.8 2.8-5 2.8-3.5 2.8-5.2 2.8-4.5 2.8-5.1 2.8-4.5 2.8-5.5 2.8-5.2 2.8-2.7 2.7-5.9 2.8-1.7 2.8-7.4 2.8-6.9 2.8-3.2 2.8-7.5 2.8-6.1 2.8-11.4 2.8-8.8 2.8-8.9 2.8-5.4 2.8-0.2 2.7-3.4 2.8-14.1 2.8-6.4 2.8-7 2.8-5.2 2.8-7.2 2.8-4.2 2.8-11.4 2.8-5.8 2.8-5.2 2.8-7 2.8-5 2.8-4.3 2.7-3.5 2.8-10.3 2.8-2.3 2.8-2.6 2.8-8.2 2.8-1.1 2.8-2.5 2.8-3.1 2.8-6.6 2.8-0.2 2.8-2.7 2.8-2.9 2.7-3.6 2.8 6.5 2.8-5.7 2.8-6.5 2.8-7.4 2.8 7.8 2.8 2.8 2.8-10.4 2.8 6.9 2.8 0.2 2.8 6.8 2.8-1.4 2.8 3.4 2.7 5.6 2.8 3.2 2.8 3.4 2.8 9.2 2.8-0.6 2.8 8.1 2.8 5.2 2.8 8.5 2.8 4.4 2.8 9.6 2.8 10 2.8 2.5 2.7 8.7 2.8 10.3 2.8 5.2 2.8 7.7 2.8 11.7 2.8 6.8 2.8 9.5 2.8 8.5 2.8 7.1 2.8 7.1 2.8 8.5 2.8 10.9 2.8 7 2.7 7.2 2.8 5.9 2.8 10 2.8 6.2 2.8 7.6 2.8 9.7 2.8 7.4 2.8 5.1 2.8 8.6 2.8 7.1 2.8 5.8 2.8 6.3 2.7 6 2.8 7.3 2.8 4.2 2.8 6.6 2.8 5.8 2.8 6.2 2.8 6.6 2.8 5.3 2.8 1.5 2.8 7.3 2.8 4.6 2.8 2.1 2.8 4.3 2.7 3.6 2.8 3.4 2.8 1.6 2.8 3.5 2.8 4.1 2.8 1.8 2.8 1.5 2.8 2.5 2.8 0.1 2.8 3.3 2.8 1.5 2.8 0.1 2.7 3.3 2.8 0.3 2.8 3.2 2.8 1.7 2.8-1.8 2.8 2.5 2.8 3.1 2.8-1 2.8 2.6 2.8-1.1 2.8 0.6 2.8 1.9 2.8 2 2.7-2.4 2.8 2.3 2.8-1.9 2.8 0.5 2.8 0 2.8-1.8 2.8 0.8 2.8-2.1 2.8 3.9 2.8 0.1 2.8-3.1 2.8 1.1 2.7 3.8 2.8-0.3 2.8 0.3 2.8-2.4 2.8 2.2 2.8 0.2 2.8-2.8 2.8-0.4 2.8 6 2.8-3.5 2.8-2.9 2.8 1.9 2.8 2.4 2.7-2.6 2.8 4.2 2.8-2.3 2.8-2.6 2.8-2.6 2.8 1.5 2.8-1.8 2.8 7.1 2.8 0.4 2.8-3.7 2.8 4.2 2.8-0.2 2.7-2.4 2.8 0.5 2.8-1.7 2.8 5.6 2.8-2.8 2.8-3.5 2.8 3.9 2.8-1.3 2.8 2 2.8-2.8 2.8 0.7 2.8-1.4 2.8 2.6 2.7 0 2.8 2 2.8-1.9 2.8-3.8 2.8 0.7 2.8-0.4 2.8 0.1 2.8 3.6 2.8-0.3 2.8 2.3 2.8-1.3 2.8-2.2 2.7 3.6 2.8-2.1 2.8 2.9 2.8-4.6 2.8 2.9 2.8 1.4 2.8-2.7 2.8-0.1 2.8 0.3 2.8-1.1 2.8 0.8 2.8-0.9 2.8 0.3 2.7 3.5 2.8-2.8 2.8 0.4 2.8-0.5 2.8 0.2 2.8 0.7 2.8 2.3 2.8-1.4 2.8 0.7 2.8 0.7 2.8-2.2 2.8 0.9 2.7-0.4 2.8-0.6 2.8 0.3 2.8 0.5 2.8 0.8 2.8 0.4 2.8-1.9 2.8 2.2 2.8 0 2.8-3 2.8 2.8 2.8 0.2 2.8 0 2.7-2.4 2.8 0.1 2.8 2.3 2.8-0.4 2.8 0 2.8 0.4 2.8-1.1 2.8-0.2 2.8 1 2.8 0.3 2.8-0.7 2.8 0 2.7 0.7 2.8-1.1 2.8 0.2 2.8 0.4 2.8 0.5 2.8 0 2.8-1.7"/>
<path stroke="#808000" stroke-width="2.9" d="M105.8 2160.2l2.8-3 2.8-2.6 2.8-2.3 2.8-2.4 2.8-1.8 2.8 0 2.7 0.8 2.8 2.7 2.8 4.6 2.8 7.4 2.8 10.8 2.8 11.1 2.8 9.6 2.8 9.2 2.8 9.3 2.8 9.2 2.8 9.2 2.8 9.6 2.7 10.1 2.8 10.9 2.8 12.7 2.8 13.3 2.8 11.7 2.8 10.8 2.8 9.8 2.8 8.5 2.8 7.1 2.8 6.3 2.8 5.6 2.8 4.9 2.8 4.1 2.7 3.6 2.8 3.6 2.8 3.5 2.8 3.2 2.8 2.9 2.8 2.6 2.8 2.7 2.8 2.7 2.8 2.6 2.8 2.8 2.8 3 2.8 2.9 2.7 2.4 2.8 2 2.8 1.7 2.8 1.6 2.8 1.4 2.8 1.1 2.8 0.8 2.8 0.5 2.8 0 2.8-0.6 2.8-1.6 2.8-2.4 2.8-2.9 2.7-3.2 2.8-3.6 2.8-3.9 2.8-4 2.8-4.2 2.8-4.6 2.8-4.8 2.8-4.9 2.8-4.7 2.8-4.7 2.8-4.7 2.8-4.3 2.7-4 2.8-3.8 2.8-3.6 2.8-3.4 2.8-3.2 2.8-2.4 2.8-1.9 2.8-1.6 2.8-1.3 2.8-1.2 2.8-1 2.8-0.4 2.8 0.2 2.7 0.7 2.8 1.1 2.8 1 2.8 1.4 2.8 1.8 2.8 2.2 2.8 2.6 2.8 2.7 2.8 2.6 2.8 3.7 2.8 4.6 2.8 5.1 2.7 5.3 2.8 6.2 2.8 7.3 2.8 7.6 2.8 7.3 2.8 7 2.8 7.2 2.8 6.7 2.8 5.8 2.8 4.8 2.8 4.2 2.8 3.4 2.8 2.7 2.7 2 2.8 1.6 2.8 1.2 2.8 0.5 2.8-0.2 2.8-0.4 2.8-1.2 2.8-1.4 2.8-2.1 2.8-2.1 2.8-2.3 2.8-2.3 2.7-2.8 2.8-3.1 2.8-3.8 2.8-2 2.8-2.5 2.8-3.5 2.8-5 2.8-5 2.8-2.2 2.8-4.9 2.8-2.6 2.8-4.7 2.8-1.4 2.7-6.2 2.8-1.9 2.8-4.3 2.8-4.2 2.8-6.7 2.8-3.8 2.8-7.8 2.8-6.4 2.8-10.2 2.8-9.8 2.8-0.6 2.8-1.4 2.7-7.4 2.8-6 2.8-5.9 2.8-6.4 2.8-3.9 2.8-9.1 2.8-3.8 2.8-8.1 2.8-3.7 2.8-4.9 2.8-3.9 2.8-7.4 2.8-0.1 2.7-6.3 2.8-6.1 2.8-4.7 2.8-1.7 2.8-8.2 2.8-3.7 2.8 3.1 2.8-4.3 2.8-5 2.8-0.9 2.8-2.2 2.8-3.3 2.7-1.5 2.8 1.5 2.8-5.5 2.8 0 2.8-4.2 2.8 2.6 2.8 5.8 2.8-9.6 2.8 5.2 2.8-0.2 2.8 7.2 2.8-4.1 2.8 4.9 2.7 5.7 2.8-1.3 2.8 7.8 2.8 2.6 2.8 2.2 2.8 9.4 2.8 1.4 2.8 7.1 2.8 1.7 2.8 9.5 2.8 8.8 2.8 5.1 2.7 3.7 2.8 8.3 2.8 5.5 2.8 8.5 2.8 10.5 2.8 5.1 2.8 10 2.8 4.9 2.8 3.2 2.8 9.8 2.8 5.5 2.8 7.7 2.8 8.7 2.7 6.7 2.8 2.1 2.8 9.2 2.8 6.3 2.8 4.7 2.8 10.3 2.8 4 2.8 6.1 2.8 5.5 2.8 9.1 2.8 4.6 2.8 4.5 2.7 4.8 2.8 4.4 2.8 5.4 2.8 4.7 2.8 5 2.8 5.6 2.8 6.2 2.8 4.4 2.8 2.7 2.8 4.5 2.8 4.9 2.8 2.2 2.8 1.7 2.7 2.1 2.8 4.1 2.8 2.2 2.8 2.4 2.8 2.1 2.8 1.7 2.8 2.9 2.8-1.6 2.8 6.2 2.8-1.5 2.8 3.3 2.8 1.4 2.7 2 2.8-0.4 2.8 2.3 2.8 0.6 2.8-0.4 2.8 2.9 2.8 1.4 2.8 1.1 2.8-0.5 2.8 3.2 2.8-5.8 2.8 2.3 2.8 0.2 2.7 2.8 2.8-4.7 2.8 2.3 2.8 1.9 2.8 0.8 2.8 2.1 2.8-3 2.8 0.8 2.8-3 2.8 5 2.8-1.8 2.8-0.1 2.7 0 2.8-3 2.8 6 2.8-3.3 2.8 0.1 2.8 2.2 2.8-1.1 2.8-1.9 2.8 1.8 2.8-0.6 2.8 0.1 2.8-0.3 2.8 1.9 2.7 0.5 2.8-0.7 2.8-0.8 2.8 0.5 2.8-2.9 2.8 1.7 2.8 1.3 2.8 3.1 2.8-4.3 2.8 2.8 2.8 2.1 2.8-2 2.7-1.9 2.8 0.8 2.8 4.6 2.8-6.1 2.8 3.1 2.8-0.2 2.8-2.5 2.8 4 2.8-3.2 2.8 2.5 2.8-1.1 2.8 1.6 2.8 1.6 2.7 0.3 2.8-7.1 2.8 3.9 2.8 0.2 2.8 1.2 2.8-2.3 2.8 3.9 2.8-2 2.8 0.1 2.8-0.7 2.8 2.8 2.8-3.1 2.7 0.3 2.8 2.5 2.8-1.9 2.8-2.4 2.8 2 2.8 2.1 2.8-1.9 2.8-0.2 2.8 1.8 2.8-0.9 2.8 0.3 2.8-0.3 2.8 0.2 2.7 0.9 2.8-1.2 2.8-0.2 2.8 2 2.8-3.8 2.8-0.8 2.8 4.6 2.8-2.5 2.8 0.7 2.8 1.8 2.8-0.3 2.8-0.4 2.7 0.3 2.8-4.1 2.8 1.7 2.8-1.5 2.8 3.7 2.8-1.1 2.8 1.7 2.8 0 2.8 0 2.8-1.5 2.8-1.3 2.8 2.2 2.8-2.2 2.7 2.6 2.8 0.2 2.8 0 2.8 0 2.8-0.2 2.8-1 2.8 1.2 2.8-1.3 2.8-0.5 2.8 0.9 2.8-1.1 2.8 2 2.7 0 2.8-0.7 2.8-0.7 2.8 1.1 2.8-1.4 2.8 0.4 2.8 0.9"/>
<path stroke="#000080" stroke-width="2.9" d="M105.8 2158.8l2.8-3.5 2.8-3.2 2.8-2.8 2.8-2.8 2.8-2.3 2.8-0.4 2.7 0.6 2.8 2.6 2.8 4.6 2.8 7.7 2.8 11.3 2.8 11.7 2.8 10.1 2.8 9.7 2.8 9.7 2.8 9.7 2.8 9.7 2.8 10.1 2.7 10.8 2.8 11.6 2.8 13.4 2.8 14.1 2.8 12.4 2.8 11.4 2.8 10.4 2.8 9 2.8 7.5 2.8 6.8 2.8 5.9 2.8 5.2 2.8 4.3 2.7 3.9 2.8 3.7 2.8 3.6 2.8 3.3 2.8 2.8 2.8 2.7 2.8 2.7 2.8 2.6 2.8 2.5 2.8 2.6 2.8 2.8 2.8 2.7 2.7 2.1 2.8 1.6 2.8 1.4 2.8 1.4 2.8 1.1 2.8 0.8 2.8 0.5 2.8 0.2 2.8-0.3 2.8-0.9 2.8-1.9 2.8-2.7 2.8-3.2 2.7-3.5 2.8-3.8 2.8-4.1 2.8-4.3 2.8-4.4 2.8-4.8 2.8-4.9 2.8-5 2.8-4.8 2.8-4.9 2.8-4.7 2.8-4.4 2.7-4.1 2.8-3.8 2.8-3.6 2.8-3.5 2.8-3.1 2.8-2.4 2.8-1.8 2.8-1.4 2.8-1.2 2.8-1.1 2.8-0.9 2.8-0.3 2.8 0.4 2.7 1 2.8 1.3 2.8 1.3 2.8 1.7 2.8 2.1 2.8 2.6 2.8 2.9 2.8 3 2.8 3.1 2.8 3.9 2.8 4.9 2.8 5.5 2.7 5.6 2.8 6.5 2.8 7.5 2.8 7.9 2.8 7.5 2.8 7.2 2.8 7.4 2.8 7 2.8 6 2.8 5 2.8 4.4 2.8 3.7 2.8 2.8 2.7 2.3 2.8 2 2.8 1.4 2.8 1.3 2.8 0 2.8 0 2.8-0.9 2.8-0.9 2.8-1.7 2.8-1.5 2.8-1.4 2.8-2.6 2.7-1.6 2.8-2.5 2.8-2.5 2.8-2.8 2.8-2 2.8-2.9 2.8-4.3 2.8-4 2.8-2.5 2.8-2.4 2.8-5.3 2.8-3.9 2.8 0.5 2.7-4.4 2.8-1.9 2.8-4.8 2.8-4.4 2.8-2.2 2.8-6.2 2.8-5.2 2.8-8.3 2.8-7.3 2.8-8.3 2.8-1.6 2.8 1.1 2.7-4.3 2.8-8.7 2.8-4.2 2.8-3 2.8-7.7 2.8-4.5 2.8-3 2.8-8.8 2.8-2.6 2.8-5 2.8-2 2.8-6 2.8-3.4 2.7-1.2 2.8-6.9 2.8-3.6 2.8-0.6 2.8-5.4 2.8-5.3 2.8 0.2 2.8-0.7 2.8-4.6 2.8-1 2.8-4.1 2.8-1.1 2.7-1.3 2.8 0.9 2.8-1.4 2.8-2.2 2.8-5.2 2.8 5.5 2.8 2.9 2.8-6 2.8-0.2 2.8 4.7 2.8-0.5 2.8 1 2.8 3.6 2.7 5.6 2.8 1.2 2.8-0.7 2.8 7 2.8 0 2.8 7.7 2.8 3.7 2.8 5.3 2.8 3.4 2.8 5.9 2.8 9.4 2.8 4.2 2.7 3.2 2.8 5.4 2.8 4.2 2.8 5.8 2.8 9.3 2.8 6.2 2.8 6 2.8 7 2.8 6.6 2.8 4.2 2.8 5.6 2.8 6.8 2.8 5.9 2.7 4.9 2.8 4.6 2.8 7.9 2.8 3.7 2.8 5.1 2.8 7.9 2.8 4.6 2.8 2.7 2.8 6.7 2.8 6.8 2.8 4.1 2.8 5.4 2.7 3.3 2.8 5.6 2.8 2.6 2.8 4.1 2.8 2.2 2.8 5.4 2.8 7.2 2.8 3.1 2.8 3.1 2.8 1.4 2.8 3.8 2.8 1.5 2.8 4.9 2.7 2.2 2.8 1.6 2.8 0.9 2.8 3.7 2.8 2.7 2.8 1.6 2.8 2.7 2.8-1.8 2.8 5.2 2.8-0.7 2.8-0.5 2.8 4.4 2.7-1.3 2.8-0.3 2.8 2.8 2.8 3 2.8 1.3 2.8 0.7 2.8-1.6 2.8 1.5 2.8 0.4 2.8-1.8 2.8 3.3 2.8-1.1 2.8 1 2.7 0.5 2.8-4.1 2.8 1.6 2.8 3.8 2.8 0.8 2.8-0.4 2.8 0.7 2.8-0.2 2.8 1.3 2.8-1.2 2.8-0.7 2.8 2.7 2.7-0.3 2.8-3.9 2.8 0.6 2.8-0.3 2.8 1.9 2.8-1.7 2.8 0.2 2.8-2.6 2.8 3 2.8 1.5 2.8 1.3 2.8-0.3 2.8-2.7 2.7 1.2 2.8-1.2 2.8 0.8 2.8-1.3 2.8 1.7 2.8 0.8 2.8-2.3 2.8-1.8 2.8 0.9 2.8 2.8 2.8 0.1 2.8 1.1 2.7 1.7 2.8-7.1 2.8 6.9 2.8-5.9 2.8 3.3 2.8 0 2.8 0.9 2.8-0.7 2.8 2 2.8-2.1 2.8 4.2 2.8-2.7 2.8-2.6 2.7 1.8 2.8-1.4 2.8 1.7 2.8 0.9 2.8-3.4 2.8 1.5 2.8-0.9 2.8 0 2.8 2.7 2.8 0.9 2.8-1.7 2.8-1.9 2.7-0.8 2.8 1.7 2.8 2.6 2.8 0.7 2.8-3.8 2.8 2.7 2.8-1 2.8 1.3 2.8 1 2.8-2.1 2.8-2.2 2.8 2.5 2.8 1.3 2.7-0.3 2.8-1.1 2.8 2.6 2.8-0.6 2.8-2.9 2.8 0.6 2.8 1.9 2.8-0.6 2.8-3.3 2.8 4.1 2.8-1.9 2.8 1.3 2.7 0.5 2.8 0.5 2.8-0.4 2.8-1.2 2.8 2 2.8-0.3 2.8 0.3 2.8 0 2.8 0 2.8-2.6 2.8 0.5 2.8 0.4 2.8 1.1 2.7-0.1 2.8-2.4 2.8 3.1 2.8-0.5 2.8 0.5 2.8-1.4 2.8 0.4 2.8 1 2.8-3 2.8 1.3 2.8 1 2.8 0.7 2.7-1.1 2.8 0.6 2.8 0.4 2.8-0.1 2.8 0.2 2.8 0 2.8-1.9"/>
<path stroke="#800080" stroke-width="2.9" d="M105.8 2157.5l2.8-4 2.8-3.6 2.8-3.2 2.8-3.3 2.8-2.7 2.8-0.7 2.7 0.3 2.8 2.5 2.8 4.7 2.8 7.9 2.8 11.8 2.8 12.3 2.8 10.4 2.8 10.1 2.8 10.1 2.8 10.1 2.8 10.3 2.8 10.6 2.7 11.4 2.8 12.2 2.8 14.1 2.8 14.8 2.8 13 2.8 12 2.8 10.9 2.8 9.5 2.8 7.9 2.8 7.1 2.8 6.2 2.8 5.5 2.8 4.6 2.7 4 2.8 3.9 2.8 3.6 2.8 3.3 2.8 3 2.8 2.7 2.8 2.6 2.8 2.5 2.8 2.4 2.8 2.5 2.8 2.6 2.8 2.4 2.7 1.9 2.8 1.4 2.8 1.2 2.8 1 2.8 0.9 2.8 0.6 2.8 0.2 2.8-0.1 2.8-0.5 2.8-1.3 2.8-2.2 2.8-2.9 2.8-3.4 2.7-3.7 2.8-4.1 2.8-4.3 2.8-4.4 2.8-4.6 2.8-4.9 2.8-5.1 2.8-5.1 2.8-4.9 2.8-4.9 2.8-4.8 2.8-4.5 2.7-4.1 2.8-3.8 2.8-3.6 2.8-3.5 2.8-3.1 2.8-2.4 2.8-1.7 2.8-1.3 2.8-1.1 2.8-1 2.8-0.8 2.8-0.1 2.8 0.6 2.7 1.2 2.8 1.5 2.8 1.5 2.8 2 2.8 2.4 2.8 2.9 2.8 3.2 2.8 3.3 2.8 3.4 2.8 4.3 2.8 5.1 2.8 5.7 2.7 5.9 2.8 6.7 2.8 7.7 2.8 8 2.8 7.7 2.8 7.5 2.8 7.5 2.8 7.2 2.8 6.2 2.8 5.1 2.8 4.6 2.8 3.8 2.8 3.1 2.7 2.6 2.8 2.2 2.8 1.9 2.8 1.4 2.8 0.5 2.8 0 2.8-0.3 2.8-0.4 2.8-0.4 2.8-2.3 2.8-0.6 2.8-1.4 2.7-2 2.8-1.7 2.8-2.2 2.8-1.4 2.8-2.7 2.8-2.3 2.8-3.3 2.8-4.4 2.8-0.1 2.8-3.7 2.8-2.1 2.8-3.4 2.8-1 2.7-3.3 2.8-3.5 2.8-1.8 2.8-2.9 2.8-5.9 2.8-0.7 2.8-7.5 2.8-8.1 2.8-4.3 2.8-6.6 2.8-0.9 2.8 1.1 2.7-5.1 2.8-5.3 2.8-6.4 2.8-2.4 2.8-5.4 2.8-4 2.8-3.9 2.8-4.7 2.8-3.3 2.8-3.9 2.8-0.6 2.8-6.1 2.8-4.1 2.7-1.6 2.8-1.5 2.8-4 2.8-3 2.8-4.8 2.8-6 2.8 4.3 2.8-5.8 2.8-0.1 2.8-1.7 2.8-1.3 2.8-2.7 2.7-1.5 2.8-1.2 2.8 1.8 2.8-4.3 2.8-3.6 2.8 5 2.8 2.6 2.8-4.6 2.8 1.7 2.8-0.4 2.8 4.5 2.8-2.4 2.8 2.7 2.7 6.8 2.8-0.3 2.8 2.1 2.8 1.6 2.8 7.2 2.8 1 2.8 3.1 2.8 5.3 2.8 2.5 2.8 4.4 2.8 7.3 2.8 2.5 2.7 5.4 2.8 5.1 2.8 4.8 2.8 3.2 2.8 8.3 2.8 4.5 2.8 5 2.8 7.8 2.8 0.7 2.8 6.5 2.8 5.4 2.8 5.1 2.8 5 2.7 5.1 2.8 1.8 2.8 7.3 2.8 5.5 2.8 2 2.8 7.9 2.8 2.4 2.8 5.1 2.8 5.3 2.8 5.3 2.8 3 2.8 3.4 2.7 5 2.8 3.5 2.8 1.8 2.8 5.3 2.8 2.5 2.8 5 2.8 2 2.8 6.4 2.8 0.3 2.8 3 2.8 2.7 2.8 2.1 2.8 2.5 2.7 1.9 2.8 3.5 2.8 1 2.8-0.7 2.8 3.7 2.8-0.1 2.8 2.5 2.8 2.3 2.8 0.8 2.8 0 2.8 0.2 2.8 3 2.7 0.7 2.8 0.3 2.8 2.7 2.8-3.4 2.8 5.7 2.8-3.3 2.8 2.1 2.8 1 2.8-3.1 2.8 0.9 2.8 3.2 2.8-2.3 2.8 2.4 2.7 2.3 2.8 0.4 2.8-6.8 2.8 4.9 2.8-1.4 2.8-1 2.8 2.2 2.8 2.9 2.8-1.3 2.8 1.3 2.8-2.3 2.8-0.7 2.7-1.6 2.8 2.3 2.8 1 2.8-1.5 2.8 2.5 2.8-1.3 2.8 0.6 2.8 0 2.8 1.1 2.8 3.6 2.8-7.7 2.8 3.1 2.8 0.3 2.7-1.3 2.8-1.9 2.8 3.2 2.8-1.2 2.8 1.4 2.8 0.2 2.8 0.4 2.8-0.4 2.8 1.9 2.8-0.2 2.8 0.2 2.8 2 2.7-1.8 2.8-1.1 2.8 2.7 2.8-1.5 2.8-2.7 2.8-0.2 2.8-0.7 2.8 2.9 2.8-0.5 2.8 1 2.8-0.2 2.8-0.4 2.8-3.6 2.7 3.9 2.8-1.6 2.8-1.2 2.8 1 2.8 2.5 2.8 1.5 2.8-2.3 2.8 0.6 2.8 0 2.8-1.7 2.8 0.7 2.8 2.4 2.7-1.1 2.8-2 2.8 0 2.8-1.5 2.8-2 2.8 5.9 2.8-2.2 2.8 3.2 2.8-1.6 2.8-2.7 2.8 2.1 2.8 2.2 2.8-0.4 2.7-1.1 2.8-2.5 2.8 3.7 2.8 0.3 2.8-1.6 2.8-1.6 2.8 0.8 2.8 2.2 2.8-1.2 2.8-0.9 2.8 2.2 2.8 0.1 2.7-1.8 2.8 0.2 2.8 1 2.8 0.6 2.8-0.6 2.8 0.6 2.8-1.1 2.8 1.1 2.8 0 2.8 0 2.8 0 2.8-2.2 2.8 0.2 2.7 1.9 2.8 0 2.8 0.1 2.8 0 2.8-2 2.8 2 2.8-0.7 2.8-0.8 2.8 1.1 2.8 0 2.8-0.2 2.8-1 2.7 0.6 2.8-0.4 2.8 1.4 2.8 0 2.8 0 2.8-2 2.8 2"/>
<path stroke="#800000" stroke-width="2.9" d="M105.8 2156.1l2.8-4.5 2.8-4 2.8-3.7 2.8-3.7 2.8-3 2.8-1 2.7 0.1 2.8 2.4 2.8 4.7 2.8 8.2 2.8 12.3 2.8 12.7 2.8 10.9 2.8 10.5 2.8 10.5 2.8 10.6 2.8 10.7 2.8 11.2 2.7 12 2.8 12.9 2.8 14.7 2.8 15.5 2.8 13.7 2.8 12.5 2.8 11.5 2.8 10 2.8 8.3 2.8 7.4 2.8 6.6 2.8 5.7 2.8 4.9 2.7 4.2 2.8 4 2.8 3.8 2.8 3.4 2.8 2.9 2.8 2.8 2.8 2.6 2.8 2.5 2.8 2.3 2.8 2.3 2.8 2.5 2.8 2.1 2.7 1.7 2.8 1.2 2.8 0.9 2.8 0.9 2.8 0.6 2.8 0.3 2.8 0 2.8-0.3 2.8-0.7 2.8-1.5 2.8-2.5 2.8-3.1 2.8-3.6 2.7-3.9 2.8-4.1 2.8-4.4 2.8-4.6 2.8-4.7 2.8-5 2.8-5.1 2.8-5.1 2.8-4.9 2.8-4.9 2.8-4.8 2.8-4.5 2.7-4.1 2.8-3.8 2.8-3.5 2.8-3.4 2.8-3 2.8-2.3 2.8-1.6 2.8-1.2 2.8-0.9 2.8-0.8 2.8-0.6 2.8 0 2.8 0.8 2.7 1.4 2.8 1.6 2.8 1.8 2.8 2.3 2.8 2.6 2.8 3.2 2.8 3.4 2.8 3.6 2.8 3.6 2.8 4.5 2.8 5.3 2.8 5.8 2.7 6 2.8 6.7 2.8 7.7 2.8 8 2.8 7.7 2.8 7.4 2.8 7.6 2.8 7.1 2.8 6.2 2.8 5.2 2.8 4.6 2.8 3.9 2.8 3.2 2.7 2.7 2.8 2.4 2.8 2 2.8 1.6 2.8 1.2 2.8 0.2 2.8-0.2 2.8-0.3 2.8-0.3 2.8-0.5 2.8-1.1 2.8-1 2.7-1.4 2.8-1.3 2.8-3.2 2.8-0.7 2.8-1.2 2.8-2.6 2.8-2.6 2.8-1.4 2.8-2.1 2.8-2.6 2.8-1.7 2.8-4.4 2.8-0.1 2.7-3.4 2.8-1 2.8-4.2 2.8-0.5 2.8-3.7 2.8-2.2 2.8-5.4 2.8-6.3 2.8-6.8 2.8-4.3 2.8-0.7 2.8 0.2 2.7-0.3 2.8-6.8 2.8-4.8 2.8-2.2 2.8-3.6 2.8-4.9 2.8-1.6 2.8-6.2 2.8-1.1 2.8-3.9 2.8-1.9 2.8-5 2.8-1.9 2.7-1.3 2.8-3.8 2.8-4.4 2.8 0.5 2.8-3.8 2.8-2.7 2.8 1.1 2.8-3.9 2.8-2.6 2.8-0.6 2.8-2.9 2.8 0 2.7-1.3 2.8 0.7 2.8-0.8 2.8-3.8 2.8 0.2 2.8 2 2.8 2.4 2.8-5.3 2.8-1 2.8 3.5 2.8 1.4 2.8-0.1 2.8 3.2 2.7 2.9 2.8 1.3 2.8 1.3 2.8 4 2.8-0.6 2.8 5.8 2.8 1 2.8 7 2.8 0.1 2.8 6.5 2.8 5.8 2.8 0.5 2.7 5.1 2.8 4.1 2.8 2.3 2.8 3.9 2.8 7.1 2.8 3.8 2.8 4.9 2.8 4.8 2.8 3 2.8 3.4 2.8 6.6 2.8 3.7 2.8 2.7 2.7 5.4 2.8 1.3 2.8 6.3 2.8 2.5 2.8 4.1 2.8 6.1 2.8 5.6 2.8 0.1 2.8 4.3 2.8 4.2 2.8 3.3 2.8 5.6 2.7 0.8 2.8 5.3 2.8 0.9 2.8 2.7 2.8 3.6 2.8 2 2.8 4.6 2.8 4.5 2.8-0.4 2.8 3.2 2.8 2 2.8 2.6 2.8 2.1 2.7-0.8 2.8 3.7 2.8 2.5 2.8-1.1 2.8 1.3 2.8 4.3 2.8-3.2 2.8 4.5 2.8 0.8 2.8-1.6 2.8 5.3 2.8-0.2 2.7 0 2.8 0.6 2.8 1.7 2.8 0.8 2.8-2.6 2.8 1.5 2.8-1.7 2.8 7.5 2.8-4.3 2.8-0.3 2.8 2.7 2.8-0.1 2.8-2.8 2.7 3 2.8-4.6 2.8 3.3 2.8 1.4 2.8 2.1 2.8 0.3 2.8-1.5 2.8-0.1 2.8 1.9 2.8-1.2 2.8-1.4 2.8 0.8 2.7-2.3 2.8 2.8 2.8 0.2 2.8-7.7 2.8 8.3 2.8 0.6 2.8-0.1 2.8-2.6 2.8 4.7 2.8-3.2 2.8 0.7 2.8 0.3 2.8-2.6 2.7-2.4 2.8 5.8 2.8-0.7 2.8-2 2.8 1 2.8-0.9 2.8-0.5 2.8 3 2.8-4 2.8 0.7 2.8 4.4 2.8-3 2.7 0.6 2.8 2.1 2.8 1.2 2.8-1.4 2.8 2.1 2.8-0.7 2.8-2.2 2.8 0.2 2.8 0.3 2.8-1.5 2.8-0.1 2.8-0.6 2.8-1.7 2.7 6.4 2.8-4 2.8-2.2 2.8 0.3 2.8 1.8 2.8 1.9 2.8-1.5 2.8 2.9 2.8-3.3 2.8 2.9 2.8-4.1 2.8 3.4 2.7 1.3 2.8-2.6 2.8 2.7 2.8-3.8 2.8-0.1 2.8 2.4 2.8 2 2.8-3.6 2.8 1 2.8 2 2.8-3 2.8-0.2 2.8 2.9 2.7-1.7 2.8 1.5 2.8 0.7 2.8-1.1 2.8 0.8 2.8-3.2 2.8 1.4 2.8 2.2 2.8-1.3 2.8 1.6 2.8-5.5 2.8 4.6 2.7-1.3 2.8-1.2 2.8 3 2.8 0.4 2.8-1.9 2.8 0.2 2.8 1.7 2.8 0 2.8 0 2.8-3.3 2.8 3.3 2.8-2 2.8 0.2 2.7 1.8 2.8-1.2 2.8 1.2 2.8 0 2.8-1.1 2.8 0 2.8 1.1 2.8-2.8 2.8 0.7 2.8 0.7 2.8-0.2 2.8 0 2.7 1.6 2.8 0 2.8 0 2.8 0 2.8 0 2.8-1.3 2.8 1.3"/>
<path stroke="#008000" stroke-width="2.9" d="M105.8 2154.8l2.8-4.9 2.8-4.5 2.8-4 2.8-4 2.8-3.4 2.8-1.2 2.7-0.1 2.8 2.4 2.8 4.7 2.8 8.4 2.8 12.7 2.8 13.2 2.8 11.3 2.8 10.8 2.8 10.9 2.8 10.9 2.8 11.2 2.8 11.8 2.7 12.5 2.8 13.5 2.8 15.3 2.8 16.2 2.8 14.2 2.8 13 2.8 12 2.8 10.5 2.8 8.7 2.8 7.8 2.8 6.9 2.8 6 2.8 5.1 2.7 4.3 2.8 4.2 2.8 3.9 2.8 3.5 2.8 3 2.8 2.7 2.8 2.6 2.8 2.5 2.8 2.2 2.8 2.3 2.8 2.3 2.8 1.9 2.7 1.5 2.8 1 2.8 0.7 2.8 0.7 2.8 0.5 2.8 0.1 2.8-0.2 2.8-0.4 2.8-1 2.8-1.6 2.8-2.7 2.8-3.3 2.8-3.7 2.7-3.9 2.8-4.2 2.8-4.4 2.8-4.6 2.8-4.8 2.8-5 2.8-5.1 2.8-5 2.8-4.9 2.8-4.8 2.8-4.7 2.8-4.4 2.7-4 2.8-3.7 2.8-3.4 2.8-3.4 2.8-2.8 2.8-2.1 2.8-1.5 2.8-1.1 2.8-0.7 2.8-0.7 2.8-0.5 2.8 0.3 2.8 0.9 2.7 1.6 2.8 1.8 2.8 2 2.8 2.4 2.8 2.9 2.8 3.3 2.8 3.7 2.8 3.7 2.8 3.8 2.8 4.6 2.8 5.3 2.8 5.8 2.7 6 2.8 6.7 2.8 7.5 2.8 7.9 2.8 7.5 2.8 7.2 2.8 7.4 2.8 7 2.8 6 2.8 5.1 2.8 4.5 2.8 3.9 2.8 3.2 2.7 2.8 2.8 2.4 2.8 2.3 2.8 1.7 2.8 1.1 2.8 0.5 2.8 0.5 2.8 0 2.8-0.8 2.8-0.4 2.8-0.4 2.8-1.1 2.7-0.6 2.8-1.6 2.8-0.9 2.8-2.4 2.8-1.2 2.8-0.8 2.8-2.3 2.8-2.1 2.8-2.5 2.8-1.2 2.8-2.5 2.8-2.2 2.8 0.7 2.7-4.3 2.8 0 2.8-4.3 2.8-0.4 2.8-3 2.8-2.6 2.8-1.6 2.8-8.2 2.8-5.2 2.8-5.3 2.8 0.1 2.8 2.6 2.7-3.7 2.8-3.4 2.8-4 2.8-4.7 2.8-2.9 2.8-0.8 2.8-2.8 2.8-4.1 2.8-3 2.8-3.5 2.8-1.1 2.8-4.2 2.8-0.1 2.7-2.7 2.8-2.8 2.8-2 2.8-1.2 2.8-2.3 2.8-3.3 2.8 1 2.8-3 2.8-2.1 2.8-0.4 2.8-1.6 2.8 0.3 2.7-3.1 2.8 1 2.8-2.2 2.8-1.2 2.8-1.3 2.8 1.9 2.8 1.6 2.8-3 2.8 2.4 2.8-1.2 2.8 1.7 2.8 0.4 2.8 1.3 2.7 3.1 2.8 3.2 2.8 0.1 2.8 4.1 2.8-0.6 2.8 4.9 2.8 1 2.8 4.4 2.8 1.2 2.8 3.9 2.8 5.2 2.8 2.3 2.7 1.7 2.8 5.1 2.8 1.3 2.8 5.6 2.8 5.2 2.8 3.9 2.8 2.7 2.8 4.7 2.8 0.2 2.8 4.8 2.8 5.3 2.8 4 2.8 3 2.7 3.3 2.8 1.3 2.8 3.4 2.8 5 2.8 2.9 2.8 4.4 2.8 2.5 2.8 3.3 2.8 3 2.8 3.7 2.8 2.7 2.8 3.5 2.7 2.7 2.8 3.5 2.8 2.3 2.8 0.7 2.8 2 2.8 4.7 2.8 3.2 2.8 3.3 2.8-1.3 2.8 4.6 2.8 1.2 2.8 0.2 2.8 2.4 2.7 2 2.8 1.7 2.8-0.5 2.8 3.1 2.8 1.2 2.8 2.2 2.8 0.5 2.8-0.3 2.8-0.8 2.8 1.3 2.8 3.9 2.8 1.3 2.7-2 2.8 1.4 2.8 1.2 2.8-1.1 2.8 0.3 2.8 0.5 2.8-0.2 2.8 2 2.8-3.3 2.8 3.3 2.8 0.2 2.8 1.4 2.8-2.7 2.7 3.7 2.8-3 2.8 3.1 2.8 5.1 2.8-5.7 2.8 3.1 2.8-3.5 2.8 4.1 2.8-5.8 2.8 4.5 2.8-2.4 2.8 0.7 2.7-2.3 2.8 5.2 2.8-1.9 2.8 0.3 2.8-0.5 2.8 0 2.8-2.7 2.8 5.8 2.8-3.3 2.8 3.1 2.8-3.8 2.8 1.2 2.8-0.6 2.7-1.4 2.8 0.7 2.8 1.3 2.8 1.1 2.8-3.7 2.8 2.5 2.8-5 2.8 8.4 2.8-2.4 2.8-2.2 2.8 2.7 2.8 2.4 2.7-3.7 2.8-1.5 2.8 2.7 2.8-0.7 2.8 1.5 2.8-2.2 2.8 4 2.8 0 2.8-2.8 2.8 1.8 2.8-3.4 2.8 1.5 2.8 1.8 2.7-1.7 2.8-1.6 2.8-0.1 2.8 3.8 2.8-5.5 2.8 2.6 2.8 0.4 2.8 1.3 2.8-1.1 2.8 3 2.8-4.9 2.8 2.8 2.7-0.2 2.8-0.4 2.8 1.4 2.8-1.7 2.8 3 2.8-1.4 2.8 0.5 2.8-6.2 2.8 5.7 2.8 0.6 2.8 0.8 2.8-3.1 2.8-0.7 2.7 2.8 2.8 1 2.8-1.3 2.8 1.3 2.8-1.4 2.8 0.3 2.8 0.6 2.8-0.3 2.8-2.4 2.8 2.2 2.8 0.5 2.8-1.7 2.7-0.6 2.8 2.2 2.8-1.5 2.8 0.4 2.8-3 2.8 2.5 2.8 0 2.8 0 2.8 2.2 2.8-2.2 2.8 2.2 2.8-0.7 2.8 0.7 2.7-0.3 2.8-2.1 2.8 0.9 2.8 1.5 2.8-1.7 2.8 1.1 2.8-1.3 2.8 1.1 2.8-2.9 2.8 3.7 2.8-1.1 2.8-0.8 2.7 1.3 2.8 0.6 2.8 0 2.8 0 2.8 0 2.8-0.2 2.8-1.4"/>
<path stroke="#008080" stroke-width="2.9" d="M105.8 2153.5l2.8-5.3 2.8-4.8 2.8-4.3 2.8-4.4 2.8-3.6 2.8-1.4 2.7-0.3 2.8 2.4 2.8 4.8 2.8 8.6 2.8 13 2.8 13.6 2.8 11.6 2.8 11.2 2.8 11.2 2.8 11.3 2.8 11.7 2.8 12.2 2.7 13 2.8 14 2.8 15.9 2.8 16.8 2.8 14.7 2.8 13.5 2.8 12.5 2.8 10.9 2.8 9 2.8 8.1 2.8 7.2 2.8 6.3 2.8 5.3 2.7 4.6 2.8 4.3 2.8 4 2.8 3.5 2.8 3 2.8 2.8 2.8 2.6 2.8 2.5 2.8 2.1 2.8 2.2 2.8 2.1 2.8 1.8 2.7 1.3 2.8 0.8 2.8 0.6 2.8 0.6 2.8 0.3 2.8 0 2.8-0.4 2.8-0.6 2.8-1.1 2.8-1.8 2.8-2.8 2.8-3.4 2.8-3.8 2.7-4 2.8-4.2 2.8-4.5 2.8-4.6 2.8-4.7 2.8-5 2.8-5.1 2.8-4.9 2.8-4.8 2.8-4.8 2.8-4.6 2.8-4.3 2.7-3.9 2.8-3.6 2.8-3.3 2.8-3.2 2.8-2.7 2.8-2 2.8-1.3 2.8-0.9 2.8-0.7 2.8-0.5 2.8-0.3 2.8 0.4 2.8 1.1 2.7 1.7 2.8 2 2.8 2.2 2.8 2.6 2.8 3 2.8 3.5 2.8 3.9 2.8 3.8 2.8 3.9 2.8 4.7 2.8 5.3 2.8 5.8 2.7 5.9 2.8 6.6 2.8 7.4 2.8 7.6 2.8 7.3 2.8 7.1 2.8 7.1 2.8 6.8 2.8 5.9 2.8 4.9 2.8 4.4 2.8 3.8 2.8 3.2 2.7 2.8 2.8 2.6 2.8 2.2 2.8 1.9 2.8 1.2 2.8 0.4 2.8 0.4 2.8 0.6 2.8-0.6 2.8 0.1 2.8-0.1 2.8-1 2.7-0.6 2.8-0.6 2.8-1.6 2.8-0.6 2.8-1.1 2.8-1.3 2.8-1.1 2.8-2.6 2.8-1.7 2.8-2.4 2.8-0.2 2.8-1.9 2.8-1.1 2.7-2.7 2.8 0.6 2.8-4 2.8 0.4 2.8-2.8 2.8-2.7 2.8-3.7 2.8-5.3 2.8-5.4 2.8-3.4 2.8-0.2 2.8 3.4 2.7-2.7 2.8-4.9 2.8-3.5 2.8-1.5 2.8-4.2 2.8-2.1 2.8-0.8 2.8-5.9 2.8 1.9 2.8-4.1 2.8-2.9 2.8-2.9 2.8-0.4 2.7-1.4 2.8-3.5 2.8 2.8 2.8-4.5 2.8-3.9 2.8-2.7 2.8 2.6 2.8-2.9 2.8 0 2.8 0 2.8-4.3 2.8 0.7 2.7 0 2.8 1.1 2.8-1.6 2.8-1.3 2.8-4.1 2.8 3.9 2.8 0.7 2.8-4.2 2.8 2.7 2.8-2.7 2.8 2.6 2.8 1.3 2.8 2.7 2.7 0.4 2.8 3.1 2.8 0.8 2.8 1.3 2.8 0.6 2.8 3.3 2.8 2.1 2.8 1.1 2.8 2.7 2.8 4.2 2.8 5.2 2.8 0.5 2.7 5 2.8 0.9 2.8 2.6 2.8 4.1 2.8 6.9 2.8 1 2.8 1 2.8 4.1 2.8 2.5 2.8 2.8 2.8 3.3 2.8 3.9 2.8 4.1 2.7 1.9 2.8 0.5 2.8 3.9 2.8 2.8 2.8 2.8 2.8 5.2 2.8 2.6 2.8 1.5 2.8 2.8 2.8 3.9 2.8 1.3 2.8 4.6 2.7 0.2 2.8 3.7 2.8 1.8 2.8 2.9 2.8 1.6 2.8 2.9 2.8 2 2.8 1.9 2.8 1.7 2.8 0.5 2.8 2.7 2.8 0.5 2.8 0.8 2.7 2 2.8 2.4 2.8 1.6 2.8 0 2.8 0.4 2.8-0.7 2.8 3.1 2.8 1.5 2.8-1.5 2.8 1.4 2.8 2.5 2.8-1.3 2.7 3.9 2.8-3.5 2.8 1.9 2.8-4.6 2.8 6 2.8-0.3 2.8-1.2 2.8 1.1 2.8 2.4 2.8-0.6 2.8 0.7 2.8-1.5 2.8 4.2 2.7-2.2 2.8-2.3 2.8-2.8 2.8 2.9 2.8-1.9 2.8 6.1 2.8-0.1 2.8-3.5 2.8 6.1 2.8-2.2 2.8-1.9 2.8 1.4 2.7 2.2 2.8-3.2 2.8 2.9 2.8-4.9 2.8 3.8 2.8 0.9 2.8-3.2 2.8 3.5 2.8-2.1 2.8 2.2 2.8-1.3 2.8-0.9 2.8-0.7 2.7 4.5 2.8-4.4 2.8 3.8 2.8-4.1 2.8 0.5 2.8 4.2 2.8-2.6 2.8-0.5 2.8-2.5 2.8 2.5 2.8-3 2.8-0.8 2.7 6.9 2.8-1.4 2.8-0.9 2.8-0.7 2.8 0.6 2.8-3.4 2.8 0.1 2.8 3.6 2.8 1.6 2.8 0.4 2.8-0.8 2.8 0 2.8-4.4 2.7 2.2 2.8 0.9 2.8 0.9 2.8-3.4 2.8 4.7 2.8-0.4 2.8-4 2.8 3 2.8 0.6 2.8-0.9 2.8-0.1 2.8 0.1 2.7-0.4 2.8-4 2.8 6.1 2.8-1.8 2.8-4.2 2.8 6 2.8-1.7 2.8-0.8 2.8 2.5 2.8-3.2 2.8 2.8 2.8-1.8 2.8 2.2 2.7-1 2.8-0.3 2.8 1.3 2.8-5.1 2.8 2.7 2.8-1.6 2.8 2.7 2.8 0.8 2.8 0.5 2.8 0 2.8-1.4 2.8-0.6 2.7-0.1 2.8-0.1 2.8 2.2 2.8-1.7 2.8-0.2 2.8 1.3 2.8 0.6 2.8 0 2.8-0.4 2.8-0.2 2.8-1.3 2.8 1.7 2.8 0.2 2.7 0 2.8-0.7 2.8 0.7 2.8-0.8 2.8-0.4 2.8 0.4 2.8-0.3 2.8-0.3 2.8 0.6 2.8-0.8 2.8 1.1 2.8-0.3 2.7 0.8 2.8 0 2.8-0.4 2.8 0.4 2.8 0 2.8-1.6 2.8 0.4"/>
<path stroke="#0000a0" stroke-width="2.9" d="M105.8 2152.4l2.8-5.6 2.8-5.2 2.8-4.6 2.8-4.6 2.8-3.8 2.8-1.6 2.7-0.4 2.8 2.3 2.8 4.8 2.8 8.8 2.8 13.4 2.8 13.9 2.8 11.9 2.8 11.5 2.8 11.5 2.8 11.6 2.8 12 2.8 12.7 2.7 13.5 2.8 14.4 2.8 16.5 2.8 17.2 2.8 15.2 2.8 13.9 2.8 12.9 2.8 11.3 2.8 9.4 2.8 8.4 2.8 7.4 2.8 6.5 2.8 5.6 2.7 4.7 2.8 4.4 2.8 4.1 2.8 3.6 2.8 3.1 2.8 2.8 2.8 2.6 2.8 2.4 2.8 2.1 2.8 2 2.8 2.1 2.8 1.7 2.7 1.1 2.8 0.7 2.8 0.5 2.8 0.4 2.8 0.2 2.8-0.2 2.8-0.5 2.8-0.7 2.8-1.2 2.8-2 2.8-2.9 2.8-3.5 2.8-3.9 2.7-3.9 2.8-4.3 2.8-4.5 2.8-4.6 2.8-4.7 2.8-5 2.8-5 2.8-4.9 2.8-4.7 2.8-4.6 2.8-4.5 2.8-4.3 2.7-3.8 2.8-3.5 2.8-3.2 2.8-3 2.8-2.7 2.8-1.8 2.8-1.2 2.8-0.7 2.8-0.6 2.8-0.3 2.8-0.2 2.8 0.6 2.8 1.2 2.7 1.9 2.8 2.1 2.8 2.3 2.8 2.8 2.8 3.2 2.8 3.6 2.8 4 2.8 3.9 2.8 4 2.8 4.7 2.8 5.4 2.8 5.7 2.7 5.9 2.8 6.4 2.8 7.2 2.8 7.3 2.8 7.1 2.8 6.9 2.8 6.9 2.8 6.6 2.8 5.7 2.8 4.8 2.8 4.2 2.8 3.8 2.8 3.1 2.7 2.8 2.8 2.5 2.8 2.5 2.8 1.8 2.8 1.5 2.8 0.7 2.8 0.4 2.8 0.9 2.8-0.3 2.8-0.2 2.8-0.2 2.8-0.5 2.7-0.2 2.8-0.9 2.8-0.7 2.8-2 2.8 0 2.8-0.4 2.8-2.2 2.8-1.3 2.8-0.4 2.8-2.9 2.8 0.2 2.8-3.3 2.8 0.4 2.7-2.1 2.8 1.5 2.8-4.1 2.8-0.6 2.8-1.5 2.8-0.6 2.8-5.6 2.8-4 2.8-4.7 2.8-4.1 2.8 2.4 2.8 1.9 2.7-3 2.8-3.7 2.8-2.6 2.8-1.6 2.8-3.3 2.8-2.6 2.8-2.9 2.8-1.6 2.8-1.1 2.8 0 2.8-3.4 2.8-2.3 2.8 0.2 2.7-2.7 2.8-3.1 2.8 0.6 2.8-2.4 2.8-1.9 2.8-2.3 2.8-0.6 2.8 1.5 2.8-3.7 2.8 1.1 2.8-2.1 2.8-1.8 2.7-0.1 2.8-0.8 2.8 4 2.8-4.5 2.8-1.5 2.8 2.7 2.8 1.4 2.8-4.6 2.8 3.3 2.8-2.5 2.8 3.1 2.8-0.6 2.8 2.3 2.7 1.8 2.8 1.1 2.8 1.7 2.8 1.4 2.8-0.4 2.8 2.9 2.8 2.7 2.8 2.7 2.8 1 2.8 0.7 2.8 5.5 2.8 0.1 2.7 3.3 2.8 3.1 2.8 1.7 2.8 0.5 2.8 7.8 2.8 0.7 2.8 2.5 2.8 2.4 2.8 1.5 2.8 3.8 2.8 2.2 2.8 4.8 2.8 0.9 2.7 2.8 2.8 0.4 2.8 3 2.8 3.2 2.8 2.1 2.8 5.3 2.8 0.5 2.8 1.5 2.8 3.5 2.8 1.7 2.8 3.2 2.8 2.8 2.7 0.7 2.8 3 2.8 3.2 2.8 0 2.8 2.5 2.8 1.6 2.8 2.6 2.8 1.6 2.8 1.2 2.8 0.6 2.8 3.4 2.8 1 2.8 1.5 2.7-1.8 2.8 2.3 2.8 0.6 2.8 2.1 2.8 0 2.8 2 2.8-0.8 2.8-0.6 2.8 3.5 2.8-1.2 2.8 0.6 2.8 2.1 2.7 1.5 2.8-1.5 2.8 1.3 2.8 0.7 2.8 1.5 2.8-0.4 2.8-2.4 2.8-0.5 2.8 2.7 2.8-3.3 2.8 3.4 2.8 1.8 2.8-2.5 2.7 2.1 2.8 0.6 2.8-4.1 2.8 5.4 2.8-3.5 2.8-1.2 2.8 2.8 2.8 2.7 2.8-1.7 2.8 0.7 2.8 1.2 2.8-3.2 2.7-0.8 2.8 1.5 2.8 2.8 2.8-2.1 2.8-3.5 2.8 7.2 2.8-5.3 2.8-1.6 2.8 3.5 2.8-2.8 2.8 3.5 2.8-3.9 2.8 5.6 2.7-2.5 2.8-5.5 2.8 5.3 2.8-3.1 2.8 6.8 2.8-1.6 2.8-4.8 2.8 0.7 2.8 3.4 2.8-3.7 2.8 0.5 2.8 4.2 2.7-1.5 2.8 0.5 2.8-0.9 2.8 0.7 2.8 2.5 2.8 0 2.8-3.6 2.8 0.6 2.8 1.7 2.8 1.3 2.8-1.1 2.8-2.6 2.8 3.3 2.7-1.1 2.8-0.8 2.8 0 2.8 0.6 2.8-2.1 2.8 1 2.8-1.6 2.8 4.4 2.8-2.6 2.8 0.5 2.8-3 2.8 3.6 2.7-0.5 2.8 0.7 2.8 0.4 2.8-0.6 2.8 0.4 2.8 0.5 2.8 0.6 2.8-0.6 2.8-4.1 2.8 4.7 2.8-4.3 2.8 4.1 2.8 0.2 2.7-2.3 2.8-0.6 2.8 0.8 2.8-1.2 2.8 2.5 2.8-0.4 2.8-1.2 2.8 0.3 2.8 0.9 2.8 0.5 2.8-0.3 2.8-1.9 2.7 2.9 2.8-2.3 2.8 1.6 2.8 0.7 2.8 0 2.8 0 2.8 0 2.8 0 2.8-0.6 2.8 0.5 2.8 0.1 2.8-0.6 2.8-1.1 2.7 0.2 2.8 0.3 2.8-0.7 2.8 1.9 2.8-0.6 2.8 0.4 2.8-0.2 2.8-0.4 2.8 0.8 2.8-0.5 2.8 0.2 2.8 0.3 2.7 0 2.8-0.3 2.8-0.7 2.8 1 2.8 0 2.8-0.4 2.8 0.4"/>
<path stroke="#ff8000" stroke-width="2.9" d="M105.8 2151.3l2.8-6 2.8-5.4 2.8-4.9 2.8-4.8 2.8-4.1 2.8-1.7 2.7-0.6 2.8 2.3 2.8 4.9 2.8 8.9 2.8 13.7 2.8 14.3 2.8 12.2 2.8 11.7 2.8 11.8 2.8 12 2.8 12.3 2.8 13.2 2.7 13.9 2.8 14.9 2.8 16.9 2.8 17.7 2.8 15.6 2.8 14.4 2.8 13.3 2.8 11.7 2.8 9.6 2.8 8.7 2.8 7.7 2.8 6.8 2.8 5.7 2.7 4.9 2.8 4.5 2.8 4.2 2.8 3.6 2.8 3.2 2.8 2.8 2.8 2.6 2.8 2.4 2.8 2.1 2.8 1.9 2.8 1.9 2.8 1.6 2.7 0.9 2.8 0.6 2.8 0.4 2.8 0.3 2.8 0.1 2.8-0.3 2.8-0.6 2.8-0.9 2.8-1.3 2.8-2.1 2.8-3 2.8-3.6 2.8-3.9 2.7-4 2.8-4.2 2.8-4.5 2.8-4.6 2.8-4.8 2.8-4.9 2.8-4.9 2.8-4.8 2.8-4.6 2.8-4.6 2.8-4.4 2.8-4.1 2.7-3.7 2.8-3.4 2.8-3.1 2.8-2.9 2.8-2.5 2.8-1.7 2.8-1 2.8-0.7 2.8-0.3 2.8-0.3 2.8 0 2.8 0.7 2.8 1.4 2.7 2 2.8 2.3 2.8 2.4 2.8 2.9 2.8 3.4 2.8 3.7 2.8 4.1 2.8 4 2.8 4.1 2.8 4.8 2.8 5.3 2.8 5.6 2.7 5.8 2.8 6.3 2.8 6.9 2.8 7.2 2.8 6.8 2.8 6.6 2.8 6.7 2.8 6.3 2.8 5.5 2.8 4.7 2.8 4.1 2.8 3.6 2.8 3.1 2.7 2.8 2.8 2.6 2.8 2.2 2.8 2.1 2.8 1.4 2.8 1 2.8 0.6 2.8 0.5 2.8 0.3 2.8 0 2.8 0.3 2.8-0.7 2.7-0.3 2.8-0.6 2.8-0.5 2.8-0.2 2.8-1.5 2.8 0.5 2.8-2.1 2.8-2.3 2.8 1.3 2.8-1.5 2.8-1.5 2.8-1.4 2.8-0.4 2.7-2.8 2.8 0.6 2.8-4 2.8 4 2.8-2.8 2.8-2.3 2.8-2.9 2.8-4.3 2.8-5.4 2.8-3.4 2.8 3.7 2.8 2.4 2.7-1 2.8-5.6 2.8-3 2.8-1.3 2.8-3.1 2.8-0.9 2.8-0.7 2.8-2.7 2.8 0.8 2.8-3.8 2.8-0.4 2.8-2.3 2.8-3 2.7 0.7 2.8-2.9 2.8 0.1 2.8-1.1 2.8-1.9 2.8-0.4 2.8-0.5 2.8-1.3 2.8-1.1 2.8-1.4 2.8-0.9 2.8 0.2 2.7-0.9 2.8 1 2.8-0.1 2.8-3.9 2.8 0 2.8 2 2.8 0.7 2.8-1.6 2.8 0.8 2.8-0.8 2.8 2.2 2.8 1 2.8-0.4 2.7 1.1 2.8 1 2.8 2 2.8 4.1 2.8-3.6 2.8 3.9 2.8 0.1 2.8 2.7 2.8 1.8 2.8 0.1 2.8 6.1 2.8-0.9 2.7 2 2.8 3.3 2.8 0.4 2.8 3.4 2.8 4.2 2.8 0.7 2.8 1.4 2.8 3.4 2.8 0.8 2.8 2.6 2.8 2.5 2.8 4.8 2.8 1.3 2.7 2.8 2.8-2 2.8 2.9 2.8 4 2.8 0.7 2.8 5.2 2.8 0.8 2.8-0.3 2.8 3.5 2.8 2.4 2.8 2.3 2.8 2.2 2.7-0.4 2.8 3.1 2.8 1.1 2.8 2.4 2.8 1.3 2.8 1.1 2.8 1.6 2.8 1.8 2.8-0.3 2.8 3.3 2.8 1.4 2.8 0.4 2.8 0 2.7 1.7 2.8-0.2 2.8 1.4 2.8 0.1 2.8-0.1 2.8 4.4 2.8-2.5 2.8 0.4 2.8 3.6 2.8-1.5 2.8 1.5 2.8-0.3 2.7 0.1 2.8-0.5 2.8 2.2 2.8 0.6 2.8 1.8 2.8-2.2 2.8-2.8 2.8 9.3 2.8-4.2 2.8-0.5 2.8 2.4 2.8-1.9 2.8 0.5 2.7 1.6 2.8-2 2.8 4.3 2.8-4.8 2.8-0.6 2.8 1.1 2.8-0.8 2.8-0.1 2.8-2.1 2.8 4 2.8 1 2.8-3.3 2.7 4.3 2.8-5.5 2.8 1.2 2.8 3.4 2.8-1 2.8-0.4 2.8-4.4 2.8 3.3 2.8 4.1 2.8-1.3 2.8 2.7 2.8-5.9 2.8 0.3 2.7 3.9 2.8-1.6 2.8-1.7 2.8 0.3 2.8 0.5 2.8 1.8 2.8-1.7 2.8 3 2.8-3.3 2.8 0.8 2.8 0.6 2.8 1.2 2.7-5.9 2.8 5.5 2.8 0.5 2.8-2.9 2.8 3.3 2.8-2.4 2.8-0.1 2.8 3 2.8-1.3 2.8-3.6 2.8-0.8 2.8 2.1 2.8 2 2.7 2.4 2.8-3.1 2.8 2.5 2.8 0.6 2.8-2.8 2.8 2.8 2.8 0 2.8-2.3 2.8-0.5 2.8-1.5 2.8 4.3 2.8-0.9 2.7 0.9 2.8 0 2.8-3.1 2.8-3.3 2.8 3 2.8 0.4 2.8 0.1 2.8-1.5 2.8 1.5 2.8 0.7 2.8 0 2.8 0.9 2.8-0.7 2.7 1.1 2.8-1 2.8 1.9 2.8-2.7 2.8 1.3 2.8 0 2.8-0.6 2.8 1.5 2.8-0.5 2.8-1.1 2.8 2.1 2.8-2.2 2.7 2.2 2.8-2.2 2.8 1.9 2.8-0.6 2.8-0.7 2.8 1.6 2.8 0 2.8-0.4 2.8 0.4 2.8 0 2.8 0 2.8 0 2.8-2.5 2.7 0.9 2.8-0.4 2.8 2 2.8-1.4 2.8 1.4 2.8 0 2.8-0.8 2.8 0.1 2.8 0.7 2.8-0.4 2.8-2 2.8 0.7 2.7 1.7 2.8 0 2.8 0 2.8 0 2.8 0 2.8 0 2.8-0.3"/>
<path stroke="#8000ff" stroke-width="2.9" d="M105.8 2150.4l2.8-6.2 2.8-5.6 2.8-5.1 2.8-5.1 2.8-4.2 2.8-1.8 2.7-0.7 2.8 2.2 2.8 5 2.8 9.1 2.8 13.8 2.8 14.6 2.8 12.4 2.8 12 2.8 12 2.8 12.2 2.8 12.6 2.8 13.5 2.7 14.2 2.8 15.3 2.8 17.2 2.8 18.1 2.8 16 2.8 14.7 2.8 13.6 2.8 12 2.8 9.9 2.8 8.9 2.8 7.9 2.8 6.9 2.8 5.9 2.7 5 2.8 4.6 2.8 4.2 2.8 3.7 2.8 3.2 2.8 2.9 2.8 2.6 2.8 2.4 2.8 2 2.8 1.9 2.8 1.8 2.8 1.5 2.7 0.8 2.8 0.5 2.8 0.3 2.8 0.2 2.8 0 2.8-0.4 2.8-0.7 2.8-1 2.8-1.4 2.8-2.2 2.8-3.1 2.8-3.6 2.8-3.9 2.7-4 2.8-4.3 2.8-4.4 2.8-4.7 2.8-4.7 2.8-4.9 2.8-4.8 2.8-4.7 2.8-4.5 2.8-4.5 2.8-4.4 2.8-4 2.7-3.7 2.8-3.2 2.8-3 2.8-2.9 2.8-2.4 2.8-1.6 2.8-0.9 2.8-0.5 2.8-0.3 2.8-0.1 2.8 0.1 2.8 0.8 2.8 1.5 2.7 2.1 2.8 2.4 2.8 2.5 2.8 3 2.8 3.5 2.8 3.9 2.8 4.1 2.8 4.1 2.8 4.2 2.8 4.7 2.8 5.3 2.8 5.6 2.7 5.7 2.8 6.2 2.8 6.7 2.8 6.9 2.8 6.7 2.8 6.4 2.8 6.5 2.8 6.1 2.8 5.4 2.8 4.5 2.8 4 2.8 3.5 2.8 3.1 2.7 2.8 2.8 2.5 2.8 2.5 2.8 1.9 2.8 1.8 2.8 0.8 2.8 0.8 2.8 0.3 2.8 0.7 2.8-0.2 2.8 0.4 2.8-0.3 2.7-0.4 2.8 0.2 2.8-0.9 2.8-0.4 2.8-0.3 2.8 0 2.8-1.8 2.8-1.4 2.8-0.4 2.8-0.9 2.8-0.5 2.8-1.5 2.8-1.4 2.7 0.1 2.8 0.3 2.8-1.5 2.8 0.1 2.8-1.5 2.8-2.3 2.8-2.2 2.8-5.2 2.8-4.8 2.8-1.3 2.8 1.6 2.8 3.2 2.7-2.8 2.8-2.5 2.8-2.1 2.8-1.1 2.8-2.3 2.8-0.7 2.8-2.6 2.8-1.4 2.8 0.2 2.8-2.6 2.8-1.8 2.8-1.2 2.8-1.3 2.7-1.7 2.8-0.5 2.8-0.7 2.8-1 2.8-0.5 2.8-1.7 2.8 0.3 2.8-1.3 2.8 0.6 2.8-1.4 2.8-2.6 2.8 0.3 2.7 0.3 2.8 0.7 2.8-0.4 2.8-3.4 2.8 0.9 2.8-0.7 2.8 2.8 2.8-3.1 2.8 3 2.8-4.5 2.8 3.4 2.8-0.4 2.8 1.4 2.7 2.7 2.8-0.8 2.8 1.8 2.8 3.5 2.8-1.4 2.8 1 2.8 1.9 2.8 1.2 2.8 1.2 2.8 1.8 2.8 3.1 2.8 1.1 2.7 0.8 2.8 2.6 2.8 1.4 2.8 2.3 2.8 2.2 2.8 2.7 2.8 2.4 2.8 0.2 2.8 2.4 2.8 2.5 2.8 1.5 2.8 2.2 2.8 3.1 2.7-0.2 2.8-0.7 2.8 4.9 2.8 0.6 2.8 2.9 2.8 1.6 2.8 3.4 2.8-0.5 2.8 2.7 2.8 1.1 2.8 2 2.8 1 2.7 1.8 2.8 2.3 2.8 0.5 2.8 2 2.8 1.1 2.8 1.4 2.8 2.4 2.8 1.7 2.8 0.3 2.8 0.1 2.8 1.3 2.8 0.7 2.8 1 2.7-0.4 2.8 1.9 2.8 1.3 2.8 0 2.8 0 2.8 3.2 2.8-1.3 2.8-1.2 2.8 1.2 2.8 0.9 2.8-0.8 2.8 2.8 2.7 0.9 2.8-2.4 2.8 2.9 2.8-0.6 2.8 1.7 2.8-1.4 2.8 1.5 2.8-0.7 2.8-2.5 2.8 6.8 2.8-3.1 2.8-1.5 2.8 5.5 2.7-3.5 2.8-3.5 2.8 4.3 2.8 1.5 2.8-3.4 2.8 3.9 2.8-1.2 2.8-1.4 2.8-5.8 2.8 7.2 2.8-2.3 2.8-0.9 2.7 1.2 2.8-0.5 2.8-4.4 2.8 3.2 2.8 4 2.8 0.8 2.8-0.8 2.8-2.3 2.8 1.7 2.8-0.2 2.8-2.3 2.8 0.5 2.8 4.6 2.7-0.3 2.8-4.5 2.8 1.5 2.8-0.1 2.8 1.6 2.8-4 2.8 1.5 2.8 2.8 2.8-0.9 2.8-0.8 2.8-1.1 2.8 1.3 2.7-0.1 2.8 2.9 2.8 0.7 2.8-2.9 2.8 1.8 2.8-0.2 2.8-2.3 2.8 2.6 2.8-8.4 2.8 8.8 2.8-1.5 2.8-1.4 2.8-0.4 2.7 4 2.8-2.5 2.8-2.1 2.8 4.7 2.8-2.2 2.8-0.8 2.8 3 2.8-1.4 2.8-2.9 2.8 1.2 2.8 2.2 2.8-2.9 2.7 0.1 2.8 1.6 2.8 1 2.8-1 2.8-0.7 2.8 2.8 2.8-2.5 2.8-0.6 2.8 2.3 2.8-0.1 2.8-3.2 2.8 2.9 2.8-1.1 2.7 0.1 2.8 2.2 2.8-2.1 2.8-1.9 2.8 1.4 2.8 0.3 2.8 2.1 2.8 0.2 2.8 0 2.8 0 2.8-1.4 2.8-0.2 2.7-1.9 2.8 1.2 2.8 2.3 2.8 0 2.8 0 2.8-0.5 2.8-0.5 2.8 1 2.8 0 2.8 0 2.8 0 2.8-0.4 2.8 0.3 2.7-1.7 2.8 0.8 2.8 1 2.8 0 2.8 0 2.8 0 2.8-1 2.8-0.2 2.8 1.2 2.8-0.2 2.8-2.3 2.8 2.5 2.7-0.8 2.8-0.4 2.8-0.6 2.8 1.8 2.8 0 2.8-1.7 2.8 0.9"/>
<path stroke="#ff0080" stroke-width="2.9" d="M105.8 2149.7l2.8-6.4 2.8-5.8 2.8-5.3 2.8-5.2 2.8-4.4 2.8-1.9 2.7-0.7 2.8 2.2 2.8 5 2.8 9.2 2.8 14 2.8 14.8 2.8 12.6 2.8 12.1 2.8 12.2 2.8 12.4 2.8 12.9 2.8 13.7 2.7 14.6 2.8 15.5 2.8 17.5 2.8 18.5 2.8 16.2 2.8 15 2.8 13.9 2.8 12.1 2.8 10.1 2.8 9.1 2.8 8.1 2.8 7.1 2.8 6 2.7 5.1 2.8 4.7 2.8 4.3 2.8 3.7 2.8 3.2 2.8 2.9 2.8 2.7 2.8 2.3 2.8 2 2.8 1.8 2.8 1.8 2.8 1.3 2.7 0.8 2.8 0.4 2.8 0.2 2.8 0.2 2.8-0.1 2.8-0.4 2.8-0.8 2.8-1 2.8-1.5 2.8-2.4 2.8-3.1 2.8-3.6 2.8-4 2.7-4 2.8-4.2 2.8-4.5 2.8-4.6 2.8-4.7 2.8-4.8 2.8-4.8 2.8-4.7 2.8-4.4 2.8-4.4 2.8-4.3 2.8-3.9 2.7-3.6 2.8-3.2 2.8-2.9 2.8-2.7 2.8-2.3 2.8-1.5 2.8-0.9 2.8-0.4 2.8-0.2 2.8 0 2.8 0.2 2.8 0.9 2.8 1.6 2.7 2.2 2.8 2.4 2.8 2.6 2.8 3.1 2.8 3.6 2.8 3.9 2.8 4.2 2.8 4.2 2.8 4.2 2.8 4.8 2.8 5.2 2.8 5.5 2.7 5.6 2.8 6.1 2.8 6.6 2.8 6.7 2.8 6.4 2.8 6.3 2.8 6.3 2.8 6 2.8 5.2 2.8 4.4 2.8 3.9 2.8 3.4 2.8 3 2.7 2.7 2.8 2.5 2.8 2.5 2.8 2 2.8 1.5 2.8 1.2 2.8 0.5 2.8 0.9 2.8 0.5 2.8 0.3 2.8 0.1 2.8 0.1 2.7-0.1 2.8-0.3 2.8-0.4 2.8-0.5 2.8-0.5 2.8 0.6 2.8-1.7 2.8-0.7 2.8-0.9 2.8-1.7 2.8 1.9 2.8-2.2 2.8-0.5 2.7-1.6 2.8 0.1 2.8-1 2.8-0.7 2.8-0.7 2.8-1.2 2.8-2.8 2.8-4.9 2.8-2.2 2.8-2.6 2.8 2.3 2.8 3.1 2.7-3.3 2.8-0.3 2.8-4.9 2.8 1.2 2.8-3.7 2.8-0.4 2.8-0.7 2.8-1 2.8-1.6 2.8-1.1 2.8-1.4 2.8-0.7 2.8-1 2.7 1 2.8-3.4 2.8-1.5 2.8 0.5 2.8-3 2.8-1.4 2.8 2.3 2.8-2.1 2.8-1.9 2.8 2.6 2.8-3.3 2.8 0.5 2.7 0.2 2.8 1.8 2.8-2.9 2.8-0.7 2.8-1.3 2.8 1.6 2.8 1.1 2.8-1.2 2.8 0.5 2.8-1.5 2.8 2.5 2.8-0.7 2.8 1 2.7 1.1 2.8-0.1 2.8 1.6 2.8-0.4 2.8 0.6 2.8 3.5 2.8-0.2 2.8 2.8 2.8 0.6 2.8 0.4 2.8 3.8 2.8 0.8 2.7 0 2.8 4.1 2.8-0.2 2.8 0.4 2.8 5.1 2.8 1.9 2.8-0.6 2.8 4.3 2.8-1.2 2.8 3.5 2.8 1.3 2.8 2.7 2.8 0.9 2.7-1 2.8 1.1 2.8 3.2 2.8 2 2.8 0.6 2.8 2.6 2.8 2.2 2.8 1.5 2.8 0.4 2.8 4.4 2.8 0.3 2.8 1.1 2.7-0.3 2.8 3.2 2.8 0.6 2.8 0.5 2.8 1.1 2.8 2.6 2.8 0.4 2.8 2.4 2.8 0.2 2.8 0.8 2.8-0.4 2.8 0.6 2.8 0.1 2.7 1.9 2.8 1.5 2.8-0.1 2.8 1.4 2.8 0.8 2.8 2.3 2.8-2.7 2.8 0.1 2.8 1.5 2.8 1.8 2.8-0.7 2.8 1.2 2.7-0.8 2.8 0.1 2.8-1.4 2.8 4.2 2.8-2.6 2.8-0.3 2.8 2.9 2.8-2.5 2.8-0.4 2.8 1.4 2.8 1.3 2.8 1.1 2.8-0.5 2.7-3.8 2.8 2.3 2.8 0.2 2.8 1.1 2.8-2.7 2.8 2.5 2.8 1 2.8-2.6 2.8 4.7 2.8-0.5 2.8-4.3 2.8 1.7 2.7-1.3 2.8 2 2.8-0.1 2.8 4.2 2.8-1.7 2.8 0 2.8 0.6 2.8-5.4 2.8 2.7 2.8 0.6 2.8 1.9 2.8 1.3 2.8-1.1 2.7 1.1 2.8-3.4 2.8 2.9 2.8-7.8 2.8 5.1 2.8 0.5 2.8 0.8 2.8 1.9 2.8-4.8 2.8 4.7 2.8 0.1 2.8 0 2.7-6.1 2.8 2.4 2.8 3.7 2.8-4.1 2.8 1.7 2.8-3.2 2.8 5.6 2.8-1.2 2.8 0.6 2.8 0.3 2.8-3.9 2.8-2.2 2.8 4.8 2.7 1.6 2.8-2 2.8 0.4 2.8 1.6 2.8 0 2.8 0 2.8-4.7 2.8 4.7 2.8-0.6 2.8-2.1 2.8 2.7 2.8-1.7 2.7-0.1 2.8-2.8 2.8-2 2.8 5 2.8-0.5 2.8-0.7 2.8 2.4 2.8-1.7 2.8 1.2 2.8 0.1 2.8 0.1 2.8 0.7 2.8 0 2.7 0 2.8-1.2 2.8-0.3 2.8-0.1 2.8-1.9 2.8 3.5 2.8-2.1 2.8-1.9 2.8 1.4 2.8 0.5 2.8 2.1 2.8-3 2.7 0.3 2.8 0.1 2.8 2.6 2.8-0.1 2.8 0.1 2.8-2.2 2.8 2.2 2.8-1.1 2.8 1.1 2.8 0 2.8-1.5 2.8 1.5 2.8-3.1 2.7 2.2 2.8-2.4 2.8 2.4 2.8-0.5 2.8-0.2 2.8 0.3 2.8 1.3 2.8 0 2.8 0 2.8 0 2.8-2.3 2.8 1.5 2.7 0.8 2.8-1 2.8 1 2.8-0.9 2.8 0.9 2.8 0 2.8-2.5"/>
<path stroke="#c0c0c0" stroke-width="2.9" d="M105.8 2149l2.8-6.6 2.8-6 2.8-5.4 2.8-5.4 2.8-4.5 2.8-2 2.7-0.8 2.8 2.2 2.8 5 2.8 9.3 2.8 14.3 2.8 14.9 2.8 12.8 2.8 12.3 2.8 12.4 2.8 12.6 2.8 13.1 2.8 13.9 2.7 14.9 2.8 15.8 2.8 17.8 2.8 18.7 2.8 16.6 2.8 15.2 2.8 14.1 2.8 12.4 2.8 10.3 2.8 9.3 2.8 8.2 2.8 7.2 2.8 6.2 2.7 5.2 2.8 4.8 2.8 4.3 2.8 3.8 2.8 3.2 2.8 2.9 2.8 2.7 2.8 2.3 2.8 1.9 2.8 1.8 2.8 1.7 2.8 1.3 2.7 0.7 2.8 0.3 2.8 0.2 2.8 0.1 2.8-0.1 2.8-0.6 2.8-0.8 2.8-1.1 2.8-1.6 2.8-2.4 2.8-3.1 2.8-3.7 2.8-4 2.7-4 2.8-4.1 2.8-4.5 2.8-4.6 2.8-4.7 2.8-4.7 2.8-4.8 2.8-4.6 2.8-4.3 2.8-4.3 2.8-4.2 2.8-3.9 2.7-3.5 2.8-3.1 2.8-2.8 2.8-2.7 2.8-2.2 2.8-1.4 2.8-0.7 2.8-0.3 2.8-0.1 2.8 0.1 2.8 0.2 2.8 1 2.8 1.7 2.7 2.3 2.8 2.5 2.8 2.7 2.8 3.2 2.8 3.6 2.8 4 2.8 4.2 2.8 4.3 2.8 4.2 2.8 4.8 2.8 5.2 2.8 5.4 2.7 5.5 2.8 5.9 2.8 6.4 2.8 6.5 2.8 6.3 2.8 6.1 2.8 6.1 2.8 5.7 2.8 5.1 2.8 4.2 2.8 3.8 2.8 3.4 2.8 2.9 2.7 2.6 2.8 2.6 2.8 2.5 2.8 2 2.8 1.7 2.8 0.8 2.8 0.8 2.8 0.9 2.8 0.9 2.8 0.3 2.8 0.1 2.8-0.2 2.7 0.6 2.8-0.8 2.8 0.1 2.8-0.6 2.8 0.2 2.8-0.4 2.8-1.6 2.8-0.3 2.8-0.1 2.8-2 2.8 0.6 2.8-1.1 2.8 0.2 2.7-0.8 2.8 0.4 2.8-2.1 2.8 1.3 2.8-1.9 2.8-1.3 2.8-1.6 2.8-4.2 2.8-4.4 2.8-0.3 2.8 2.2 2.8 1.7 2.7-0.1 2.8-3.8 2.8-0.3 2.8-2 2.8-1.9 2.8-0.6 2.8-0.6 2.8-1.8 2.8-1.5 2.8-0.4 2.8-1.8 2.8-1.5 2.8-0.3 2.7-0.7 2.8-1.4 2.8 0.3 2.8-1.5 2.8-0.2 2.8-1.6 2.8 1.2 2.8-1.8 2.8-1.6 2.8 1.3 2.8-1.7 2.8-0.6 2.7 1.8 2.8-0.9 2.8 0.1 2.8-0.4 2.8-3.2 2.8 1.8 2.8 0.7 2.8-1.5 2.8 0.8 2.8-0.9 2.8 2.6 2.8-0.1 2.8 0.1 2.7 2.6 2.8-1 2.8 1.9 2.8-0.5 2.8 0.5 2.8 2.4 2.8-0.3 2.8 2 2.8-0.7 2.8 1.7 2.8 4.2 2.8 0.3 2.7 2.7 2.8-0.1 2.8 0.4 2.8 3 2.8 2.1 2.8 0.7 2.8 1.6 2.8 1.5 2.8-1.7 2.8 3.6 2.8 2.1 2.8 0.7 2.8 3.8 2.7-1.3 2.8-1.7 2.8 3.6 2.8 2.4 2.8-0.3 2.8 4.7 2.8 2.4 2.8-0.8 2.8 0.3 2.8 2.2 2.8 1.5 2.8 0.1 2.7 2.5 2.8 0.3 2.8 0.6 2.8 1.1 2.8 2 2.8 1.2 2.8 2.8 2.8-0.8 2.8-0.9 2.8 2.6 2.8 0.1 2.8 0.7 2.8 1.6 2.7 1.5 2.8-0.7 2.8-0.6 2.8 1.1 2.8 2.5 2.8 0.3 2.8 0.7 2.8-2.5 2.8 1.6 2.8 0.8 2.8 1.3 2.8 1.1 2.7-1.1 2.8-0.5 2.8 0.1 2.8 2.4 2.8-0.1 2.8-2.6 2.8 3.4 2.8-3.8 2.8 2.8 2.8 0.9 2.8-3.8 2.8 4.5 2.8-1.6 2.7 2.5 2.8-2.7 2.8 1.2 2.8 3.3 2.8-1.3 2.8-2.7 2.8 2.4 2.8-3.1 2.8-1.4 2.8 4 2.8-2.6 2.8-0.4 2.7 2.4 2.8-2.4 2.8 3 2.8-0.1 2.8 1.3 2.8-3.6 2.8 0.5 2.8 3.9 2.8-4.7 2.8 3.7 2.8-2 2.8 1 2.8-2.8 2.7 1.4 2.8 3.8 2.8-1.4 2.8-2.9 2.8-0.8 2.8 3.6 2.8-2.1 2.8-2.7 2.8-0.3 2.8 3.8 2.8 2.9 2.8-2.2 2.7 1.2 2.8-2.9 2.8 3.8 2.8-1.8 2.8 1.5 2.8-1.7 2.8-4.9 2.8 7 2.8-2.4 2.8 2.4 2.8-1.2 2.8-3.2 2.8-0.4 2.7 2.3 2.8-1.8 2.8 0.7 2.8-0.2 2.8 3.1 2.8-1.5 2.8-0.2 2.8 1.2 2.8 1.2 2.8-1.5 2.8 1.5 2.8-3.2 2.7 0.5 2.8-2.4 2.8 2.4 2.8 1.6 2.8-2.6 2.8 3.7 2.8 0 2.8-0.8 2.8-0.7 2.8-0.2 2.8-3 2.8 4.5 2.8-2.6 2.7 1 2.8-3.7 2.8 3.5 2.8 2 2.8-1.7 2.8-0.4 2.8 2.1 2.8-0.6 2.8 0.6 2.8-3.2 2.8 3.2 2.8 0 2.7-0.1 2.8-2.1 2.8 2.2 2.8-1.7 2.8 1.7 2.8 0 2.8 0 2.8-0.6 2.8 0.5 2.8-0.5 2.8 0.6 2.8-0.8 2.8 0.4 2.7-0.5 2.8-2.2 2.8 3.1 2.8-0.1 2.8 0.1 2.8 0 2.8-0.2 2.8 0.2 2.8-3.7 2.8 3.7 2.8-2 2.8 1.5 2.7 0.5 2.8-0.5 2.8 0.5 2.8 0 2.8 0 2.8-1.3 2.8 1.2"/>
<path stroke="#a0a0a4" stroke-width="2.9" d="M105.8 2148.4l2.8-6.8 2.8-6.2 2.8-5.5 2.8-5.5 2.8-4.6 2.8-2.1 2.7-0.9 2.8 2.2 2.8 5.1 2.8 9.4 2.8 14.4 2.8 15.1 2.8 13 2.8 12.4 2.8 12.5 2.8 12.8 2.8 13.3 2.8 14.2 2.7 15.1 2.8 16 2.8 18.1 2.8 19 2.8 16.8 2.8 15.4 2.8 14.4 2.8 12.6 2.8 10.5 2.8 9.4 2.8 8.4 2.8 7.3 2.8 6.3 2.7 5.3 2.8 4.8 2.8 4.4 2.8 3.8 2.8 3.3 2.8 2.9 2.8 2.7 2.8 2.3 2.8 1.9 2.8 1.8 2.8 1.6 2.8 1.2 2.7 0.7 2.8 0.2 2.8 0.2 2.8 0 2.8-0.2 2.8-0.6 2.8-0.9 2.8-1.1 2.8-1.6 2.8-2.4 2.8-3.2 2.8-3.8 2.8-3.9 2.7-4 2.8-4.1 2.8-4.4 2.8-4.6 2.8-4.6 2.8-4.7 2.8-4.7 2.8-4.5 2.8-4.3 2.8-4.2 2.8-4.1 2.8-3.8 2.7-3.4 2.8-3 2.8-2.7 2.8-2.6 2.8-2.1 2.8-1.3 2.8-0.6 2.8-0.3 2.8 0.1 2.8 0.1 2.8 0.4 2.8 1.1 2.8 1.8 2.7 2.3 2.8 2.6 2.8 2.7 2.8 3.3 2.8 3.7 2.8 4 2.8 4.3 2.8 4.2 2.8 4.3 2.8 4.7 2.8 5.1 2.8 5.3 2.7 5.5 2.8 5.7 2.8 6.2 2.8 6.3 2.8 6 2.8 5.9 2.8 5.9 2.8 5.5 2.8 4.9 2.8 4.1 2.8 3.6 2.8 3.3 2.8 2.8 2.7 2.5 2.8 2.5 2.8 2.5 2.8 2.1 2.8 1.7 2.8 1.1 2.8 0.8 2.8 1.1 2.8 0 2.8 0.4 2.8 1.2 2.8-0.7 2.7 0.7 2.8-0.4 2.8-0.4 2.8-0.1 2.8-0.1 2.8 0.8 2.8-2 2.8-0.6 2.8 1.2 2.8-1.3 2.8 0.2 2.8-1.8 2.8-0.2 2.7-1.4 2.8 1.7 2.8-1.8 2.8 1.6 2.8-2.6 2.8 0.7 2.8-3 2.8-5.5 2.8-2.2 2.8-3 2.8 5.5 2.8 0.4 2.7-1.2 2.8-3 2.8-0.2 2.8-1.1 2.8-2.2 2.8-0.9 2.8 0.6 2.8-2.6 2.8-1.1 2.8-1.8 2.8 0.5 2.8-0.2 2.8-2.1 2.7-0.8 2.8-0.3 2.8 0.9 2.8-1.9 2.8-0.9 2.8-1.7 2.8 4 2.8-4.1 2.8 1.1 2.8-0.9 2.8-1.3 2.8-0.3 2.7 0.2 2.8 0 2.8-0.3 2.8-2.1 2.8-0.4 2.8 2.4 2.8 0.2 2.8-2.9 2.8 2.1 2.8-0.6 2.8 1.2 2.8-0.5 2.8 2.5 2.7 1 2.8 1.3 2.8-1.1 2.8 0.8 2.8-0.9 2.8 3.7 2.8-1.3 2.8 2.3 2.8 0.1 2.8 2.1 2.8 1.6 2.8 1.5 2.7-0.6 2.8 3.4 2.8-1.3 2.8 1.4 2.8 3.1 2.8 0.5 2.8 1.7 2.8 1.9 2.8-0.4 2.8 0.9 2.8 2.1 2.8 2.5 2.8 1.9 2.7-1.8 2.8 0.4 2.8 2.2 2.8 1.8 2.8 0.1 2.8 4.8 2.8 0.2 2.8-0.9 2.8 2.9 2.8 1.4 2.8-0.3 2.8 1.6 2.7 0.2 2.8 3.3 2.8-0.1 2.8 0.9 2.8 2.3 2.8 0.6 2.8 0.2 2.8 1 2.8-0.8 2.8 1.1 2.8-0.1 2.8 2.7 2.8-1 2.7 1.3 2.8-1 2.8 0.7 2.8 1.6 2.8 1.5 2.8 0.9 2.8-2.1 2.8-0.2 2.8 1 2.8-0.1 2.8 0.6 2.8 3.1 2.7-0.7 2.8-0.9 2.8 1.2 2.8 0.7 2.8 0 2.8 0.4 2.8-2.7 2.8 5.5 2.8-5.1 2.8 0.9 2.8 3.5 2.8-1.5 2.8 1 2.7-2.8 2.8 1.9 2.8-3.7 2.8 4.5 2.8-2.4 2.8 3.7 2.8-9.3 2.8 6.4 2.8-4.8 2.8 6.1 2.8-1.4 2.8 2 2.7-3.9 2.8 1.5 2.8 0.2 2.8 1.3 2.8-0.3 2.8 4 2.8 0 2.8-5.7 2.8-1.3 2.8 4.2 2.8 2.6 2.8-2.9 2.8-1 2.7 2.9 2.8-1.3 2.8 2.5 2.8-3 2.8-1.7 2.8-0.2 2.8-1.2 2.8 3.4 2.8 1.3 2.8-2.1 2.8-1.2 2.8-1.7 2.7 0.6 2.8 4 2.8 0.2 2.8 0.8 2.8 0.8 2.8-0.4 2.8-0.8 2.8 0.1 2.8 0.5 2.8-1.7 2.8 2.3 2.8-4.8 2.8 1.8 2.7 3 2.8-3.3 2.8 3 2.8-4.1 2.8 2.1 2.8 2.3 2.8 0 2.8-2.4 2.8-0.9 2.8 1.1 2.8 1.5 2.8-6.7 2.7 5.3 2.8 2.1 2.8-1.7 2.8 1.7 2.8-2 2.8-2.5 2.8 2.4 2.8 0.7 2.8-0.2 2.8 1.6 2.8-2.4 2.8 1.5 2.8-3.4 2.7 4.3 2.8-0.7 2.8-2.8 2.8 2 2.8-2.1 2.8 0.5 2.8 1.5 2.8 1 2.8-3.4 2.8 3 2.8 0.1 2.8 0.7 2.7-2.2 2.8-0.2 2.8-0.3 2.8 0.8 2.8 2.1 2.8-3.2 2.8 3.2 2.8 0 2.8 0 2.8-0.5 2.8-0.1 2.8-0.5 2.8 0.9 2.7 0.2 2.8-1.3 2.8 1.3 2.8-1 2.8 0.3 2.8-1 2.8 1.3 2.8-1.9 2.8 2.3 2.8-0.2 2.8-0.6 2.8 0.8 2.7-1.4 2.8 1.4 2.8 0 2.8-0.5 2.8-1 2.8 0.5 2.8 0.7"/>
<path stroke="#ffff80" stroke-width="2.9" d="M105.8 2147.8l2.8-6.9 2.8-6.3 2.8-5.6 2.8-5.6 2.8-4.7 2.8-2.1 2.7-0.9 2.8 2.1 2.8 5.2 2.8 9.4 2.8 14.5 2.8 15.3 2.8 13.1 2.8 12.5 2.8 12.7 2.8 12.9 2.8 13.5 2.8 14.3 2.7 15.3 2.8 16.3 2.8 18.3 2.8 19.2 2.8 17 2.8 15.6 2.8 14.5 2.8 12.8 2.8 10.6 2.8 9.6 2.8 8.5 2.8 7.5 2.8 6.3 2.7 5.4 2.8 4.9 2.8 4.4 2.8 3.9 2.8 3.3 2.8 2.9 2.8 2.7 2.8 2.3 2.8 1.9 2.8 1.7 2.8 1.6 2.8 1.2 2.7 0.5 2.8 0.3 2.8 0.1 2.8 0 2.8-0.2 2.8-0.6 2.8-1 2.8-1.2 2.8-1.6 2.8-2.5 2.8-3.2 2.8-3.7 2.8-4 2.7-3.9 2.8-4.1 2.8-4.4 2.8-4.5 2.8-4.6 2.8-4.6 2.8-4.6 2.8-4.4 2.8-4.2 2.8-4.1 2.8-4 2.8-3.8 2.7-3.3 2.8-2.9 2.8-2.6 2.8-2.5 2.8-2 2.8-1.3 2.8-0.5 2.8-0.2 2.8 0.1 2.8 0.3 2.8 0.4 2.8 1.2 2.8 1.8 2.7 2.4 2.8 2.6 2.8 2.8 2.8 3.3 2.8 3.8 2.8 4 2.8 4.3 2.8 4.3 2.8 4.2 2.8 4.7 2.8 5.1 2.8 5.2 2.7 5.3 2.8 5.6 2.8 6 2.8 6.1 2.8 5.8 2.8 5.7 2.8 5.6 2.8 5.4 2.8 4.7 2.8 4 2.8 3.5 2.8 3.1 2.8 2.7 2.7 2.5 2.8 2.6 2.8 2.2 2.8 2.1 2.8 1.8 2.8 0.9 2.8 0.8 2.8 1.1 2.8 0.5 2.8 0.7 2.8 0.2 2.8-0.1 2.7 0.8 2.8-1.2 2.8 0.8 2.8 0.1 2.8-0.1 2.8 0 2.8-2.5 2.8 0.4 2.8 0.6 2.8-1.5 2.8 0.2 2.8-1.2 2.8 1.1 2.7-1.2 2.8 0.5 2.8-2.3 2.8 1.9 2.8-2.4 2.8-0.8 2.8-0.8 2.8-5 2.8-2 2.8-0.6 2.8 0.8 2.8 3.6 2.7-0.4 2.8-1.9 2.8-3.2 2.8-0.8 2.8-1.3 2.8-2 2.8 0.2 2.8-1.8 2.8-0.4 2.8-1.2 2.8 0.1 2.8 0.9 2.8-2.3 2.7-0.8 2.8-0.5 2.8 0.4 2.8-0.1 2.8-2 2.8 0.1 2.8-0.1 2.8-1.8 2.8-0.3 2.8 0.6 2.8-1.3 2.8-1.4 2.7 1.6 2.8 1.6 2.8-2.2 2.8-0.1 2.8-2.6 2.8 2.9 2.8 1.3 2.8-3 2.8-0.6 2.8 0.5 2.8 1.4 2.8-1 2.8 2 2.7 2.7 2.8-3.3 2.8 2.4 2.8 1.1 2.8 1.4 2.8 0.4 2.8 0 2.8 0.5 2.8 2 2.8-0.5 2.8 2.3 2.8 1.2 2.7 0.1 2.8 0.7 2.8 2.9 2.8 0.9 2.8 1.8 2.8 1.2 2.8 0.4 2.8 1.3 2.8 0.2 2.8 0.7 2.8 2.1 2.8 1.7 2.8 2 2.7-0.4 2.8-2.9 2.8 4.1 2.8 2.4 2.8 0.7 2.8 2.6 2.8 0.2 2.8 0.3 2.8 2.4 2.8 1.4 2.8-0.4 2.8 0.5 2.7 1.1 2.8 2.2 2.8-0.7 2.8-0.1 2.8 1.8 2.8 1.3 2.8 2.8 2.8 0.8 2.8-0.1 2.8 0.3 2.8-0.9 2.8 1.1 2.8-1.4 2.7 2 2.8 1.7 2.8-3.1 2.8 3.9 2.8-0.1 2.8 1.2 2.8 0.2 2.8-0.7 2.8 0.1 2.8 0.5 2.8-1.2 2.8 3 2.7 0.8 2.8-1.3 2.8 1.5 2.8 2.2 2.8-3.9 2.8 1.6 2.8 1.7 2.8-0.1 2.8-1.9 2.8 2.1 2.8-1 2.8-1.7 2.8 1.3 2.7 1.7 2.8-5.4 2.8 1.2 2.8 1.3 2.8 1.8 2.8-1.1 2.8-2 2.8 6.8 2.8 0.2 2.8-5.2 2.8-0.3 2.8-1 2.7 6.2 2.8-6.3 2.8 3.8 2.8 1 2.8-0.2 2.8 2.1 2.8-1.8 2.8-4.2 2.8 3.4 2.8-2.2 2.8 1.4 2.8-2.3 2.8 5.7 2.7-1.9 2.8-4.5 2.8 5.6 2.8 0.8 2.8 0 2.8-6.6 2.8 3.5 2.8 0 2.8 1.9 2.8-2.8 2.8-0.7 2.8 3.2 2.7-0.9 2.8 1 2.8 0.9 2.8-0.3 2.8-0.1 2.8-8.1 2.8 9 2.8-0.4 2.8-5.9 2.8 6.3 2.8-3.7 2.8 0.3 2.8 0.8 2.7 1.2 2.8-0.9 2.8-2.4 2.8 4.7 2.8-5.7 2.8-1.2 2.8 6.9 2.8-3 2.8 3 2.8-3.8 2.8 2.7 2.8 0.2 2.7 0.9 2.8-1.2 2.8 1.2 2.8-1.8 2.8-1.1 2.8 2.9 2.8-3.7 2.8 2.6 2.8 0.8 2.8-0.3 2.8-5.1 2.8 2.3 2.8 2.7 2.7-0.5 2.8 0 2.8-2.1 2.8 1.4 2.8 0 2.8 0.8 2.8 0.9 2.8-1.2 2.8-1.1 2.8 2.5 2.8-1.6 2.8 1.6 2.7 0 2.8-0.5 2.8 0.1 2.8-0.3 2.8-0.3 2.8-1.7 2.8 2.6 2.8-2.6 2.8 1.4 2.8 1.3 2.8 0 2.8 0 2.8-0.4 2.7 0.4 2.8-0.6 2.8 0.1 2.8-0.5 2.8 1 2.8-0.7 2.8 0.1 2.8 0.6 2.8-1.7 2.8 1.7 2.8-0.8 2.8 0.8 2.7-1.7 2.8 1.7 2.8 0 2.8-0.7 2.8 0.7 2.8-1.8 2.8 1.8"/>
<path stroke="#80ffff" stroke-width="2.9" d="M105.8 2147.3l2.8-7 2.8-6.4 2.8-5.7 2.8-5.7 2.8-4.7 2.8-2.3 2.7-0.9 2.8 2.2 2.8 5.1 2.8 9.6 2.8 14.6 2.8 15.4 2.8 13.1 2.8 12.7 2.8 12.8 2.8 13 2.8 13.7 2.8 14.5 2.7 15.5 2.8 16.4 2.8 18.5 2.8 19.4 2.8 17.2 2.8 15.8 2.8 14.7 2.8 12.9 2.8 10.8 2.8 9.6 2.8 8.7 2.8 7.5 2.8 6.5 2.7 5.4 2.8 5 2.8 4.4 2.8 3.9 2.8 3.3 2.8 3 2.8 2.7 2.8 2.3 2.8 1.9 2.8 1.7 2.8 1.5 2.8 1.2 2.7 0.5 2.8 0.2 2.8 0.1 2.8 0 2.8-0.3 2.8-0.6 2.8-1 2.8-1.2 2.8-1.7 2.8-2.5 2.8-3.2 2.8-3.7 2.8-3.9 2.7-3.9 2.8-4.1 2.8-4.3 2.8-4.5 2.8-4.5 2.8-4.6 2.8-4.5 2.8-4.4 2.8-4 2.8-4.1 2.8-3.9 2.8-3.6 2.7-3.3 2.8-2.8 2.8-2.5 2.8-2.4 2.8-1.9 2.8-1.2 2.8-0.4 2.8-0.1 2.8 0.1 2.8 0.4 2.8 0.5 2.8 1.2 2.8 1.9 2.7 2.4 2.8 2.7 2.8 2.8 2.8 3.4 2.8 3.8 2.8 4.1 2.8 4.3 2.8 4.2 2.8 4.3 2.8 4.6 2.8 5 2.8 5.1 2.7 5.2 2.8 5.4 2.8 5.8 2.8 5.9 2.8 5.6 2.8 5.4 2.8 5.5 2.8 5.1 2.8 4.5 2.8 3.8 2.8 3.4 2.8 3 2.8 2.6 2.7 2.5 2.8 2.4 2.8 2.3 2.8 2.1 2.8 1.8 2.8 0.9 2.8 1 2.8 1 2.8 0 2.8 0.8 2.8 0.3 2.8 0.3 2.7 0.4 2.8-0.4 2.8-0.2 2.8 0.7 2.8-0.7 2.8 0.4 2.8-1.1 2.8 0.7 2.8-1 2.8-0.2 2.8 0.5 2.8-1.2 2.8 0.1 2.7-2.1 2.8 0.8 2.8-0.3 2.8 0.5 2.8-0.7 2.8-0.9 2.8-2.2 2.8-5.2 2.8-3.8 2.8-0.2 2.8 3.3 2.8 3 2.7-1.3 2.8-1.3 2.8-2.7 2.8 0.9 2.8-2.3 2.8-0.2 2.8-1.3 2.8-1.4 2.8-0.3 2.8-0.1 2.8-0.3 2.8-2.7 2.8 0.4 2.7-1 2.8-1.6 2.8 1.1 2.8-1.7 2.8-0.6 2.8-0.6 2.8 2.1 2.8-3.5 2.8 1.4 2.8 0.2 2.8-0.8 2.8-0.7 2.7 0.1 2.8 0.6 2.8-1.7 2.8 0.8 2.8-1.7 2.8 1.3 2.8 0.8 2.8-2.5 2.8 0.4 2.8 0.5 2.8 2.6 2.8-1.5 2.8 0.4 2.7 1.4 2.8-0.8 2.8 0.8 2.8 2.4 2.8-2.4 2.8 4.1 2.8-0.5 2.8 0.5 2.8 0.7 2.8 1.7 2.8 1.3 2.8 0.8 2.7-0.6 2.8 2.4 2.8 0.5 2.8-0.2 2.8 4 2.8 0.6 2.8-0.5 2.8 2.5 2.8-0.9 2.8 2.1 2.8 1.4 2.8 2.1 2.8 0.6 2.7-0.1 2.8-2 2.8 2.2 2.8 2.2 2.8 1.1 2.8 2.8 2.8 0.3 2.8 0.5 2.8 2 2.8 0.3 2.8 0.6 2.8 0.1 2.7 1.3 2.8 2.2 2.8 0.1 2.8 1.5 2.8-0.3 2.8 1.8 2.8 0.9 2.8-1.5 2.8 0.9 2.8 1.5 2.8-0.8 2.8 2.3 2.8 1.2 2.7-0.7 2.8 0.7 2.8-0.2 2.8 0.6 2.8 0 2.8 3.3 2.8-2.4 2.8 1.3 2.8 1.7 2.8-0.9 2.8-2.4 2.8 3.5 2.7 2 2.8-2.8 2.8 0.7 2.8-1.2 2.8-0.6 2.8 2 2.8-0.8 2.8 0.8 2.8 3.1 2.8-5.4 2.8 2.5 2.8 4.6 2.8-5.6 2.7 4.9 2.8-4.5 2.8 4.1 2.8-2.3 2.8-2.7 2.8 0.5 2.8-0.2 2.8 0.5 2.8 1.2 2.8 0.1 2.8-1.1 2.8-0.5 2.7 0.7 2.8 3.2 2.8-1.6 2.8 0 2.8 3.6 2.8-4.3 2.8-1.1 2.8-2.1 2.8 1.6 2.8 1.9 2.8 4 2.8-4.5 2.8 2.4 2.7 1.6 2.8-4 2.8 0.1 2.8 4 2.8-1.2 2.8-0.9 2.8-3.7 2.8 5.7 2.8-5 2.8 2.9 2.8-2.2 2.8 2.4 2.7-1.1 2.8-1 2.8 4.5 2.8-3.2 2.8-1.4 2.8 0.4 2.8 4.2 2.8-2.3 2.8-1.2 2.8 2.4 2.8 1.1 2.8 0 2.8-2.9 2.7 1.3 2.8-1.8 2.8 3.4 2.8-1.9 2.8-5.3 2.8 3.3 2.8 3.9 2.8-2.3 2.8-0.1 2.8 2.4 2.8-0.6 2.8 0.6 2.7-4.8 2.8 4.5 2.8 0.3 2.8-1.7 2.8 1.2 2.8 0.3 2.8-2 2.8 1.7 2.8-0.7 2.8 1.2 2.8-1.5 2.8-2.4 2.8 3.7 2.7-2.1 2.8-0.6 2.8 2.8 2.8 0.1 2.8-0.3 2.8-1.5 2.8 1.6 2.8 0.2 2.8-1.5 2.8 1.4 2.8-1.1 2.8 0.8 2.7 0.2 2.8-1.2 2.8-0.3 2.8 1.7 2.8-2.6 2.8 1.1 2.8-1 2.8 0.3 2.8 1.9 2.8 0.3 2.8-0.9 2.8 0.9 2.8-0.1 2.7 0.1 2.8-1.2 2.8-1.1 2.8 2.3 2.8 0 2.8-1.2 2.8 0.9 2.8-0.4 2.8-0.7 2.8 1.4 2.8 0 2.8 0 2.7 0 2.8-0.6 2.8 0.6 2.8 0 2.8 0 2.8-1.6 2.8 0.8"/>
<path stroke="#ff80ff" stroke-width="2.9" d="M105.8 2146.8l2.8-7.1 2.8-6.6 2.8-5.8 2.8-5.7 2.8-4.9 2.8-2.3 2.7-0.9 2.8 2.1 2.8 5.2 2.8 9.6 2.8 14.7 2.8 15.6 2.8 13.3 2.8 12.8 2.8 12.8 2.8 13.2 2.8 13.8 2.8 14.7 2.7 15.7 2.8 16.6 2.8 18.7 2.8 19.6 2.8 17.4 2.8 16 2.8 14.9 2.8 13 2.8 10.9 2.8 9.8 2.8 8.8 2.8 7.7 2.8 6.5 2.7 5.5 2.8 5 2.8 4.5 2.8 3.9 2.8 3.4 2.8 2.9 2.8 2.7 2.8 2.4 2.8 1.8 2.8 1.6 2.8 1.5 2.8 1.2 2.7 0.4 2.8 0.2 2.8 0 2.8 0 2.8-0.3 2.8-0.7 2.8-1 2.8-1.3 2.8-1.7 2.8-2.5 2.8-3.3 2.8-3.7 2.8-3.9 2.7-3.9 2.8-4 2.8-4.3 2.8-4.5 2.8-4.5 2.8-4.5 2.8-4.5 2.8-4.3 2.8-4 2.8-3.9 2.8-3.9 2.8-3.6 2.7-3.2 2.8-2.7 2.8-2.4 2.8-2.4 2.8-1.9 2.8-1 2.8-0.4 2.8 0 2.8 0.2 2.8 0.4 2.8 0.6 2.8 1.3 2.8 2 2.7 2.4 2.8 2.7 2.8 2.9 2.8 3.4 2.8 3.9 2.8 4.1 2.8 4.3 2.8 4.3 2.8 4.3 2.8 4.6 2.8 4.9 2.8 5.1 2.7 5 2.8 5.4 2.8 5.6 2.8 5.7 2.8 5.5 2.8 5.3 2.8 5.2 2.8 5.1 2.8 4.4 2.8 3.6 2.8 3.3 2.8 2.9 2.8 2.6 2.7 2.4 2.8 2.4 2.8 2.2 2.8 2 2.8 1.8 2.8 1.2 2.8 1 2.8 0.6 2.8 0.6 2.8 0.9 2.8 0.8 2.8 0.1 2.7 0.1 2.8-0.1 2.8-0.5 2.8 0.3 2.8 0.5 2.8 0 2.8-1.1 2.8-1.1 2.8 0.8 2.8 0.7 2.8-0.8 2.8-1.2 2.8-0.5 2.7-1.4 2.8 2.7 2.8-1.7 2.8 1.9 2.8-1.5 2.8-1.6 2.8-1.6 2.8-3.8 2.8-3.6 2.8-1.3 2.8 3.6 2.8 3.3 2.7 0.3 2.8-4.3 2.8 0.3 2.8-1.3 2.8-1.6 2.8-0.8 2.8 0.2 2.8 0 2.8-2.7 2.8 0.8 2.8-1.4 2.8 0.4 2.8-1.5 2.7 0.4 2.8-1 2.8-0.9 2.8-0.8 2.8-0.3 2.8-0.8 2.8 1.7 2.8-1.5 2.8-0.1 2.8-1 2.8 0.2 2.8 0 2.7-0.3 2.8 1.4 2.8-0.2 2.8-2.8 2.8-1.2 2.8 2.8 2.8 1.6 2.8-3.1 2.8-0.2 2.8-0.5 2.8 1.8 2.8-0.2 2.8 0.1 2.7 2 2.8 0.3 2.8-0.5 2.8 0.3 2.8 0.1 2.8 0.7 2.8 0.2 2.8 2 2.8-0.2 2.8 1.8 2.8 1.8 2.8 0.4 2.7 0.6 2.8 0.9 2.8 0 2.8 1.3 2.8 1.8 2.8 0.5 2.8 2.3 2.8 0.4 2.8-0.2 2.8 1.9 2.8 1.2 2.8 0.4 2.8-0.5 2.7 0.4 2.8-1.3 2.8 4.1 2.8 0.6 2.8 1.9 2.8 1.7 2.8-0.6 2.8 1.1 2.8 0.6 2.8 3.3 2.8-1.2 2.8 2.3 2.7-0.8 2.8 0.9 2.8-1.1 2.8 2.6 2.8-0.5 2.8 1.2 2.8 1.4 2.8 1 2.8-2.1 2.8 3.8 2.8-1.9 2.8 2.4 2.8-1 2.7 0.3 2.8 0.9 2.8-0.2 2.8 3.2 2.8-1.3 2.8 0 2.8-0.4 2.8 0.5 2.8 1.2 2.8-0.1 2.8-0.4 2.8 1.9 2.7-0.5 2.8-2.1 2.8 2.3 2.8-0.1 2.8 0.6 2.8-0.7 2.8 2.4 2.8 2.6 2.8-4.4 2.8-0.6 2.8 0.1 2.8 2.7 2.8-1.9 2.7 3 2.8-4.1 2.8 2.6 2.8-4.8 2.8 2.6 2.8 2.5 2.8-3.3 2.8 1.8 2.8-1.6 2.8 1.1 2.8-0.3 2.8 3.4 2.7-2.1 2.8 0 2.8 1.4 2.8-1.3 2.8 0.7 2.8 2 2.8-2.9 2.8-1.3 2.8-1 2.8 3.2 2.8-1.5 2.8 3.9 2.8-4.5 2.7 2.9 2.8-1.9 2.8 0.2 2.8-1.7 2.8 4.7 2.8 0.8 2.8-3 2.8 2.2 2.8-7.4 2.8 8.2 2.8-1.5 2.8-0.6 2.7-4.4 2.8 4.2 2.8 0.3 2.8-1.8 2.8-1.3 2.8 1.8 2.8-0.3 2.8-0.5 2.8 2.8 2.8-0.4 2.8 0 2.8-1.2 2.8 0.5 2.7 2.4 2.8 0 2.8-2 2.8-1.9 2.8 0.2 2.8 0.2 2.8 1.6 2.8 1.5 2.8-2.6 2.8 1.2 2.8 0.3 2.8-0.6 2.7 2.1 2.8-0.3 2.8 0.3 2.8-0.6 2.8-2.7 2.8 3.3 2.8-2.8 2.8 2.4 2.8-2 2.8 2 2.8 0 2.8-3.1 2.8 3.5 2.7 0 2.8-2 2.8 2 2.8-0.1 2.8-1.3 2.8-0.2 2.8-1.2 2.8 2.7 2.8-4 2.8 3 2.8 0 2.8 0.9 2.7-1.8 2.8 2 2.8 0 2.8 0 2.8-0.5 2.8 0.5 2.8 0 2.8 0 2.8 0 2.8 0 2.8 0 2.8 0 2.8-0.7 2.7 0.2 2.8-0.7 2.8 1.2 2.8-0.5 2.8 0.5 2.8-0.3 2.8-0.3 2.8 0.6 2.8-0.4 2.8-1.4 2.8 1.1 2.8-0.2 2.7 0.9 2.8-1.8 2.8 1.8 2.8 0 2.8 0 2.8-1.9 2.8 1.9"/>
<path stroke="#808080" stroke-width="2.9" d="M105.8 2146.3l2.8-7.3 2.8-6.7 2.8-5.9 2.8-5.9 2.8-4.9 2.8-2.3 2.7-1.1 2.8 2.2 2.8 5.2 2.8 9.7 2.8 14.8 2.8 15.7 2.8 13.4 2.8 13 2.8 12.9 2.8 13.4 2.8 14 2.8 14.9 2.7 15.8 2.8 16.9 2.8 18.9 2.8 19.8 2.8 17.6 2.8 16.2 2.8 15.1 2.8 13.2 2.8 11.1 2.8 9.9 2.8 8.9 2.8 7.8 2.8 6.6 2.7 5.6 2.8 5.1 2.8 4.5 2.8 3.9 2.8 3.4 2.8 3 2.8 2.7 2.8 2.3 2.8 1.9 2.8 1.6 2.8 1.4 2.8 1.1 2.7 0.4 2.8 0.1 2.8 0 2.8-0.1 2.8-0.3 2.8-0.7 2.8-1.1 2.8-1.3 2.8-1.7 2.8-2.6 2.8-3.3 2.8-3.7 2.8-3.9 2.7-3.9 2.8-4 2.8-4.3 2.8-4.4 2.8-4.5 2.8-4.5 2.8-4.4 2.8-4.1 2.8-3.9 2.8-3.9 2.8-3.8 2.8-3.5 2.7-3.1 2.8-2.7 2.8-2.3 2.8-2.3 2.8-1.8 2.8-0.9 2.8-0.3 2.8 0 2.8 0.3 2.8 0.5 2.8 0.7 2.8 1.3 2.8 2.1 2.7 2.5 2.8 2.8 2.8 2.9 2.8 3.5 2.8 3.9 2.8 4.1 2.8 4.4 2.8 4.3 2.8 4.3 2.8 4.6 2.8 4.8 2.8 4.9 2.7 5 2.8 5.2 2.8 5.5 2.8 5.5 2.8 5.2 2.8 5.1 2.8 5.1 2.8 4.8 2.8 4.3 2.8 3.5 2.8 3.2 2.8 2.8 2.8 2.5 2.7 2.3 2.8 2.4 2.8 2.3 2.8 2 2.8 1.5 2.8 1.3 2.8 1 2.8 0.8 2.8 0.7 2.8 0.6 2.8 0.3 2.8 0.5 2.7 0.7 2.8-0.2 2.8-0.5 2.8 1.2 2.8-0.3 2.8-0.6 2.8-1 2.8 0 2.8 1.1 2.8-0.2 2.8-0.5 2.8-1.1 2.8 1.1 2.7-2.1 2.8 1.9 2.8-1.9 2.8 2 2.8-1.1 2.8-0.1 2.8-2.2 2.8-5 2.8-3.3 2.8 0.5 2.8 2.4 2.8 4.5 2.7-0.9 2.8-1.6 2.8-2.5 2.8-0.1 2.8-1.5 2.8-1 2.8 1.7 2.8-1.5 2.8-0.1 2.8-1.2 2.8-0.8 2.8-0.8 2.8-1.1 2.7 0.4 2.8-0.9 2.8 0.1 2.8 0.6 2.8-2.4 2.8-0.6 2.8 2.2 2.8 0.7 2.8-2.3 2.8 1 2.8-1.3 2.8-0.6 2.7-0.6 2.8 1.4 2.8 1 2.8-2.1 2.8-0.1 2.8 0.1 2.8 1.2 2.8-2.3 2.8 1.1 2.8-0.4 2.8 1.8 2.8-1.3 2.8 0.5 2.7 1.7 2.8-1.5 2.8 0.9 2.8 2 2.8-2.3 2.8 1.9 2.8-0.7 2.8 2.6 2.8 0.2 2.8-0.8 2.8 3.3 2.8-0.2 2.7-0.7 2.8 3.9 2.8-2.4 2.8 2.2 2.8 1.2 2.8 1.2 2.8 0.1 2.8 2.1 2.8-2.7 2.8 3 2.8 0 2.8 1.9 2.8 1.8 2.7-1.2 2.8-1.2 2.8-0.1 2.8 2.8 2.8 0.7 2.8 1.8 2.8 0.9 2.8 0.1 2.8 0.9 2.8 1.3 2.8 1.3 2.8 0.2 2.7 0.2 2.8 0.7 2.8 1.8 2.8-0.9 2.8-0.6 2.8 0.8 2.8 1 2.8 3 2.8-1.2 2.8 0.3 2.8 0.9 2.8 0.6 2.8 0.7 2.7-0.7 2.8 1.6 2.8 0.4 2.8-1.5 2.8 0.2 2.8 1.6 2.8 0.1 2.8-1.5 2.8 4.1 2.8-2 2.8-0.1 2.8 1.6 2.7 1.4 2.8-0.4 2.8-3.1 2.8 0.1 2.8 1.2 2.8 3 2.8-2 2.8-1.5 2.8 2.3 2.8-2.4 2.8-0.2 2.8-0.5 2.8 2.3 2.7 0.5 2.8 0.2 2.8-2.3 2.8 3.9 2.8-2.5 2.8 3.8 2.8-7.9 2.8 4 2.8 2 2.8 0.5 2.8 0.1 2.8-5.6 2.7 4.2 2.8 1.4 2.8-0.8 2.8-1.1 2.8-1.7 2.8-0.2 2.8 2.1 2.8-2.6 2.8 5.9 2.8-3.3 2.8-1 2.8 0.1 2.8 0.3 2.7 0.9 2.8-0.5 2.8 2 2.8-4.4 2.8 6 2.8-1.2 2.8-4.1 2.8 2.7 2.8 2.6 2.8-2.1 2.8-0.2 2.8 0.4 2.7-0.8 2.8 0.5 2.8 2.4 2.8-6.3 2.8 3 2.8-0.6 2.8 3 2.8 0.9 2.8-4.7 2.8 3.9 2.8-1.5 2.8 2.3 2.8-3.5 2.7 0.9 2.8-0.7 2.8 0.9 2.8 1.3 2.8 0 2.8-2.9 2.8 3.2 2.8-2.3 2.8 3.1 2.8-0.5 2.8-3.3 2.8 1.8 2.7-0.5 2.8 0.1 2.8 1.4 2.8 0 2.8-0.2 2.8-0.5 2.8 0.3 2.8-1.6 2.8 1.9 2.8 0.3 2.8-2.4 2.8 0.5 2.8 0.8 2.7 1.9 2.8-2.3 2.8 1.1 2.8-3.3 2.8 2.9 2.8 1.4 2.8-2.1 2.8 1.2 2.8-1.1 2.8 2.2 2.8-3.1 2.8 1.2 2.7-1.8 2.8 2.9 2.8 0.8 2.8 0 2.8-0.5 2.8-1.6 2.8 2.1 2.8-0.7 2.8-0.5 2.8-1.4 2.8 2.6 2.8-0.1 2.8-0.1 2.7-1.9 2.8 0.2 2.8 1.9 2.8-0.7 2.8 0.7 2.8-1 2.8 1 2.8 0 2.8-0.2 2.8-1.4 2.8 0.3 2.8 1.3 2.7 0 2.8 0 2.8 0 2.8-2.3 2.8 2.3 2.8-0.4 2.8 0.4"/>
<path stroke="#000000" stroke-width="2.9" d="M105.8 2145.9l2.8-7.5 2.8-6.7 2.8-6.1 2.8-5.9 2.8-5 2.8-2.4 2.7-1.1 2.8 2.2 2.8 5.2 2.8 9.7 2.8 15 2.8 15.8 2.8 13.5 2.8 13.1 2.8 13 2.8 13.5 2.8 14.1 2.8 15.1 2.7 16 2.8 17 2.8 19.2 2.8 20 2.8 17.7 2.8 16.4 2.8 15.2 2.8 13.4 2.8 11.1 2.8 10.1 2.8 9 2.8 7.9 2.8 6.6 2.7 5.7 2.8 5.1 2.8 4.6 2.8 4 2.8 3.4 2.8 3 2.8 2.7 2.8 2.3 2.8 1.8 2.8 1.6 2.8 1.4 2.8 1 2.7 0.4 2.8 0 2.8 0 2.8-0.1 2.8-0.4 2.8-0.8 2.8-1.1 2.8-1.3 2.8-1.8 2.8-2.6 2.8-3.3 2.8-3.8 2.8-3.9 2.7-3.8 2.8-4 2.8-4.3 2.8-4.4 2.8-4.4 2.8-4.5 2.8-4.4 2.8-4.1 2.8-3.9 2.8-3.8 2.8-3.7 2.8-3.5 2.7-3 2.8-2.6 2.8-2.3 2.8-2.2 2.8-1.8 2.8-0.9 2.8-0.2 2.8 0.1 2.8 0.4 2.8 0.5 2.8 0.7 2.8 1.4 2.8 2.1 2.7 2.6 2.8 2.8 2.8 3 2.8 3.5 2.8 4 2.8 4.2 2.8 4.4 2.8 4.3 2.8 4.3 2.8 4.6 2.8 4.8 2.8 4.9 2.7 4.9 2.8 5.2 2.8 5.3 2.8 5.3 2.8 5.2 2.8 4.9 2.8 5 2.8 4.7 2.8 4.2 2.8 3.4 2.8 3.1 2.8 2.7 2.8 2.5 2.7 2.4 2.8 2.2 2.8 2.3 2.8 1.9 2.8 2 2.8 0.9 2.8 1.2 2.8 0.9 2.8 0.8 2.8 0.1 2.8 1.3 2.8-0.1 2.7 1 2.8 0 2.8-1 2.8 0.7 2.8-0.2 2.8 0.9 2.8-1.2 2.8 0.1 2.8-0.4 2.8 1.6 2.8-0.6 2.8-1.1 2.8 0.8 2.7-1 2.8-0.5 2.8 0.2 2.8 1.2 2.8 1 2.8-1.9 2.8-2.6 2.8-3.5 2.8-3.3 2.8-0.1 2.8 3.6 2.8 4 2.7 0.8 2.8-4.2 2.8-0.1 2.8-1.6 2.8-0.5 2.8-1.2 2.8 0.7 2.8-3 2.8 1.7 2.8-0.7 2.8 0.1 2.8 0.2 2.8-2.5 2.7 1.2 2.8 0.2 2.8-1 2.8-1.1 2.8-0.8 2.8 1.4 2.8-0.9 2.8 0 2.8-1.2 2.8 1.3 2.8-0.7 2.8-0.1 2.7 0 2.8-0.8 2.8 0.8 2.8-1.1 2.8-0.3 2.8 0.2 2.8 1.3 2.8-1.6 2.8 0.2 2.8-0.6 2.8 2.5 2.8-0.5 2.8-1.5 2.7 2.9 2.8-1.4 2.8 0.2 2.8 2.1 2.8-1.8 2.8 2 2.8-1.2 2.8 2.9 2.8-1.3 2.8 1.8 2.8 1.4 2.8 1.1 2.7-2.3 2.8 2.8 2.8-2.6 2.8 2.1 2.8 1.4 2.8 1.5 2.8-0.5 2.8 3.2 2.8-2.5 2.8 2 2.8-0.4 2.8 1.3 2.8 1.3 2.7-0.9 2.8-2 2.8 2.7 2.8 0.9 2.8 0.6 2.8 1.2 2.8 1 2.8 0.3 2.8 1 2.8 1.1 2.8-0.5 2.8 1.6 2.7-1.1 2.8-0.3 2.8 3.1 2.8 0.2 2.8-0.2 2.8 1.1 2.8 0.4 2.8 0.7 2.8-0.4 2.8 1.1 2.8 0.2 2.8-0.3 2.8-0.6 2.7 0.9 2.8-0.3 2.8 1.9 2.8 0.4 2.8-1.4 2.8 1.7 2.8 0.9 2.8-0.2 2.8 0.3 2.8 1.5 2.8 1.2 2.8-1 2.7 0.5 2.8-1 2.8-1.8 2.8 1.9 2.8 0 2.8-1.1 2.8-1.1 2.8 1.1 2.8 1.3 2.8-0.4 2.8 4.5 2.8-3.2 2.8 1.7 2.7-1.8 2.8-1.5 2.8-4.3 2.8 7.5 2.8-4.7 2.8 6.3 2.8-4 2.8-1.1 2.8 1.9 2.8 1.8 2.8-2.3 2.8 0.8 2.7-2.1 2.8 0.2 2.8 1.7 2.8 0.7 2.8-3.1 2.8 2.2 2.8-2.6 2.8 3.2 2.8-0.7 2.8 1.6 2.8-1.2 2.8 0.1 2.8 2.5 2.7 0.4 2.8-1.6 2.8 1.6 2.8-7.1 2.8 4.7 2.8-0.6 2.8-1.5 2.8 3.4 2.8-4.2 2.8 4.8 2.8-4.6 2.8 5.1 2.7-1.9 2.8-1.1 2.8 0.9 2.8-2.8 2.8 0.5 2.8-0.3 2.8 2 2.8 0.8 2.8 1.4 2.8-1.9 2.8 1.2 2.8 1.2 2.8-2.6 2.7-0.9 2.8 1.7 2.8-3.7 2.8 0.7 2.8 0.2 2.8 2.9 2.8-2.3 2.8-0.6 2.8 3.5 2.8 0.1 2.8-1 2.8 1.6 2.7 0.4 2.8 0 2.8-2.8 2.8 0.7 2.8-2.8 2.8 4.9 2.8-2.2 2.8 1.5 2.8-3.2 2.8 2.6 2.8-0.9 2.8 2.2 2.8-0.2 2.7-1.1 2.8-0.7 2.8 1.4 2.8 0.4 2.8-2.8 2.8 3 2.8-3.5 2.8 2 2.8 1 2.8-1.8 2.8 0.7 2.8 0.9 2.7-2.5 2.8 2.7 2.8 0.5 2.8-0.3 2.8 0.3 2.8 0 2.8 0 2.8-2.9 2.8 2.9 2.8-0.3 2.8 0.3 2.8-2.9 2.8 1.5 2.7 0.9 2.8-2 2.8 1.6 2.8 0.7 2.8-0.1 2.8-1.4 2.8-0.4 2.8 2.1 2.8-2.2 2.8 2.1 2.8-2.8 2.8 1.7 2.7 1.2 2.8-0.5 2.8-0.8 2.8 1.3 2.8-0.3 2.8-0.6 2.8 0.7"/>
<path stroke="#ff0000" stroke-width="2.9" d="M105.8 2145.5l2.8-7.5 2.8-6.8 2.8-6.2 2.8-6 2.8-5 2.8-2.4 2.7-1.1 2.8 2.1 2.8 5.3 2.8 9.8 2.8 15 2.8 15.9 2.8 13.6 2.8 13.1 2.8 13.2 2.8 13.5 2.8 14.3 2.8 15.2 2.7 16.1 2.8 17.1 2.8 19.3 2.8 20.1 2.8 17.9 2.8 16.5 2.8 15.3 2.8 13.5 2.8 11.3 2.8 10.1 2.8 9 2.8 8 2.8 6.8 2.7 5.7 2.8 5.1 2.8 4.6 2.8 4 2.8 3.4 2.8 3 2.8 2.8 2.8 2.3 2.8 1.8 2.8 1.5 2.8 1.4 2.8 1 2.7 0.3 2.8 0.1 2.8-0.1 2.8-0.1 2.8-0.4 2.8-0.8 2.8-1.1 2.8-1.3 2.8-1.8 2.8-2.7 2.8-3.3 2.8-3.7 2.8-3.9 2.7-3.8 2.8-4 2.8-4.2 2.8-4.4 2.8-4.4 2.8-4.4 2.8-4.3 2.8-4.1 2.8-3.8 2.8-3.7 2.8-3.7 2.8-3.4 2.7-3 2.8-2.5 2.8-2.3 2.8-2.1 2.8-1.6 2.8-0.9 2.8-0.2 2.8 0.2 2.8 0.4 2.8 0.6 2.8 0.8 2.8 1.4 2.8 2.2 2.7 2.6 2.8 2.8 2.8 3.1 2.8 3.5 2.8 4 2.8 4.2 2.8 4.4 2.8 4.3 2.8 4.3 2.8 4.5 2.8 4.8 2.8 4.8 2.7 4.8 2.8 5 2.8 5.2 2.8 5.2 2.8 5 2.8 4.8 2.8 4.8 2.8 4.5 2.8 4 2.8 3.4 2.8 2.9 2.8 2.7 2.8 2.4 2.7 2.3 2.8 2.3 2.8 2.3 2.8 1.9 2.8 1.6 2.8 1.3 2.8 0.9 2.8 1.2 2.8 0.4 2.8 0.9 2.8 0 2.8 1.1 2.7 0.4 2.8-0.4 2.8 0.4 2.8 0.9 2.8-0.6 2.8-0.1 2.8 0.5 2.8-0.7 2.8 0.1 2.8-0.5 2.8 1.1 2.8-1.9 2.8 0.8 2.7-0.2 2.8-0.1 2.8-2.4 2.8 2.7 2.8 0.3 2.8-1.3 2.8-1.3 2.8-3.9 2.8-2.1 2.8-2.5 2.8 4.4 2.8 3.2 2.7-0.1 2.8-1.6 2.8-2.5 2.8 1.8 2.8-2 2.8 0.2 2.8-0.9 2.8-0.1 2.8 0 2.8-1.6 2.8 0.3 2.8-1.8 2.8 1.6 2.7-1 2.8-1.3 2.8 2.6 2.8-2.6 2.8-1.3 2.8 1.5 2.8 0.5 2.8-0.4 2.8-0.9 2.8 2.9 2.8-3.5 2.8 0.7 2.7 0 2.8 1 2.8-0.6 2.8-1.2 2.8-1.7 2.8 2.4 2.8 0.7 2.8-1.6 2.8 1.1 2.8-0.7 2.8-0.2 2.8 0 2.8 1 2.7 0.1 2.8 0.7 2.8 0.2 2.8 0.7 2.8-1.6 2.8 0.4 2.8 1.2 2.8 1.5 2.8-1.1 2.8 1.4 2.8 1 2.8-0.9 2.7 0.6 2.8 1.7 2.8 0.1 2.8-0.1 2.8 1.1 2.8 1.4 2.8 0.6 2.8 0.5 2.8 1 2.8 0.7 2.8-1 2.8 1.7 2.8 0.9 2.7-0.9 2.8-2.2 2.8 3.4 2.8-0.6 2.8 0.6 2.8 1.6 2.8 0.6 2.8 1.5 2.8 1.8 2.8-1.5 2.8 0.7 2.8 1.8 2.7-1.3 2.8 1.6 2.8 0.9 2.8 0.8 2.8-0.7 2.8 1 2.8 1.4 2.8-0.5 2.8-0.8 2.8 0.9 2.8 1.1 2.8 0.1 2.8 0.6 2.7-0.4 2.8 0 2.8-0.9 2.8 2.5 2.8-1.2 2.8 2.3 2.8-0.4 2.8-0.2 2.8 0.8 2.8-1.3 2.8 0.9 2.8-2.6 2.7 4.4 2.8-2.4 2.8 0.6 2.8 2.1 2.8-1.3 2.8-2.4 2.8-2.2 2.8 5.2 2.8-0.7 2.8-0.3 2.8 3 2.8-0.6 2.8 0.7 2.7-1.4 2.8-1.7 2.8 3.1 2.8 1.3 2.8-6.9 2.8 4.9 2.8-1.8 2.8 3.1 2.8-4.6 2.8 0.6 2.8 2.2 2.8-0.6 2.7 0.6 2.8 3.1 2.8 0 2.8-3.6 2.8 2.8 2.8-3.5 2.8 2.7 2.8-2.5 2.8-2.4 2.8 1.7 2.8 3.7 2.8-3.5 2.8 4.6 2.7-4.6 2.8 2.6 2.8-2.2 2.8 4.2 2.8-0.5 2.8-4.3 2.8 2.6 2.8-0.2 2.8-0.6 2.8-2.1 2.8 5.1 2.8 0 2.7-2.7 2.8-0.4 2.8 1.2 2.8 0 2.8-0.2 2.8-3.5 2.8 2.6 2.8 3 2.8-4.7 2.8 4.7 2.8-0.8 2.8-0.4 2.8 0.9 2.7-1.9 2.8 2.2 2.8-4.5 2.8 3.9 2.8 0.6 2.8-0.6 2.8 0.6 2.8-1 2.8-1.6 2.8 0.4 2.8-0.2 2.8-0.2 2.7 1.5 2.8 0.1 2.8 0.2 2.8-1.4 2.8-1.5 2.8 3.7 2.8-1.3 2.8 0.5 2.8 0.4 2.8-1.7 2.8 0.4 2.8-1.2 2.8 2.9 2.7-0.1 2.8-3.6 2.8 3.7 2.8 0 2.8 0 2.8-4.9 2.8 3 2.8 1.6 2.8-0.8 2.8-1.1 2.8 2.2 2.8-3.3 2.7 1.2 2.8 2.1 2.8 0 2.8-1.1 2.8 1.1 2.8-1 2.8-1 2.8 0.5 2.8 1.5 2.8 0 2.8 0 2.8 0 2.8-3.3 2.7 1.3 2.8 1.4 2.8 0.2 2.8 0.1 2.8 0.3 2.8-0.4 2.8 0.4 2.8-0.7 2.8-1.4 2.8 1.9 2.8-2.4 2.8 1.1 2.7 1.5 2.8 0 2.8-0.4 2.8 0.4 2.8 0 2.8-1.2 2.8 1.2"/>
<path stroke="#00ff00" stroke-width="2.9" d="M105.8 2145l2.8-7.6 2.8-6.9 2.8-6.3 2.8-6 2.8-5.2 2.8-2.4 2.7-1.2 2.8 2.2 2.8 5.3 2.8 9.8 2.8 15.2 2.8 15.9 2.8 13.8 2.8 13.2 2.8 13.3 2.8 13.6 2.8 14.4 2.8 15.4 2.7 16.3 2.8 17.3 2.8 19.5 2.8 20.3 2.8 18 2.8 16.7 2.8 15.5 2.8 13.6 2.8 11.4 2.8 10.2 2.8 9.2 2.8 8.1 2.8 6.8 2.7 5.8 2.8 5.2 2.8 4.6 2.8 4.1 2.8 3.4 2.8 3 2.8 2.7 2.8 2.4 2.8 1.8 2.8 1.5 2.8 1.3 2.8 0.9 2.7 0.3 2.8 0.1 2.8-0.1 2.8-0.2 2.8-0.4 2.8-0.8 2.8-1.2 2.8-1.4 2.8-1.8 2.8-2.7 2.8-3.3 2.8-3.8 2.8-3.8 2.7-3.8 2.8-4 2.8-4.2 2.8-4.3 2.8-4.4 2.8-4.3 2.8-4.3 2.8-4 2.8-3.7 2.8-3.7 2.8-3.5 2.8-3.4 2.7-2.9 2.8-2.5 2.8-2.1 2.8-2.1 2.8-1.6 2.8-0.8 2.8-0.1 2.8 0.3 2.8 0.4 2.8 0.7 2.8 0.8 2.8 1.6 2.8 2.2 2.7 2.6 2.8 2.9 2.8 3.1 2.8 3.6 2.8 4 2.8 4.2 2.8 4.4 2.8 4.4 2.8 4.3 2.8 4.5 2.8 4.7 2.8 4.7 2.7 4.7 2.8 4.9 2.8 5.1 2.8 5 2.8 4.8 2.8 4.6 2.8 4.6 2.8 4.4 2.8 3.9 2.8 3.2 2.8 2.9 2.8 2.5 2.8 2.4 2.7 2.2 2.8 2.3 2.8 2.2 2.8 2 2.8 1.7 2.8 1 2.8 0.9 2.8 1.2 2.8 0.3 2.8 1.6 2.8 0.5 2.8 0.3 2.7 0 2.8 0.4 2.8-0.1 2.8 0.7 2.8-0.4 2.8 1.3 2.8-1.1 2.8 0.3 2.8 0 2.8-0.1 2.8 0.5 2.8-0.3 2.8 0.6 2.7-1.9 2.8 3 2.8-2.2 2.8 1.2 2.8 1 2.8-1.7 2.8-2.2 2.8-4.1 2.8-3.2 2.8 1.2 2.8 3.5 2.8 3.1 2.7 0.5 2.8-2.1 2.8-1.6 2.8-0.1 2.8-1.2 2.8 0.3 2.8-0.8 2.8-0.3 2.8-1.1 2.8-0.1 2.8-0.5 2.8 0.6 2.8-0.6 2.7-0.3 2.8-1.2 2.8 1.4 2.8-1.5 2.8-1.1 2.8 0.7 2.8 0.3 2.8-0.3 2.8 0.3 2.8-1.8 2.8 2.5 2.8-0.7 2.7 0.2 2.8-0.1 2.8 0.3 2.8-1.6 2.8-0.4 2.8 0.2 2.8 2.2 2.8-2.1 2.8 0.7 2.8-1.4 2.8 2 2.8-1.4 2.8 1.8 2.7 0.4 2.8-0.5 2.8 1.4 2.8-1.7 2.8 1 2.8-0.1 2.8 0.4 2.8-0.8 2.8 2.9 2.8-0.8 2.8 3.2 2.8-2.6 2.7 1.2 2.8 1.2 2.8-0.2 2.8 0 2.8 0.8 2.8 1.3 2.8 0.5 2.8-1.3 2.8 0.2 2.8 2.9 2.8-0.4 2.8 1.1 2.8-0.4 2.7 0.5 2.8-3.8 2.8 3.8 2.8 1.1 2.8-0.7 2.8 2.9 2.8-1 2.8 0.2 2.8 1.4 2.8 0.9 2.8 0.9 2.8-2.5 2.7 1.4 2.8 1.1 2.8 0.7 2.8 1.2 2.8-0.8 2.8 0.1 2.8 3.1 2.8-0.8 2.8-1.1 2.8 0.8 2.8 0.5 2.8 1.1 2.8-0.6 2.7-1.5 2.8 1.7 2.8-0.2 2.8 0.4 2.8 0.2 2.8 0.8 2.8-1.3 2.8 0.4 2.8 0.7 2.8 0.7 2.8 0.5 2.8-0.6 2.7 0.7 2.8-0.9 2.8 1.8 2.8-2.7 2.8-0.9 2.8 1.9 2.8 0.8 2.8-2.6 2.8 1.8 2.8-2.4 2.8 2 2.8 1.9 2.8 0 2.7 3.6 2.8-3.1 2.8-1.4 2.8 3.5 2.8-1.8 2.8 2.6 2.8-2.7 2.8-2.3 2.8 4.3 2.8-1 2.8-3.7 2.8-1.4 2.7 4 2.8 1.6 2.8-1.1 2.8-2.5 2.8 0.3 2.8 0.8 2.8 3.9 2.8-2.6 2.8 2.6 2.8-4.7 2.8-0.3 2.8 1.7 2.8-1.2 2.7 2.1 2.8 0.4 2.8-0.1 2.8-2.8 2.8 3.5 2.8 1.3 2.8-1.6 2.8 0.3 2.8-2 2.8 0 2.8 0.8 2.8 1.5 2.7-1.5 2.8-0.3 2.8-0.7 2.8 1.9 2.8-0.3 2.8 1 2.8-5.3 2.8 6.3 2.8-3.4 2.8 3.1 2.8-0.5 2.8-2.7 2.8 3.5 2.7-1 2.8-2.8 2.8 2.1 2.8-1.7 2.8 3.4 2.8-0.1 2.8-0.1 2.8-2.6 2.8-2.4 2.8 2.3 2.8 0.3 2.8-0.8 2.7 1.8 2.8-2.3 2.8 3.9 2.8-2.4 2.8 0.9 2.8 1.5 2.8-2.9 2.8 2.3 2.8-3.2 2.8 2.6 2.8-1.5 2.8 0.5 2.8 2.2 2.7-1.3 2.8 0.4 2.8-3.9 2.8 3.3 2.8-2.2 2.8 2.7 2.8-2.8 2.8 1.4 2.8 1.9 2.8-1.5 2.8 0.9 2.8-1.6 2.7 1.3 2.8 0.4 2.8-0.8 2.8 0.2 2.8 1.6 2.8-1.3 2.8-0.3 2.8 0.6 2.8 1 2.8-2.2 2.8 2.2 2.8-1.1 2.8 1.1 2.7-0.7 2.8-0.5 2.8 1.2 2.8 0 2.8-1.9 2.8 0.7 2.8-0.2 2.8 0.6 2.8 0.6 2.8-3 2.8 2.3 2.8-0.5 2.7 1.4 2.8 0 2.8 0 2.8-0.2 2.8 0.2 2.8-0.1 2.8 0.1"/>
<path stroke="#0000ff" stroke-width="2.9" d="M105.8 2144.6l2.8-7.7 2.8-7 2.8-6.3 2.8-6.2 2.8-5.2 2.8-2.5 2.7-1.2 2.8 2.2 2.8 5.3 2.8 9.9 2.8 15.2 2.8 16.1 2.8 13.8 2.8 13.4 2.8 13.3 2.8 13.8 2.8 14.5 2.8 15.5 2.7 16.5 2.8 17.5 2.8 19.6 2.8 20.4 2.8 18.2 2.8 16.8 2.8 15.7 2.8 13.8 2.8 11.4 2.8 10.4 2.8 9.3 2.8 8.1 2.8 6.9 2.7 5.8 2.8 5.3 2.8 4.7 2.8 4 2.8 3.5 2.8 3 2.8 2.7 2.8 2.3 2.8 1.8 2.8 1.5 2.8 1.3 2.8 0.9 2.7 0.3 2.8 0 2.8-0.2 2.8-0.2 2.8-0.4 2.8-0.9 2.8-1.2 2.8-1.4 2.8-1.8 2.8-2.7 2.8-3.4 2.8-3.7 2.8-3.9 2.7-3.8 2.8-3.9 2.8-4.2 2.8-4.3 2.8-4.3 2.8-4.4 2.8-4.2 2.8-3.9 2.8-3.7 2.8-3.6 2.8-3.5 2.8-3.3 2.7-2.9 2.8-2.4 2.8-2.1 2.8-2 2.8-1.5 2.8-0.7 2.8-0.1 2.8 0.3 2.8 0.6 2.8 0.7 2.8 0.9 2.8 1.6 2.8 2.2 2.7 2.7 2.8 3 2.8 3 2.8 3.7 2.8 4 2.8 4.3 2.8 4.4 2.8 4.4 2.8 4.3 2.8 4.5 2.8 4.6 2.8 4.7 2.7 4.7 2.8 4.7 2.8 4.9 2.8 4.9 2.8 4.7 2.8 4.5 2.8 4.5 2.8 4.2 2.8 3.8 2.8 3.1 2.8 2.8 2.8 2.5 2.8 2.2 2.7 2.3 2.8 2.1 2.8 2.3 2.8 1.9 2.8 1.7 2.8 1.2 2.8 1 2.8 1.5 2.8 0.2 2.8 0.6 2.8 0.6 2.8 0.9 2.7 1.2 2.8-0.8 2.8 0.2 2.8 1 2.8 0.3 2.8 0 2.8-1.6 2.8 0.2 2.8 1.1 2.8-0.6 2.8 1.1 2.8 0 2.8 0.5 2.7-2.6 2.8 2 2.8-1.4 2.8 3.3 2.8-1.6 2.8 0.2 2.8-2.2 2.8-2.9 2.8-2.4 2.8-1.2 2.8 3.7 2.8 3.7 2.7-0.3 2.8-2.4 2.8-0.2 2.8-0.1 2.8-2.2 2.8 0.9 2.8-0.3 2.8 0.3 2.8 0 2.8-1.2 2.8 1 2.8-0.5 2.8-1.4 2.7 0.8 2.8-1.2 2.8 0.4 2.8-0.3 2.8 0.3 2.8-0.3 2.8 0.3 2.8 0.1 2.8-2.1 2.8 1.4 2.8 0.2 2.8 0 2.7 0.4 2.8-0.7 2.8 0.6 2.8-0.5 2.8-1.5 2.8-0.1 2.8 2.2 2.8-0.9 2.8-1 2.8 0.8 2.8-0.3 2.8 0.9 2.8 0.4 2.7-0.3 2.8-0.4 2.8 0.2 2.8 1.6 2.8-0.5 2.8-0.3 2.8 1.2 2.8 0.1 2.8 0.3 2.8 0.6 2.8 0.3 2.8 0.7 2.7-1.4 2.8 0.7 2.8 1 2.8 0.4 2.8 1.7 2.8-0.4 2.8-1.1 2.8 2.2 2.8-1.6 2.8 1.9 2.8-0.4 2.8 2 2.8-0.2 2.7-1.1 2.8-2.2 2.8 0.9 2.8 2.4 2.8 0.7 2.8 1.7 2.8-0.7 2.8 0.2 2.8 0.8 2.8 2.3 2.8-1.8 2.8 0.4 2.7-0.7 2.8 2.7 2.8-1 2.8-1.3 2.8 1.3 2.8 1.9 2.8-1.5 2.8 0 2.8 1 2.8-0.8 2.8 0.5 2.8 1.8 2.8-1.1 2.7-0.6 2.8 3.6 2.8-2.7 2.8-0.3 2.8 1.3 2.8 1.6 2.8-0.6 2.8-0.8 2.8 0.1 2.8-0.9 2.8 1.5 2.8 0.6 2.7 0.7 2.8 0.9 2.8-0.3 2.8-0.2 2.8-1.4 2.8-0.5 2.8-1.6 2.8 4 2.8 2.6 2.8-1 2.8-1.8 2.8-3.2 2.8 1.8 2.7 1.7 2.8-1.6 2.8-3.5 2.8 3.2 2.8-0.6 2.8 2.2 2.8 0.4 2.8-1.5 2.8 0.4 2.8 1 2.8 1.8 2.8-0.1 2.7-2.6 2.8-0.7 2.8 3.3 2.8-3.7 2.8 2.6 2.8 0 2.8-0.3 2.8-4.5 2.8 5.6 2.8-0.9 2.8-3 2.8 4.6 2.8-0.3 2.7-1.1 2.8 2.1 2.8-3.8 2.8 1.8 2.8 2 2.8-1.9 2.8-3.2 2.8 5.1 2.8-1.9 2.8-4.7 2.8 4.5 2.8-2.2 2.7 1.8 2.8-0.4 2.8 2.7 2.8-1.3 2.8-0.2 2.8-4.1 2.8 5.8 2.8 0 2.8-5.3 2.8 2.3 2.8 1.9 2.8-2.7 2.8 3.8 2.7-1.6 2.8 1.1 2.8-3.4 2.8 3 2.8-1.2 2.8 0.8 2.8 1.1 2.8-1.5 2.8-1 2.8-0.5 2.8 1.1 2.8 1.2 2.7-0.6 2.8-0.6 2.8-0.7 2.8 0 2.8 2.5 2.8-1.5 2.8 0.2 2.8 1.2 2.8-1.2 2.8-0.8 2.8 0.5 2.8-0.5 2.8 0.1 2.7 2.2 2.8 0.1 2.8-0.9 2.8-0.1 2.8-0.2 2.8-1.5 2.8 0 2.8 2.7 2.8-2.3 2.8 2.3 2.8-1.6 2.8 1.3 2.7-1 2.8-1.6 2.8 1.4 2.8 1.3 2.8-0.3 2.8 0.4 2.8 0 2.8-1.9 2.8 2 2.8 0 2.8-0.5 2.8 0.5 2.8-0.4 2.7 0.4 2.8 0 2.8-1.2 2.8 0.7 2.8 0.4 2.8 0.1 2.8-1.6 2.8 1.1 2.8-0.3 2.8 0.8 2.8-2 2.8 2 2.7 0 2.8-1.8 2.8 0.9 2.8 0.6 2.8 0.2 2.8 0.1 2.8-1.8"/>
<path stroke="#00ffff" stroke-width="2.9" d="M105.8 2144.3l2.8-7.8 2.8-7.1 2.8-6.3 2.8-6.2 2.8-5.3 2.8-2.5 2.7-1.2 2.8 2.1 2.8 5.4 2.8 9.9 2.8 15.3 2.8 16.2 2.8 13.9 2.8 13.4 2.8 13.4 2.8 13.8 2.8 14.7 2.8 15.6 2.7 16.6 2.8 17.5 2.8 19.7 2.8 20.6 2.8 18.3 2.8 16.9 2.8 15.8 2.8 13.9 2.8 11.5 2.8 10.4 2.8 9.4 2.8 8.2 2.8 6.9 2.7 5.9 2.8 5.3 2.8 4.7 2.8 4.1 2.8 3.4 2.8 3.1 2.8 2.7 2.8 2.3 2.8 1.8 2.8 1.4 2.8 1.3 2.8 0.9 2.7 0.2 2.8 0 2.8-0.1 2.8-0.2 2.8-0.5 2.8-0.9 2.8-1.2 2.8-1.4 2.8-1.9 2.8-2.7 2.8-3.4 2.8-3.7 2.8-3.9 2.7-3.8 2.8-3.9 2.8-4.1 2.8-4.3 2.8-4.3 2.8-4.3 2.8-4.2 2.8-3.8 2.8-3.6 2.8-3.6 2.8-3.5 2.8-3.2 2.7-2.9 2.8-2.3 2.8-2.1 2.8-1.9 2.8-1.5 2.8-0.7 2.8 0 2.8 0.4 2.8 0.6 2.8 0.7 2.8 0.9 2.8 1.7 2.8 2.3 2.7 2.7 2.8 3 2.8 3.1 2.8 3.6 2.8 4.1 2.8 4.3 2.8 4.4 2.8 4.4 2.8 4.3 2.8 4.5 2.8 4.6 2.8 4.6 2.7 4.6 2.8 4.7 2.8 4.7 2.8 4.8 2.8 4.5 2.8 4.4 2.8 4.4 2.8 4.1 2.8 3.7 2.8 3 2.8 2.7 2.8 2.4 2.8 2.3 2.7 2.1 2.8 2.1 2.8 2.3 2.8 1.8 2.8 1.9 2.8 0.8 2.8 1.3 2.8 0.8 2.8 1.1 2.8 0.6 2.8 0.5 2.8 0.3 2.7 1 2.8-0.4 2.8 0.4 2.8 1.3 2.8 0.2 2.8 0.2 2.8-0.4 2.8-0.8 2.8 0.9 2.8 0.2 2.8-1.1 2.8 0.2 2.8 0.7 2.7 0.2 2.8 0.3 2.8-0.1 2.8 1.4 2.8-0.9 2.8 1.9 2.8-3.4 2.8-3.7 2.8-2.8 2.8 0.3 2.8 2.9 2.8 3.6 2.7 1.5 2.8-3.6 2.8-0.5 2.8-0.1 2.8 0.8 2.8-1.2 2.8-0.5 2.8-0.5 2.8 0 2.8 0.2 2.8 0.3 2.8-0.4 2.8 0.5 2.7-1.2 2.8-0.4 2.8 1.5 2.8-0.3 2.8-2.8 2.8 1.5 2.8-0.8 2.8-0.2 2.8 0.4 2.8 0.6 2.8-0.1 2.8-0.2 2.7 0.8 2.8-0.7 2.8 2.4 2.8-3.4 2.8-0.7 2.8 2.6 2.8-0.9 2.8-1.2 2.8 0.2 2.8 0.2 2.8 0.2 2.8-0.5 2.8 1.9 2.7-0.1 2.8 0 2.8-0.9 2.8 2.4 2.8-0.6 2.8-0.5 2.8 0.2 2.8 0.2 2.8-0.8 2.8 1.8 2.8 1 2.8 0.2 2.7-0.8 2.8 1 2.8-0.8 2.8-1 2.8 2.2 2.8 0.5 2.8 0 2.8 1.8 2.8-1.4 2.8-0.4 2.8 1.5 2.8 0.3 2.8 1.4 2.7-1.6 2.8-3.4 2.8 3.9 2.8-0.1 2.8 0.1 2.8 1.8 2.8 0.4 2.8-0.7 2.8-0.3 2.8 2.8 2.8-1.8 2.8 0.1 2.7 0.6 2.8 2.5 2.8-1.1 2.8 0.4 2.8-0.1 2.8 0.4 2.8-0.4 2.8 1.3 2.8-1.4 2.8-0.2 2.8 0.8 2.8 0.9 2.8 0.4 2.7-1.2 2.8 0.9 2.8-0.3 2.8 0.2 2.8 1.1 2.8 0.7 2.8-0.1 2.8-0.4 2.8 0.7 2.8-2.1 2.8 0 2.8 3.6 2.7-0.2 2.8-3.9 2.8 3.7 2.8-3.7 2.8 5.1 2.8-5.6 2.8 5.8 2.8-1.3 2.8 2.3 2.8-5.2 2.8 4 2.8 2.2 2.8-0.9 2.7-2 2.8-0.3 2.8-4.1 2.8 5.4 2.8-7.2 2.8 5 2.8 0.2 2.8-0.9 2.8 0.7 2.8 3 2.8-2.1 2.8 0.5 2.7-0.5 2.8 0.9 2.8-1.7 2.8 0 2.8-0.6 2.8 1.1 2.8-0.2 2.8 3.7 2.8-2.7 2.8 2.8 2.8 0 2.8-4.3 2.8 1.5 2.7-1.5 2.8 4.3 2.8-5.7 2.8 1.2 2.8 2.2 2.8 0.8 2.8-2.8 2.8 1 2.8 1.4 2.8-0.4 2.8 0.2 2.8-0.1 2.7 0.8 2.8-2.9 2.8 2.9 2.8-4 2.8 5.4 2.8-0.6 2.8 0.6 2.8-2.1 2.8 0.7 2.8-0.3 2.8-0.9 2.8-1.3 2.8 2.5 2.7-2.1 2.8 1.4 2.8 1.4 2.8-4.5 2.8 5.2 2.8-3.7 2.8 0.9 2.8 0 2.8 2.3 2.8-2.2 2.8-0.3 2.8 3 2.7-4.7 2.8 2.5 2.8 1 2.8-0.9 2.8 0 2.8-0.5 2.8-1.4 2.8 1.8 2.8-1 2.8 2.8 2.8-1.4 2.8 0.6 2.8 0.5 2.7-5 2.8 4.2 2.8-2.3 2.8 2.5 2.8-0.8 2.8 2.1 2.8-1.5 2.8 0.8 2.8 0.3 2.8-1.1 2.8 1.5 2.8-1.2 2.7 1.2 2.8-3.4 2.8 3.4 2.8-1.9 2.8 1.3 2.8-1.5 2.8 1.2 2.8-0.1 2.8-0.8 2.8 1.1 2.8 0.4 2.8-1.6 2.8-0.1 2.7 2 2.8-0.9 2.8-0.6 2.8 1.4 2.8 0.1 2.8 0 2.8-1.2 2.8 1.2 2.8-0.2 2.8 0.1 2.8-1.4 2.8 0.8 2.7-0.4 2.8 1.1 2.8-1.9 2.8 1.9 2.8 0 2.8-1.9 2.8 1.9"/>
<path stroke="#ff00ff" stroke-width="2.9" d="M105.8 2144.1l2.8-7.9 2.8-7.2 2.8-6.4 2.8-6.2 2.8-5.3 2.8-2.5 2.7-1.2 2.8 2.1 2.8 5.4 2.8 9.9 2.8 15.4 2.8 16.2 2.8 14 2.8 13.4 2.8 13.5 2.8 13.9 2.8 14.7 2.8 15.7 2.7 16.7 2.8 17.7 2.8 19.8 2.8 20.7 2.8 18.4 2.8 16.9 2.8 15.9 2.8 13.9 2.8 11.7 2.8 10.4 2.8 9.5 2.8 8.2 2.8 7 2.7 5.9 2.8 5.4 2.8 4.7 2.8 4.1 2.8 3.4 2.8 3.1 2.8 2.7 2.8 2.3 2.8 1.8 2.8 1.4 2.8 1.3 2.8 0.9 2.7 0.2 2.8-0.1 2.8-0.1 2.8-0.2 2.8-0.5 2.8-0.9 2.8-1.2 2.8-1.4 2.8-1.9 2.8-2.8 2.8-3.3 2.8-3.8 2.8-3.8 2.7-3.7 2.8-3.9 2.8-4.1 2.8-4.3 2.8-4.3 2.8-4.2 2.8-4.1 2.8-3.9 2.8-3.5 2.8-3.5 2.8-3.4 2.8-3.2 2.7-2.8 2.8-2.3 2.8-2 2.8-1.9 2.8-1.4 2.8-0.6 2.8 0 2.8 0.4 2.8 0.6 2.8 0.8 2.8 1 2.8 1.7 2.8 2.3 2.7 2.7 2.8 3 2.8 3.2 2.8 3.6 2.8 4.1 2.8 4.3 2.8 4.5 2.8 4.3 2.8 4.3 2.8 4.4 2.8 4.6 2.8 4.5 2.7 4.5 2.8 4.6 2.8 4.7 2.8 4.6 2.8 4.4 2.8 4.3 2.8 4.2 2.8 4 2.8 3.6 2.8 2.9 2.8 2.6 2.8 2.3 2.8 2.2 2.7 2.1 2.8 2.1 2.8 2.2 2.8 2 2.8 1.6 2.8 1.2 2.8 1 2.8 1 2.8 0.7 2.8 0.7 2.8 1 2.8 0.1 2.7 0.5 2.8 0.9 2.8 0.1 2.8 0.8 2.8-0.4 2.8 0 2.8 0.2 2.8-0.1 2.8 1.5 2.8-0.7 2.8-0.8 2.8 0.5 2.8 0.7 2.7-0.9 2.8 1.7 2.8-2.5 2.8 3.9 2.8-0.2 2.8-1.3 2.8-1.1 2.8-4.3 2.8-1.5 2.8-0.6 2.8 3.5 2.8 4.9 2.7-2.2 2.8-1.9 2.8 0.2 2.8-0.8 2.8-1.1 2.8-0.5 2.8 0.7 2.8-0.2 2.8-0.9 2.8-0.3 2.8-0.2 2.8 1 2.8-0.3 2.7 0.1 2.8 0 2.8-0.5 2.8 1.2 2.8-1.6 2.8 0.6 2.8 0.9 2.8-0.6 2.8-1.2 2.8 0.8 2.8-0.7 2.8-1.4 2.7 1.2 2.8 0 2.8 1 2.8 0.1 2.8-1.8 2.8 0.8 2.8 1 2.8-1.4 2.8 0.6 2.8-0.6 2.8 1 2.8-0.2 2.8-0.8 2.7 0.9 2.8-1 2.8 1.5 2.8 0.7 2.8-1.2 2.8 1.6 2.8-0.2 2.8-0.3 2.8 0.9 2.8 0.2 2.8 0.4 2.8 0.1 2.7 0.7 2.8 0.8 2.8-1.6 2.8 0.1 2.8 1.1 2.8 0.2 2.8 0.7 2.8 0 2.8-1.6 2.8 1.2 2.8 0.5 2.8 0.4 2.8 0.5 2.7 0.6 2.8-2.9 2.8 1.8 2.8 0.2 2.8 1.5 2.8 1.1 2.8 1.4 2.8-1.8 2.8 0.9 2.8 0.8 2.8-0.7 2.8 0.9 2.7 0.9 2.8 0.4 2.8-0.6 2.8-0.3 2.8 0.6 2.8 0.8 2.8-0.6 2.8 0.6 2.8-0.7 2.8 1.9 2.8-2.4 2.8 0.7 2.8 0.6 2.7-0.7 2.8 0.8 2.8-0.1 2.8 1 2.8-2.8 2.8 2 2.8 0.6 2.8 1.7 2.8-2.2 2.8 1.4 2.8 1.1 2.8 0.8 2.7 1.1 2.8-3 2.8 1.4 2.8-0.1 2.8-0.1 2.8-0.4 2.8 0.2 2.8-1.4 2.8-1.5 2.8 3.7 2.8 0.7 2.8-3.5 2.8 2.4 2.7-0.5 2.8 0.7 2.8-3 2.8 3.5 2.8-3.4 2.8 3.3 2.8-3.4 2.8 1 2.8 0.3 2.8 0.9 2.8-2.2 2.8 3.7 2.7-0.6 2.8 3.1 2.8-3.7 2.8 2 2.8 0.8 2.8-2.1 2.8-1.2 2.8-1.6 2.8 5.3 2.8-2.6 2.8 2.5 2.8-6.5 2.8 4.7 2.7 0.6 2.8-1.9 2.8 1.1 2.8-0.7 2.8-2.2 2.8-1.5 2.8 3.1 2.8-0.5 2.8 2.1 2.8-0.1 2.8 2.1 2.8-2.3 2.7 2.6 2.8-6.8 2.8 6.8 2.8-2 2.8 1.7 2.8-2 2.8 2.3 2.8-1.9 2.8-0.4 2.8 2.2 2.8 0 2.8-3.5 2.8 0.3 2.7 3.3 2.8-1.8 2.8-0.7 2.8 2.3 2.8-2.9 2.8 3.1 2.8-1.2 2.8-0.3 2.8 0 2.8-0.6 2.8-2.4 2.8 3.2 2.7-1.1 2.8 0.3 2.8 0.5 2.8 1.6 2.8-3.7 2.8 3.1 2.8 0.6 2.8-2 2.8 1.4 2.8-0.7 2.8-2 2.8 0 2.8 3.3 2.7-0.8 2.8-2 2.8-0.7 2.8 3.4 2.8-0.8 2.8 0.9 2.8-0.7 2.8 0.7 2.8-2 2.8 2 2.8-1.1 2.8-2.4 2.7 3.3 2.8-3.3 2.8 2.7 2.8-1.9 2.8 1.6 2.8 1.1 2.8-1.1 2.8 0.5 2.8-0.3 2.8 0.5 2.8 0 2.8 0.1 2.8-2 2.7 0.5 2.8 1.8 2.8-0.5 2.8 0.5 2.8 0 2.8 0 2.8-0.4 2.8 0.4 2.8-0.7 2.8 0.7 2.8-2.1 2.8 1.4 2.7 0 2.8 0.7 2.8-0.6 2.8 0.6 2.8-0.9 2.8 0.7 2.8-0.6"/>
<path stroke="#ffff00" stroke-width="2.9" d="M105.8 2143.8l2.8-8 2.8-7.2 2.8-6.5 2.8-6.2 2.8-5.3 2.8-2.6 2.7-1.2 2.8 2.1 2.8 5.4 2.8 10 2.8 15.4 2.8 16.3 2.8 14 2.8 13.5 2.8 13.6 2.8 14 2.8 14.7 2.8 15.9 2.7 16.8 2.8 17.7 2.8 19.9 2.8 20.8 2.8 18.5 2.8 17.1 2.8 16 2.8 14 2.8 11.7 2.8 10.6 2.8 9.4 2.8 8.4 2.8 7 2.7 6 2.8 5.3 2.8 4.8 2.8 4.1 2.8 3.5 2.8 3 2.8 2.8 2.8 2.3 2.8 1.8 2.8 1.4 2.8 1.2 2.8 0.9 2.7 0.2 2.8-0.1 2.8-0.2 2.8-0.2 2.8-0.5 2.8-0.9 2.8-1.2 2.8-1.4 2.8-2 2.8-2.7 2.8-3.4 2.8-3.7 2.8-3.8 2.7-3.7 2.8-3.8 2.8-4.1 2.8-4.2 2.8-4.3 2.8-4.2 2.8-4 2.8-3.8 2.8-3.5 2.8-3.4 2.8-3.4 2.8-3.1 2.7-2.7 2.8-2.3 2.8-1.9 2.8-1.8 2.8-1.4 2.8-0.6 2.8 0.1 2.8 0.4 2.8 0.7 2.8 0.9 2.8 1 2.8 1.7 2.8 2.4 2.7 2.8 2.8 3 2.8 3.1 2.8 3.7 2.8 4.1 2.8 4.3 2.8 4.5 2.8 4.3 2.8 4.3 2.8 4.4 2.8 4.4 2.8 4.5 2.7 4.4 2.8 4.5 2.8 4.5 2.8 4.5 2.8 4.2 2.8 4.1 2.8 4.1 2.8 3.9 2.8 3.4 2.8 2.9 2.8 2.5 2.8 2.2 2.8 2.1 2.7 2.1 2.8 2 2.8 2.1 2.8 2.1 2.8 1.6 2.8 1.1 2.8 0.8 2.8 1.4 2.8 0.4 2.8 0.9 2.8 0.4 2.8 0.9 2.7 0.8 2.8-0.7 2.8 0.3 2.8 1 2.8-0.4 2.8 0.6 2.8-0.2 2.8 0.1 2.8 0.4 2.8 0.1 2.8 0.2 2.8-1.9 2.8 3.8 2.7-1.8 2.8-0.2 2.8-0.8 2.8 3.1 2.8-0.9 2.8 2 2.8-2.9 2.8-2.6 2.8-3.4 2.8-1.3 2.8 3.7 2.8 4 2.7 0 2.8-3.1 2.8 1.1 2.8-1.3 2.8 0.5 2.8-0.7 2.8 0.8 2.8 0.3 2.8-1.2 2.8 0.7 2.8 0.5 2.8-2.5 2.8 2.1 2.7-1.6 2.8-0.3 2.8 1 2.8-1 2.8-0.5 2.8-0.1 2.8 1.5 2.8-0.6 2.8 0.3 2.8-0.3 2.8-0.3 2.8 1 2.7-0.4 2.8 1.1 2.8-1 2.8-1 2.8-0.4 2.8 0.1 2.8 0.7 2.8 1.2 2.8-1 2.8-0.2 2.8 1.2 2.8-2.1 2.8 0.9 2.7 0.9 2.8-0.4 2.8 0 2.8 1.4 2.8-1.7 2.8 2.1 2.8-1.4 2.8 1 2.8-1.8 2.8 2.1 2.8 0.5 2.8-1.5 2.7 0.2 2.8 1.6 2.8-0.6 2.8-0.5 2.8 2.8 2.8-0.9 2.8-0.3 2.8 0.9 2.8-1.5 2.8 0.3 2.8 2.1 2.8-0.2 2.8 0.7 2.7-1.2 2.8-1.3 2.8 2.1 2.8 0.3 2.8 0.7 2.8 0 2.8 0.8 2.8-1 2.8 1.5 2.8-0.3 2.8-0.3 2.8 0.2 2.7-0.3 2.8 1.5 2.8 0.8 2.8-1.2 2.8-0.7 2.8 2.3 2.8 1.3 2.8-0.2 2.8-3.4 2.8 2.3 2.8-0.3 2.8 1 2.8 0.1 2.7-2.3 2.8 3.1 2.8-0.7 2.8-0.1 2.8 0.1 2.8 0.3 2.8 0.2 2.8-0.5 2.8 0 2.8 2.9 2.8-3.3 2.8 1.9 2.7-0.7 2.8 1.2 2.8 3.2 2.8-3.1 2.8 1.6 2.8-1.5 2.8-1.3 2.8 4.8 2.8-4.3 2.8 0.6 2.8 2.4 2.8-3 2.8 1.3 2.7 3 2.8-5 2.8 2.4 2.8-1.9 2.8-1.6 2.8-0.4 2.8 4.1 2.8-5.5 2.8 7.3 2.8-3.5 2.8-1.1 2.8 1.6 2.7-1.1 2.8 1.8 2.8 0 2.8-1.4 2.8-0.7 2.8-1.3 2.8 5.1 2.8-3.4 2.8-0.2 2.8 3.2 2.8-0.3 2.8-3.1 2.8-0.7 2.7 4.6 2.8-1.4 2.8 1.1 2.8-2.6 2.8 2.6 2.8-1.8 2.8 0.7 2.8-2.2 2.8 1.2 2.8 0 2.8 1.4 2.8 0.5 2.7 1.6 2.8-4.6 2.8 2.7 2.8-1.7 2.8-1.1 2.8 3.8 2.8-6 2.8 6.9 2.8-5.2 2.8 3.7 2.8-4.3 2.8 1.7 2.8 2.9 2.7-0.8 2.8-3.7 2.8 3.2 2.8-1.8 2.8 4.3 2.8-5 2.8 2.9 2.8 2.1 2.8-2.2 2.8 1.2 2.8-0.4 2.8-1 2.7-1.6 2.8 2.4 2.8 1.6 2.8-1.7 2.8 1.4 2.8-1.9 2.8 0.9 2.8 0.2 2.8-2.7 2.8 3.8 2.8-3.7 2.8-0.8 2.8 3.1 2.7 1.4 2.8-1.4 2.8 1.4 2.8 0 2.8-3.6 2.8 2.9 2.8-2 2.8 0.9 2.8 1.7 2.8-1.5 2.8 1.2 2.8-1.5 2.7 1.4 2.8-4.5 2.8 4.6 2.8-1.4 2.8 1.8 2.8-1.3 2.8-0.2 2.8 0 2.8 1.3 2.8-0.4 2.8 0.6 2.8 0 2.8 0 2.7-0.1 2.8-0.7 2.8 0.6 2.8-1.5 2.8 1.2 2.8 0.5 2.8 0 2.8-3.6 2.8 3.1 2.8 0.5 2.8 0 2.8 0 2.7 0 2.8-0.5 2.8-0.7 2.8 1.2 2.8-0.9 2.8-1.6 2.8 2.5"/>
<path stroke="#808000" stroke-width="2.9" d="M105.8 2146.3l2.8-7.6 2.8-6.9 2.8-6.2 2.8-6 2.8-5.1 2.8-2.5 2.7-1.2 2.8 2.1 2.8 5.2 2.8 9.9 2.8 15.2 2.8 16 2.8 13.7 2.8 13.1 2.8 13.3 2.8 13.6 2.8 14.6 2.8 15.6 2.7 16.6 2.8 17.6 2.8 19.8 2.8 20.8 2.8 18.5 2.8 17.1 2.8 16 2.8 14.1 2.8 11.7 2.8 10.6 2.8 9.5 2.8 8.4 2.8 7.1 2.7 6 2.8 5.4 2.8 4.7 2.8 4.2 2.8 3.5 2.8 3.1 2.8 2.7 2.8 2.3 2.8 1.8 2.8 1.4 2.8 1.2 2.8 0.8 2.7 0.2 2.8-0.1 2.8-0.2 2.8-0.2 2.8-0.5 2.8-0.9 2.8-1.3 2.8-1.4 2.8-1.9 2.8-2.8 2.8-3.4 2.8-3.7 2.8-3.8 2.7-3.6 2.8-3.8 2.8-4.1 2.8-4.2 2.8-4.2 2.8-4.1 2.8-4 2.8-3.7 2.8-3.5 2.8-3.4 2.8-3.2 2.8-3.1 2.7-2.7 2.8-2.2 2.8-1.8 2.8-1.8 2.8-1.3 2.8-0.5 2.8 0.1 2.8 0.5 2.8 0.7 2.8 0.9 2.8 1.1 2.8 1.7 2.8 2.4 2.7 2.9 2.8 3 2.8 3.2 2.8 3.7 2.8 4.1 2.8 4.3 2.8 4.5 2.8 4.3 2.8 4.2 2.8 4.4 2.8 4.4 2.8 4.4 2.7 4.3 2.8 4.4 2.8 4.4 2.8 4.3 2.8 4.1 2.8 4 2.8 3.9 2.8 3.8 2.8 3.3 2.8 2.7 2.8 2.4 2.8 2.2 2.8 2 2.7 2 2.8 2 2.8 2.1 2.8 1.9 2.8 1.8 2.8 1 2.8 0.8 2.8 1.7 2.8 0.2 2.8 0.7 2.8 0.7 2.8 0.4 2.7 1.2 2.8 0.3 2.8-0.6 2.8 0.9 2.8 1.2 2.8-0.5 2.8-0.2 2.8-0.4 2.8 0.8 2.8-1.1 2.8 1.4 2.8-1.2 2.8 0.9 2.7 0.2 2.8 0.6 2.8-1.5 2.8 2.4 2.8 0.5 2.8-2.5 2.8 1.2 2.8-4.3 2.8-2.3 2.8-0.2 2.8 2.5 2.8 4.8 2.7-0.8 2.8-1.5 2.8-0.3 2.8 0 2.8-1.3 2.8 1.7 2.8-0.8 2.8-1.4 2.8 1.4 2.8 1 2.8-0.2 2.8-2.3 2.8 1.7 2.7 0.1 2.8-1.9 2.8 1 2.8-0.8 2.8 0.6 2.8-1.1 2.8 1.6 2.8-0.4 2.8 0.6 2.8-1.2 2.8 0.2 2.8-0.2 2.7 0.1 2.8 1.1 2.8-0.8 2.8-0.8 2.8-0.6 2.8 2.5 2.8-0.4 2.8-2.7 2.8 2.3 2.8-0.2 2.8 1.3 2.8-2.4 2.8 1.5 2.7-0.5 2.8 0 2.8 0.7 2.8 0.9 2.8-0.7 2.8 0.2 2.8-0.7 2.8 1.5 2.8-0.4 2.8-0.1 2.8 0.6 2.8 0.4 2.7-0.3 2.8-0.2 2.8-0.6 2.8 0.7 2.8 0.9 2.8 1.1 2.8-0.2 2.8 0.8 2.8-2.2 2.8 0.2 2.8 1.9 2.8-0.1 2.8 2.3 2.7-2.5 2.8-1.9 2.8 2.7 2.8-2.3 2.8 1.3 2.8 2 2.8 0.6 2.8-2 2.8 1.9 2.8-0.2 2.8 0.1 2.8 0.4 2.7-0.1 2.8 1 2.8-0.3 2.8-0.9 2.8 1 2.8 1.1 2.8-1.2 2.8 1.8 2.8-1.4 2.8 1.5 2.8-2.2 2.8 1.5 2.8-1.2 2.7 1.2 2.8 0.7 2.8-2.4 2.8 3.6 2.8-2.8 2.8 2 2.8-0.6 2.8 0.4 2.8-1.8 2.8 1.2 2.8 2.7 2.8 0.7 2.7-2.9 2.8 1 2.8 0.1 2.8-2.4 2.8-1.9 2.8 1.5 2.8 1.5 2.8 2.7 2.8-1.3 2.8-3.1 2.8 5.3 2.8-4.2 2.8 2.4 2.7 2.1 2.8-1.9 2.8-2.7 2.8 5.6 2.8-5.6 2.8 3.6 2.8-2.9 2.8 4.5 2.8 0.1 2.8-4.3 2.8-3.1 2.8 4.9 2.7 1.3 2.8-0.6 2.8-0.4 2.8 1.1 2.8-1.3 2.8 0.5 2.8-2.4 2.8 0.1 2.8-1.1 2.8 2.1 2.8 1.3 2.8 1.9 2.8-3.7 2.7 4 2.8-2.6 2.8-0.9 2.8-0.9 2.8 0.4 2.8 2.5 2.8 1.5 2.8-4.7 2.8 0 2.8-0.1 2.8 0.3 2.8 4.5 2.7-1.5 2.8-3.4 2.8 2.1 2.8-0.9 2.8 2 2.8 0.7 2.8-1.8 2.8 0.6 2.8 0.2 2.8 1.5 2.8 0.5 2.8-3.1 2.8-1 2.7 4.1 2.8-1.9 2.8-2.6 2.8 4.5 2.8-2.1 2.8 2 2.8-0.4 2.8-3 2.8 0 2.8-1.1 2.8 3.5 2.8-0.1 2.7-1 2.8 2.2 2.8 0 2.8-2 2.8 1.2 2.8-0.2 2.8 0.8 2.8-2.9 2.8 0 2.8 1.4 2.8-1.5 2.8 1.5 2.8 1.6 2.7-3.4 2.8 3.5 2.8 0 2.8-0.3 2.8-1.3 2.8-2.3 2.8 2.7 2.8 0.1 2.8 0.5 2.8 0.6 2.8 0 2.8 0 2.7-3.4 2.8 1.2 2.8 2.2 2.8 0 2.8 0 2.8-0.9 2.8 0.9 2.8-1.1 2.8 0.2 2.8 0.9 2.8 0 2.8 0 2.8-0.4 2.7 0.4 2.8-2.9 2.8 2.9 2.8-0.8 2.8 0.8 2.8-0.6 2.8 0.6 2.8-0.2 2.8 0.2 2.8-3.9 2.8 0.8 2.8 0.8 2.7 2.3 2.8-0.5 2.8 0.2 2.8 0.3 2.8 0 2.8-1.9 2.8 0.6"/>
</g>
<g>
<path stroke="#000080" stroke-width="3.6" d="M132.2 2150.9l3.5-6.9 3.5-6.3 3.5-5.6 3.5-5.6 3.5-4.8 3.5-2.2 3.5-1.1 3.5 2 3.5 5 3.5 9.5 3.4 14.7 3.5 15.5 3.5 13.1 3.5 12.5 3.5 12.6 3.5 13.1 3.5 13.9 3.5 15.2 3.5 16.2 3.4 17.3 3.5 19.6 3.5 20.6 3.5 18.3 3.5 17.1 3.5 15.9 3.5 14.1 3.5 11.8 3.5 10.6 3.5 9.5 3.5 8.4 3.4 7.2 3.5 6 3.5 5.4 3.5 4.8 3.5 4.1 3.5 3.6 3.5 3.1 3.5 2.7 3.5 2.3 3.4 1.8 3.5 1.4 3.5 1.2 3.5 0.8 3.5 0.1 3.5-0.1 3.5-0.2 3.5-0.2 3.5-0.5 3.5-1 3.5-1.2 3.4-1.5 3.5-1.9 3.5-2.8 3.5-3.4 3.5-3.7 3.5-3.8 3.5-3.6 3.5-3.8 3.5-4 3.4-4.2 3.5-4.1 3.5-4.2 3.5-3.9 3.5-3.7 3.5-3.3 3.5-3.4 3.5-3.2 3.5-3 3.5-2.6 3.5-2.2 3.4-1.8 3.5-1.7 3.5-1.3 3.5-0.5 3.5 0.2 3.5 0.6 3.5 0.7 3.5 1 3.5 1.1 3.4 1.8 3.5 2.4 3.5 2.9 3.5 3 3.5 3.2 3.5 3.8 3.5 4.1 3.5 4.3 3.5 4.5 3.5 4.3 3.5 4.2 3.4 4.4 3.5 4.4 3.5 4.2 3.5 4.3 3.5 4.3 3.5 4.3 3.5 4.1 3.5 4 3.5 3.9 3.4 3.8 3.5 3.6 3.5 3.2 3.5 2.6 3.5 2.4 3.5 2.1 3.5 2 3.5 1.9 3.5 2 3.5 2 3.5 1.9 3.4 1.6 3.5 1.3 3.5 0.7 3.5 1.3 3.5 0.8 3.5 0.6 3.5 0.6 3.5 0.7 3.5 0.9 3.4 0.3 3.5-0.1 3.5 0.1 3.5 1.2 3.5 0.5 3.5-0.2 3.5-0.6 3.5 0.1 3.5 0.6 3.5-0.7 3.5-0.6 3.4 1.7 3.5-0.4 3.5 0.5 3.5-0.1 3.5 2.5 3.5-1.7 3.5-0.1 3.5-1.1 3.5-3 3.4-2.7 3.5-0.3 3.5 4 3.5 4.1 3.5-0.3 3.5-1.1 3.5-1.9 3.5 1.3 3.5-1 3.5-0.4 3.5 1.7 3.4-1.5 3.5-0.3 3.5 0.8 3.5 0.4 3.5-1.2 3.5-0.5 3.5 2 3.5-0.2 3.5-0.7 3.5-0.8 3.4-0.7 3.5 0.5 3.5 1 3.5-0.9 3.5-0.7 3.5 0.8 3.5-0.4 3.5 1.3 3.5-0.4 3.5-0.2 3.4 0.2 3.5-1.4 3.5-0.4 3.5 2.4 3.5-0.3 3.5-1.9 3.5 1.5 3.5-0.7 3.5 2.1 3.4-3.8 3.5 2 3.5 0.5 3.5 2.3 3.5-2.4 3.5 1.2 3.5-0.9 3.5 0.3 3.5-0.6 3.5 0.7 3.5-0.1 3.4-0.3 3.5 2.9 3.5-2.5 3.5-0.3 3.5 1.6 3.5-1.6 3.5 0.6 3.5 1.3 3.5 0 3.4-0.1 3.5 0.4 3.5-0.4 3.5 0.7 3.5-1.1 3.5 2.2 3.5 0.3 3.5-1.4 3.5-3.1 3.5 2 3.5 1.1 3.4-1.5 3.5 2 3.5 0.4 3.5 1.1 3.5-0.8 3.5 1.1 3.5-1.1 3.5 0.2 3.5 0.7 3.4 0.5 3.5 0 3.5-0.3 3.5-0.9 3.5 0.8 3.5 1.2 3.5 0.2 3.5-1.1 3.5 1 3.5-0.6 3.5 0.4 3.4 0.5 3.5-4.1 3.5 4.5 3.5-1.2 3.5 1.1 3.5-0.9 3.5 2.5 3.5-2.4 3.5 0 3.4 1.6 3.5-0.8 3.5 2 3.5-1.5 3.5-0.7 3.5 1.7 3.5-1.8 3.5 0.1 3.5-0.3 3.5 0.8 3.5 3.2 3.4-1.5 3.5 0.2 3.5-3.7 3.5 0.1 3.5 2.9 3.5 0.6 3.5 1.4 3.5-2.1 3.5 1.4 3.4-3.4 3.5-1.1 3.5 2.2 3.5 0.4 3.5-1.1 3.5-4.1 3.5 3.2 3.5 1.4 3.5 3.8 3.5-6.6 3.5 3.8 3.4 1.5 3.5-1.2 3.5-0.3 3.5-0.1 3.5 0.6 3.5-1.3 3.5 0.5 3.5-2.1 3.5 4.4 3.4-5.5 3.5 4.6 3.5-0.5 3.5-2 3.5 3.9 3.5-3.6 3.5 0 3.5 2.1 3.5 1.1 3.5 1.3 3.5-6.4 3.4 4.3 3.5-0.9 3.5 1.7 3.5 0.3 3.5-3.1 3.5 4.1 3.5 0 3.5 0 3.5 0 3.4-2.6 3.5 2.5 3.5-4.9 3.5 1.6 3.5 1.7 3.5 1.1 3.5-4.4 3.5 4.4 3.5-2.1 3.5 2.7 3.5-3.8 3.4 1.1 3.5 0.4 3.5 1.2 3.5-1.2 3.5 2.3 3.5 0 3.5-2 3.5 1.4 3.5-2.1 3.4 0.4 3.5-1.5 3.5 1.4 3.5-1.3 3.5 3.3 3.5-2.9 3.5 2.6 3.5 0.7 3.5 0 3.5-1.7 3.5 1.7 3.4-2.3 3.5 1 3.5 1.3 3.5 0 3.5-3.9 3.5 2 3.5 1.9 3.5-2.8 3.5 2.8 3.5 0 3.4-1.4 3.5-1.2 3.5 2.6 3.5-0.3 3.5-2.5 3.5 2.3 3.5 0.5 3.5-0.2 3.5-3.2 3.5 3.4 3.4-0.9 3.5 0.9 3.5 0 3.5-0.6 3.5 0.2 3.5-0.6 3.5 0.1 3.5 0.8 3.5-0.4 3.4 0.2 3.5 0.3 3.5 0 3.5-0.3 3.5-0.8 3.5-1.1 3.5 2.2 3.5-2.8 3.5 2.2 3.5 0.6 3.5 0 3.4-0.2 3.5 0.2 3.5-1.7 3.5 1.7 3.5 0"/>
<path stroke="#0000ff" stroke-width="6.2" stroke-dasharray="16 6" d="M132.2 2152.1l3.5-6.8 3.5-6.1 3.5-5.5 3.5-5.5 3.5-4.6 3.5-2.2 3.5-1.1 3.5 2 3.5 4.9 3.5 9.4 3.4 14.6 3.5 15.4 3.5 12.9 3.5 12.4 3.5 12.4 3.5 13 3.5 13.8 3.5 15.1 3.5 16.1 3.4 17.3 3.5 19.6 3.5 20.5 3.5 18.4 3.5 17.1 3.5 16 3.5 14.1 3.5 11.8 3.5 10.6 3.5 9.6 3.5 8.5 3.4 7.2 3.5 6 3.5 5.5 3.5 4.7 3.5 4.2 3.5 3.5 3.5 3.1 3.5 2.8 3.5 2.3 3.4 1.7 3.5 1.4 3.5 1.2 3.5 0.8 3.5 0.1 3.5-0.1 3.5-0.2 3.5-0.3 3.5-0.5 3.5-0.9 3.5-1.3 3.4-1.5 3.5-1.9 3.5-2.8 3.5-3.4 3.5-3.7 3.5-3.8 3.5-3.6 3.5-3.7 3.5-4 3.4-4.1 3.5-4.2 3.5-4.1 3.5-3.9 3.5-3.6 3.5-3.4 3.5-3.3 3.5-3.2 3.5-2.9 3.5-2.6 3.5-2.1 3.4-1.8 3.5-1.7 3.5-1.2 3.5-0.4 3.5 0.2 3.5 0.6 3.5 0.8 3.5 0.9 3.5 1.2 3.4 1.8 3.5 2.5 3.5 2.8 3.5 3.1 3.5 3.2 3.5 3.8 3.5 4.1 3.5 4.4 3.5 4.4 3.5 4.3 3.5 4.3 3.4 4.3 3.5 4.3 3.5 4.3 3.5 4.2 3.5 4.2 3.5 4.2 3.5 4 3.5 3.9 3.5 3.8 3.4 3.7 3.5 3.5 3.5 3.2 3.5 2.5 3.5 2.3 3.5 2 3.5 2 3.5 1.8 3.5 2 3.5 2.2 3.5 1.8 3.4 1.7 3.5 1.1 3.5 0.9 3.5 1.3 3.5 0.3 3.5 1.2 3.5 0.1 3.5 1.1 3.5 0.5 3.4 0.6 3.5-0.6 3.5 1.9 3.5-0.8 3.5 0.1 3.5 0.3 3.5 0 3.5 0.7 3.5-0.1 3.5 1.2 3.5-1.4 3.4 2.5 3.5-2.1 3.5 0.8 3.5-0.2 3.5 2.2 3.5 0.4 3.5-1.7 3.5-0.6 3.5-4.1 3.4-1.7 3.5-1.3 3.5 4.9 3.5 2.8 3.5 0.1 3.5-1.5 3.5 0 3.5 0.3 3.5-0.3 3.5-0.9 3.5-1.4 3.4 0.6 3.5 1.4 3.5 0.2 3.5-1.9 3.5 0.7 3.5-0.1 3.5 0.5 3.5 0.2 3.5-0.4 3.5 2.3 3.4-2.9 3.5 0.6 3.5 1.6 3.5-0.1 3.5-0.6 3.5-0.4 3.5 1.1 3.5-1.5 3.5 0.4 3.5 1.8 3.4 0.2 3.5-2.5 3.5-0.5 3.5 1.1 3.5 0.7 3.5-1.7 3.5 2.3 3.5-1.5 3.5 0.4 3.4-0.3 3.5-0.3 3.5 2.4 3.5-1.1 3.5-1.1 3.5 0.7 3.5-0.9 3.5 1.3 3.5-1.7 3.5 0.9 3.5 0.1 3.4 1.6 3.5 0.5 3.5-0.4 3.5-0.4 3.5 1.1 3.5-0.9 3.5-1 3.5 2.2 3.5-1.1 3.4-0.4 3.5 0.2 3.5-0.3 3.5 1.1 3.5 0.2 3.5 1.5 3.5 0.8 3.5-2.2 3.5-4.6 3.5 1.2 3.5 3.8 3.4-1.9 3.5 2.3 3.5 0.2 3.5-1.1 3.5 0.2 3.5 1.1 3.5-0.6 3.5 0.9 3.5-0.6 3.4 1.3 3.5 1.3 3.5-1.3 3.5 0.1 3.5 1.1 3.5-0.3 3.5 0.1 3.5-3.2 3.5 2.6 3.5-1.1 3.5 0.4 3.4 0.7 3.5-1.3 3.5 2.2 3.5-2 3.5 0.2 3.5 1.5 3.5-2 3.5 1.3 3.5-0.2 3.4 1.4 3.5-2.5 3.5 1.1 3.5-1.3 3.5-0.6 3.5 3.9 3.5-0.4 3.5-2.8 3.5 0.8 3.5-2.3 3.5 4 3.4-3.1 3.5 1.8 3.5 3.6 3.5-3.9 3.5 3.4 3.5-3.5 3.5-0.7 3.5 0.1 3.5 3.2 3.4-1.2 3.5-1.3 3.5 1.5 3.5 0.8 3.5-1.8 3.5 3.6 3.5 0 3.5-0.3 3.5 0.3 3.5-1.8 3.5-0.3 3.4 2.1 3.5-1.1 3.5 0.1 3.5-2.1 3.5 2.8 3.5-2 3.5 1 3.5 1.3 3.5 0 3.4-4.5 3.5 2.9 3.5 0.5 3.5 1.1 3.5 0 3.5-3 3.5 1.8 3.5-1.1 3.5-5.8 3.5 5.9 3.5 1.8 3.4-4.2 3.5 4.2 3.5 0.4 3.5-0.2 3.5-0.2 3.5-0.2 3.5 0.6 3.5 0 3.5-2.3 3.4 0.7 3.5 1.6 3.5-0.2 3.5 0.2 3.5-1.6 3.5 1.2 3.5 0.4 3.5 0 3.5 0 3.5-0.8 3.5-4.1 3.4 3.6 3.5-1.4 3.5 2.4 3.5 0.3 3.5 0 3.5 0 3.5 0 3.5 0 3.5 0 3.4-1.3 3.5 1.3 3.5 0 3.5 0 3.5 0 3.5 0 3.5 0 3.5-2.1 3.5 1.2 3.5 0.9 3.5-0.6 3.4-0.2 3.5 0.8 3.5-0.9 3.5 0.9 3.5 0 3.5-0.8 3.5 0.8 3.5-0.5 3.5-0.3 3.5 0.8 3.4-1.6 3.5 0.3 3.5 1.3 3.5 0 3.5-1.9 3.5 1.9 3.5-0.6 3.5 0.6 3.5-0.6 3.5 0.3 3.4 0.3 3.5 0 3.5-0.8 3.5 0.8 3.5-0.2 3.5 0.2 3.5 0 3.5 0 3.5 0 3.4 0 3.5 0 3.5-0.1 3.5-0.2 3.5 0.3 3.5-0.2 3.5 0.2 3.5-0.7 3.5 0.6 3.5-0.7 3.5 0.8 3.4 0 3.5 0 3.5 0 3.5 0 3.5 0"/>
</g>
</g>
<g stroke="#000" stroke-width="3" fill="none" shape-rendering="crispEdges">
<path d="M132.5 1358 V2526"/>
<path d="M131 2524.5 H1617"/>
<path d="M131 2233.5 H154"/>
<path d="M131 1942.5 H154"/>
<path d="M131 1650.5 H154"/>
<path d="M219.5 2526 v-23"/>
<path d="M394.5 2526 v-23"/>
<path d="M568.5 2526 v-23"/>
<path d="M743.5 2526 v-23"/>
<path d="M917.5 2526 v-23"/>
<path d="M1092.5 2526 v-23"/>
<path d="M1266.5 2526 v-23"/>
<path d="M1441.5 2526 v-23"/>
</g>
<g font-family='"Liberation Sans", sans-serif' font-size="35" fill="#000">
<text x="119" y="2537.8" text-anchor="end">0.0</text>
<text x="119" y="2246.6" text-anchor="end">0.5</text>
<text x="119" y="1955.3" text-anchor="end">1.0</text>
<text x="119" y="1664" text-anchor="end">1.5</text>
<text x="119" y="1372.8" text-anchor="end">2.0</text>
<text x="219" y="2577.1" text-anchor="middle">250</text>
<text x="393.5" y="2577.1" text-anchor="middle">300</text>
<text x="568" y="2577.1" text-anchor="middle">350</text>
<text x="742.5" y="2577.1" text-anchor="middle">400</text>
<text x="917" y="2577.1" text-anchor="middle">450</text>
<text x="1091.5" y="2577.1" text-anchor="middle">500</text>
<text x="1266" y="2577.1" text-anchor="middle">550</text>
<text x="1440.5" y="2577.1" text-anchor="middle">600</text>
<text x="1615" y="2577.1" text-anchor="middle">650</text>
<text transform="translate(51 1942) rotate(-90)" text-anchor="middle" font-size="36" textLength="190" lengthAdjust="spacingAndGlyphs">absorbance</text>
<text x="889.5" y="2635.9" text-anchor="middle" font-size="37" textLength="86" lengthAdjust="spacingAndGlyphs">λ/nm</text>
<text x="164.5" y="1412.7" font-size="34.5">(<tspan font-weight="bold">b</tspan>)</text>
</g>
<g stroke="#000" stroke-width="3" fill="none" shape-rendering="crispEdges">
<path d="M1046.5 1402.4 V1869"/>
<path d="M1045 1867.5 H1573.5"/>
<path d="M1045 1722.5 h17"/>
<path d="M1045 1577.5 h17"/>
<path d="M1045 1431.5 h17"/>
<path d="M1196.5 1869 v-16"/>
<path d="M1346.5 1869 v-16"/>
<path d="M1496.5 1869 v-16"/>
</g>
<clipPath id="clipb"><rect x="1026.5" y="1401.9" width="560" height="484.6"/></clipPath>
<g clip-path="url(#clipb)" stroke="#000" stroke-width="3.3" fill="#c0c0c0" shape-rendering="crispEdges">
<circle cx="1046.7" cy="1399.6" r="5.95"/>
<circle cx="1061.7" cy="1438.7" r="5.95"/>
<circle cx="1076.7" cy="1506" r="5.95"/>
<circle cx="1091.7" cy="1558.8" r="5.95"/>
<circle cx="1106.7" cy="1601.1" r="5.95"/>
<circle cx="1121.7" cy="1640.2" r="5.95"/>
<circle cx="1136.7" cy="1672.4" r="5.95"/>
<circle cx="1151.7" cy="1701.4" r="5.95"/>
<circle cx="1166.7" cy="1725.2" r="5.95"/>
<circle cx="1181.7" cy="1745.5" r="5.95"/>
<circle cx="1196.7" cy="1764.4" r="5.95"/>
<circle cx="1211.7" cy="1779.5" r="5.95"/>
<circle cx="1226.7" cy="1791.6" r="5.95"/>
<circle cx="1241.7" cy="1802.4" r="5.95"/>
<circle cx="1256.7" cy="1811.4" r="5.95"/>
<circle cx="1271.7" cy="1819.2" r="5.95"/>
<circle cx="1286.7" cy="1825" r="5.95"/>
<circle cx="1301.7" cy="1830.2" r="5.95"/>
<circle cx="1316.7" cy="1835.1" r="5.95"/>
<circle cx="1331.7" cy="1839.2" r="5.95"/>
<circle cx="1346.7" cy="1839.2" r="5.95"/>
<circle cx="1361.7" cy="1843.1" r="5.95"/>
<circle cx="1376.7" cy="1846.2" r="5.95"/>
<circle cx="1391.7" cy="1849.3" r="5.95"/>
<circle cx="1406.7" cy="1850.8" r="5.95"/>
<circle cx="1421.7" cy="1852.5" r="5.95"/>
<circle cx="1436.7" cy="1855.4" r="5.95"/>
<circle cx="1451.7" cy="1857.8" r="5.95"/>
<circle cx="1466.7" cy="1859.2" r="5.95"/>
<circle cx="1481.7" cy="1860.1" r="5.95"/>
<circle cx="1496.7" cy="1860.8" r="5.95"/>
<circle cx="1511.7" cy="1861.8" r="5.95"/>
<circle cx="1526.7" cy="1862.7" r="5.95"/>
</g>
<g font-family='"Liberation Sans", sans-serif' font-size="27" fill="#000">
<text x="1033" y="1877.5" text-anchor="end">0.0</text>
<text x="1033" y="1732.3" text-anchor="end">0.5</text>
<text x="1033" y="1587.1" text-anchor="end">1.0</text>
<text x="1033" y="1441.9" text-anchor="end">1.5</text>
<text x="1045.5" y="1912.1" text-anchor="middle">0</text>
<text x="1198.5" y="1912.1" text-anchor="middle">1.0×10<tspan font-size="17" dy="-11">2</tspan></text>
<text x="1348.5" y="1912.1" text-anchor="middle">2.0×10<tspan font-size="17" dy="-11">2</tspan></text>
<text x="1498.5" y="1912.1" text-anchor="middle">3.0×10<tspan font-size="17" dy="-11">2</tspan></text>
<text x="1330.5" y="1959.5" text-anchor="middle" font-size="30" textLength="84" lengthAdjust="spacingAndGlyphs">time/s</text>
<text transform="translate(977 1645) rotate(-90)" text-anchor="middle" font-size="30" textLength="298" lengthAdjust="spacingAndGlyphs">absorbance at 400 nm</text>
</g>
<g stroke="#000" stroke-width="3.5" fill="none" stroke-linecap="round" stroke-linejoin="round" shape-rendering="crispEdges">
<path d="M719.2 142.9 L771.6 173.2 L771.6 233.7 L719.2 263.9 L666.8 233.7 L666.8 173.2 Z"/>
<path d="M719.2 155.9 L760.3 179.7"/>
<path d="M760.3 227.2 L719.2 250.9"/>
<path d="M678.1 227.2 L678.1 179.7"/>
<path d="M771.6 173.2 l41.7 -23.6"/>
<path d="M666.8 233.7 l-39.5 22.4"/>
</g>
<rect x="618" y="247.6" width="12.4" height="12.4" fill="#fff" stroke="#000" stroke-width="1" shape-rendering="crispEdges"/>
<path d="M619.8 253.5 h9.8" stroke="#000" stroke-width="2" shape-rendering="crispEdges"/>
<path d="M627 256.6 l4.5 -2.6" stroke="#000" stroke-width="2.9" stroke-linecap="round" shape-rendering="crispEdges"/>
<g font-family='"Liberation Sans", sans-serif' fill="#000">
<text x="614.9" y="272.8" text-anchor="middle" font-size="21" font-weight="bold">O</text>
<text x="817.2" y="152" font-size="19.8" font-weight="bold">NO<tspan font-size="13.3" dy="4.6">2</tspan></text>
</g>
<path d="M732.5 287.2 L733.6 341.5" stroke="#000" stroke-width="3.4" fill="none" shape-rendering="crispEdges"/>
<path d="M733.8 351.5 L727.1 340.6 L740.1 340.4 Z" fill="#000" shape-rendering="crispEdges"/>
<g stroke="#000" stroke-width="3.5" fill="none" stroke-linecap="round" stroke-linejoin="round" shape-rendering="crispEdges">
<path d="M354.4 830.5 L406.8 860.8 L406.8 921.2 L354.4 951.5 L302 921.2 L302 860.8 Z"/>
<path d="M354.4 843.5 L395.5 867.2"/>
<path d="M395.5 914.8 L354.4 938.5"/>
<path d="M313.3 914.8 L313.3 867.2"/>
<path d="M406.8 860.8 l41.7 -23.6"/>
<path d="M302 921.2 l-39.5 22.4"/>
</g>
<rect x="253.2" y="935.2" width="12.4" height="12.4" fill="#fff" stroke="#000" stroke-width="1" shape-rendering="crispEdges"/>
<path d="M255 941.1 h9.8" stroke="#000" stroke-width="2" shape-rendering="crispEdges"/>
<path d="M262.2 944.2 l4.5 -2.6" stroke="#000" stroke-width="2.9" stroke-linecap="round" shape-rendering="crispEdges"/>
<g font-family='"Liberation Sans", sans-serif' fill="#000">
<text x="250.1" y="960.4" text-anchor="middle" font-size="21" font-weight="bold">O</text>
<text x="452.4" y="839.5" font-size="19.8" font-weight="bold">NH<tspan font-size="13.3" dy="4.6">2</tspan></text>
</g>
<path d="M368 977.5 L384.3 1062.6" stroke="#000" stroke-width="3.4" fill="none" shape-rendering="crispEdges"/>
<path d="M386.2 1072.4 L377.7 1062.8 L390.5 1060.4 Z" fill="#000" shape-rendering="crispEdges"/>
<g stroke="#000" stroke-width="3.5" fill="none" stroke-linecap="round" stroke-linejoin="round" shape-rendering="crispEdges">
<path d="M730 1364.5 L782.4 1394.8 L782.4 1455.2 L730 1485.5 L677.6 1455.2 L677.6 1394.8 Z"/>
<path d="M730 1377.5 L771.1 1401.2"/>
<path d="M771.1 1448.8 L730 1472.5"/>
<path d="M688.9 1448.8 L688.9 1401.2"/>
<path d="M782.4 1394.8 l41.7 -23.6"/>
<path d="M677.6 1455.2 l-39.5 22.4"/>
</g>
<rect x="628.8" y="1469.2" width="12.4" height="12.4" fill="#fff" stroke="#000" stroke-width="1" shape-rendering="crispEdges"/>
<path d="M630.6 1475.1 h9.8" stroke="#000" stroke-width="2" shape-rendering="crispEdges"/>
<path d="M637.8 1478.2 l4.5 -2.6" stroke="#000" stroke-width="2.9" stroke-linecap="round" shape-rendering="crispEdges"/>
<g font-family='"Liberation Sans", sans-serif' fill="#000">
<text x="625.7" y="1494.4" text-anchor="middle" font-size="21" font-weight="bold">O</text>
<text x="828" y="1373.5" font-size="19.8" font-weight="bold">NO<tspan font-size="13.3" dy="4.6">2</tspan></text>
</g>
<path d="M735.9 1496.7 L737.9 1549.2" stroke="#000" stroke-width="3.4" fill="none" shape-rendering="crispEdges"/>
<path d="M738.3 1559.2 L731.4 1548.5 L744.4 1548 Z" fill="#000" shape-rendering="crispEdges"/>
<g stroke="#000" stroke-width="3.5" fill="none" stroke-linecap="round" stroke-linejoin="round" shape-rendering="crispEdges">
<path d="M255.5 1887.5 L307.9 1917.8 L307.9 1978.2 L255.5 2008.5 L203.1 1978.2 L203.1 1917.8 Z"/>
<path d="M255.5 1900.5 L296.6 1924.2"/>
<path d="M296.6 1971.8 L255.5 1995.5"/>
<path d="M214.4 1971.8 L214.4 1924.2"/>
<path d="M307.9 1917.8 l41.7 -23.6"/>
<path d="M203.1 1978.2 l-39.5 22.4"/>
</g>
<rect x="154.3" y="1992.2" width="12.4" height="12.4" fill="#fff" stroke="#000" stroke-width="1" shape-rendering="crispEdges"/>
<path d="M156.1 1998.1 h9.8" stroke="#000" stroke-width="2" shape-rendering="crispEdges"/>
<path d="M163.3 2001.2 l4.5 -2.6" stroke="#000" stroke-width="2.9" stroke-linecap="round" shape-rendering="crispEdges"/>
<g font-family='"Liberation Sans", sans-serif' fill="#000">
<text x="151.2" y="2017.4" text-anchor="middle" font-size="21" font-weight="bold">O</text>
<text x="353.5" y="1896.5" font-size="19.8" font-weight="bold">NH<tspan font-size="13.3" dy="4.6">2</tspan></text>
</g>
<path d="M258 2016.4 L382.2 2382.5" stroke="#000" stroke-width="3.4" fill="none" shape-rendering="crispEdges"/>
<path d="M385.4 2392 L375.7 2383.7 L388 2379.5 Z" fill="#000" shape-rendering="crispEdges"/>
<g stroke="#000" stroke-width="3.5" fill="none" stroke-linecap="round" stroke-linejoin="round" shape-rendering="crispEdges">
<path d="M441.6 2060.9 L494 2091.2 L494 2151.7 L441.6 2181.9 L389.2 2151.7 L389.2 2091.2 Z"/>
<path d="M441.6 2073.9 L482.7 2097.7"/>
<path d="M482.7 2145.2 L441.6 2168.9"/>
<path d="M400.5 2145.2 L400.5 2097.7"/>
<path d="M494 2091.2 l41.7 -23.6"/>
<path d="M389.2 2151.7 l-39.5 22.4"/>
</g>
<rect x="340.4" y="2165.6" width="12.4" height="12.4" fill="#fff" stroke="#000" stroke-width="1" shape-rendering="crispEdges"/>
<path d="M342.2 2171.5 h9.8" stroke="#000" stroke-width="2" shape-rendering="crispEdges"/>
<path d="M349.4 2174.6 l4.5 -2.6" stroke="#000" stroke-width="2.9" stroke-linecap="round" shape-rendering="crispEdges"/>
<g font-family='"Liberation Sans", sans-serif' fill="#000">
<text x="337.3" y="2190.8" text-anchor="middle" font-size="21" font-weight="bold">O</text>
<text x="539.6" y="2070" font-size="19.8" font-weight="normal" stroke="#000" stroke-width="0.55">NO</text>
</g>
<path d="M439.6 2196.4 L421.5 2301" stroke="#000" stroke-width="3.4" fill="none" shape-rendering="crispEdges"/>
<path d="M419.8 2310.9 L415.3 2299 L428.1 2301.2 Z" fill="#000" shape-rendering="crispEdges"/>
</svg></body></html>
